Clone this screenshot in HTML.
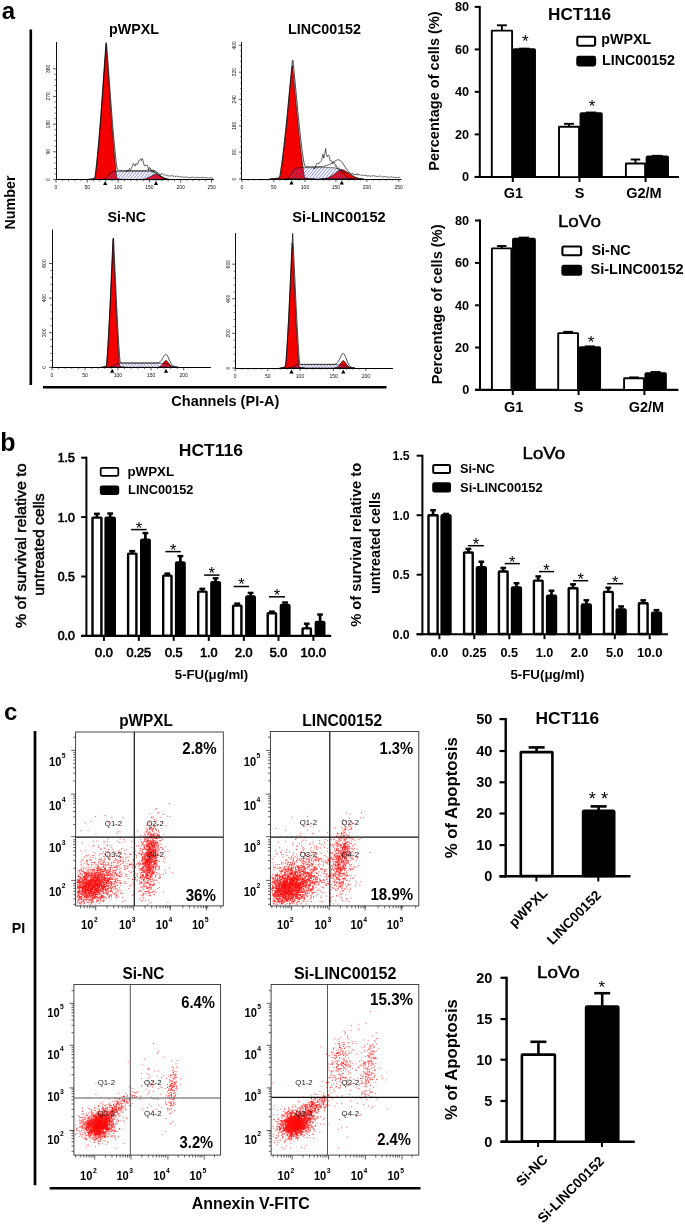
<!DOCTYPE html>
<html lang="en"><head><meta charset="utf-8"><title>Figure</title>
<style>html,body{margin:0;padding:0;background:#fff}svg{display:block}svg{font-family:"Liberation Sans",Arial,Helvetica,sans-serif;font-weight:bold;fill:#000}</style>
</head><body>
<svg width="685" height="1224" viewBox="0 0 685 1224">
<rect width="685" height="1224" fill="#fff"/>
<defs><pattern id="hatch" width="2.4" height="2.4" patternUnits="userSpaceOnUse" patternTransform="rotate(-50)"><line x1="0" y1="1.2" x2="2.4" y2="1.2" stroke="#5a5ae0" stroke-width="0.55"/></pattern><pattern id="hatch2" width="2.4" height="2.4" patternUnits="userSpaceOnUse" patternTransform="rotate(50)"><line x1="0" y1="1.2" x2="2.4" y2="1.2" stroke="#5a5ae0" stroke-width="0.55"/></pattern></defs>
<g id="panel-a">
<text x="1.7" y="18.5" font-size="24">a</text>
<line x1="30.8" y1="29.5" x2="30.8" y2="385" stroke="#000" stroke-width="2.6"/>
<line x1="43" y1="387.3" x2="386.5" y2="387.3" stroke="#000" stroke-width="2.4"/>
<text x="15.2" y="202.5" font-size="14.5" text-anchor="middle" transform="rotate(-90 15.2 202.5)" textLength="54" lengthAdjust="spacingAndGlyphs">Number</text>
<text x="134" y="33.6" font-size="14.4" text-anchor="middle" textLength="50" lengthAdjust="spacingAndGlyphs">pWPXL</text>
<text x="324.5" y="33.6" font-size="14.4" text-anchor="middle" textLength="73" lengthAdjust="spacingAndGlyphs">LINC00152</text>
<text x="126.8" y="221.9" font-size="14.4" text-anchor="middle" textLength="38.5" lengthAdjust="spacingAndGlyphs">Si-NC</text>
<text x="339" y="221.6" font-size="14.4" text-anchor="middle" textLength="93.3" lengthAdjust="spacingAndGlyphs">Si-LINC00152</text>
<text x="225.3" y="406" font-size="14.5" text-anchor="middle" textLength="108" lengthAdjust="spacingAndGlyphs">Channels (PI-A)</text>
<g>
<polygon points="85.5,179.6 85.5,179.5 86,179.5 86.5,179.5 87,179.5 87.5,179.5 88,179.4 88.5,179.4 89,179.4 89.5,179.3 90,179.3 90.5,179.2 91,179.1 91.5,179.1 92,179 92.5,178.9 93,178.7 93.5,178.6 94,178.5 94.5,178.3 95,178.1 95.5,175.4 96,171.2 96.5,166.6 97,161.6 97.5,156.4 98,150.9 98.5,145.2 99,139.3 99.5,133.2 100,126.8 100.5,120.2 101,113.4 101.5,106.4 102,99.3 102.5,92 103,84.7 103.5,77.3 104,70 104.5,62.8 105,55.8 105.5,49 106,42.5 106.5,49 107,55.8 107.5,62.8 108,70 108.5,77.3 109,84.7 109.5,92 110,99.3 110.5,106.4 111,113.4 111.5,120.2 112,126.8 112.5,133.2 113,139.3 113.5,145.2 114,150.9 114.5,156.4 115,161.6 115.5,166.6 116,171.2 116.5,175.4 117,178.1 117.5,178.3 118,178.5 118.5,178.6 119,178.7 119.5,178.9 120,179 120.5,179.1 121,179.1 121.5,179.2 122,179.3 122.5,179.3 123,179.4 123.5,179.4 124,179.4 124.5,179.5 125,179.5 125.5,179.5 126,179.5 126.5,179.5 126.5,179.6" fill="#f40000" stroke="#000" stroke-width="0.6"/>
<polygon points="140.5,179.6 140.5,179.5 141,179.5 141.5,179.5 142,179.5 142.5,179.4 143,179.4 143.5,179.3 144,179.2 144.5,179 145,178.9 145.5,178.8 146,178.6 146.5,178.4 147,178.2 147.5,178 148,177.8 148.5,177.5 149,177.3 149.5,177 150,176.8 150.5,176.5 151,176.2 151.5,175.9 152,175.7 152.5,175.4 153,175.2 153.5,174.9 154,174.7 154.5,174.6 155,174.4 155.5,174.3 156,174.2 156.5,174.3 157,174.4 157.5,174.6 158,174.7 158.5,174.9 159,175.2 159.5,175.4 160,175.7 160.5,175.9 161,176.2 161.5,176.5 162,176.8 162.5,177 163,177.3 163.5,177.5 164,177.8 164.5,178 165,178.2 165.5,178.4 166,178.6 166.5,178.8 167,178.9 167.5,179 168,179.2 168.5,179.3 169,179.4 169.5,179.4 170,179.5 170.5,179.5 171,179.5 171.5,179.5 171.5,179.6" fill="#f40000" stroke="#000" stroke-width="0.7"/>
<polygon points="102,179.6 102,179.5 102.5,179.4 103,179.3 103.5,179.3 104,179.1 104.5,179 105,178.8 105.5,178.5 106,178.2 106.5,177.8 107,177.3 107.5,176.7 108,176.1 108.5,175.5 109,174.8 109.5,174.2 110,173.6 110.5,173.1 111,172.7 111.5,172.4 112,172.1 112.5,171.9 113,171.8 113.5,171.6 114,171.6 114.5,171.5 115,171.4 115.5,171.4 116,171.4 116.5,171.4 117,171.3 117.5,171.3 118,171.3 118.5,171.3 119,171.3 119.5,171.3 120,171.3 120.5,171.3 121,171.3 121.5,171.3 122,171.3 122.5,171.3 123,171.3 123.5,171.3 124,171.3 124.5,171.3 125,171.3 125.5,171.3 126,171.3 126.5,171.3 127,171.3 127.5,171.3 128,171.3 128.5,171.3 129,171.3 129.5,171.3 130,171.3 130.5,171.3 131,171.3 131.5,171.3 132,171.3 132.5,171.3 133,171.3 133.5,171.3 134,171.3 134.5,171.3 135,171.3 135.5,171.3 136,171.3 136.5,171.3 137,171.3 137.5,171.3 138,171.3 138.5,171.3 139,171.3 139.5,171.3 140,171.3 140.5,171.3 141,171.3 141.5,171.3 142,171.3 142.5,171.3 143,171.3 143.5,171.3 144,171.3 144.5,171.3 145,171.3 145.5,171.3 146,171.3 146.5,171.3 147,171.4 147.5,171.4 148,171.4 148.5,171.4 149,171.4 149.5,171.5 150,171.5 150.5,171.5 151,171.6 151.5,171.6 152,171.7 152.5,171.8 153,171.9 153.5,172.1 154,172.2 154.5,172.4 155,172.6 155.5,172.9 156,173.1 156.5,173.5 157,173.8 157.5,174.2 158,174.6 158.5,175 159,175.5 159.5,175.9 160,176.3 160.5,176.7 161,177.1 161.5,177.4 162,177.8 162.5,178 163,178.3 163.5,178.5 164,178.7 164.5,178.8 165,179 165.5,179.1 166,179.2 166.5,179.3 167,179.3 167.5,179.4 168,179.4 168.5,179.4 169,179.5 169,179.6" fill="url(#hatch)" stroke="#000" stroke-width="0.6"/>
<polyline points="87,179.4 87.5,179.4 88,179.3 88.5,179.3 89,179.3 89.5,179.2 90,179.1 90.5,179.1 91,179 91.5,178.9 92,178.8 92.5,178.7 93,178.5 93.5,178.4 94,178.2 94.5,178.1 95,176.4 95.5,172.7 96,168.6 96.5,164.1 97,159.3 97.5,154.3 98,149.2 98.5,143.8 99,138.2 99.5,132.5 100,126.5 100.5,120.4 101,114 101.5,107.5 102,100.9 102.5,94.1 103,87.3 103.5,80.4 104,73.6 104.5,66.8 105,60.1 105.5,53.6 106,47.4 106.5,43.7 107,49.8 107.5,56.2 108,62.8 108.5,69.5 109,76.3 109.5,83.2 110,90 110.5,96.8 111,103.6 111.5,110.1 112,116.6 112.5,122.8 113,128.8 113.5,134.7 114,140.3 114.5,145.8 115,151 115.5,155.9 116,160.6 116.5,164.7 117,168.1 117.5,170.1 118,170.6 118.5,170.6 119,170.6 119.5,170.6 120,170.6 120.5,170.6 121,170.6 121.5,170.6 122,170.6 122.5,170.6 123,170.6 123.5,170.6 124,170.6 124.5,170.6 125,170.6 125.5,170.6 126,170.6 126.5,170.6 127,170.6 127.5,170.6 128,170.6 128.5,170.6 129,170.6 129.5,170.6 130,170.6 130.5,170.6 131,170.6 131.5,170.6 132,170.6 132.5,170.6 133,170.6 133.5,170.6 134,170.6 134.5,170.6 135,170.6 135.5,170.6 136,170.6 136.5,170.6 137,170.6 137.5,170.6 138,170.6 138.5,170.6 139,170.6 139.5,170.6 140,170.6 140.5,170.6 141,170.6 141.5,170.6 142,170.6 142.5,170.6 143,170.6 143.5,170.6 144,170.5 144.5,170.5 145,170.5 145.5,170.5 146,170.4 146.5,170.4 147,170.4 147.5,170.4 148,170.3 148.5,170.3 149,170.3 149.5,170.2 150,170.2 150.5,170.2 151,170.2 151.5,170.2 152,170.3 152.5,170.3 153,170.4 153.5,170.5 154,170.6 154.5,170.8 155,171 155.5,171.3 156,171.6 156.5,171.9 157,172.3 157.5,172.7 158,173.2 158.5,173.7 159,174.2 159.5,174.7 160,175.2 160.5,175.7 161,176.2 161.5,176.6 162,177 162.5,177.3 163,177.7 163.5,178 164,178.2 164.5,178.4 165,178.6 165.5,178.8 166,178.9 166.5,179 167,179.1 167.5,179.2 168,179.3 168.5,179.3 169,179.4 169.5,179.4" fill="none" stroke="#000" stroke-width="0.7"/>
<polyline points="126,172.3 126.9,170.4 127.8,170.5 128.7,170.7 129.6,168.4 130.5,169.8 131.4,168.7 132.3,166.1 133.2,163.4 134.1,164.2 135,166.2 135.9,163.5 136.8,164.4 137.7,164.4 138.6,161 139.5,159.9 140.4,159.2 141.3,160.7 142.2,158.4 143.1,160.8 144,165 144.9,166.2 145.8,164.7 146.7,165.4 147.6,165.5 148.5,170.2 149.4,167.5 150.3,168 151.2,171.2 152.1,170 153,172.3 153.9,170.2 154.8,173 155.7,173.5 156.6,172.2 157.5,172.9 158.4,173.7 159.3,174.1 160.2,174.5 161.1,174.7 162,173.3 162.9,174.5 163.8,175.2 164.7,174.3 165.6,175.2 166.5,175.7 167.4,175.1 168.3,176 169.2,176 170.1,176 171,176 171.9,175.5 172.8,175.8 173.7,176.7 174.6,175.7 175.5,176.8 176.4,175.9 177.3,176.5 178.2,176.2 179.1,177 180,176.8 180.9,176.9 181.8,176.8 182.7,177 183.6,177.1 184.5,177.5 185.4,176.8 186.3,177.2 187.2,177.1 188.1,177.7 189,177.6 189.9,177.6 190.8,177.6 191.7,177.2 192.6,177.1 193.5,177.3 194.4,178.1 195.3,177.5 196.2,177.2 197.1,177.8 198,177.5 198.9,177.4 199.8,177.9 200.7,177.4 201.6,177.5 202.5,177.4 203.4,177.8 204.3,177.4 205.2,177.7 206.1,177.7 207,178 207.9,177.9 208.8,178.1 209.7,177.6 210.6,178 211.5,177.9 212.4,177.9 213.3,178.1" fill="none" stroke="#000" stroke-width="0.6"/>
<line x1="56.5" y1="42" x2="56.5" y2="180" stroke="#111" stroke-width="1"/>
<line x1="56" y1="179.5" x2="214" y2="179.5" stroke="#000" stroke-width="1"/>
<line x1="56" y1="179.6" x2="56" y2="182.6" stroke="#111" stroke-width="0.7"/>
<text x="56" y="189.2" font-size="5" text-anchor="middle" font-weight="normal" fill="#111">0</text>
<line x1="87.3" y1="179.6" x2="87.3" y2="182.6" stroke="#111" stroke-width="0.7"/>
<text x="87.3" y="189.2" font-size="5" text-anchor="middle" font-weight="normal" fill="#111">50</text>
<line x1="118.2" y1="179.6" x2="118.2" y2="182.6" stroke="#111" stroke-width="0.7"/>
<text x="118.2" y="189.2" font-size="5" text-anchor="middle" font-weight="normal" fill="#111">100</text>
<line x1="149.4" y1="179.6" x2="149.4" y2="182.6" stroke="#111" stroke-width="0.7"/>
<text x="149.4" y="189.2" font-size="5" text-anchor="middle" font-weight="normal" fill="#111">150</text>
<line x1="180.7" y1="179.6" x2="180.7" y2="182.6" stroke="#111" stroke-width="0.7"/>
<text x="180.7" y="189.2" font-size="5" text-anchor="middle" font-weight="normal" fill="#111">200</text>
<line x1="211.6" y1="179.6" x2="211.6" y2="182.6" stroke="#111" stroke-width="0.7"/>
<text x="211.6" y="189.2" font-size="5" text-anchor="middle" font-weight="normal" fill="#111">250</text>
<line x1="62.3" y1="179.6" x2="62.3" y2="181.3" stroke="#222" stroke-width="0.6"/>
<line x1="68.5" y1="179.6" x2="68.5" y2="181.3" stroke="#222" stroke-width="0.6"/>
<line x1="74.8" y1="179.6" x2="74.8" y2="181.3" stroke="#222" stroke-width="0.6"/>
<line x1="81" y1="179.6" x2="81" y2="181.3" stroke="#222" stroke-width="0.6"/>
<line x1="93.5" y1="179.6" x2="93.5" y2="181.3" stroke="#222" stroke-width="0.6"/>
<line x1="99.7" y1="179.6" x2="99.7" y2="181.3" stroke="#222" stroke-width="0.6"/>
<line x1="105.8" y1="179.6" x2="105.8" y2="181.3" stroke="#222" stroke-width="0.6"/>
<line x1="112" y1="179.6" x2="112" y2="181.3" stroke="#222" stroke-width="0.6"/>
<line x1="124.4" y1="179.6" x2="124.4" y2="181.3" stroke="#222" stroke-width="0.6"/>
<line x1="130.7" y1="179.6" x2="130.7" y2="181.3" stroke="#222" stroke-width="0.6"/>
<line x1="136.9" y1="179.6" x2="136.9" y2="181.3" stroke="#222" stroke-width="0.6"/>
<line x1="143.2" y1="179.6" x2="143.2" y2="181.3" stroke="#222" stroke-width="0.6"/>
<line x1="155.7" y1="179.6" x2="155.7" y2="181.3" stroke="#222" stroke-width="0.6"/>
<line x1="161.9" y1="179.6" x2="161.9" y2="181.3" stroke="#222" stroke-width="0.6"/>
<line x1="168.2" y1="179.6" x2="168.2" y2="181.3" stroke="#222" stroke-width="0.6"/>
<line x1="174.4" y1="179.6" x2="174.4" y2="181.3" stroke="#222" stroke-width="0.6"/>
<line x1="186.9" y1="179.6" x2="186.9" y2="181.3" stroke="#222" stroke-width="0.6"/>
<line x1="193.1" y1="179.6" x2="193.1" y2="181.3" stroke="#222" stroke-width="0.6"/>
<line x1="199.2" y1="179.6" x2="199.2" y2="181.3" stroke="#222" stroke-width="0.6"/>
<line x1="205.4" y1="179.6" x2="205.4" y2="181.3" stroke="#222" stroke-width="0.6"/>
<line x1="53" y1="179.6" x2="56" y2="179.6" stroke="#111" stroke-width="0.7"/>
<text x="50.4" y="179.6" font-size="5" text-anchor="middle" transform="rotate(-90 50.4 179.6)" font-weight="normal" fill="#111">0</text>
<line x1="53" y1="151.8" x2="56" y2="151.8" stroke="#111" stroke-width="0.7"/>
<text x="50.4" y="151.8" font-size="5" text-anchor="middle" transform="rotate(-90 50.4 151.8)" font-weight="normal" fill="#111">90</text>
<line x1="53" y1="124.2" x2="56" y2="124.2" stroke="#111" stroke-width="0.7"/>
<text x="50.4" y="124.2" font-size="5" text-anchor="middle" transform="rotate(-90 50.4 124.2)" font-weight="normal" fill="#111">180</text>
<line x1="53" y1="96.4" x2="56" y2="96.4" stroke="#111" stroke-width="0.7"/>
<text x="50.4" y="96.4" font-size="5" text-anchor="middle" transform="rotate(-90 50.4 96.4)" font-weight="normal" fill="#111">270</text>
<line x1="53" y1="68.8" x2="56" y2="68.8" stroke="#111" stroke-width="0.7"/>
<text x="50.4" y="68.8" font-size="5" text-anchor="middle" transform="rotate(-90 50.4 68.8)" font-weight="normal" fill="#111">360</text>
<line x1="54.3" y1="174" x2="56" y2="174" stroke="#222" stroke-width="0.6"/>
<line x1="54.3" y1="168.5" x2="56" y2="168.5" stroke="#222" stroke-width="0.6"/>
<line x1="54.3" y1="162.9" x2="56" y2="162.9" stroke="#222" stroke-width="0.6"/>
<line x1="54.3" y1="157.4" x2="56" y2="157.4" stroke="#222" stroke-width="0.6"/>
<line x1="54.3" y1="146.3" x2="56" y2="146.3" stroke="#222" stroke-width="0.6"/>
<line x1="54.3" y1="140.8" x2="56" y2="140.8" stroke="#222" stroke-width="0.6"/>
<line x1="54.3" y1="135.2" x2="56" y2="135.2" stroke="#222" stroke-width="0.6"/>
<line x1="54.3" y1="129.7" x2="56" y2="129.7" stroke="#222" stroke-width="0.6"/>
<line x1="54.3" y1="118.6" x2="56" y2="118.6" stroke="#222" stroke-width="0.6"/>
<line x1="54.3" y1="113.1" x2="56" y2="113.1" stroke="#222" stroke-width="0.6"/>
<line x1="54.3" y1="107.5" x2="56" y2="107.5" stroke="#222" stroke-width="0.6"/>
<line x1="54.3" y1="102" x2="56" y2="102" stroke="#222" stroke-width="0.6"/>
<line x1="54.3" y1="90.9" x2="56" y2="90.9" stroke="#222" stroke-width="0.6"/>
<line x1="54.3" y1="85.4" x2="56" y2="85.4" stroke="#222" stroke-width="0.6"/>
<line x1="54.3" y1="79.8" x2="56" y2="79.8" stroke="#222" stroke-width="0.6"/>
<line x1="54.3" y1="74.3" x2="56" y2="74.3" stroke="#222" stroke-width="0.6"/>
<polygon points="105.2,181 103.1,185 107.3,185" fill="#000"/>
<polygon points="156,181 153.9,185 158.1,185" fill="#000"/>
</g>
<g>
<polygon points="269.4,179 269.4,178.9 269.9,178.9 270.4,178.9 270.9,178.9 271.4,178.9 271.9,178.9 272.4,178.8 272.9,178.8 273.4,178.8 273.9,178.7 274.4,178.7 274.9,178.6 275.4,178.6 275.9,178.5 276.4,178.5 276.9,178.4 277.4,178.3 277.9,178.2 278.4,178.1 278.9,178 279.4,177.9 279.9,177.7 280.4,175.2 280.9,172.1 281.4,168.8 281.9,165.2 282.4,161.4 282.9,157.5 283.4,153.4 283.9,149.2 284.4,144.8 284.9,140.3 285.4,135.6 285.9,130.8 286.4,125.9 286.9,120.8 287.4,115.6 287.9,110.3 288.4,105 288.9,99.6 289.4,94.2 289.9,88.8 290.4,83.5 290.9,78.3 291.4,73.2 291.9,68.3 292.4,65.4 292.9,70.3 293.4,75.2 293.9,80.4 294.4,85.6 294.9,91 295.4,96.4 295.9,101.8 296.4,107.1 296.9,112.5 297.4,117.7 297.9,122.8 298.4,127.9 298.9,132.7 299.4,137.5 299.9,142.1 300.4,146.6 300.9,150.9 301.4,155 301.9,159.1 302.4,162.9 302.9,166.6 303.4,170.1 303.9,173.4 304.4,176.3 304.9,177.8 305.4,177.9 305.9,178 306.4,178.1 306.9,178.2 307.4,178.3 307.9,178.4 308.4,178.5 308.9,178.6 309.4,178.6 309.9,178.7 310.4,178.7 310.9,178.8 311.4,178.8 311.9,178.8 312.4,178.8 312.9,178.9 313.4,178.9 313.9,178.9 314.4,178.9 314.9,178.9 315.4,178.9 315.4,179" fill="#f40000" stroke="#000" stroke-width="0.6"/>
<polygon points="320.4,179 320.4,178.9 320.9,178.9 321.4,178.9 321.9,178.9 322.4,178.9 322.9,178.8 323.4,178.8 323.9,178.7 324.4,178.7 324.9,178.6 325.4,178.5 325.9,178.3 326.4,178.2 326.9,178 327.4,177.9 327.9,177.7 328.4,177.5 328.9,177.2 329.4,177 329.9,176.7 330.4,176.5 330.9,176.2 331.4,175.9 331.9,175.5 332.4,175.2 332.9,174.9 333.4,174.5 333.9,174.1 334.4,173.8 334.9,173.4 335.4,173 335.9,172.7 336.4,172.3 336.9,171.9 337.4,171.6 337.9,171.3 338.4,171 338.9,170.7 339.4,170.4 339.9,170.2 340.4,170 340.9,169.8 341.4,169.7 341.9,169.6 342.4,169.7 342.9,169.9 343.4,170.1 343.9,170.3 344.4,170.5 344.9,170.8 345.4,171.1 345.9,171.4 346.4,171.7 346.9,172.1 347.4,172.4 347.9,172.8 348.4,173.2 348.9,173.6 349.4,173.9 349.9,174.3 350.4,174.7 350.9,175 351.4,175.3 351.9,175.7 352.4,176 352.9,176.3 353.4,176.6 353.9,176.8 354.4,177.1 354.9,177.3 355.4,177.5 355.9,177.7 356.4,177.9 356.9,178.1 357.4,178.3 357.9,178.4 358.4,178.5 358.9,178.6 359.4,178.7 359.9,178.8 360.4,178.8 360.9,178.8 361.4,178.9 361.9,178.9 362.4,178.9 362.9,178.9 363.4,178.9 363.4,179" fill="#f40000" stroke="#000" stroke-width="0.7"/>
<polygon points="284.4,179 284.4,178.9 284.9,178.8 285.4,178.8 285.9,178.7 286.4,178.5 286.9,178.4 287.4,178.2 287.9,177.9 288.4,177.6 288.9,177.1 289.4,176.6 289.9,175.9 290.4,175.2 290.9,174.4 291.4,173.5 291.9,172.6 292.4,171.7 292.9,171 293.4,170.3 293.9,169.7 294.4,169.2 294.9,168.8 295.4,168.5 295.9,168.3 296.4,168.1 296.9,168 297.4,167.9 297.9,167.8 298.4,167.8 298.9,167.7 299.4,167.7 299.9,167.7 300.4,167.6 300.9,167.6 301.4,167.6 301.9,167.6 302.4,167.6 302.9,167.6 303.4,167.6 303.9,167.6 304.4,167.6 304.9,167.6 305.4,167.6 305.9,167.6 306.4,167.6 306.9,167.6 307.4,167.6 307.9,167.6 308.4,167.6 308.9,167.6 309.4,167.6 309.9,167.6 310.4,167.6 310.9,167.6 311.4,167.6 311.9,167.6 312.4,167.6 312.9,167.6 313.4,167.6 313.9,167.6 314.4,167.6 314.9,167.6 315.4,167.6 315.9,167.6 316.4,167.6 316.9,167.6 317.4,167.6 317.9,167.6 318.4,167.6 318.9,167.6 319.4,167.6 319.9,167.6 320.4,167.6 320.9,167.6 321.4,167.6 321.9,167.6 322.4,167.6 322.9,167.6 323.4,167.6 323.9,167.6 324.4,167.6 324.9,167.6 325.4,167.6 325.9,167.6 326.4,167.6 326.9,167.6 327.4,167.6 327.9,167.6 328.4,167.6 328.9,167.6 329.4,167.6 329.9,167.6 330.4,167.7 330.9,167.7 331.4,167.7 331.9,167.7 332.4,167.7 332.9,167.8 333.4,167.8 333.9,167.9 334.4,167.9 334.9,168 335.4,168.1 335.9,168.2 336.4,168.3 336.9,168.4 337.4,168.6 337.9,168.8 338.4,169.1 338.9,169.3 339.4,169.7 339.9,170.1 340.4,170.5 340.9,171 341.4,171.5 341.9,172 342.4,172.6 342.9,173.2 343.4,173.8 343.9,174.4 344.4,174.9 344.9,175.4 345.4,175.9 345.9,176.4 346.4,176.8 346.9,177.1 347.4,177.4 347.9,177.7 348.4,177.9 348.9,178.1 349.4,178.3 349.9,178.4 350.4,178.5 350.9,178.6 351.4,178.7 351.9,178.7 352.4,178.8 352.9,178.8 353.4,178.9 353.9,178.9 353.9,179" fill="url(#hatch)" stroke="#000" stroke-width="0.6"/>
<polyline points="270.9,178.8 271.4,178.8 271.9,178.8 272.4,178.7 272.9,178.7 273.4,178.6 273.9,178.6 274.4,178.5 274.9,178.5 275.4,178.4 275.9,178.3 276.4,178.3 276.9,178.2 277.4,178.1 277.9,178 278.4,177.8 278.9,177.7 279.4,177.6 279.9,175.3 280.4,172.3 280.9,169.1 281.4,165.6 281.9,161.9 282.4,158.1 282.9,154.2 283.4,150.1 283.9,145.9 284.4,141.5 284.9,137 285.4,132.4 285.9,127.7 286.4,122.8 286.9,117.8 287.4,112.7 287.9,107.5 288.4,102.3 288.9,96.9 289.4,91.6 289.9,86.3 290.4,81 290.9,75.9 291.4,70.8 291.9,65.8 292.4,61 292.9,60.1 293.4,64.8 293.9,69.7 294.4,74.8 294.9,80 295.4,85.2 295.9,90.5 296.4,95.8 296.9,101.1 297.4,106.4 297.9,111.5 298.4,116.6 298.9,121.6 299.4,126.5 299.9,131.2 300.4,135.8 300.9,140.2 301.4,144.5 301.9,148.6 302.4,152.4 302.9,156.1 303.4,159.4 303.9,162.3 304.4,164.5 304.9,165.9 305.4,166.5 305.9,166.7 306.4,166.7 306.9,166.7 307.4,166.7 307.9,166.7 308.4,166.7 308.9,166.7 309.4,166.7 309.9,166.7 310.4,166.7 310.9,166.7 311.4,166.7 311.9,166.7 312.4,166.7 312.9,166.7 313.4,166.7 313.9,166.7 314.4,166.7 314.9,166.7 315.4,166.7 315.9,166.7 316.4,166.7 316.9,166.7 317.4,166.7 317.9,166.6 318.4,166.6 318.9,166.6 319.4,166.6 319.9,166.6 320.4,166.6 320.9,166.5 321.4,166.5 321.9,166.4 322.4,166.4 322.9,166.3 323.4,166.3 323.9,166.2 324.4,166.1 324.9,166 325.4,165.9 325.9,165.8 326.4,165.7 326.9,165.5 327.4,165.3 327.9,165.1 328.4,164.9 328.9,164.7 329.4,164.5 329.9,164.2 330.4,163.9 330.9,163.6 331.4,163.3 331.9,163 332.4,162.7 332.9,162.4 333.4,162 333.9,161.7 334.4,161.4 334.9,161 335.4,160.8 335.9,160.5 336.4,160.3 336.9,160.1 337.4,159.9 337.9,159.8 338.4,159.8 338.9,159.9 339.4,160 339.9,160.3 340.4,160.6 340.9,161 341.4,161.5 341.9,162.1 342.4,162.7 342.9,163.4 343.4,164.2 343.9,165 344.4,165.8 344.9,166.6 345.4,167.4 345.9,168.1 346.4,168.9 346.9,169.6 347.4,170.3 347.9,170.9 348.4,171.5 348.9,172.1 349.4,172.7 349.9,173.2 350.4,173.7 350.9,174.2 351.4,174.6 351.9,175 352.4,175.4 352.9,175.8 353.4,176.1 353.9,176.4 354.4,176.7 354.9,177 355.4,177.2 355.9,177.5 356.4,177.6 356.9,177.8 357.4,178 357.9,178.1 358.4,178.2 358.9,178.4 359.4,178.5 359.9,178.5 360.4,178.6 360.9,178.7 361.4,178.7 361.9,178.8 362.4,178.8 362.9,178.8" fill="none" stroke="#000" stroke-width="0.7"/>
<polyline points="313,169.2 313.9,167.7 314.8,168.8 315.7,166.4 316.6,163.6 317.5,163 318.4,164.1 319.3,162.6 320.2,162.3 321.1,161.3 322,158.7 322.9,154.2 323.8,158.2 324.7,154.2 325.6,148.5 326.5,155.1 327.4,156.8 328.3,154.9 329.2,156.3 330.1,160.7 331,160.9 331.9,161.1 332.8,163.7 333.7,162.4 334.6,162.6 335.5,166.4 336.4,165.7 337.3,168.9 338.2,168.4 339.1,167.6 340,170.4 340.9,169.9 341.8,171 342.7,170.7 343.6,172 344.5,172 345.4,173 346.3,172.3 347.2,173.3 348.1,173.4 349,172.7 349.9,172.9 350.8,173.7 351.7,174 352.6,173.1 353.5,174.9 354.4,173.9 355.3,175 356.2,175 357.1,173.6 358,175.1 358.9,174.9 359.8,174.5 360.7,175.4 361.6,175.1 362.5,175.2 363.4,175.2 364.3,175.4 365.2,175.5 366.1,175.5 367,175.7 367.9,176.2 368.8,175.6 369.7,176 370.6,176.3 371.5,175.8 372.4,176 373.3,175.6 374.2,176.1 375.1,176 376,176.1 376.9,176.6 377.8,176.3 378.7,176.7 379.6,176.1 380.5,176.1 381.4,176.4 382.3,177.1 383.2,177 384.1,176.4 385,176.7 385.9,177.1 386.8,176.9 387.7,177.2 388.6,176.9 389.5,177.5 390.4,177 391.3,176.8 392.2,177 393.1,177.4 394,177.4 394.9,177.2 395.8,177.5 396.7,177.4 397.6,177.5 398.5,177.5 399.4,177.2 400.3,177.2" fill="none" stroke="#000" stroke-width="0.6"/>
<line x1="241.5" y1="42" x2="241.5" y2="180" stroke="#111" stroke-width="1"/>
<line x1="241" y1="179.5" x2="401.4" y2="179.5" stroke="#000" stroke-width="1"/>
<line x1="241.9" y1="179" x2="241.9" y2="182" stroke="#111" stroke-width="0.7"/>
<text x="241.9" y="188.6" font-size="5" text-anchor="middle" font-weight="normal" fill="#111">0</text>
<line x1="273.8" y1="179" x2="273.8" y2="182" stroke="#111" stroke-width="0.7"/>
<text x="273.8" y="188.6" font-size="5" text-anchor="middle" font-weight="normal" fill="#111">50</text>
<line x1="305" y1="179" x2="305" y2="182" stroke="#111" stroke-width="0.7"/>
<text x="305" y="188.6" font-size="5" text-anchor="middle" font-weight="normal" fill="#111">100</text>
<line x1="335.9" y1="179" x2="335.9" y2="182" stroke="#111" stroke-width="0.7"/>
<text x="335.9" y="188.6" font-size="5" text-anchor="middle" font-weight="normal" fill="#111">150</text>
<line x1="366.8" y1="179" x2="366.8" y2="182" stroke="#111" stroke-width="0.7"/>
<text x="366.8" y="188.6" font-size="5" text-anchor="middle" font-weight="normal" fill="#111">200</text>
<line x1="398.7" y1="179" x2="398.7" y2="182" stroke="#111" stroke-width="0.7"/>
<text x="398.7" y="188.6" font-size="5" text-anchor="middle" font-weight="normal" fill="#111">250</text>
<line x1="248.3" y1="179" x2="248.3" y2="180.7" stroke="#222" stroke-width="0.6"/>
<line x1="254.7" y1="179" x2="254.7" y2="180.7" stroke="#222" stroke-width="0.6"/>
<line x1="261" y1="179" x2="261" y2="180.7" stroke="#222" stroke-width="0.6"/>
<line x1="267.4" y1="179" x2="267.4" y2="180.7" stroke="#222" stroke-width="0.6"/>
<line x1="280" y1="179" x2="280" y2="180.7" stroke="#222" stroke-width="0.6"/>
<line x1="286.3" y1="179" x2="286.3" y2="180.7" stroke="#222" stroke-width="0.6"/>
<line x1="292.5" y1="179" x2="292.5" y2="180.7" stroke="#222" stroke-width="0.6"/>
<line x1="298.8" y1="179" x2="298.8" y2="180.7" stroke="#222" stroke-width="0.6"/>
<line x1="311.2" y1="179" x2="311.2" y2="180.7" stroke="#222" stroke-width="0.6"/>
<line x1="317.4" y1="179" x2="317.4" y2="180.7" stroke="#222" stroke-width="0.6"/>
<line x1="323.5" y1="179" x2="323.5" y2="180.7" stroke="#222" stroke-width="0.6"/>
<line x1="329.7" y1="179" x2="329.7" y2="180.7" stroke="#222" stroke-width="0.6"/>
<line x1="342.1" y1="179" x2="342.1" y2="180.7" stroke="#222" stroke-width="0.6"/>
<line x1="348.3" y1="179" x2="348.3" y2="180.7" stroke="#222" stroke-width="0.6"/>
<line x1="354.4" y1="179" x2="354.4" y2="180.7" stroke="#222" stroke-width="0.6"/>
<line x1="360.6" y1="179" x2="360.6" y2="180.7" stroke="#222" stroke-width="0.6"/>
<line x1="373.2" y1="179" x2="373.2" y2="180.7" stroke="#222" stroke-width="0.6"/>
<line x1="379.6" y1="179" x2="379.6" y2="180.7" stroke="#222" stroke-width="0.6"/>
<line x1="385.9" y1="179" x2="385.9" y2="180.7" stroke="#222" stroke-width="0.6"/>
<line x1="392.3" y1="179" x2="392.3" y2="180.7" stroke="#222" stroke-width="0.6"/>
<line x1="238.9" y1="179" x2="241.9" y2="179" stroke="#111" stroke-width="0.7"/>
<text x="236.3" y="179" font-size="5" text-anchor="middle" transform="rotate(-90 236.3 179)" font-weight="normal" fill="#111">0</text>
<line x1="238.9" y1="152.1" x2="241.9" y2="152.1" stroke="#111" stroke-width="0.7"/>
<text x="236.3" y="152.1" font-size="5" text-anchor="middle" transform="rotate(-90 236.3 152.1)" font-weight="normal" fill="#111">80</text>
<line x1="238.9" y1="125.9" x2="241.9" y2="125.9" stroke="#111" stroke-width="0.7"/>
<text x="236.3" y="125.9" font-size="5" text-anchor="middle" transform="rotate(-90 236.3 125.9)" font-weight="normal" fill="#111">160</text>
<line x1="238.9" y1="99.4" x2="241.9" y2="99.4" stroke="#111" stroke-width="0.7"/>
<text x="236.3" y="99.4" font-size="5" text-anchor="middle" transform="rotate(-90 236.3 99.4)" font-weight="normal" fill="#111">240</text>
<line x1="238.9" y1="72.2" x2="241.9" y2="72.2" stroke="#111" stroke-width="0.7"/>
<text x="236.3" y="72.2" font-size="5" text-anchor="middle" transform="rotate(-90 236.3 72.2)" font-weight="normal" fill="#111">320</text>
<line x1="238.9" y1="45.3" x2="241.9" y2="45.3" stroke="#111" stroke-width="0.7"/>
<text x="236.3" y="45.3" font-size="5" text-anchor="middle" transform="rotate(-90 236.3 45.3)" font-weight="normal" fill="#111">400</text>
<line x1="240.2" y1="173.6" x2="241.9" y2="173.6" stroke="#222" stroke-width="0.6"/>
<line x1="240.2" y1="168.2" x2="241.9" y2="168.2" stroke="#222" stroke-width="0.6"/>
<line x1="240.2" y1="162.9" x2="241.9" y2="162.9" stroke="#222" stroke-width="0.6"/>
<line x1="240.2" y1="157.5" x2="241.9" y2="157.5" stroke="#222" stroke-width="0.6"/>
<line x1="240.2" y1="146.9" x2="241.9" y2="146.9" stroke="#222" stroke-width="0.6"/>
<line x1="240.2" y1="141.6" x2="241.9" y2="141.6" stroke="#222" stroke-width="0.6"/>
<line x1="240.2" y1="136.4" x2="241.9" y2="136.4" stroke="#222" stroke-width="0.6"/>
<line x1="240.2" y1="131.1" x2="241.9" y2="131.1" stroke="#222" stroke-width="0.6"/>
<line x1="240.2" y1="120.6" x2="241.9" y2="120.6" stroke="#222" stroke-width="0.6"/>
<line x1="240.2" y1="115.3" x2="241.9" y2="115.3" stroke="#222" stroke-width="0.6"/>
<line x1="240.2" y1="110" x2="241.9" y2="110" stroke="#222" stroke-width="0.6"/>
<line x1="240.2" y1="104.7" x2="241.9" y2="104.7" stroke="#222" stroke-width="0.6"/>
<line x1="240.2" y1="94" x2="241.9" y2="94" stroke="#222" stroke-width="0.6"/>
<line x1="240.2" y1="88.5" x2="241.9" y2="88.5" stroke="#222" stroke-width="0.6"/>
<line x1="240.2" y1="83.1" x2="241.9" y2="83.1" stroke="#222" stroke-width="0.6"/>
<line x1="240.2" y1="77.6" x2="241.9" y2="77.6" stroke="#222" stroke-width="0.6"/>
<line x1="240.2" y1="66.8" x2="241.9" y2="66.8" stroke="#222" stroke-width="0.6"/>
<line x1="240.2" y1="61.4" x2="241.9" y2="61.4" stroke="#222" stroke-width="0.6"/>
<line x1="240.2" y1="56.1" x2="241.9" y2="56.1" stroke="#222" stroke-width="0.6"/>
<line x1="240.2" y1="50.7" x2="241.9" y2="50.7" stroke="#222" stroke-width="0.6"/>
<polygon points="291.5,180.4 289.4,184.4 293.6,184.4" fill="#000"/>
<polygon points="341.8,180.4 339.7,184.4 343.9,184.4" fill="#000"/>
</g>
<g>
<polygon points="101,367.3 101,367.2 101.5,367.2 102,367.2 102.5,367.1 103,367.1 103.5,367 104,366.9 104.5,366.7 105,366.6 105.5,366.4 106,366.1 106.5,365.9 107,359.9 107.5,352.5 108,344.3 108.5,335.5 109,326.1 109.5,316.1 110,305.6 110.5,294.5 111,283.1 111.5,271.5 112,260.1 112.5,249 113,238.6 113.5,249 114,260.1 114.5,271.5 115,283.1 115.5,294.5 116,305.6 116.5,316.1 117,326.1 117.5,335.5 118,344.3 118.5,352.5 119,359.9 119.5,365.9 120,366.1 120.5,366.4 121,366.6 121.5,366.7 122,366.9 122.5,367 123,367.1 123.5,367.1 124,367.2 124.5,367.2 125,367.2 125,367.3" fill="#f40000" stroke="#000" stroke-width="0.6"/>
<polygon points="158,367.3 158,367.2 158.5,367.2 159,367.1 159.5,366.9 160,366.6 160.5,366.3 161,365.9 161.5,365.4 162,364.8 162.5,364.2 163,363.6 163.5,362.9 164,362.2 164.5,361.6 165,361.1 165.5,360.7 166,360.5 166.5,360.7 167,361.1 167.5,361.6 168,362.2 168.5,362.9 169,363.6 169.5,364.2 170,364.8 170.5,365.4 171,365.9 171.5,366.3 172,366.6 172.5,366.9 173,367.1 173.5,367.2 174,367.2 174,367.3" fill="#f40000" stroke="#000" stroke-width="0.7"/>
<polygon points="109,367.3 109,367.2 109.5,367.1 110,367.1 110.5,367 111,366.9 111.5,366.8 112,366.6 112.5,366.4 113,366.1 113.5,365.9 114,365.6 114.5,365.3 115,364.9 115.5,364.6 116,364.4 116.5,364.1 117,363.9 117.5,363.7 118,363.6 118.5,363.5 119,363.4 119.5,363.4 120,363.3 120.5,363.3 121,363.3 121.5,363.3 122,363.2 122.5,363.2 123,363.2 123.5,363.2 124,363.2 124.5,363.2 125,363.2 125.5,363.2 126,363.2 126.5,363.2 127,363.2 127.5,363.2 128,363.2 128.5,363.2 129,363.2 129.5,363.2 130,363.2 130.5,363.2 131,363.2 131.5,363.2 132,363.2 132.5,363.2 133,363.2 133.5,363.2 134,363.2 134.5,363.2 135,363.2 135.5,363.2 136,363.2 136.5,363.2 137,363.2 137.5,363.2 138,363.2 138.5,363.2 139,363.2 139.5,363.2 140,363.2 140.5,363.2 141,363.2 141.5,363.2 142,363.2 142.5,363.2 143,363.2 143.5,363.2 144,363.2 144.5,363.2 145,363.2 145.5,363.2 146,363.2 146.5,363.2 147,363.2 147.5,363.2 148,363.2 148.5,363.2 149,363.2 149.5,363.2 150,363.2 150.5,363.2 151,363.2 151.5,363.2 152,363.2 152.5,363.2 153,363.2 153.5,363.2 154,363.2 154.5,363.2 155,363.2 155.5,363.2 156,363.2 156.5,363.2 157,363.2 157.5,363.2 158,363.2 158.5,363.2 159,363.2 159.5,363.3 160,363.3 160.5,363.3 161,363.3 161.5,363.3 162,363.3 162.5,363.4 163,363.4 163.5,363.5 164,363.5 164.5,363.6 165,363.7 165.5,363.7 166,363.9 166.5,364 167,364.1 167.5,364.3 168,364.4 168.5,364.6 169,364.8 169.5,365 170,365.2 170.5,365.5 171,365.7 171.5,365.9 172,366.1 172.5,366.2 173,366.4 173.5,366.5 174,366.6 174.5,366.8 175,366.8 175.5,366.9 176,367 176.5,367 177,367.1 177.5,367.1 178,367.2 178,367.3" fill="url(#hatch2)" stroke="#000" stroke-width="0.6"/>
<polyline points="102,367.1 102.5,367 103,367 103.5,366.9 104,366.8 104.5,366.6 105,366.4 105.5,366.2 106,366 106.5,365.3 107,359.4 107.5,352.4 108,344.6 108.5,336.3 109,327.5 109.5,318.1 110,308.2 110.5,297.8 111,287.1 111.5,276.1 112,265.1 112.5,254.3 113,243.9 113.5,238 114,248 114.5,258.6 115,269.5 115.5,280.5 116,291.4 116.5,302 117,312.2 117.5,321.9 118,331 118.5,339.7 119,347.7 119.5,355.1 120,361.2 120.5,362.9 121,362.9 121.5,362.9 122,362.9 122.5,362.9 123,362.9 123.5,362.9 124,362.9 124.5,362.9 125,362.9 125.5,362.9 126,362.9 126.5,362.9 127,362.9 127.5,362.9 128,362.9 128.5,362.9 129,362.9 129.5,362.9 130,362.9 130.5,362.9 131,362.9 131.5,362.9 132,362.9 132.5,362.9 133,362.9 133.5,362.9 134,362.9 134.5,362.9 135,362.9 135.5,362.9 136,362.9 136.5,362.9 137,362.9 137.5,362.9 138,362.9 138.5,362.9 139,362.9 139.5,362.9 140,362.9 140.5,362.9 141,362.9 141.5,362.9 142,362.9 142.5,362.9 143,362.9 143.5,362.9 144,362.9 144.5,362.9 145,362.9 145.5,362.9 146,362.9 146.5,362.9 147,362.9 147.5,362.9 148,362.9 148.5,362.9 149,362.9 149.5,362.9 150,362.9 150.5,362.9 151,362.9 151.5,362.9 152,362.9 152.5,362.9 153,362.9 153.5,362.9 154,362.9 154.5,362.9 155,362.9 155.5,362.9 156,362.9 156.5,362.8 157,362.8 157.5,362.8 158,362.7 158.5,362.6 159,362.4 159.5,362.1 160,361.8 160.5,361.4 161,360.8 161.5,360.2 162,359.4 162.5,358.5 163,357.6 163.5,356.8 164,355.9 164.5,355.2 165,354.7 165.5,354.4 166,354.4 166.5,354.7 167,355.2 167.5,356 168,356.9 168.5,358 169,359.2 169.5,360.3 170,361.4 170.5,362.5 171,363.4 171.5,364.2 172,364.8 172.5,365.3 173,365.8 173.5,366.1 174,366.4 174.5,366.6 175,366.7 175.5,366.8 176,366.9 176.5,367 177,367.1 177.5,367.1 178,367.1" fill="none" stroke="#000" stroke-width="0.7"/>
<line x1="52.5" y1="229.6" x2="52.5" y2="368" stroke="#111" stroke-width="1"/>
<line x1="52" y1="367.5" x2="210.9" y2="367.5" stroke="#000" stroke-width="1"/>
<line x1="52" y1="367.3" x2="52" y2="370.3" stroke="#111" stroke-width="0.7"/>
<text x="52" y="376.9" font-size="5" text-anchor="middle" font-weight="normal" fill="#111">0</text>
<line x1="85" y1="367.3" x2="85" y2="370.3" stroke="#111" stroke-width="0.7"/>
<text x="85" y="376.9" font-size="5" text-anchor="middle" font-weight="normal" fill="#111">50</text>
<line x1="117.9" y1="367.3" x2="117.9" y2="370.3" stroke="#111" stroke-width="0.7"/>
<text x="117.9" y="376.9" font-size="5" text-anchor="middle" font-weight="normal" fill="#111">100</text>
<line x1="151.1" y1="367.3" x2="151.1" y2="370.3" stroke="#111" stroke-width="0.7"/>
<text x="151.1" y="376.9" font-size="5" text-anchor="middle" font-weight="normal" fill="#111">150</text>
<line x1="183.7" y1="367.3" x2="183.7" y2="370.3" stroke="#111" stroke-width="0.7"/>
<text x="183.7" y="376.9" font-size="5" text-anchor="middle" font-weight="normal" fill="#111">200</text>
<line x1="58.6" y1="367.3" x2="58.6" y2="369" stroke="#222" stroke-width="0.6"/>
<line x1="65.2" y1="367.3" x2="65.2" y2="369" stroke="#222" stroke-width="0.6"/>
<line x1="71.8" y1="367.3" x2="71.8" y2="369" stroke="#222" stroke-width="0.6"/>
<line x1="78.4" y1="367.3" x2="78.4" y2="369" stroke="#222" stroke-width="0.6"/>
<line x1="91.6" y1="367.3" x2="91.6" y2="369" stroke="#222" stroke-width="0.6"/>
<line x1="98.2" y1="367.3" x2="98.2" y2="369" stroke="#222" stroke-width="0.6"/>
<line x1="104.7" y1="367.3" x2="104.7" y2="369" stroke="#222" stroke-width="0.6"/>
<line x1="111.3" y1="367.3" x2="111.3" y2="369" stroke="#222" stroke-width="0.6"/>
<line x1="124.5" y1="367.3" x2="124.5" y2="369" stroke="#222" stroke-width="0.6"/>
<line x1="131.2" y1="367.3" x2="131.2" y2="369" stroke="#222" stroke-width="0.6"/>
<line x1="137.8" y1="367.3" x2="137.8" y2="369" stroke="#222" stroke-width="0.6"/>
<line x1="144.5" y1="367.3" x2="144.5" y2="369" stroke="#222" stroke-width="0.6"/>
<line x1="157.6" y1="367.3" x2="157.6" y2="369" stroke="#222" stroke-width="0.6"/>
<line x1="164.1" y1="367.3" x2="164.1" y2="369" stroke="#222" stroke-width="0.6"/>
<line x1="170.7" y1="367.3" x2="170.7" y2="369" stroke="#222" stroke-width="0.6"/>
<line x1="177.2" y1="367.3" x2="177.2" y2="369" stroke="#222" stroke-width="0.6"/>
<line x1="49" y1="367.3" x2="52" y2="367.3" stroke="#111" stroke-width="0.7"/>
<text x="46.4" y="367.3" font-size="5" text-anchor="middle" transform="rotate(-90 46.4 367.3)" font-weight="normal" fill="#111">0</text>
<line x1="49" y1="332.7" x2="52" y2="332.7" stroke="#111" stroke-width="0.7"/>
<text x="46.4" y="332.7" font-size="5" text-anchor="middle" transform="rotate(-90 46.4 332.7)" font-weight="normal" fill="#111">200</text>
<line x1="49" y1="298.1" x2="52" y2="298.1" stroke="#111" stroke-width="0.7"/>
<text x="46.4" y="298.1" font-size="5" text-anchor="middle" transform="rotate(-90 46.4 298.1)" font-weight="normal" fill="#111">400</text>
<line x1="49" y1="263.5" x2="52" y2="263.5" stroke="#111" stroke-width="0.7"/>
<text x="46.4" y="263.5" font-size="5" text-anchor="middle" transform="rotate(-90 46.4 263.5)" font-weight="normal" fill="#111">600</text>
<line x1="50.3" y1="360.4" x2="52" y2="360.4" stroke="#222" stroke-width="0.6"/>
<line x1="50.3" y1="353.5" x2="52" y2="353.5" stroke="#222" stroke-width="0.6"/>
<line x1="50.3" y1="346.5" x2="52" y2="346.5" stroke="#222" stroke-width="0.6"/>
<line x1="50.3" y1="339.6" x2="52" y2="339.6" stroke="#222" stroke-width="0.6"/>
<line x1="50.3" y1="325.8" x2="52" y2="325.8" stroke="#222" stroke-width="0.6"/>
<line x1="50.3" y1="318.9" x2="52" y2="318.9" stroke="#222" stroke-width="0.6"/>
<line x1="50.3" y1="311.9" x2="52" y2="311.9" stroke="#222" stroke-width="0.6"/>
<line x1="50.3" y1="305" x2="52" y2="305" stroke="#222" stroke-width="0.6"/>
<line x1="50.3" y1="291.2" x2="52" y2="291.2" stroke="#222" stroke-width="0.6"/>
<line x1="50.3" y1="284.3" x2="52" y2="284.3" stroke="#222" stroke-width="0.6"/>
<line x1="50.3" y1="277.3" x2="52" y2="277.3" stroke="#222" stroke-width="0.6"/>
<line x1="50.3" y1="270.4" x2="52" y2="270.4" stroke="#222" stroke-width="0.6"/>
<polygon points="112.2,368.7 110.1,372.7 114.3,372.7" fill="#000"/>
<polygon points="166,368.7 163.9,372.7 168.1,372.7" fill="#000"/>
</g>
<g>
<polygon points="279.7,368 279.7,367.9 280.2,367.9 280.7,367.9 281.2,367.9 281.7,367.8 282.2,367.7 282.7,367.6 283.2,367.5 283.7,367.4 284.2,367.2 284.7,367 285.2,366.8 285.7,365.7 286.2,359.6 286.7,352.4 287.2,344.5 287.7,336 288.2,326.9 288.7,317.4 289.2,307.3 289.7,296.7 290.2,285.7 290.7,274.7 291.2,263.7 291.7,253 292.2,242.9 292.7,248.9 293.2,259.4 293.7,270.2 294.2,281.3 294.7,292.3 295.2,303.1 295.7,313.4 296.2,323.2 296.7,332.4 297.2,341.1 297.7,349.3 298.2,356.8 298.7,363.5 299.2,366.7 299.7,366.9 300.2,367.2 300.7,367.3 301.2,367.5 301.7,367.6 302.2,367.7 302.7,367.8 303.2,367.8 303.7,367.9 304.2,367.9 304.7,367.9 304.7,368" fill="#f40000" stroke="#000" stroke-width="0.6"/>
<polygon points="334.7,368 334.7,367.9 335.2,367.9 335.7,367.8 336.2,367.7 336.7,367.5 337.2,367.2 337.7,366.9 338.2,366.4 338.7,365.9 339.2,365.3 339.7,364.7 340.2,364 340.7,363.3 341.2,362.6 341.7,361.9 342.2,361.4 342.7,360.9 343.2,360.6 343.7,360.8 344.2,361.2 344.7,361.7 345.2,362.3 345.7,363 346.2,363.7 346.7,364.4 347.2,365.1 347.7,365.7 348.2,366.2 348.7,366.7 349.2,367.1 349.7,367.4 350.2,367.7 350.7,367.8 351.2,367.9 351.7,367.9 351.7,368" fill="#f40000" stroke="#000" stroke-width="0.7"/>
<polygon points="288.7,368 288.7,367.8 289.2,367.8 289.7,367.7 290.2,367.6 290.7,367.5 291.2,367.3 291.7,367.2 292.2,367 292.7,366.7 293.2,366.5 293.7,366.2 294.2,365.9 294.7,365.7 295.2,365.5 295.7,365.3 296.2,365.1 296.7,365 297.2,364.9 297.7,364.8 298.2,364.8 298.7,364.7 299.2,364.7 299.7,364.7 300.2,364.7 300.7,364.6 301.2,364.6 301.7,364.6 302.2,364.6 302.7,364.6 303.2,364.6 303.7,364.6 304.2,364.6 304.7,364.6 305.2,364.6 305.7,364.6 306.2,364.6 306.7,364.6 307.2,364.6 307.7,364.6 308.2,364.6 308.7,364.6 309.2,364.6 309.7,364.6 310.2,364.6 310.7,364.6 311.2,364.6 311.7,364.6 312.2,364.6 312.7,364.6 313.2,364.6 313.7,364.6 314.2,364.6 314.7,364.6 315.2,364.6 315.7,364.6 316.2,364.6 316.7,364.6 317.2,364.6 317.7,364.6 318.2,364.6 318.7,364.6 319.2,364.6 319.7,364.6 320.2,364.6 320.7,364.6 321.2,364.6 321.7,364.6 322.2,364.6 322.7,364.6 323.2,364.6 323.7,364.6 324.2,364.6 324.7,364.6 325.2,364.6 325.7,364.6 326.2,364.6 326.7,364.6 327.2,364.6 327.7,364.6 328.2,364.6 328.7,364.6 329.2,364.6 329.7,364.6 330.2,364.6 330.7,364.6 331.2,364.6 331.7,364.6 332.2,364.6 332.7,364.6 333.2,364.6 333.7,364.6 334.2,364.6 334.7,364.6 335.2,364.6 335.7,364.6 336.2,364.6 336.7,364.6 337.2,364.7 337.7,364.7 338.2,364.7 338.7,364.7 339.2,364.7 339.7,364.8 340.2,364.8 340.7,364.8 341.2,364.9 341.7,364.9 342.2,365 342.7,365.1 343.2,365.2 343.7,365.3 344.2,365.4 344.7,365.5 345.2,365.7 345.7,365.9 346.2,366 346.7,366.2 347.2,366.4 347.7,366.5 348.2,366.7 348.7,366.9 349.2,367 349.7,367.2 350.2,367.3 350.7,367.4 351.2,367.5 351.7,367.6 352.2,367.7 352.7,367.7 353.2,367.8 353.7,367.8 354.2,367.8 354.7,367.9 354.7,368" fill="url(#hatch2)" stroke="#000" stroke-width="0.6"/>
<polyline points="280.7,367.8 281.2,367.8 281.7,367.7 282.2,367.6 282.7,367.5 283.2,367.4 283.7,367.2 284.2,367.1 284.7,366.8 285.2,366.6 285.7,364.8 286.2,358.6 286.7,351.5 287.2,343.7 287.7,335.3 288.2,326.5 288.7,317.1 289.2,307.3 289.7,297 290.2,286.3 290.7,275.4 291.2,264.4 291.7,253.6 292.2,243.2 292.7,233.4 293.2,243.2 293.7,253.6 294.2,264.4 294.7,275.4 295.2,286.3 295.7,297 296.2,307.3 296.7,317.1 297.2,326.5 297.7,335.3 298.2,343.6 298.7,351.4 299.2,358.5 299.7,363.7 300.2,364.3 300.7,364.3 301.2,364.3 301.7,364.3 302.2,364.3 302.7,364.3 303.2,364.3 303.7,364.3 304.2,364.3 304.7,364.3 305.2,364.3 305.7,364.3 306.2,364.3 306.7,364.3 307.2,364.3 307.7,364.3 308.2,364.3 308.7,364.3 309.2,364.3 309.7,364.3 310.2,364.3 310.7,364.3 311.2,364.3 311.7,364.3 312.2,364.3 312.7,364.3 313.2,364.3 313.7,364.3 314.2,364.3 314.7,364.3 315.2,364.3 315.7,364.3 316.2,364.3 316.7,364.3 317.2,364.3 317.7,364.3 318.2,364.3 318.7,364.3 319.2,364.3 319.7,364.3 320.2,364.3 320.7,364.3 321.2,364.3 321.7,364.3 322.2,364.3 322.7,364.3 323.2,364.3 323.7,364.3 324.2,364.3 324.7,364.3 325.2,364.3 325.7,364.3 326.2,364.3 326.7,364.3 327.2,364.3 327.7,364.3 328.2,364.3 328.7,364.3 329.2,364.3 329.7,364.3 330.2,364.3 330.7,364.3 331.2,364.3 331.7,364.3 332.2,364.3 332.7,364.3 333.2,364.3 333.7,364.3 334.2,364.2 334.7,364.1 335.2,364 335.7,363.9 336.2,363.6 336.7,363.3 337.2,362.9 337.7,362.3 338.2,361.7 338.7,360.8 339.2,359.9 339.7,358.8 340.2,357.7 340.7,356.7 341.2,355.6 341.7,354.7 342.2,354 342.7,353.6 343.2,353.5 343.7,353.7 344.2,354.2 344.7,355 345.2,356.1 345.7,357.3 346.2,358.6 346.7,360 347.2,361.2 347.7,362.5 348.2,363.5 348.7,364.5 349.2,365.2 349.7,365.9 350.2,366.4 350.7,366.8 351.2,367.1 351.7,367.3 352.2,367.5 352.7,367.6 353.2,367.7 353.7,367.8 354.2,367.8 354.7,367.8" fill="none" stroke="#000" stroke-width="0.7"/>
<line x1="235.5" y1="233" x2="235.5" y2="369" stroke="#111" stroke-width="1"/>
<line x1="235" y1="368.5" x2="393" y2="368.5" stroke="#000" stroke-width="1"/>
<line x1="235.2" y1="368" x2="235.2" y2="371" stroke="#111" stroke-width="0.7"/>
<text x="235.2" y="377.6" font-size="5" text-anchor="middle" font-weight="normal" fill="#111">0</text>
<line x1="267.8" y1="368" x2="267.8" y2="371" stroke="#111" stroke-width="0.7"/>
<text x="267.8" y="377.6" font-size="5" text-anchor="middle" font-weight="normal" fill="#111">50</text>
<line x1="300" y1="368" x2="300" y2="371" stroke="#111" stroke-width="0.7"/>
<text x="300" y="377.6" font-size="5" text-anchor="middle" font-weight="normal" fill="#111">100</text>
<line x1="333.6" y1="368" x2="333.6" y2="371" stroke="#111" stroke-width="0.7"/>
<text x="333.6" y="377.6" font-size="5" text-anchor="middle" font-weight="normal" fill="#111">150</text>
<line x1="365.8" y1="368" x2="365.8" y2="371" stroke="#111" stroke-width="0.7"/>
<text x="365.8" y="377.6" font-size="5" text-anchor="middle" font-weight="normal" fill="#111">200</text>
<line x1="241.7" y1="368" x2="241.7" y2="369.7" stroke="#222" stroke-width="0.6"/>
<line x1="248.2" y1="368" x2="248.2" y2="369.7" stroke="#222" stroke-width="0.6"/>
<line x1="254.8" y1="368" x2="254.8" y2="369.7" stroke="#222" stroke-width="0.6"/>
<line x1="261.3" y1="368" x2="261.3" y2="369.7" stroke="#222" stroke-width="0.6"/>
<line x1="274.2" y1="368" x2="274.2" y2="369.7" stroke="#222" stroke-width="0.6"/>
<line x1="280.7" y1="368" x2="280.7" y2="369.7" stroke="#222" stroke-width="0.6"/>
<line x1="287.1" y1="368" x2="287.1" y2="369.7" stroke="#222" stroke-width="0.6"/>
<line x1="293.6" y1="368" x2="293.6" y2="369.7" stroke="#222" stroke-width="0.6"/>
<line x1="306.7" y1="368" x2="306.7" y2="369.7" stroke="#222" stroke-width="0.6"/>
<line x1="313.4" y1="368" x2="313.4" y2="369.7" stroke="#222" stroke-width="0.6"/>
<line x1="320.2" y1="368" x2="320.2" y2="369.7" stroke="#222" stroke-width="0.6"/>
<line x1="326.9" y1="368" x2="326.9" y2="369.7" stroke="#222" stroke-width="0.6"/>
<line x1="340" y1="368" x2="340" y2="369.7" stroke="#222" stroke-width="0.6"/>
<line x1="346.5" y1="368" x2="346.5" y2="369.7" stroke="#222" stroke-width="0.6"/>
<line x1="352.9" y1="368" x2="352.9" y2="369.7" stroke="#222" stroke-width="0.6"/>
<line x1="359.4" y1="368" x2="359.4" y2="369.7" stroke="#222" stroke-width="0.6"/>
<line x1="232.2" y1="368" x2="235.2" y2="368" stroke="#111" stroke-width="0.7"/>
<text x="229.6" y="368" font-size="5" text-anchor="middle" transform="rotate(-90 229.6 368)" font-weight="normal" fill="#111">0</text>
<line x1="232.2" y1="333.3" x2="235.2" y2="333.3" stroke="#111" stroke-width="0.7"/>
<text x="229.6" y="333.3" font-size="5" text-anchor="middle" transform="rotate(-90 229.6 333.3)" font-weight="normal" fill="#111">200</text>
<line x1="232.2" y1="298.8" x2="235.2" y2="298.8" stroke="#111" stroke-width="0.7"/>
<text x="229.6" y="298.8" font-size="5" text-anchor="middle" transform="rotate(-90 229.6 298.8)" font-weight="normal" fill="#111">400</text>
<line x1="232.2" y1="264.2" x2="235.2" y2="264.2" stroke="#111" stroke-width="0.7"/>
<text x="229.6" y="264.2" font-size="5" text-anchor="middle" transform="rotate(-90 229.6 264.2)" font-weight="normal" fill="#111">600</text>
<line x1="233.5" y1="361.1" x2="235.2" y2="361.1" stroke="#222" stroke-width="0.6"/>
<line x1="233.5" y1="354.1" x2="235.2" y2="354.1" stroke="#222" stroke-width="0.6"/>
<line x1="233.5" y1="347.2" x2="235.2" y2="347.2" stroke="#222" stroke-width="0.6"/>
<line x1="233.5" y1="340.2" x2="235.2" y2="340.2" stroke="#222" stroke-width="0.6"/>
<line x1="233.5" y1="326.4" x2="235.2" y2="326.4" stroke="#222" stroke-width="0.6"/>
<line x1="233.5" y1="319.5" x2="235.2" y2="319.5" stroke="#222" stroke-width="0.6"/>
<line x1="233.5" y1="312.6" x2="235.2" y2="312.6" stroke="#222" stroke-width="0.6"/>
<line x1="233.5" y1="305.7" x2="235.2" y2="305.7" stroke="#222" stroke-width="0.6"/>
<line x1="233.5" y1="291.9" x2="235.2" y2="291.9" stroke="#222" stroke-width="0.6"/>
<line x1="233.5" y1="285" x2="235.2" y2="285" stroke="#222" stroke-width="0.6"/>
<line x1="233.5" y1="278" x2="235.2" y2="278" stroke="#222" stroke-width="0.6"/>
<line x1="233.5" y1="271.1" x2="235.2" y2="271.1" stroke="#222" stroke-width="0.6"/>
<polygon points="291.5,369.4 289.4,373.4 293.6,373.4" fill="#000"/>
<polygon points="343.3,369.4 341.2,373.4 345.4,373.4" fill="#000"/>
</g>
<line x1="479.8" y1="5.9" x2="479.8" y2="178" stroke="#000" stroke-width="2"/>
<line x1="474.7" y1="177" x2="679" y2="177" stroke="#000" stroke-width="2.1"/>
<line x1="474.7" y1="6.9" x2="479.8" y2="6.9" stroke="#000" stroke-width="2"/>
<text x="469" y="11.2" font-size="12.7" text-anchor="end">80</text>
<line x1="474.7" y1="49.4" x2="479.8" y2="49.4" stroke="#000" stroke-width="2"/>
<text x="469" y="53.7" font-size="12.7" text-anchor="end">60</text>
<line x1="474.7" y1="91.8" x2="479.8" y2="91.8" stroke="#000" stroke-width="2"/>
<text x="469" y="96.1" font-size="12.7" text-anchor="end">40</text>
<line x1="474.7" y1="134.4" x2="479.8" y2="134.4" stroke="#000" stroke-width="2"/>
<text x="469" y="138.7" font-size="12.7" text-anchor="end">20</text>
<line x1="474.7" y1="176.9" x2="479.8" y2="176.9" stroke="#000" stroke-width="2"/>
<text x="469" y="181.2" font-size="12.7" text-anchor="end">0</text>
<line x1="501.9" y1="25.3" x2="501.9" y2="30.7" stroke="#000" stroke-width="1.9"/>
<line x1="496.9" y1="25.3" x2="506.9" y2="25.3" stroke="#000" stroke-width="1.9"/>
<rect x="491.8" y="30.6" width="20.3" height="146.4" fill="#fff" stroke="#000" stroke-width="1.9" rx="0.4"/>
<line x1="524.2" y1="48.6" x2="524.2" y2="49.3" stroke="#000" stroke-width="1.9"/>
<line x1="519" y1="48.6" x2="529.5" y2="48.6" stroke="#000" stroke-width="1.9"/>
<rect x="513.6" y="49.2" width="21.4" height="127.8" fill="#000" stroke="#000" stroke-width="1.9" rx="0.9"/>
<line x1="569" y1="123.8" x2="569" y2="126.8" stroke="#000" stroke-width="1.9"/>
<line x1="564" y1="123.8" x2="574" y2="123.8" stroke="#000" stroke-width="1.9"/>
<rect x="559" y="126.8" width="20.1" height="50.3" fill="#fff" stroke="#000" stroke-width="1.9" rx="0.4"/>
<line x1="591.1" y1="112.5" x2="591.1" y2="113.2" stroke="#000" stroke-width="1.9"/>
<line x1="585.9" y1="112.5" x2="596.3" y2="112.5" stroke="#000" stroke-width="1.9"/>
<rect x="580.5" y="113.2" width="21.3" height="63.9" fill="#000" stroke="#000" stroke-width="1.9" rx="0.9"/>
<line x1="635.5" y1="159.5" x2="635.5" y2="163.6" stroke="#000" stroke-width="1.9"/>
<line x1="630.7" y1="159.5" x2="640.2" y2="159.5" stroke="#000" stroke-width="1.9"/>
<rect x="625.9" y="163.5" width="19.2" height="13.5" fill="#fff" stroke="#000" stroke-width="1.9" rx="0.4"/>
<line x1="657.2" y1="155.8" x2="657.2" y2="156.5" stroke="#000" stroke-width="1.9"/>
<line x1="652" y1="155.8" x2="662.5" y2="155.8" stroke="#000" stroke-width="1.9"/>
<rect x="646.6" y="156.4" width="21.4" height="20.6" fill="#000" stroke="#000" stroke-width="1.9" rx="0.9"/>
<text x="525.4" y="47.3" font-size="17" text-anchor="middle" font-weight="normal">*</text>
<text x="592" y="112.3" font-size="17" text-anchor="middle" font-weight="normal">*</text>
<line x1="512.8" y1="177" x2="512.8" y2="182" stroke="#000" stroke-width="2"/>
<text x="513.3" y="198" font-size="14.5" text-anchor="middle">G1</text>
<line x1="579.5" y1="177" x2="579.5" y2="182" stroke="#000" stroke-width="2"/>
<text x="579.5" y="198" font-size="14.5" text-anchor="middle">S</text>
<line x1="645.6" y1="177" x2="645.6" y2="182" stroke="#000" stroke-width="2"/>
<text x="643.9" y="198" font-size="14.5" text-anchor="middle">G2/M</text>
<text x="579.5" y="19.9" font-size="17" text-anchor="middle" textLength="63" lengthAdjust="spacingAndGlyphs">HCT116</text>
<rect x="577.3" y="36.8" width="17.8" height="8.9" fill="#fff" stroke="#000" stroke-width="2.1" rx="1.4"/>
<rect x="577.3" y="56.8" width="17.8" height="8.7" fill="#000" stroke="#000" stroke-width="2.1" rx="1.4"/>
<text x="601.3" y="44.2" font-size="14.4" textLength="49.8" lengthAdjust="spacingAndGlyphs">pWPXL</text>
<text x="602" y="65.2" font-size="14.4" textLength="73" lengthAdjust="spacingAndGlyphs">LINC00152</text>
<text x="438.9" y="91" font-size="14.5" text-anchor="middle" transform="rotate(-90 438.9 91)" textLength="159.4" lengthAdjust="spacingAndGlyphs">Percentage of cells (%)</text>
<line x1="480" y1="219.5" x2="480" y2="391" stroke="#000" stroke-width="2"/>
<line x1="475" y1="389.9" x2="678.4" y2="389.9" stroke="#000" stroke-width="2.1"/>
<line x1="475" y1="220.5" x2="480" y2="220.5" stroke="#000" stroke-width="2"/>
<text x="469.2" y="224.8" font-size="12.7" text-anchor="end">80</text>
<line x1="475" y1="262.9" x2="480" y2="262.9" stroke="#000" stroke-width="2"/>
<text x="469.2" y="267.2" font-size="12.7" text-anchor="end">60</text>
<line x1="475" y1="305.3" x2="480" y2="305.3" stroke="#000" stroke-width="2"/>
<text x="469.2" y="309.6" font-size="12.7" text-anchor="end">40</text>
<line x1="475" y1="347.5" x2="480" y2="347.5" stroke="#000" stroke-width="2"/>
<text x="469.2" y="351.8" font-size="12.7" text-anchor="end">20</text>
<line x1="475" y1="389.9" x2="480" y2="389.9" stroke="#000" stroke-width="2"/>
<text x="469.2" y="394.2" font-size="12.7" text-anchor="end">0</text>
<line x1="501.7" y1="246" x2="501.7" y2="248.5" stroke="#000" stroke-width="1.9"/>
<line x1="496.9" y1="246" x2="506.5" y2="246" stroke="#000" stroke-width="1.9"/>
<rect x="491.9" y="248.4" width="19.5" height="141.6" fill="#fff" stroke="#000" stroke-width="1.9" rx="0.4"/>
<line x1="523.9" y1="237.6" x2="523.9" y2="238.8" stroke="#000" stroke-width="1.9"/>
<line x1="518.5" y1="237.6" x2="529.3" y2="237.6" stroke="#000" stroke-width="1.9"/>
<rect x="513" y="238.8" width="21.9" height="151.3" fill="#000" stroke="#000" stroke-width="1.9" rx="0.9"/>
<line x1="568.1" y1="331.8" x2="568.1" y2="333.1" stroke="#000" stroke-width="1.9"/>
<line x1="563.3" y1="331.8" x2="573" y2="331.8" stroke="#000" stroke-width="1.9"/>
<rect x="558.2" y="333.1" width="19.8" height="57" fill="#fff" stroke="#000" stroke-width="1.9" rx="0.4"/>
<line x1="589.8" y1="346.4" x2="589.8" y2="347.4" stroke="#000" stroke-width="1.9"/>
<line x1="584.8" y1="346.4" x2="594.8" y2="346.4" stroke="#000" stroke-width="1.9"/>
<rect x="579.6" y="347.3" width="20.5" height="42.7" fill="#000" stroke="#000" stroke-width="1.9" rx="0.9"/>
<line x1="634" y1="377.4" x2="634" y2="378.4" stroke="#000" stroke-width="1.9"/>
<line x1="629.1" y1="377.4" x2="638.8" y2="377.4" stroke="#000" stroke-width="1.9"/>
<rect x="624.1" y="378.3" width="19.8" height="11.7" fill="#fff" stroke="#000" stroke-width="1.9" rx="0.4"/>
<line x1="655.6" y1="372" x2="655.6" y2="373.3" stroke="#000" stroke-width="1.9"/>
<line x1="650.6" y1="372" x2="660.6" y2="372" stroke="#000" stroke-width="1.9"/>
<rect x="645.4" y="373.2" width="20.5" height="16.8" fill="#000" stroke="#000" stroke-width="1.9" rx="0.9"/>
<text x="591" y="347.8" font-size="17" text-anchor="middle" font-weight="normal">*</text>
<line x1="512.8" y1="390" x2="512.8" y2="395" stroke="#000" stroke-width="2"/>
<text x="513.6" y="411.8" font-size="14.5" text-anchor="middle">G1</text>
<line x1="578.6" y1="390" x2="578.6" y2="395" stroke="#000" stroke-width="2"/>
<text x="578.6" y="411.8" font-size="14.5" text-anchor="middle">S</text>
<line x1="644.4" y1="390" x2="644.4" y2="395" stroke="#000" stroke-width="2"/>
<text x="646.4" y="411.8" font-size="14.5" text-anchor="middle">G2/M</text>
<text x="579.4" y="227.4" font-size="16.2" text-anchor="middle" textLength="43" lengthAdjust="spacingAndGlyphs" font-weight="normal" stroke="#000" stroke-width="0.4">LoVo</text>
<rect x="562.4" y="246.5" width="18.7" height="8.8" fill="#fff" stroke="#000" stroke-width="2.1" rx="1.4"/>
<rect x="562.4" y="265.9" width="18.7" height="8.9" fill="#000" stroke="#000" stroke-width="2.1" rx="1.4"/>
<text x="591.4" y="254.9" font-size="14.4" textLength="39.4" lengthAdjust="spacingAndGlyphs">Si-NC</text>
<text x="590.4" y="274.3" font-size="14.4" textLength="93.3" lengthAdjust="spacingAndGlyphs">Si-LINC00152</text>
<text x="441.9" y="304.4" font-size="14.5" text-anchor="middle" transform="rotate(-90 441.9 304.4)" textLength="159.8" lengthAdjust="spacingAndGlyphs">Percentage of cells (%)</text>
</g>
<g id="panel-b">
<text x="0.2" y="451.4" font-size="25">b</text>
<line x1="86.4" y1="456.7" x2="86.4" y2="636.9" stroke="#000" stroke-width="2"/>
<line x1="81.2" y1="635.9" x2="331.2" y2="635.9" stroke="#000" stroke-width="2.1"/>
<line x1="81.2" y1="457.7" x2="86.4" y2="457.7" stroke="#000" stroke-width="2"/>
<text x="74.8" y="462.1" font-size="12.4" text-anchor="end" textLength="17.1" lengthAdjust="spacingAndGlyphs" font-weight="normal" stroke="#000" stroke-width="0.7">1.5</text>
<line x1="81.2" y1="517.1" x2="86.4" y2="517.1" stroke="#000" stroke-width="2"/>
<text x="74.8" y="521.5" font-size="12.4" text-anchor="end" textLength="17.1" lengthAdjust="spacingAndGlyphs" font-weight="normal" stroke="#000" stroke-width="0.7">1.0</text>
<line x1="81.2" y1="576.5" x2="86.4" y2="576.5" stroke="#000" stroke-width="2"/>
<text x="74.8" y="580.9" font-size="12.4" text-anchor="end" textLength="17.1" lengthAdjust="spacingAndGlyphs" font-weight="normal" stroke="#000" stroke-width="0.7">0.5</text>
<line x1="81.2" y1="635.9" x2="86.4" y2="635.9" stroke="#000" stroke-width="2"/>
<text x="74.8" y="640.3" font-size="12.4" text-anchor="end" textLength="17.1" lengthAdjust="spacingAndGlyphs" font-weight="normal" stroke="#000" stroke-width="0.7">0.0</text>
<line x1="103.9" y1="635.9" x2="103.9" y2="640.9" stroke="#000" stroke-width="2"/>
<text x="103.9" y="657" font-size="12.6" text-anchor="middle" textLength="17.6" lengthAdjust="spacingAndGlyphs" font-weight="normal" stroke="#000" stroke-width="0.7">0.0</text>
<line x1="138.8" y1="635.9" x2="138.8" y2="640.9" stroke="#000" stroke-width="2"/>
<text x="138.8" y="657" font-size="12.6" text-anchor="middle" textLength="24.6" lengthAdjust="spacingAndGlyphs" font-weight="normal" stroke="#000" stroke-width="0.7">0.25</text>
<line x1="173.7" y1="635.9" x2="173.7" y2="640.9" stroke="#000" stroke-width="2"/>
<text x="173.7" y="657" font-size="12.6" text-anchor="middle" textLength="17.6" lengthAdjust="spacingAndGlyphs" font-weight="normal" stroke="#000" stroke-width="0.7">0.5</text>
<line x1="208.8" y1="635.9" x2="208.8" y2="640.9" stroke="#000" stroke-width="2"/>
<text x="208.8" y="657" font-size="12.6" text-anchor="middle" textLength="17.6" lengthAdjust="spacingAndGlyphs" font-weight="normal" stroke="#000" stroke-width="0.7">1.0</text>
<line x1="243.8" y1="635.9" x2="243.8" y2="640.9" stroke="#000" stroke-width="2"/>
<text x="243.8" y="657" font-size="12.6" text-anchor="middle" textLength="17.6" lengthAdjust="spacingAndGlyphs" font-weight="normal" stroke="#000" stroke-width="0.7">2.0</text>
<line x1="278.5" y1="635.9" x2="278.5" y2="640.9" stroke="#000" stroke-width="2"/>
<text x="278.5" y="657" font-size="12.6" text-anchor="middle" textLength="17.6" lengthAdjust="spacingAndGlyphs" font-weight="normal" stroke="#000" stroke-width="0.7">5.0</text>
<line x1="313.4" y1="635.9" x2="313.4" y2="640.9" stroke="#000" stroke-width="2"/>
<text x="313.4" y="657" font-size="12.6" text-anchor="middle" textLength="25.6" lengthAdjust="spacingAndGlyphs" font-weight="normal" stroke="#000" stroke-width="0.7">10.0</text>
<line x1="96.9" y1="513.8" x2="96.9" y2="517.4" stroke="#000" stroke-width="2.7"/>
<line x1="94" y1="513.8" x2="99.8" y2="513.8" stroke="#000" stroke-width="2.4"/>
<rect x="92.5" y="517.6" width="8.9" height="118.1" fill="#fff" stroke="#000" stroke-width="2.4" rx="0.4"/>
<line x1="110.2" y1="513.5" x2="110.2" y2="517.4" stroke="#000" stroke-width="2.7"/>
<line x1="107.3" y1="513.5" x2="113.1" y2="513.5" stroke="#000" stroke-width="2.4"/>
<rect x="105.6" y="517.6" width="9.2" height="118.1" fill="#000" stroke="#000" stroke-width="2.4" rx="0.9"/>
<line x1="132.2" y1="551.1" x2="132.2" y2="553.4" stroke="#000" stroke-width="2.7"/>
<line x1="129.3" y1="551.1" x2="135.2" y2="551.1" stroke="#000" stroke-width="2.4"/>
<rect x="128.1" y="553.6" width="8.3" height="82.1" fill="#fff" stroke="#000" stroke-width="2.4" rx="0.4"/>
<line x1="145.4" y1="533.1" x2="145.4" y2="539.4" stroke="#000" stroke-width="2.7"/>
<line x1="142.5" y1="533.1" x2="148.3" y2="533.1" stroke="#000" stroke-width="2.4"/>
<rect x="141.2" y="539.6" width="8.5" height="96.1" fill="#000" stroke="#000" stroke-width="2.4" rx="0.9"/>
<line x1="167.3" y1="573.6" x2="167.3" y2="575.4" stroke="#000" stroke-width="2.7"/>
<line x1="164.4" y1="573.6" x2="170.2" y2="573.6" stroke="#000" stroke-width="2.4"/>
<rect x="163.2" y="575.6" width="8.3" height="60.1" fill="#fff" stroke="#000" stroke-width="2.4" rx="0.4"/>
<line x1="180.4" y1="556.1" x2="180.4" y2="562.2" stroke="#000" stroke-width="2.7"/>
<line x1="177.5" y1="556.1" x2="183.3" y2="556.1" stroke="#000" stroke-width="2.4"/>
<rect x="176.1" y="562.4" width="8.5" height="73.3" fill="#000" stroke="#000" stroke-width="2.4" rx="0.9"/>
<line x1="202.3" y1="588.8" x2="202.3" y2="591.4" stroke="#000" stroke-width="2.7"/>
<line x1="199.4" y1="588.8" x2="205.2" y2="588.8" stroke="#000" stroke-width="2.4"/>
<rect x="198.2" y="591.6" width="8.3" height="44.1" fill="#fff" stroke="#000" stroke-width="2.4" rx="0.4"/>
<line x1="215.6" y1="578.3" x2="215.6" y2="581.9" stroke="#000" stroke-width="2.7"/>
<line x1="212.7" y1="578.3" x2="218.5" y2="578.3" stroke="#000" stroke-width="2.4"/>
<rect x="211.4" y="582.1" width="8.5" height="53.6" fill="#000" stroke="#000" stroke-width="2.4" rx="0.9"/>
<line x1="237.2" y1="603.6" x2="237.2" y2="605.4" stroke="#000" stroke-width="2.7"/>
<line x1="234.3" y1="603.6" x2="240.2" y2="603.6" stroke="#000" stroke-width="2.4"/>
<rect x="233.1" y="605.6" width="8.3" height="30.1" fill="#fff" stroke="#000" stroke-width="2.4" rx="0.4"/>
<line x1="250.6" y1="592.9" x2="250.6" y2="596.3" stroke="#000" stroke-width="2.7"/>
<line x1="247.7" y1="592.9" x2="253.5" y2="592.9" stroke="#000" stroke-width="2.4"/>
<rect x="246.3" y="596.5" width="8.5" height="39.2" fill="#000" stroke="#000" stroke-width="2.4" rx="0.9"/>
<line x1="271.9" y1="611.6" x2="271.9" y2="613" stroke="#000" stroke-width="2.7"/>
<line x1="269" y1="611.6" x2="274.8" y2="611.6" stroke="#000" stroke-width="2.4"/>
<rect x="267.7" y="613.2" width="8.3" height="22.5" fill="#fff" stroke="#000" stroke-width="2.4" rx="0.4"/>
<line x1="285.1" y1="602.5" x2="285.1" y2="604.7" stroke="#000" stroke-width="2.7"/>
<line x1="282.2" y1="602.5" x2="288" y2="602.5" stroke="#000" stroke-width="2.4"/>
<rect x="280.9" y="604.9" width="8.5" height="30.8" fill="#000" stroke="#000" stroke-width="2.4" rx="0.9"/>
<line x1="306.8" y1="623.7" x2="306.8" y2="628.2" stroke="#000" stroke-width="2.7"/>
<line x1="303.9" y1="623.7" x2="309.6" y2="623.7" stroke="#000" stroke-width="2.4"/>
<rect x="302.6" y="628.4" width="8.3" height="7.3" fill="#fff" stroke="#000" stroke-width="2.4" rx="0.4"/>
<line x1="320.1" y1="614.5" x2="320.1" y2="621.7" stroke="#000" stroke-width="2.7"/>
<line x1="317.2" y1="614.5" x2="322.9" y2="614.5" stroke="#000" stroke-width="2.4"/>
<rect x="315.8" y="621.9" width="8.5" height="13.8" fill="#000" stroke="#000" stroke-width="2.4" rx="0.9"/>
<line x1="131.2" y1="529.6" x2="146.6" y2="529.6" stroke="#000" stroke-width="1.5"/>
<text x="138.9" y="533.5" font-size="16.5" text-anchor="middle" font-weight="normal">*</text>
<line x1="165.4" y1="551.6" x2="180.8" y2="551.6" stroke="#000" stroke-width="1.5"/>
<text x="173.1" y="555.5" font-size="16.5" text-anchor="middle" font-weight="normal">*</text>
<line x1="204.1" y1="575.1" x2="219.5" y2="575.1" stroke="#000" stroke-width="1.5"/>
<text x="211.8" y="579" font-size="16.5" text-anchor="middle" font-weight="normal">*</text>
<line x1="233.7" y1="586.5" x2="249.1" y2="586.5" stroke="#000" stroke-width="1.5"/>
<text x="241.4" y="590.4" font-size="16.5" text-anchor="middle" font-weight="normal">*</text>
<line x1="269" y1="596.8" x2="285" y2="596.8" stroke="#000" stroke-width="1.5"/>
<text x="277" y="600.7" font-size="16.5" text-anchor="middle" font-weight="normal">*</text>
<text x="210.9" y="456.2" font-size="16.8" text-anchor="middle" textLength="64.2" lengthAdjust="spacingAndGlyphs">HCT116</text>
<rect x="100.7" y="467.8" width="17.6" height="8" fill="#fff" stroke="#000" stroke-width="1.8" rx="1.2"/>
<rect x="100.7" y="486.3" width="17.6" height="7.7" fill="#000" stroke="#000" stroke-width="1.8" rx="1.2"/>
<text x="127.4" y="476" font-size="12.8" textLength="46.7" lengthAdjust="spacingAndGlyphs">pWPXL</text>
<text x="128.1" y="494.2" font-size="12.8" textLength="65.4" lengthAdjust="spacingAndGlyphs">LINC00152</text>
<text x="26.3" y="545.7" font-size="15" text-anchor="middle" transform="rotate(-90 26.3 545.7)" textLength="164.8" lengthAdjust="spacingAndGlyphs" font-weight="normal" stroke="#000" stroke-width="0.5">% of survival relative to</text>
<text x="44" y="544.6" font-size="15" text-anchor="middle" transform="rotate(-90 44 544.6)" textLength="102.2" lengthAdjust="spacingAndGlyphs" font-weight="normal" stroke="#000" stroke-width="0.5">untreated cells</text>
<text x="211.5" y="678.5" font-size="13.3" text-anchor="middle" textLength="73.4" lengthAdjust="spacingAndGlyphs">5-FU(μg/ml)</text>
<line x1="422.4" y1="454.7" x2="422.4" y2="635.2" stroke="#000" stroke-width="2"/>
<line x1="416.6" y1="634.2" x2="667.9" y2="634.2" stroke="#000" stroke-width="2.1"/>
<line x1="416.6" y1="455.7" x2="422.4" y2="455.7" stroke="#000" stroke-width="2"/>
<text x="409.7" y="460.1" font-size="12.5" text-anchor="end" textLength="17.1" lengthAdjust="spacingAndGlyphs">1.5</text>
<line x1="416.6" y1="515.2" x2="422.4" y2="515.2" stroke="#000" stroke-width="2"/>
<text x="409.7" y="519.6" font-size="12.5" text-anchor="end" textLength="17.1" lengthAdjust="spacingAndGlyphs">1.0</text>
<line x1="416.6" y1="574.7" x2="422.4" y2="574.7" stroke="#000" stroke-width="2"/>
<text x="409.7" y="579.1" font-size="12.5" text-anchor="end" textLength="17.1" lengthAdjust="spacingAndGlyphs">0.5</text>
<line x1="416.6" y1="634.2" x2="422.4" y2="634.2" stroke="#000" stroke-width="2"/>
<text x="409.7" y="638.6" font-size="12.5" text-anchor="end" textLength="17.1" lengthAdjust="spacingAndGlyphs">0.0</text>
<line x1="439.4" y1="634.2" x2="439.4" y2="639.2" stroke="#000" stroke-width="2"/>
<text x="439.4" y="656.7" font-size="12.6" text-anchor="middle" textLength="17.6" lengthAdjust="spacingAndGlyphs">0.0</text>
<line x1="474.3" y1="634.2" x2="474.3" y2="639.2" stroke="#000" stroke-width="2"/>
<text x="474.3" y="656.7" font-size="12.6" text-anchor="middle" textLength="24.6" lengthAdjust="spacingAndGlyphs">0.25</text>
<line x1="509.3" y1="634.2" x2="509.3" y2="639.2" stroke="#000" stroke-width="2"/>
<text x="509.3" y="656.7" font-size="12.6" text-anchor="middle" textLength="17.6" lengthAdjust="spacingAndGlyphs">0.5</text>
<line x1="544.5" y1="634.2" x2="544.5" y2="639.2" stroke="#000" stroke-width="2"/>
<text x="544.5" y="656.7" font-size="12.6" text-anchor="middle" textLength="17.6" lengthAdjust="spacingAndGlyphs">1.0</text>
<line x1="579.5" y1="634.2" x2="579.5" y2="639.2" stroke="#000" stroke-width="2"/>
<text x="579.5" y="656.7" font-size="12.6" text-anchor="middle" textLength="17.6" lengthAdjust="spacingAndGlyphs">2.0</text>
<line x1="614.8" y1="634.2" x2="614.8" y2="639.2" stroke="#000" stroke-width="2"/>
<text x="614.8" y="656.7" font-size="12.6" text-anchor="middle" textLength="17.6" lengthAdjust="spacingAndGlyphs">5.0</text>
<line x1="649.7" y1="634.2" x2="649.7" y2="639.2" stroke="#000" stroke-width="2"/>
<text x="649.7" y="656.7" font-size="12.6" text-anchor="middle" textLength="25.6" lengthAdjust="spacingAndGlyphs">10.0</text>
<line x1="433.1" y1="510.2" x2="433.1" y2="515.1" stroke="#000" stroke-width="2.7"/>
<line x1="430.2" y1="510.2" x2="435.9" y2="510.2" stroke="#000" stroke-width="2.4"/>
<rect x="428.5" y="515.3" width="9.1" height="118.7" fill="#fff" stroke="#000" stroke-width="2.4" rx="0.4"/>
<line x1="446" y1="513.9" x2="446" y2="515.1" stroke="#000" stroke-width="2.7"/>
<line x1="443.1" y1="513.9" x2="448.9" y2="513.9" stroke="#000" stroke-width="2.4"/>
<rect x="441.6" y="515.3" width="8.9" height="118.7" fill="#000" stroke="#000" stroke-width="2.4" rx="0.9"/>
<line x1="468.4" y1="548.9" x2="468.4" y2="552.3" stroke="#000" stroke-width="2.7"/>
<line x1="465.5" y1="548.9" x2="471.3" y2="548.9" stroke="#000" stroke-width="2.4"/>
<rect x="464.1" y="552.5" width="8.6" height="81.5" fill="#fff" stroke="#000" stroke-width="2.4" rx="0.4"/>
<line x1="481.4" y1="561.7" x2="481.4" y2="567.1" stroke="#000" stroke-width="2.7"/>
<line x1="478.5" y1="561.7" x2="484.2" y2="561.7" stroke="#000" stroke-width="2.4"/>
<rect x="476.9" y="567.3" width="8.9" height="66.7" fill="#000" stroke="#000" stroke-width="2.4" rx="0.9"/>
<line x1="503.2" y1="567.9" x2="503.2" y2="571.3" stroke="#000" stroke-width="2.7"/>
<line x1="500.4" y1="567.9" x2="506.1" y2="567.9" stroke="#000" stroke-width="2.4"/>
<rect x="498.9" y="571.5" width="8.7" height="62.5" fill="#fff" stroke="#000" stroke-width="2.4" rx="0.4"/>
<line x1="516.5" y1="583.2" x2="516.5" y2="587.2" stroke="#000" stroke-width="2.7"/>
<line x1="513.6" y1="583.2" x2="519.4" y2="583.2" stroke="#000" stroke-width="2.4"/>
<rect x="512" y="587.4" width="8.9" height="46.6" fill="#000" stroke="#000" stroke-width="2.4" rx="0.9"/>
<line x1="538.2" y1="576.4" x2="538.2" y2="580.4" stroke="#000" stroke-width="2.7"/>
<line x1="535.4" y1="576.4" x2="541.1" y2="576.4" stroke="#000" stroke-width="2.4"/>
<rect x="533.9" y="580.6" width="8.7" height="53.4" fill="#fff" stroke="#000" stroke-width="2.4" rx="0.4"/>
<line x1="551.5" y1="590.7" x2="551.5" y2="595.5" stroke="#000" stroke-width="2.7"/>
<line x1="548.6" y1="590.7" x2="554.4" y2="590.7" stroke="#000" stroke-width="2.4"/>
<rect x="547.1" y="595.7" width="8.9" height="38.3" fill="#000" stroke="#000" stroke-width="2.4" rx="0.9"/>
<line x1="573" y1="584.3" x2="573" y2="588" stroke="#000" stroke-width="2.7"/>
<line x1="570.1" y1="584.3" x2="575.9" y2="584.3" stroke="#000" stroke-width="2.4"/>
<rect x="568.7" y="588.2" width="8.7" height="45.8" fill="#fff" stroke="#000" stroke-width="2.4" rx="0.4"/>
<line x1="586.4" y1="600.3" x2="586.4" y2="604.3" stroke="#000" stroke-width="2.7"/>
<line x1="583.5" y1="600.3" x2="589.2" y2="600.3" stroke="#000" stroke-width="2.4"/>
<rect x="581.9" y="604.5" width="8.9" height="29.5" fill="#000" stroke="#000" stroke-width="2.4" rx="0.9"/>
<line x1="608.3" y1="587.7" x2="608.3" y2="591.7" stroke="#000" stroke-width="2.7"/>
<line x1="605.4" y1="587.7" x2="611.2" y2="587.7" stroke="#000" stroke-width="2.4"/>
<rect x="604" y="591.9" width="8.7" height="42.1" fill="#fff" stroke="#000" stroke-width="2.4" rx="0.4"/>
<line x1="621.1" y1="606.4" x2="621.1" y2="609.2" stroke="#000" stroke-width="2.7"/>
<line x1="618.2" y1="606.4" x2="624" y2="606.4" stroke="#000" stroke-width="2.4"/>
<rect x="616.7" y="609.4" width="8.9" height="24.6" fill="#000" stroke="#000" stroke-width="2.4" rx="0.9"/>
<line x1="643.2" y1="600.3" x2="643.2" y2="603.1" stroke="#000" stroke-width="2.7"/>
<line x1="640.4" y1="600.3" x2="646.1" y2="600.3" stroke="#000" stroke-width="2.4"/>
<rect x="638.9" y="603.3" width="8.7" height="30.7" fill="#fff" stroke="#000" stroke-width="2.4" rx="0.4"/>
<line x1="656.5" y1="610.1" x2="656.5" y2="612.6" stroke="#000" stroke-width="2.7"/>
<line x1="653.6" y1="610.1" x2="659.4" y2="610.1" stroke="#000" stroke-width="2.4"/>
<rect x="652.1" y="612.8" width="8.9" height="21.2" fill="#000" stroke="#000" stroke-width="2.4" rx="0.9"/>
<line x1="467.9" y1="545.7" x2="483.8" y2="545.7" stroke="#000" stroke-width="1.5"/>
<text x="475.9" y="549.6" font-size="16.5" text-anchor="middle" font-weight="normal">*</text>
<line x1="504.7" y1="563.6" x2="519.9" y2="563.6" stroke="#000" stroke-width="1.5"/>
<text x="512.3" y="567.5" font-size="16.5" text-anchor="middle" font-weight="normal">*</text>
<line x1="538.9" y1="571.6" x2="554" y2="571.6" stroke="#000" stroke-width="1.5"/>
<text x="546.5" y="575.5" font-size="16.5" text-anchor="middle" font-weight="normal">*</text>
<line x1="573" y1="580.7" x2="588.2" y2="580.7" stroke="#000" stroke-width="1.5"/>
<text x="580.6" y="584.6" font-size="16.5" text-anchor="middle" font-weight="normal">*</text>
<line x1="607.2" y1="583.7" x2="623.1" y2="583.7" stroke="#000" stroke-width="1.5"/>
<text x="615.2" y="587.6" font-size="16.5" text-anchor="middle" font-weight="normal">*</text>
<text x="543.8" y="459.4" font-size="16.5" text-anchor="middle" textLength="42.6" lengthAdjust="spacingAndGlyphs" font-weight="normal" stroke="#000" stroke-width="0.5">LoVo</text>
<rect x="433.2" y="465" width="16.8" height="8" fill="#fff" stroke="#000" stroke-width="2" rx="1.2"/>
<rect x="433.2" y="483.3" width="16.8" height="8.2" fill="#000" stroke="#000" stroke-width="2" rx="1.2"/>
<text x="460" y="472.8" font-size="12.8" textLength="34.8" lengthAdjust="spacingAndGlyphs">Si-NC</text>
<text x="460" y="491.5" font-size="12.8" textLength="82.7" lengthAdjust="spacingAndGlyphs">Si-LINC00152</text>
<text x="361.2" y="544.8" font-size="14.6" text-anchor="middle" transform="rotate(-90 361.2 544.8)" textLength="164" lengthAdjust="spacingAndGlyphs">% of survival relative to</text>
<text x="379.6" y="543" font-size="14.5" text-anchor="middle" transform="rotate(-90 379.6 543)" textLength="102.2" lengthAdjust="spacingAndGlyphs">untreated cells</text>
<text x="547.4" y="678.6" font-size="13.3" text-anchor="middle" textLength="74" lengthAdjust="spacingAndGlyphs">5-FU(μg/ml)</text>
</g>
<g id="panel-c">
<text x="4" y="719.5" font-size="24">c</text>
<line x1="35" y1="731" x2="35" y2="1185.3" stroke="#000" stroke-width="2.7"/>
<line x1="49.7" y1="1188.3" x2="420.5" y2="1188.3" stroke="#000" stroke-width="2.6"/>
<text x="11.8" y="933.4" font-size="14.5" textLength="13.4" lengthAdjust="spacingAndGlyphs">PI</text>
<text x="250.7" y="1208.8" font-size="15.8" text-anchor="middle" textLength="118" lengthAdjust="spacingAndGlyphs">Annexin V-FITC</text>
<text x="146" y="725.8" font-size="16.6" text-anchor="middle" textLength="53.7" lengthAdjust="spacingAndGlyphs">pWPXL</text>
<g>
<rect x="75.6" y="732" width="147.7" height="173.9" fill="#fff"/>
<path d="M111 890.3h.9M83.9 886.4h.9M84.8 886.4h.9M84.1 903.4h.9M98.6 879h.9M108.4 878h.9M79.7 878.9h.9M94 884.2h.9M91.1 895.7h.9M105.9 880.2h.9M88.1 888.9h.9M87.1 888.1h.9M101.9 879.7h.9M79.8 891.2h.9M84.5 872.6h.9M80.8 886.3h.9M87.3 873.5h.9M97.7 886.4h.9M80.3 892.8h.9M101.1 876.9h.9M102.3 889.2h.9M97.2 887.6h.9M101.1 885.5h.9M83 886.2h.9M90.8 890.3h.9M83.7 897.2h.9M86.7 882.7h.9M94.7 878.9h.9M86.5 897.3h.9M81.5 871.3h.9M77.7 870.2h.9M78 876.4h.9M84.4 890.1h.9M91.2 887.6h.9M80.5 893.8h.9M93.6 886.2h.9M111.9 891.8h.9M102.4 895.2h.9M91.7 895.4h.9M79 881.3h.9M84 891.6h.9M106.7 874.6h.9M90.4 882.8h.9M82 881.4h.9M93 885.9h.9M114.2 883.2h.9M92.4 886.7h.9M94.7 875.9h.9M90.6 874.6h.9M85.5 882.3h.9M77.2 884.8h.9M89.2 893.3h.9M88.1 884.9h.9M96.7 883.2h.9M99.4 882.5h.9M103.3 891.2h.9M97.8 897.2h.9M101.2 886.5h.9M82.5 887.3h.9M107.4 892.2h.9M97.4 887.9h.9M86.9 884.5h.9M98.5 892h.9M90.7 888.2h.9M99.5 872.4h.9M108.4 885.8h.9M114.6 881.2h.9M86 889.2h.9M94.3 890.8h.9M101.6 887.9h.9M91.1 875.7h.9M89.3 892.3h.9M96.1 872.7h.9M93.6 886.3h.9M99.5 885.4h.9M90.8 893.8h.9M83.2 869.7h.9M93.3 886.9h.9M100 899.5h.9M91.6 881.4h.9M91.5 883.8h.9M86.2 895.6h.9M93.2 879.8h.9M95 894.3h.9M104.1 886.5h.9M99.9 871.2h.9M93.2 886.6h.9M83.7 877.4h.9M86.5 895.5h.9M91.5 873.1h.9M87.6 873.3h.9M84.8 879.6h.9M89.6 880.6h.9M87.6 898h.9M98.3 884h.9M87 890.1h.9M106.3 890h.9M93.6 880.2h.9M95.9 880.4h.9M77.6 884.2h.9M94.6 891.5h.9M102.5 895.6h.9M81.6 891.6h.9M86.8 883h.9M90.1 882.7h.9M96 890.6h.9M97.4 876h.9M81.4 887.6h.9M92 877h.9M84.7 868.5h.9M103.2 884.2h.9M94.5 882.8h.9M90.2 885h.9M80.4 881.5h.9M102.2 875.5h.9M109.1 872.2h.9M108.7 896.9h.9M107.7 880h.9M91.4 875.6h.9M81.4 899.7h.9M97.7 876.4h.9M90.4 891.1h.9M83.7 885.4h.9M78.3 891.3h.9M97.6 878.5h.9M83.1 884.4h.9M97.3 887.4h.9M79 890.2h.9M98.4 880.9h.9M89.9 881.4h.9M90.4 891.3h.9M92.4 894.5h.9M97.9 876.8h.9M96.2 875.8h.9M100.8 897.8h.9M89.1 875.9h.9M93.5 891.3h.9M98.5 887.5h.9M90.9 877.8h.9M99.9 889.6h.9M85.2 879.7h.9M98.6 873.1h.9M115.8 885h.9M94.6 881.8h.9M92.5 894.6h.9M87.7 881.2h.9M91.2 891.3h.9M94.4 896.5h.9M79.1 889.7h.9M83 880.2h.9M79.8 887.4h.9M96.5 894.6h.9M89.6 892.8h.9M95.3 882.1h.9M85.1 874.7h.9M103 888.3h.9M97 897.4h.9M117.7 890.8h.9M83.8 887.3h.9M98.6 877.8h.9M116.1 873.8h.9M84.6 875.6h.9M96.4 901.6h.9M88.6 887.1h.9M110.5 899h.9M87.8 886.9h.9M94.4 872.6h.9M92 900.9h.9M93.3 882.3h.9M100.1 896.5h.9M107.9 892.5h.9M85.1 872.4h.9M84.5 888.6h.9M94.4 876.8h.9M94.8 889.5h.9M98.1 898.5h.9M89 883.1h.9M106.6 893.2h.9M92.7 878.6h.9M116 895.5h.9M100.7 876.8h.9M96.8 881h.9M94.1 874.5h.9M99 896.1h.9M97 876.1h.9M103.3 887.3h.9M83.8 878.7h.9M99.9 884.5h.9M85.1 888.3h.9M110.6 877.1h.9M78.2 894.5h.9M77.3 903h.9M82.2 891h.9M116.1 894.2h.9M88.6 890.8h.9M80.6 902.1h.9M102.2 881.4h.9M79.6 872.4h.9M77.1 887.7h.9M97.3 874.8h.9M97.4 884.1h.9M85.3 884.5h.9M106.2 883.2h.9M88.3 873.5h.9M108 881.4h.9M95.2 881.5h.9M108.8 885.7h.9M88.2 874.1h.9M77.3 887.6h.9M120.5 890h.9M82.6 879.9h.9M90.6 892.4h.9M86.8 898.4h.9M88.8 887.1h.9M95.8 892.7h.9M95.5 893.2h.9M101.6 895.5h.9M108.9 877.8h.9M89.5 886.1h.9M80 896.4h.9M76.9 885.2h.9M84.1 889.1h.9M94.2 867.1h.9M86.6 890.6h.9M91.7 899.7h.9M90.1 883.9h.9M80.9 886.2h.9M96.3 878.9h.9M97.8 885.4h.9M88.9 895.7h.9M115.1 896.2h.9M79.3 896.8h.9M85.2 880.8h.9M85.3 877.1h.9M112 882.2h.9M93.4 880.9h.9M77.6 882.5h.9M110.6 873.8h.9M100 893.3h.9M95.4 884.9h.9M81.4 878.6h.9M94.1 892.4h.9M98.6 881.7h.9M88.5 892.1h.9M90.5 880.1h.9M105.8 889.3h.9M90.7 875.4h.9M91.7 879.2h.9M90.7 875.7h.9M82.4 886h.9M98 878.3h.9M106.3 878.7h.9M98.9 884h.9M101.5 887.4h.9M82.2 890.5h.9M82.5 891.2h.9M79.6 902.8h.9M103.3 880.4h.9M85 877h.9M107.8 888.5h.9M87.1 902.3h.9M86.9 889.3h.9M93.9 892.2h.9M99.1 878.7h.9M92.1 887.6h.9M94.7 890.3h.9M92.1 889.1h.9M91.6 882h.9M83.1 901.9h.9M92.2 887.5h.9M91.2 893.8h.9M91.3 889.6h.9M98.2 891.1h.9M86 895.5h.9M89.6 885.2h.9M89.8 893.5h.9M100.4 900.5h.9M103.8 898.1h.9M82.8 895.2h.9M101 896.5h.9M109.6 870.1h.9M79 902h.9M82.5 889.9h.9M77.6 876.7h.9M88.5 888.6h.9M110.2 887.9h.9M89.5 881.5h.9M88.2 902.7h.9M100.6 894h.9M81.8 879.4h.9M105.1 889.9h.9M94.5 886.3h.9M104.3 877.8h.9M83.3 886.5h.9M121.7 873h.9M96.8 875h.9M96.8 881.1h.9M92.1 891.6h.9M86.7 899.1h.9M85.3 899.9h.9M88.2 882.9h.9M82.4 888.4h.9M92 879.4h.9M84.7 896.7h.9M93.7 872.6h.9M97.8 873.5h.9M82.1 884.4h.9M104.1 884.2h.9M87.8 885h.9M103.2 882.8h.9M95.7 885.3h.9M103.3 884.3h.9M78.2 882.5h.9M89.1 884.4h.9M107.5 885.7h.9M85.2 890.6h.9M86.4 886.9h.9M105 884.1h.9M86.9 889.6h.9M95.6 889.2h.9M90.7 889.6h.9M94.5 897h.9M90.4 890.7h.9M91.2 893.3h.9M96.6 887.3h.9M102.6 886.2h.9M100.1 881.7h.9M87.5 882.6h.9M97.4 877.4h.9M83.5 888.4h.9M84 884h.9M97.4 900.5h.9M92.7 898.5h.9M85.7 886.1h.9M85.6 893.8h.9M87.8 896.6h.9M100.4 882.1h.9M96.8 891.9h.9M88.3 886.6h.9M94.4 871.2h.9M94.1 877.9h.9M96.1 881.4h.9M94.3 885.2h.9M89.4 880.8h.9M86.7 889.9h.9M98.9 880.3h.9M83.1 876.8h.9M109.4 877.8h.9M95.6 880.5h.9M109.8 868.2h.9M86.1 899.3h.9M97.7 881.7h.9M101.7 889h.9M91.2 885.8h.9M76.7 897.2h.9M82.9 877.5h.9M95.1 877h.9M90.3 891h.9M93.2 897.5h.9M89.2 887.3h.9M81.7 891.2h.9M83.5 882.4h.9M107.9 875.4h.9M85.7 887h.9M97.7 890h.9M99.8 885.3h.9M99.1 878.8h.9M93.3 894.7h.9M113.8 881.4h.9M79.5 897.6h.9M87.7 873.7h.9M93.9 882.3h.9M102.8 879.1h.9M85.2 883.7h.9M92.9 889.3h.9M79.7 881.4h.9M93.5 878.1h.9M99.6 873.8h.9M90.7 895.6h.9M111.3 875.8h.9M109.2 879.8h.9M89.6 884.3h.9M83.8 891.9h.9M104.9 889.4h.9M93.7 883.8h.9M87.2 883.1h.9M111.3 891.6h.9M89.4 895h.9M83.1 888.8h.9M114 884.1h.9M90.2 882.1h.9M90.7 902.8h.9M93.3 881.1h.9M90.3 883.7h.9M85.7 885.3h.9M107.6 894.5h.9M103 883.8h.9M102.3 891.4h.9M89.7 886.1h.9M100.2 873.9h.9M92.3 892.2h.9M94.4 880.4h.9M98.8 873.6h.9M98.5 880.8h.9M111.2 884.9h.9M99.8 897.6h.9M107.3 888.5h.9M88.2 889.8h.9M93.7 881.2h.9M83.1 892.4h.9M103.2 888.3h.9M91.4 901.4h.9M106 880.6h.9M88.4 897.4h.9M101.7 879.5h.9M96.9 880.6h.9M84.4 892h.9M99.9 874.8h.9M78.5 880.3h.9M84.6 896.2h.9M94 870h.9M84.7 889.4h.9M84 886.2h.9M86.5 885h.9M77.4 880.4h.9M97.2 868.4h.9M95.8 879.7h.9M87.6 878.4h.9M88.9 883.8h.9M95.9 885.6h.9M107.7 875.2h.9M97.6 875.9h.9M86.4 890.3h.9M97.4 878.4h.9M87.5 880.1h.9M88.2 885h.9M111.2 882.2h.9M91.5 903h.9M89.7 899.6h.9M95.9 885.4h.9M85 892.8h.9M96.1 883.8h.9M85.7 897.5h.9M101.9 895.9h.9M105.3 878.6h.9M95.1 878.1h.9M101.1 874.8h.9M108.6 879.9h.9M99 874h.9M79.9 885.1h.9M88.9 883.8h.9M99.8 891.1h.9M85.6 884.5h.9M92.5 874.9h.9M82.8 890.7h.9M97.8 888.7h.9M80.9 894.9h.9M94 896.5h.9M92.2 888h.9M81.6 886h.9M86.5 883.1h.9M83.6 872.9h.9M94.4 890.2h.9M84.3 885.9h.9M92.3 887.3h.9M85.9 892.1h.9M95 879h.9M111.1 888h.9M93.3 886.6h.9M96.2 896.6h.9M79.2 891.7h.9M99 886.4h.9M82.4 887.1h.9M86 899.8h.9M92 869.6h.9M91.7 882.1h.9M101.9 880.6h.9M102.5 870.7h.9M83.5 882.7h.9M87.3 870.6h.9M109.9 881.9h.9M97.9 873.2h.9M99.3 886.7h.9M104.1 880.2h.9M82.7 882.6h.9M94.1 873.3h.9M104.2 876.8h.9M108.7 883.2h.9M82.3 888.3h.9M89.9 892.1h.9M93.2 879.6h.9M91.7 898.9h.9M86.3 886.1h.9M96.2 878.1h.9M90.3 897h.9M94.6 884.6h.9M85.4 884.5h.9M85.5 895.5h.9M103.8 889.7h.9M88.1 887.5h.9M106.7 890.9h.9M100.5 869h.9M79.5 892.1h.9M88.9 886.2h.9M99.5 876.8h.9M88.4 883.7h.9M101.2 881.3h.9M92.1 897.8h.9M106.6 882.3h.9M81.9 889.4h.9M96.5 890.2h.9M96.2 872.1h.9M91.2 892.1h.9M107.6 888.3h.9M98.8 891.1h.9M129.6 864.2h.9M95.5 877.3h.9M92.7 887.9h.9M77.6 895.1h.9M94.8 895.3h.9M89.7 898.9h.9M99.8 890.5h.9M95 885.5h.9M111 882.1h.9M91.9 884.3h.9M98.8 892.3h.9M96.3 889.5h.9M89.9 888.5h.9M86.2 878.2h.9M104.9 890.2h.9M95.6 873h.9M87.3 897.4h.9M81.6 897.3h.9M86.6 875.4h.9M103 882.2h.9M87.8 877.7h.9M108.9 879.5h.9M84.2 893.1h.9M92.2 885h.9M85.4 890.4h.9M88.4 889.4h.9M96.3 884.6h.9M106.5 873.2h.9M90.6 883.9h.9M106.8 883.5h.9M97.6 883.1h.9M106.2 898.2h.9M86.7 889.9h.9M105 880.3h.9M80.9 893.6h.9M93.6 876.9h.9M82 892.7h.9M89.3 899.8h.9M86.3 890.4h.9M96.5 890.8h.9M86.4 874.7h.9M80.7 902.8h.9M104 874h.9M93.8 883h.9M102.4 885.8h.9M98.7 882.2h.9M85.9 894.5h.9M82.7 893.7h.9M104 882.9h.9M83.4 900.6h.9M94.9 869.3h.9M85.4 891.2h.9M94.4 883h.9M101.3 876.7h.9M89.3 882.6h.9M101.6 887.6h.9M90.9 879.5h.9M99 882.6h.9M90.6 888.8h.9M96.1 875.7h.9M77.8 899.6h.9M97 879.2h.9M92.7 893.2h.9M87.9 885.1h.9M90.4 890.9h.9M95.8 883.5h.9M89.9 904.3h.9M95.6 882.5h.9M83.3 895.3h.9M88.1 892.2h.9M98.8 875.4h.9M97.2 867.4h.9M80.9 894.4h.9M101.7 889.7h.9M78.9 886.2h.9M97.2 879.5h.9M81.3 896.4h.9M87.9 895h.9M89.9 888.9h.9M104.1 876h.9M97.6 874.7h.9M102.9 866.9h.9M103.5 882h.9M92.5 901.2h.9M89.3 890.8h.9M102 882.3h.9M87.9 875.5h.9M87.8 882.3h.9M77 891.1h.9M89.4 885.3h.9M85.9 886.9h.9M82.4 894.8h.9M98 883.3h.9M85.6 886.8h.9M90.5 896.6h.9M103.4 876.6h.9M79.4 888h.9M91.3 876.2h.9M94.4 893.8h.9M96.9 890h.9M101.7 888.8h.9M84 897.1h.9M95.8 889.9h.9M96.1 890.8h.9M91.7 889.4h.9M90.3 879h.9M97.1 888.7h.9M97.4 891.9h.9M78.5 883.5h.9M79 892.2h.9M119.7 885.7h.9M110.2 877.3h.9M95.9 885.4h.9M101.3 895.7h.9M96.7 877.4h.9M92.2 885.3h.9M79.6 884.3h.9M88.3 884.6h.9M86.4 889.8h.9M95.8 896.6h.9M86.5 882.3h.9M88 881.9h.9M99.6 876.8h.9M101.3 874.5h.9M84.2 882h.9M82.5 888.4h.9M103.9 882.6h.9M93.1 895.1h.9M104.3 875.7h.9M84.2 882.6h.9M89.5 881h.9M77.3 892.5h.9M104.3 880.9h.9M89 893.3h.9M86.9 895h.9M90.1 884.7h.9M90.7 881.7h.9M94.4 886.8h.9M104.8 875.8h.9M92.5 901.7h.9M99.8 884.8h.9M96.1 891.1h.9M86 878.1h.9M102.5 888.2h.9M86.9 891.9h.9M89.4 881h.9M92.4 880.7h.9M92.7 887.8h.9M93.4 893h.9M86 875.9h.9M103.1 886.3h.9M99.1 877h.9M97.4 880.2h.9M125.4 874.1h.9M81.6 878.8h.9M97.3 890.4h.9M85.3 893.5h.9M91.8 886.4h.9M101.3 882.2h.9M77.5 900.4h.9M85.2 890.4h.9M87.7 881.4h.9M82.9 887.4h.9M95.7 882h.9M91.2 886.9h.9M95.6 889.4h.9M84.6 892.8h.9M110.1 890.6h.9M91 886.5h.9M106.8 888.9h.9M90.4 900.2h.9M94.3 875.7h.9M85.5 893.9h.9M78.6 882.1h.9M80.1 878.1h.9M94.2 898h.9M91.3 895.3h.9M108.3 885h.9M77.9 887h.9M83.1 900.9h.9M105.6 871h.9M97.5 884.9h.9M99.2 894h.9M89.9 874.8h.9M87.4 888.6h.9M91.6 888.8h.9M99.1 885.3h.9M99 877h.9M91.9 885.9h.9M98.2 872h.9M90.4 890h.9M84.1 895.8h.9M79.5 884.5h.9M92 870.4h.9M97.6 882.8h.9M79.2 889.7h.9M90.3 897h.9M96.6 885.8h.9M108.6 897.2h.9M80 881.5h.9M94.1 894.4h.9M84.6 887.9h.9M98.9 880.1h.9M95.1 886.1h.9M91.8 873.9h.9M89.5 880.3h.9M105.2 891h.9M78.5 891.9h.9M104.1 887.3h.9M86 896.2h.9M102.7 896.8h.9M86.1 883h.9M97.9 878.7h.9M97 877.3h.9M87.3 880.5h.9M90 886.7h.9M88.3 886.5h.9M84.4 893.2h.9M107.6 871.7h.9M91.7 881.1h.9M108.1 883.8h.9M86.7 893.4h.9M91 881.8h.9M84.5 886.6h.9M111.3 863.8h.9M94.6 888.9h.9M105.8 891.2h.9M84.2 873.4h.9M84 876.4h.9M92.9 893.4h.9M97.4 893.4h.9M96.9 874.5h.9M87.4 879.9h.9M85.4 893.5h.9M79.3 888.4h.9M89 883h.9M100.7 895.9h.9M96.5 887.1h.9M86.6 873.6h.9M85.3 890.3h.9M89.3 876h.9M98.7 889.8h.9M92.9 893.6h.9M93.2 889.2h.9M91.6 893.6h.9M105.1 897.4h.9M88.1 893.2h.9M92.1 883.2h.9M92.6 877.4h.9M99.1 885.6h.9M104.3 874h.9M94.7 873.9h.9M96.2 881.2h.9M94.3 875.2h.9M116.2 882.3h.9M81.2 885.9h.9M79.6 887.8h.9M88.7 887h.9M97.2 869.1h.9M96.9 886h.9M86 888.1h.9M90.5 886.3h.9M102.6 885.4h.9M93 868.8h.9M120.8 891.9h.9M100.8 880.9h.9M91.4 875.1h.9M97.7 885.2h.9M84.4 878.6h.9M80.9 890.3h.9M94.1 889.8h.9M93.1 875.4h.9M78.4 897.3h.9M85.8 889.2h.9M87.9 890.2h.9M94.7 888.5h.9M89.5 891h.9M98.3 893h.9M94 892.3h.9M103.2 886.4h.9M109 882.9h.9M104.5 877.7h.9M88.2 876h.9M97.7 884h.9M95.2 877.9h.9M85.9 897.1h.9M92.6 885.7h.9M99.2 884.2h.9M96 891h.9M101 879.9h.9M91.4 884.3h.9M94.5 894.5h.9M79.8 879.2h.9M85.2 881.6h.9M85.9 887.1h.9M110.7 886.3h.9M94.1 887.5h.9M77.9 881.6h.9M93 878.6h.9M92.9 899.2h.9M94.6 880.5h.9M84 899.3h.9M95.1 881.5h.9M77 896.7h.9M85.7 886.1h.9M95.8 893.9h.9M101.5 897h.9M98.8 884h.9M91.3 888.7h.9M81.9 888.1h.9M113.2 886.3h.9M88.1 899.3h.9M112 887h.9M83.8 880.3h.9M104.9 887.9h.9M100.9 878.7h.9M84.1 902.5h.9M95.8 888.7h.9M101.4 891.5h.9M98.3 884h.9M88.8 886.9h.9M95.2 888.5h.9M86.8 887.6h.9M82.4 901.7h.9M98.6 875h.9M86.7 893.3h.9M104.1 877.6h.9M99.3 890.6h.9M77.5 876.7h.9M92.3 896.2h.9M87.3 885.3h.9M79 880.7h.9M97.9 889.9h.9M85.5 886.8h.9M108.7 882.9h.9M102.9 892.3h.9M79.3 881.7h.9M89.1 881.3h.9M88.8 887.8h.9M99.1 878.3h.9M99.1 877.6h.9M102.5 888.9h.9M88.5 895.1h.9M105.4 892.8h.9M88.1 885.1h.9M94.8 864.9h.9M111.2 884.1h.9M94.2 891.4h.9M87.9 888.2h.9M98.3 886.3h.9M104.6 884.8h.9M78.1 887h.9M89.2 887.7h.9M94.8 890h.9M91.4 872.4h.9M102.6 889.9h.9M80.2 887.1h.9M88.3 893.4h.9M99.9 878.1h.9M91.1 873h.9M98.4 893.4h.9M106.6 894.4h.9M87.8 872.9h.9M93.5 875.5h.9M87.9 888.2h.9M79.2 896.3h.9M89.9 880.6h.9M87.7 883.5h.9M84.6 890.2h.9M89.3 869.9h.9M80.9 887.2h.9M96.8 900.5h.9M92.2 890.8h.9M79.9 882.2h.9M111 896.3h.9M97.3 894.5h.9M85 883.3h.9M94.3 882.5h.9M86.2 879.8h.9M97.1 884.7h.9M78.5 882.6h.9M90.8 879.7h.9M91.2 889h.9M87.8 883.1h.9M88.2 885.8h.9M98.1 901.1h.9M101.6 886h.9M88.2 896.8h.9M87.8 891h.9M94.1 890.3h.9M86.6 877.3h.9M93.8 881.3h.9M97.9 882.2h.9M103.5 878.9h.9M89.3 885.4h.9M89.8 885.1h.9M96.3 890.2h.9M88.5 885.4h.9M91.9 894.8h.9M94.9 880.5h.9M84.7 878.7h.9M81.3 887.6h.9M84.7 898h.9M94.4 875.4h.9M99.3 892h.9M106.6 880.7h.9M95.9 878.4h.9M77.5 895.2h.9M98.4 869.1h.9M106.3 877.9h.9M87.5 884.2h.9M96.5 883.4h.9M76.6 895.8h.9M79 891.3h.9M84.4 879h.9M85.7 888.7h.9M90 891.6h.9M85 885.7h.9M99 886.8h.9M106.2 882.4h.9M90.6 883.9h.9M112.1 879.2h.9M83.9 887.3h.9M80.9 874.2h.9M91.6 874.5h.9M88.3 890.8h.9M98.5 867.6h.9M87 896.9h.9M101.6 871.9h.9M93.1 886.1h.9M118.9 881.1h.9M84.7 883.5h.9M91.6 895.5h.9M89.3 876.2h.9M97.6 885.5h.9M95.7 883.8h.9M94.5 893.3h.9M100.4 894.6h.9M105.6 889.7h.9M107.9 881.8h.9M82 890.6h.9M83.3 899.5h.9M92 899.3h.9M82.1 880.2h.9M100.2 884.5h.9M110 886.8h.9M92 879.6h.9M105.4 872.3h.9M95.3 885.1h.9M93.3 886.7h.9M90.1 889.8h.9M95.8 894.6h.9M83.3 871.8h.9M89.8 887.7h.9M83.6 887.3h.9M93.7 885.7h.9M91.5 887.6h.9M77.9 898.8h.9M89.8 891.3h.9M81.9 889.1h.9M96.3 885.6h.9M107 880.3h.9M118.9 887.9h.9M102.9 867.5h.9M78.6 879.5h.9M107 893.9h.9M104 886.8h.9M102.7 891.8h.9M92.9 870h.9M96 896.2h.9M91.3 877.2h.9M89.3 879.3h.9M110.5 888.3h.9M84.1 879.6h.9M90.1 891h.9M94.4 896.7h.9M92.4 880.9h.9M107.1 886.6h.9M95.4 892.1h.9M97.7 887h.9M89.4 874.5h.9M92.8 898.6h.9M88.7 892.1h.9M86.5 869.4h.9M90.5 879.6h.9M100.6 875h.9M92.8 879.8h.9M90.2 888.8h.9M110.1 874.6h.9M80.5 899.6h.9M79.5 899h.9M94.9 885.8h.9M86.3 879.7h.9M88.7 890.5h.9M86.3 897.2h.9M101.8 879.3h.9M84.7 889.2h.9M99.7 875.8h.9M94.7 881.6h.9M91.5 895.5h.9M94.9 897.8h.9M94.7 882.6h.9M92.7 880h.9M83.5 876.9h.9M110.7 883h.9M84.9 892.2h.9M104.4 886.9h.9M100.7 887.5h.9M94.3 886.7h.9M91.3 896.2h.9M90.6 889.6h.9M91.6 897.7h.9M97.9 892.7h.9M90.4 889.5h.9M90.3 890.8h.9M115.1 881.2h.9M95.9 900h.9M95.8 890.8h.9M83.8 879.9h.9M91 880.3h.9M95.1 892.8h.9M87.8 886h.9M97.2 875h.9M82.5 893.1h.9M90.8 890.5h.9M96 883.9h.9M90.2 893.6h.9M78 889.9h.9M101.2 897.9h.9M78.2 882h.9M88.4 894.5h.9M84.6 896.4h.9M92.8 895.9h.9M86.2 887.1h.9M85.1 885.2h.9M102.2 896.6h.9M110.7 884.4h.9M85.9 883.5h.9M98.4 890.7h.9M91 899h.9M93.6 890.9h.9M101.1 877.5h.9M93.8 893.3h.9M78.9 878.3h.9M85.2 894.5h.9M86.8 895.6h.9M90.3 885h.9M100.6 885.6h.9M77.1 892.2h.9M78.9 886.2h.9M79.3 883.5h.9M103.4 877.6h.9M94.1 897.4h.9M107.7 870.4h.9M80.3 904.2h.9M104 880.4h.9M81.9 883.4h.9M85.5 884h.9M78.2 882.4h.9M79 896.8h.9M92.9 884.7h.9M85.4 878h.9M89.6 882.5h.9M95.1 875.3h.9M95.1 895.4h.9M90 871.9h.9M94.2 877.9h.9M88.8 880.3h.9M95.9 888.7h.9M81.3 891.6h.9M82.6 888.1h.9M110.5 878.8h.9M91.8 889.4h.9M81.7 883.2h.9M106.6 885.3h.9M86.3 877.6h.9M85.5 892.6h.9M101.8 891.9h.9M76.8 881.5h.9M84.3 885.1h.9M95.8 878.5h.9M95.1 892.6h.9M86.8 876.7h.9M90.8 893.5h.9M104.1 885.9h.9M115.6 883h.9M83.7 883.5h.9M98.1 888h.9M115.2 892.4h.9M100.7 877.9h.9M84.4 890.6h.9M85.9 886.1h.9M82.2 880.7h.9M79.5 883.7h.9M85.7 892.4h.9M93.6 885.3h.9M79.2 871h.9M101.4 887.3h.9M91.6 883.8h.9M89 894.4h.9M98.8 878.9h.9M99.7 901.9h.9M91.6 878.8h.9M103.7 888.4h.9M94.5 876.9h.9M90.3 888.3h.9M98.1 875.1h.9M97.1 894.4h.9M121.5 876.4h.9M106 893.4h.9M102.8 881.9h.9M100.7 870.5h.9M89.9 880.2h.9M103.8 879.2h.9M94.4 896.3h.9M84.8 887.6h.9M97.3 887h.9M77.6 900.7h.9M90.5 877.7h.9M82.6 886.7h.9M100.1 888.8h.9M84 891.6h.9M110.4 879.5h.9M96.8 876.9h.9M78 891.6h.9M111.1 885.6h.9M87 882.1h.9M83.6 889.5h.9M98 888h.9M108.1 885.6h.9M82.5 881.1h.9M79.3 886h.9M78.3 888.1h.9M104.7 875.4h.9M105.7 872.2h.9M83.7 876.5h.9M96.1 883.2h.9M92.9 892.5h.9M91.8 891.1h.9M102.7 888h.9M97.7 891.5h.9M92.5 879.3h.9M86.4 882.6h.9M99 882h.9M86 881.1h.9M92.1 888.1h.9M91.8 881h.9M81 898.5h.9M85.8 881.3h.9M89 891.6h.9M95.9 898.1h.9M77.3 886.6h.9M106.2 875.5h.9M100.6 875h.9M100.9 885.3h.9M111.3 883.9h.9M93.7 879.8h.9M88.9 883.2h.9M96.6 886.6h.9M76.9 882.3h.9M104.3 900.3h.9M90.8 884.7h.9M77.8 891.5h.9M96.4 879.8h.9M100.9 881.3h.9M95.9 877.8h.9M94.5 898.2h.9M78 876.2h.9M91.7 884.8h.9M97 889.8h.9M83.5 876.3h.9M98.4 887.7h.9M97.3 894.8h.9M95.2 887.5h.9M102.2 882.6h.9M108.4 878.6h.9M88.1 892h.9M98.4 886.7h.9M85.3 885.7h.9M79.5 885.6h.9M101.1 874.1h.9M78.1 896h.9M97.1 879.8h.9M80.4 898.4h.9M106.2 881.3h.9M96.4 884.7h.9M85.8 879.5h.9M90.2 878.9h.9M98.4 888.4h.9M99.5 883h.9M99.8 884.1h.9M98.2 889.3h.9M87.2 891.8h.9M97.1 881.7h.9M101.2 886.7h.9M102.2 871.5h.9M82.8 882.1h.9M94.3 890h.9M98.6 879.5h.9M94.1 884.8h.9M81.9 873.7h.9M95.2 888.6h.9M94.5 894.9h.9M98.6 874.5h.9M83.6 886.2h.9M93.7 882.8h.9M88.3 867.8h.9M97.8 880.5h.9M88.9 882.7h.9M89.1 876.1h.9M88.2 880.5h.9M91.9 888.1h.9M91.9 888.9h.9M88.3 889.9h.9M119.2 872.8h.9M80.3 883.5h.9M79.1 891.5h.9M81.8 886.4h.9M86 896.3h.9M93.8 894.8h.9M104.9 878.3h.9M104.9 869.1h.9M93.9 887h.9M96.9 891.1h.9M78.9 895.9h.9M83.3 880.7h.9M81.4 897.9h.9M98.7 895h.9M85.3 891.4h.9M100.5 888.2h.9M94.8 881.2h.9M86.5 881.2h.9M94.8 895.2h.9M101.2 885.1h.9M86.9 887.1h.9M100.4 882.9h.9M92.5 891.9h.9M93.3 884h.9M98.2 880.2h.9M104.2 879.8h.9M96.1 883.6h.9M90.5 882.8h.9M98.7 884.7h.9M107.1 877.7h.9M100.5 883.5h.9M89.1 900.6h.9M94 877.6h.9M91.5 892.3h.9M94.2 885.5h.9M86.5 901.3h.9M99.4 897.9h.9M83.4 884.3h.9M84.2 888.8h.9M80.7 880.7h.9M111.7 879.5h.9M84.4 887h.9M91.8 877.5h.9M109 887.7h.9M86.3 891.9h.9M119.1 876.5h.9M77.8 885.1h.9M104.4 881.1h.9M99.2 885.8h.9M98.6 886.8h.9M87.4 883.7h.9M92.5 884.4h.9M105 886h.9M86.3 882.8h.9M92.3 881.7h.9M100.9 883.9h.9M93 889.7h.9M85.6 884.9h.9M108 887.2h.9M94.4 884.8h.9M88.1 882.1h.9M83.1 889.8h.9M77.1 879.5h.9M96.1 870.4h.9M101.7 885.7h.9M82.7 882.9h.9M103.4 890.3h.9M117.1 880.6h.9M111.5 873.1h.9M100.8 883.2h.9M102 871.6h.9M82.8 880.2h.9M98.7 882.7h.9M79.4 894.9h.9M85 888.2h.9M94.2 884.8h.9M112.2 874.5h.9M99 884.5h.9M95.7 891.2h.9M91.8 895h.9M78 893.4h.9M97.6 885.3h.9M88.2 890.2h.9M94.7 889.4h.9M80.6 886.1h.9M91.4 883.5h.9M94.8 880.3h.9M109.2 895.4h.9M102.4 889h.9M111.5 874.4h.9M94.5 885.7h.9M97 887h.9M96.2 884.1h.9M79.6 882.6h.9M116.9 889.5h.9M98.6 874.7h.9M90.5 893.5h.9M81.7 890h.9M95.2 878.7h.9M99.6 882.4h.9M88.2 872.8h.9M93.6 887.8h.9M90.7 892.3h.9M89.7 882.7h.9M105.7 884.1h.9M99.9 863.9h.9M89.4 876.5h.9M80.5 897.2h.9M77.5 892.4h.9M97 884.2h.9M81.8 888h.9M99.6 889.9h.9M102 874.7h.9M114.5 886.2h.9M88.5 892.8h.9M108.5 888.9h.9M82.6 897.8h.9M98.7 891.9h.9M97 888.1h.9M107.4 890h.9M100 880.1h.9M90 886.3h.9M110.1 890.9h.9M102.9 898.6h.9M105.1 868.9h.9M84.8 895.9h.9M91.2 876.5h.9M87 889.5h.9M98.1 879.6h.9M89.2 888.7h.9M87.7 885.2h.9M78 893.8h.9M95.7 890.1h.9M101.9 880.2h.9M103.1 887.8h.9M114.7 888.1h.9M89.4 888.3h.9M90 888.7h.9M99 869.7h.9M91.3 880.3h.9M82.9 884.2h.9M88.5 886.1h.9M107.6 870.1h.9M100.6 890.2h.9M97.4 870.5h.9M114.7 872.6h.9M115 853.3h.9M106.5 875.7h.9M97.9 897.5h.9M109.8 875.3h.9M87.6 894.8h.9M106.4 889.5h.9M128.5 866h.9M127.6 878.3h.9M90.8 879.3h.9M114.8 873.4h.9M83.3 867h.9M83 876.6h.9M108.8 880.2h.9M97.1 865.4h.9M114.7 872.7h.9M103.4 856.6h.9M90 877.4h.9M108.6 865.1h.9M136.8 879.8h.9M133.1 852.9h.9M109.6 871.2h.9M106.1 885.6h.9M100.3 868.7h.9M100.4 882.6h.9M86.5 882.4h.9M119.9 857.1h.9M106.5 865.2h.9M103 885.3h.9M119.8 861h.9M115 879.8h.9M114.3 860.5h.9M89.6 881.5h.9M102.3 877.3h.9M88 873.6h.9M85.7 888.2h.9M122.5 862.4h.9M91.5 864.6h.9M97.8 883.1h.9M88 871.1h.9M96 894.5h.9M105.4 888.6h.9M94.6 888.3h.9M152.9 853.2h.9M100.4 880.9h.9M85.4 875.2h.9M89.9 895.3h.9M79.1 870.6h.9M104.2 893.3h.9M112.5 870.4h.9M114.4 862.5h.9M103.7 862h.9M92.3 888.1h.9M132.1 867.8h.9M131 872.1h.9M126.9 863.8h.9M86.2 877h.9M108.2 875h.9M103.6 861.2h.9M106.3 872.6h.9M102.9 866.1h.9M112.4 887.4h.9M94 886.1h.9M115.9 865.3h.9M118.3 862.8h.9M112.9 884.4h.9M95 872.2h.9M103.3 874.4h.9M121.1 874.6h.9M91.2 872.4h.9M114.9 886h.9M85.5 887.5h.9M110.9 891.7h.9M134.9 866.3h.9M100.1 879.8h.9M109.8 856.9h.9M86.5 867.1h.9M92.6 877.5h.9M85.9 880.2h.9M103.6 886.8h.9M80.6 882.9h.9M117.3 866.1h.9M104.7 865.9h.9M102.7 869.5h.9M110.8 894.6h.9M120.8 857.5h.9M109.8 859.1h.9M88.7 896.1h.9M105.1 851.7h.9M80.7 903.5h.9M103 864.9h.9M80.7 874.5h.9M99.6 861.7h.9M108.3 879.1h.9M100.2 869.1h.9M84.9 886.6h.9M97.6 878.9h.9M106.8 845.1h.9M93.4 879.6h.9M106.5 879.2h.9M119.4 852.9h.9M123.6 850.3h.9M123.3 865.6h.9M106.7 893.4h.9M105.4 892.4h.9M101.9 897.5h.9M84.1 874.4h.9M96.8 885.8h.9M110.2 881.3h.9M91.7 880.4h.9M107.9 851.4h.9M117.7 876.2h.9M111.3 847.1h.9M81.4 878.4h.9M85.8 885.2h.9M85.1 889h.9M119.2 875.8h.9M101 864.6h.9M96.5 889.4h.9M91.2 887.2h.9M88.7 874.9h.9M98.9 862.1h.9M97 883.4h.9M136 855.7h.9M105 887.2h.9M93.8 893.4h.9M91.1 890.2h.9M94.8 883.9h.9M125.7 869.1h.9M110.5 883.4h.9M117.3 860.7h.9M91.4 888.8h.9M99.5 881.2h.9M94.9 883.6h.9M108.5 872h.9M104.6 848.1h.9M78.7 881.3h.9M80.2 896.9h.9M107.4 875.2h.9M133.4 865.1h.9M104.5 879.7h.9M133.3 875.1h.9M99.7 869.6h.9M119.7 877.1h.9M105.9 883.5h.9M98.2 847.5h.9M87.9 901.1h.9M94.7 888h.9M120.3 861.1h.9M113.2 872h.9M114.2 867.5h.9M120.7 874.3h.9M82.7 860.8h.9M103.7 878.4h.9M92.3 894.7h.9M105.8 884h.9M100.7 879.9h.9M86.7 874.3h.9M96.6 880h.9M82.1 871.5h.9M109.4 874.7h.9M85.1 882.4h.9M105.4 881.1h.9M108.3 890.6h.9M87.4 893.8h.9M86.3 873.9h.9M97.9 866.8h.9M116.6 859.3h.9M81.9 875.5h.9M90 869.6h.9M103.1 900.3h.9M91.7 874.3h.9M110.2 873.5h.9M122 897.4h.9M80.5 865.1h.9M108.1 878.6h.9M102 901h.9M103.8 877.6h.9M110.6 866h.9M91.5 897h.9M115.8 897.7h.9M119.3 883.1h.9M97.1 882.1h.9M96.7 886.9h.9M109.7 867.6h.9M125.3 859.4h.9M96.7 886.8h.9M101.2 887.7h.9M103.9 868.4h.9M116.1 875.2h.9M110.1 854.2h.9M83.5 889.3h.9M116.3 879.8h.9M114.4 874.2h.9M90.8 902.3h.9M91.3 875.3h.9M89.8 857.2h.9M105.5 881.4h.9M102.7 870.9h.9M106.7 870.2h.9M94.8 878.8h.9M102.9 882h.9M109.3 871.6h.9M77.3 880.2h.9M119 872.1h.9M122.2 859.9h.9M92.4 890h.9M87.1 884.6h.9M83.1 886.4h.9M91.1 886.8h.9M102.4 853.7h.9M136 875.2h.9M79.5 877.5h.9M116.8 868.2h.9M107.9 863.7h.9M82.5 892.3h.9M107 876h.9M80.5 890.5h.9M83.4 894.7h.9M111.3 879.4h.9M132.3 884.2h.9M104.3 875.3h.9M108.4 891.8h.9M108.9 869.5h.9M128.3 871.2h.9M94 883.7h.9M83.7 894.5h.9M128.9 864.5h.9M129.5 885.2h.9M115 881h.9M107.3 882.7h.9M99.3 887.2h.9M78.9 903.5h.9M81 869.4h.9M101 890.8h.9M123.2 861.4h.9M116.6 875.3h.9M96.7 868.9h.9M104.7 858.8h.9M132.6 864.3h.9M90 884h.9M96.7 872.2h.9M85.5 884.4h.9M122.5 863.5h.9M131.6 862.2h.9M108.5 896.1h.9M98.8 885.2h.9M111.2 888.6h.9M99.2 870.4h.9M143.2 876.9h.9M79.5 886.9h.9M84.5 885.6h.9M91.8 862.7h.9M98 878.6h.9M103.1 893.5h.9M94 885.9h.9M98 870.4h.9M79.6 870.4h.9M91.6 885.5h.9M83.6 863.3h.9M119.2 867h.9M79.9 893.4h.9M87.5 884.7h.9M96.9 875.9h.9M86.9 860.7h.9M116.7 869.3h.9M96.7 892h.9M101.8 873.8h.9M95.6 874.6h.9M84.2 889.9h.9M95 888.5h.9M100.6 888.1h.9M79.2 876.7h.9M139.4 853.3h.9M102.3 880.2h.9M119.7 880.6h.9M132.2 879.6h.9M128.7 856.9h.9M92.1 897.4h.9M87.5 880.8h.9M86.3 872.2h.9M76.7 901.6h.9M116.1 870h.9M125.7 883.3h.9M93.1 902.5h.9M102.5 860.3h.9M109.5 867.5h.9M107.9 872.7h.9M135.3 851.2h.9M140 877.4h.9M85.7 876.8h.9M90.2 885.3h.9M104.5 867.4h.9M93.3 871.1h.9M101.5 867.1h.9M89.2 881.1h.9M84.1 879h.9M103.3 885.7h.9M88 869.9h.9M120.1 893.5h.9M114.8 886.7h.9M110.9 866.9h.9M92.2 855.3h.9M118.9 842.6h.9M130.4 854.3h.9M85.2 875.7h.9M118.4 890.3h.9M111.6 884h.9M115.1 881.7h.9M85.1 876h.9M83.3 895.7h.9M94.3 880.2h.9M127.4 866.2h.9M95.7 885.3h.9M122.2 901.8h.9M80.6 869.2h.9M81.1 884.4h.9M86.7 886.4h.9M122.3 893.6h.9M100.4 884.4h.9M90.3 867h.9M109.8 894.7h.9M100.6 849.3h.9M89 894.8h.9M92.6 869.9h.9M101.6 873.9h.9M115.3 870.9h.9M88.1 873.7h.9M90.6 903h.9M105.9 882.9h.9M122.7 857.4h.9M92.8 880.7h.9M86.4 874.2h.9M80.5 888.6h.9M80.6 882.5h.9M115.9 891.7h.9M97.1 888.5h.9M83.9 881.7h.9M82.2 894.3h.9M100.5 875.8h.9M83.2 885h.9M78.4 888.1h.9M93.5 897.7h.9M90 899.8h.9M82.8 900.1h.9M117.5 883h.9M101.3 891.9h.9M103.1 897h.9M103.6 861.7h.9M106.4 873.2h.9M129.8 872.3h.9M119.4 869.5h.9M95.6 892.6h.9M99.4 880.7h.9M85.9 893.9h.9M76.7 882.2h.9M121.1 849h.9M130.1 864.9h.9M96.5 864.7h.9M110 869.4h.9M96.7 868.7h.9M125.3 868.6h.9M123.1 861.6h.9M124.5 866.1h.9M133 859.9h.9M81.3 901.6h.9M87.1 889.7h.9M103.3 893.2h.9M113.3 876.4h.9M93.3 878h.9M115.1 888h.9M112.1 876h.9M108.3 874h.9M99 903.6h.9M80.3 861.6h.9M84.4 877.3h.9M144.5 867.2h.9M98 870.1h.9M94.4 887.7h.9M94.5 881h.9M105.8 883.5h.9M84.1 877.5h.9M97.7 878.8h.9M86.9 877.6h.9M105 863.2h.9M85.5 872.4h.9M101.5 886.1h.9M86.3 855.9h.9M128 860.6h.9M123.9 853.4h.9M77.8 891.7h.9M81.8 882.3h.9M92.3 886.4h.9M86.4 862h.9M86.8 890.1h.9M100.6 872.6h.9M87.6 883.5h.9M94.1 876.9h.9M117.9 896.9h.9M79.1 886h.9M104.1 868.3h.9M119.8 883.4h.9M101.8 878.8h.9M104.1 884.3h.9M91.3 865.1h.9M86.7 871.9h.9M88.3 888h.9M78.1 880.3h.9M96.4 886h.9M114.3 893.6h.9M85.6 896.3h.9M86.9 864.4h.9M83.2 872h.9M85.7 860.1h.9M95 873.6h.9M119.6 858.2h.9M94.2 884h.9M99 881.7h.9M94.2 886.4h.9M88.1 875.5h.9M97.3 892.1h.9M139.6 870.4h.9M97.4 872.4h.9M107.1 881h.9M105.5 886.8h.9M84.8 891.2h.9M96.5 876.9h.9M82 894.7h.9M106.2 875h.9M92.1 882.5h.9M110.1 871.2h.9M100.7 886h.9M112 872.6h.9M103.7 871.4h.9M102.9 851.8h.9M91.3 883.7h.9M109.8 891h.9M109 896.6h.9M100.8 884.3h.9M78.7 892.4h.9M118.1 875h.9M103.8 857.2h.9M86.3 873.4h.9M110.2 881.8h.9M115.5 867.2h.9M107.9 874.4h.9M97.6 892.1h.9M90.6 869.7h.9M81.6 887h.9M78.1 874.7h.9M96 881h.9M91.3 895.9h.9M102 887.2h.9M116 878.6h.9M105.8 886.5h.9M105.2 878.6h.9M95.3 889h.9M84.1 891.5h.9M137.2 863.3h.9M113.8 883.2h.9M81.1 899.4h.9M87.7 876.9h.9M84.4 872.3h.9M97.5 876.5h.9M110.8 895.6h.9M113.7 879.5h.9M88.2 855h.9M85.1 893.5h.9M107.8 862.5h.9M83.9 886.3h.9M99.1 859.5h.9M117.1 841.2h.9M107 895h.9M114.7 889.7h.9M106.4 882.1h.9M117.2 894.8h.9M84.7 850.7h.9M77.6 886.5h.9M96.7 871.2h.9M90.6 873.5h.9M93.8 862.7h.9M111.5 889.5h.9M107.1 880.2h.9M101.2 883.6h.9M101.9 869.6h.9M120.3 882.7h.9M83.4 893.2h.9M86.5 874.5h.9M117.6 862.1h.9M88.2 864.4h.9M114.9 859.2h.9M93.5 884.8h.9M120.3 876.4h.9M84.1 883.5h.9M93.1 893.2h.9M108.7 872.7h.9M95.8 888.5h.9M90.9 892.1h.9M77.4 888.2h.9M116.1 897.3h.9M101.9 879.4h.9M120.4 871.7h.9M88.3 864.8h.9M97.1 891.4h.9M125.6 861.8h.9M92 876.3h.9M94.8 883.4h.9M89.7 881h.9M124.6 841.6h.9M123.4 839.5h.9M112.2 867.9h.9M94.7 882.7h.9M88.1 889.8h.9M102.9 873h.9M93.6 870.4h.9M112.7 861.3h.9M88.3 883.3h.9M101 858.5h.9M93.4 876.7h.9M86.9 860.6h.9M79.7 881.4h.9M90.2 893.9h.9M94.4 874.5h.9M102.7 875.9h.9M92.5 882.4h.9M80.1 877.1h.9M112.9 865.8h.9M95 875.2h.9M108.1 881.4h.9M99.8 868.3h.9M83.6 889.7h.9M89 890.6h.9M108.3 864.9h.9M131.1 864.3h.9M107.9 881.1h.9M87.9 889.9h.9M119.6 872.3h.9M78.1 876.2h.9M128.2 888.7h.9M85 872.5h.9M120 860.3h.9M98.6 867.3h.9M93.3 862.3h.9M101.9 877h.9M94.1 874.2h.9M95.4 903.8h.9M116 874.9h.9M82.3 877.4h.9M79.2 897.4h.9M98.4 887h.9M124.4 900.4h.9M108.1 880.6h.9M95.7 879.4h.9M84.5 883.3h.9M109.8 875.9h.9M90.3 860.2h.9M100.6 869.6h.9M86.8 863.5h.9M103.2 878.6h.9M93 841.4h.9M102.6 874.8h.9M104.2 854.3h.9M101.3 883.1h.9M81.4 891.2h.9M99.9 864h.9M76.7 888.6h.9M115.4 874.1h.9M103.6 878.8h.9M105 879.5h.9M118.2 852.9h.9M80.3 887.5h.9M126.9 866.9h.9M98.4 877.5h.9M114.9 867.7h.9M106.6 886.5h.9M114.4 894.7h.9M134.9 879.5h.9M97 870.6h.9M91.4 873.7h.9M103.3 883.9h.9M117.3 873.2h.9M103 901.5h.9M83.7 892h.9M89.3 872.5h.9M100.1 859.8h.9M97.7 881.2h.9M112.3 893.1h.9M80.3 877.1h.9M120.5 868.2h.9M104.5 877.6h.9M100.8 869.7h.9M102.5 889.5h.9M113.4 886.7h.9M95.8 880.1h.9M85.9 861.6h.9M108.4 867.8h.9M91.5 880.8h.9M96.4 880.3h.9M93.5 882.1h.9M80.7 886.2h.9M89.1 892.2h.9M126.8 857.2h.9M118.9 876.1h.9M105.2 882h.9M106.9 886.5h.9M116.1 866.5h.9M77.8 893.6h.9M103.9 896.4h.9M91 900.9h.9M79.1 899h.9M97.8 899.7h.9M106.2 870.8h.9M117.8 880.8h.9M93 873.5h.9M99.8 871.9h.9M109.7 878.7h.9M103.8 864.9h.9M103.5 878.6h.9M113 888.9h.9M101.1 861h.9M85 879.5h.9M104.8 869.1h.9M106 872h.9M116.9 878.5h.9M87.7 896.3h.9M100.4 871.3h.9M98.7 892.3h.9M115.8 888.4h.9M113.7 893.6h.9M95.9 867.2h.9M102.9 871.7h.9M103.5 885h.9M86.3 895.4h.9M104.1 870.5h.9M89.7 892.2h.9M124 867.1h.9M101 886.5h.9M91 862.5h.9M133.4 860.5h.9M105.1 869h.9M102 877.5h.9M143.9 847.1h.9M115.2 877.9h.9M113.3 878h.9M107.5 883.2h.9M97.8 864h.9M114 866.9h.9M113.3 869.8h.9M88.3 880.3h.9M117.5 862.2h.9M115.5 854.1h.9M117.8 865.7h.9M132.1 895.2h.9M103.6 843h.9M100.6 898.8h.9M133.1 859.3h.9M127.3 868.5h.9M81.7 859.4h.9M105.4 854.6h.9M136 857.3h.9M128.9 853.9h.9M119.5 831.8h.9M102.6 864.3h.9M130 854.5h.9M134.5 843h.9M153.4 863.1h.9M126.3 876.4h.9M109.4 845.7h.9M114.6 853.1h.9M100 853.8h.9M106.7 864.6h.9M111.4 878.3h.9M97.2 872.8h.9M103.9 859.4h.9M98.8 855.1h.9M123.2 883h.9M110.1 883.8h.9M115.8 867h.9M107.4 839.2h.9M116.6 875.6h.9M154.8 846.6h.9M119.7 839h.9M80.5 896.5h.9M81.9 880.2h.9M116.7 833.5h.9M126.2 849.7h.9M98 861.9h.9M106.6 851.8h.9M107.7 872.4h.9M107.6 880.1h.9M118.8 850.4h.9M96.4 901.9h.9M91.8 871.7h.9M129.8 885.9h.9M92.8 875.1h.9M111.7 878.4h.9M120.4 882.8h.9M126.2 874.5h.9M100.2 848.9h.9M144 847.2h.9M157.4 845.2h.9M78.3 887.2h.9M95.5 834.1h.9M96.9 868.3h.9M102.4 862.6h.9M82.2 843.1h.9M116.6 863.3h.9M107 841.8h.9M158.6 834.5h.9M131.4 841.4h.9M84.9 873.6h.9M104.1 869.8h.9M122.5 817.7h.9M107.9 822.9h.9M114.3 872.9h.9M104.9 870h.9M135.3 854.3h.9M119.7 857.6h.9M120.5 864.1h.9M93.4 845.3h.9M79.9 873.5h.9M105.3 869.6h.9M124 869.5h.9M141.5 861h.9M94.8 862.4h.9M118.6 860.8h.9M121.4 843.1h.9M104.9 864.5h.9M119.6 860.8h.9M141 842h.9M98.1 866.9h.9M124.7 876h.9M111.9 849.2h.9M133 894.5h.9M111 862.8h.9M130.4 864.2h.9M108.8 878.8h.9M108 849.7h.9M112.1 856.4h.9M107.2 873.6h.9M100 872.5h.9M94.9 816.5h.9M84.5 900.2h.9M130.7 847.3h.9M95.3 854.1h.9M102.4 873.6h.9M93.6 852.6h.9M78.8 880.3h.9M106.6 845.3h.9M108.8 859.3h.9M125.3 854.4h.9M113.9 876.1h.9M114 870.7h.9M143.2 842.8h.9M87.6 830.4h.9M103.9 848.2h.9M96 873.1h.9M101.9 876.7h.9M98.2 845.7h.9M98.6 859.5h.9M124.6 881.5h.9M135.4 873.3h.9M119.7 864.3h.9M134.3 815.8h.9M118.9 853.1h.9M90.6 859.7h.9M101.9 864.1h.9M117.5 831.4h.9M149 867.4h.9M139.9 877.6h.9M116.7 853.8h.9M136 846.2h.9M112.8 851.8h.9M114.6 858.5h.9M129.2 864.1h.9M117 885.4h.9M97.3 865.7h.9M77.5 872.1h.9M96.6 890.5h.9M103.6 841.3h.9M107.3 879.2h.9M148.2 864.5h.9M91.1 878.9h.9M81.6 881.7h.9M94.7 876.4h.9M94.9 897.2h.9M93.9 863h.9M113.4 871h.9M92.6 846.4h.9M97.3 869.4h.9M109.2 859.9h.9M93.3 855.5h.9M117.7 851.5h.9M117.5 892.2h.9M103.2 871.6h.9M115.8 860.2h.9M80.6 850.9h.9M92.5 857.6h.9M85.7 874.7h.9M98.7 868.4h.9M99.9 890.3h.9M102.9 863.2h.9M81.9 867.9h.9M81 870.4h.9M139.4 851.2h.9M150.9 844.2h.9M138.3 852.9h.9M111.7 871.4h.9M121.6 848.5h.9M96.3 841.1h.9M100 875h.9M124.9 883.1h.9M116.1 856.5h.9M141.3 861.1h.9M144 834.7h.9M113 862.8h.9M89.4 859.7h.9M107.2 855.5h.9M95.1 858.3h.9M80.9 864.1h.9M125.5 857.8h.9M148 870.6h.9M154.4 850h.9M153.9 821.1h.9M144.8 860.3h.9M150 844.7h.9M142.2 874.7h.9M153.1 859.9h.9M152.2 868.8h.9M144.2 854.2h.9M147.5 830.5h.9M157.9 831.3h.9M148.7 848h.9M147.3 873.8h.9M139.1 864.8h.9M156.2 845.3h.9M160.9 828.8h.9M149.1 868.1h.9M144.3 863.3h.9M157.9 845.7h.9M148.4 867.5h.9M144.1 886.8h.9M160.2 840.4h.9M144.3 864.8h.9M151.8 859.1h.9M143.3 863.5h.9M157.1 825.2h.9M143.7 880.9h.9M147.2 834.9h.9M156.4 867.1h.9M149.8 856.4h.9M145.4 856.3h.9M139.1 883.9h.9M149.6 832h.9M154.2 857h.9M150 849.1h.9M147.4 837.2h.9M157.7 844.2h.9M147.2 840.7h.9M149.7 851.8h.9M154.1 836.2h.9M149.6 850.9h.9M153.2 834.7h.9M141.5 844h.9M135.9 864.3h.9M150.4 861.2h.9M145.8 846.4h.9M152.9 855.8h.9M147.5 840.8h.9M141 868.7h.9M148.4 858.6h.9M147.7 855.5h.9M146.6 875.3h.9M155.3 860.1h.9M145.7 859.2h.9M146.9 865.5h.9M155.7 842.2h.9M145.6 870.2h.9M142.4 875.7h.9M151.2 849.4h.9M151.9 855.7h.9M140 850.1h.9M146.5 855.2h.9M150.4 866.7h.9M152.3 850.3h.9M153.8 836.4h.9M148.9 855.2h.9M146 841.4h.9M146.7 869.5h.9M156.6 854.9h.9M155 842.4h.9M139.8 863.7h.9M149 829.2h.9M147.2 840.6h.9M154.3 848h.9M153.8 846.5h.9M155.2 868.2h.9M155.7 849.3h.9M144.8 853.8h.9M148.7 863.1h.9M146.2 861.7h.9M146.6 828h.9M152.5 855.6h.9M150.9 873.8h.9M145.8 870.8h.9M156.3 853.4h.9M153.9 863.4h.9M145.5 876.5h.9M148.7 849.9h.9M153.6 856.1h.9M156.9 834.9h.9M146 864.1h.9M146.2 876.9h.9M153.1 857h.9M159.9 836.9h.9M152.8 850.1h.9M159.1 835.8h.9M150.8 863.5h.9M145.4 861.6h.9M154.7 851.4h.9M155.6 880.1h.9M144.2 865.2h.9M157.2 834.9h.9M148.6 828.2h.9M145 865.5h.9M150.5 867.4h.9M158.1 838h.9M152.1 845.4h.9M151.5 826.2h.9M150 885.6h.9M155 837.1h.9M151 856.3h.9M144.5 845h.9M150.2 854h.9M145.4 860.4h.9M146.3 831.2h.9M154.7 809.4h.9M156.2 865.8h.9M155.7 836.4h.9M150.5 849.7h.9M148.2 866.6h.9M155.9 808.5h.9M149.7 866h.9M148.3 855.9h.9M141.9 877.2h.9M146.9 855.4h.9M152.3 854.6h.9M150.6 862.1h.9M141.2 882.5h.9M147.5 865.9h.9M151.1 862.2h.9M145.5 860h.9M159.1 836.8h.9M147.9 840.3h.9M145.1 876h.9M156 860.1h.9M150.5 836.4h.9M143.5 853.8h.9M147.6 844.7h.9M147 852.1h.9M150.9 873.3h.9M152.1 845.5h.9M149.7 850h.9M149 857h.9M150.3 854.8h.9M156.9 842.9h.9M147.4 858.7h.9M145.3 862.2h.9M148.8 852.1h.9M142.4 894.5h.9M153.8 834.4h.9M148.8 849.3h.9M148.9 850.4h.9M141.9 888.1h.9M147.9 844.7h.9M148 851.7h.9M146.8 882.8h.9M153.2 848.4h.9M150.7 854.6h.9M148 822.4h.9M150.4 884.1h.9M162.7 848.1h.9M148.4 854.4h.9M144 862.9h.9M152.8 838.7h.9M153.7 861h.9M145.8 867.3h.9M156.1 830.2h.9M147.5 870.4h.9M154.7 858.1h.9M153.9 840.6h.9M150.3 861.3h.9M142.6 857.3h.9M149.1 846.6h.9M149.6 865.6h.9M160.2 847.6h.9M151.5 866.5h.9M149.6 870h.9M143.5 864h.9M148.9 853.8h.9M140.9 855.4h.9M144 848.3h.9M144.5 859.4h.9M146.5 851.6h.9M147.7 853.5h.9M144.5 857.3h.9M149.5 858.1h.9M142.6 867.7h.9M153.8 845.5h.9M151.5 816.4h.9M147.9 861.1h.9M149.5 846.7h.9M147 846.3h.9M151.9 854.2h.9M146.7 851.4h.9M148.8 871.4h.9M146.4 860h.9M150.3 849.9h.9M148.3 846.4h.9M157.7 846.2h.9M152.5 861.4h.9M166.6 816.2h.9M141.9 868.4h.9M157.2 854h.9M152.4 847h.9M149.6 874h.9M148.8 860.8h.9M148 868.7h.9M149.3 847.9h.9M150.6 876.1h.9M149.7 853.4h.9M152.9 855.7h.9M149 868.9h.9M157.8 854.1h.9M154.3 832.2h.9M153.8 861.7h.9M149.4 846.5h.9M146.6 855.8h.9M145.8 891.4h.9M151.1 840.9h.9M149 855.6h.9M150.6 838.7h.9M149.3 843.8h.9M161.9 822.3h.9M143.7 872.5h.9M149.3 864.7h.9M138.8 868.4h.9M147.5 895.2h.9M151.7 855.7h.9M156.3 837.7h.9M147.6 849.3h.9M142.2 860.3h.9M147.6 859.2h.9M157.7 869.6h.9M151.6 836.7h.9M148.7 872.3h.9M146.3 870.1h.9M154 850h.9M145.8 852.1h.9M150.7 850.4h.9M146.8 882.8h.9M155.4 851.9h.9M156.1 860.4h.9M142.7 836.4h.9M146.3 870.9h.9M142 863.2h.9M146.4 855.8h.9M152.5 854.6h.9M155.7 846.1h.9M155.4 851.1h.9M142 852.5h.9M142.6 863.9h.9M140.3 882.1h.9M146.2 855.5h.9M151.2 842.7h.9M153.1 844.4h.9M147.7 866.7h.9M144.8 877h.9M150.8 884.2h.9M141.4 883.6h.9M148.9 851.6h.9M144 858.9h.9M148 849.8h.9M152.5 852.8h.9M142.2 852.1h.9M145.9 861.3h.9M145.4 866.4h.9M148.7 848.3h.9M148.9 859.6h.9M147.7 854h.9M148.4 843.5h.9M151.8 836h.9M148.9 854.4h.9M142.2 859.4h.9M140 869.1h.9M144.9 871.2h.9M151 866.3h.9M146.1 873.5h.9M145.6 860.8h.9M155.9 838.3h.9M138.6 853.7h.9M152.1 859.6h.9M152 858h.9M151.2 874.3h.9M150.1 848.7h.9M147.9 860.3h.9M142.4 886.6h.9M154.6 860.5h.9M145.9 853.6h.9M148.3 878.3h.9M153.2 851.9h.9M153.4 835h.9M144.4 864.6h.9M158.5 866.5h.9M151.8 846.1h.9M149.2 853.4h.9M147.7 851.8h.9M147.5 845.6h.9M154 851.8h.9M155.7 858.1h.9M158.6 832.6h.9M147.9 862.1h.9M142.3 856.7h.9M143.2 883.7h.9M152.9 846.7h.9M150.5 853h.9M148.9 848.6h.9M147.4 837h.9M149.8 840.7h.9M152.6 861.7h.9M145.4 857.2h.9M145.7 869.2h.9M153.1 850.2h.9M147.5 838.3h.9M141.4 860.7h.9M151.4 858.3h.9M153.6 847.8h.9M149.3 863.3h.9M144.4 848.1h.9M151.8 835.2h.9M154.6 867.1h.9M145.9 838h.9M149.5 863.9h.9M148.4 846.3h.9M148.7 867.9h.9M142.3 870.1h.9M144.7 839.2h.9M151.7 856.3h.9M149.3 860.9h.9M145.4 891.9h.9M145.5 839.2h.9M146.7 888.4h.9M152.9 870h.9M148.8 844.6h.9M147.7 878.4h.9M150.2 835.2h.9M150.7 874.2h.9M149.3 832.2h.9M148.3 860.6h.9M150.7 873.2h.9M153.6 840.3h.9M145.7 854.3h.9M153.2 828h.9M158.7 861.5h.9M148.7 858.5h.9M158.5 860.3h.9M150.5 836.5h.9M146.3 860.2h.9M147.2 882.1h.9M152.8 868h.9M143.8 868.5h.9M146.6 867.8h.9M155.4 868.9h.9M148.5 855.1h.9M152.2 872.7h.9M160.3 841h.9M141.3 853.9h.9M151.3 845.4h.9M141.3 842.3h.9M143.2 845.5h.9M147.3 864.1h.9M153.1 867.7h.9M143.5 879.8h.9M155.2 860.2h.9M148.4 861.4h.9M151.5 850.3h.9M148.8 860.2h.9M150.7 881.5h.9M148.9 857.5h.9M154.6 857.6h.9M149.6 828.7h.9M146.7 849.7h.9M152.4 829.6h.9M143.7 862.2h.9M147.8 833.4h.9M148.6 879.7h.9M150.9 852h.9M148.4 832.4h.9M156.3 843.1h.9M150.1 833.9h.9M149.4 864.1h.9M144 858.9h.9M147 858.8h.9M154.7 850.9h.9M152.4 872.9h.9M144.2 861h.9M149.4 841h.9M148.8 846.7h.9M143.8 878h.9M156.1 833.4h.9M149.3 845.8h.9M152.7 872.7h.9M145.2 836.5h.9M151.1 858.9h.9M154.4 850.2h.9M150.5 823.9h.9M149.8 844.1h.9M145.5 849.3h.9M145.5 860.3h.9M146.5 846.6h.9M154.8 850.4h.9M147.9 841h.9M155.2 866.9h.9M152.9 867h.9M146.8 856.1h.9M147.2 866.3h.9M141.5 872.5h.9M143 849.4h.9M151.1 868.6h.9M152 851.9h.9M149.2 865.1h.9M153.3 871.4h.9M149.1 860.1h.9M148.8 856.4h.9M151.3 843.6h.9M158 831h.9M141.1 876h.9M147.7 862.6h.9M158.6 850.2h.9M148.4 867.7h.9M149.2 841.7h.9M158 849h.9M147.7 869.3h.9M159.6 817.4h.9M147.2 861.2h.9M152.2 860h.9M144.7 877.1h.9M150.9 861.3h.9M155.9 838.5h.9M141.6 875.4h.9M145.4 864.8h.9M148.7 875.5h.9M147.7 888.1h.9M149.9 841.6h.9M151.8 865.7h.9M157.2 851.7h.9M148.9 848.4h.9M144.9 860.7h.9M149.2 870h.9M151.7 837.7h.9M148 872.7h.9M152.7 866.6h.9M151.2 834.5h.9M153.3 856.8h.9M156.1 838.1h.9M148.8 842.9h.9M144.6 840.9h.9M142.3 854.5h.9M154.5 862.3h.9M163.3 852h.9M149.2 872.1h.9M153.3 844.9h.9M151.4 866.1h.9M146.8 867.4h.9M146 883.4h.9M147.5 849.8h.9M148.1 882.1h.9M149.7 877.7h.9M153.5 847.8h.9M145 854.1h.9M153.9 864.6h.9M152.1 856.7h.9M148.2 865.1h.9M149.1 862.4h.9M146.1 844.3h.9M146.5 874.5h.9M148.9 858.7h.9M155 854.4h.9M149.8 854.9h.9M146.8 870.9h.9M148.3 865.6h.9M146.8 876h.9M145.5 865.8h.9M149.4 869.6h.9M145.6 860.7h.9M149.9 841.6h.9M142.5 858.1h.9M152.1 846.1h.9M148.1 867.9h.9M142.5 875h.9M147.9 853.8h.9M153.7 860.6h.9M149.4 848.4h.9M145.3 835h.9M155.6 861.8h.9M156.7 844h.9M154.2 819.2h.9M147.2 857.1h.9M146 852.4h.9M145.1 883.2h.9M150 849.2h.9M141.6 867.4h.9M149.4 860.1h.9M152.3 841.7h.9M151.7 866.9h.9M149.7 854.6h.9M142.3 844h.9M147.1 861h.9M142.6 862.5h.9M148.8 862.8h.9M143.4 886.5h.9M149.8 868.2h.9M152.7 853.2h.9M152.7 836.2h.9M143.9 848.2h.9M151.3 871.6h.9M140.6 872.7h.9M144 885.3h.9M138.7 889.4h.9M147.5 864.9h.9M154.2 866.1h.9M153.2 852.2h.9M149.9 863.1h.9M146.7 866h.9M152.7 847.3h.9M145.5 831.5h.9M143 863.2h.9M148.2 887.6h.9M148 853.2h.9M152.6 871.9h.9M142.6 864.3h.9M152.1 879h.9M152.9 840.5h.9M156.7 825.4h.9M148.1 875.4h.9M158.5 882.8h.9M147.8 834.6h.9M147.4 847.3h.9M147.4 849.2h.9M158.6 842.8h.9M156.5 820.5h.9M151.4 843.1h.9M144.6 839.5h.9M152.4 861.9h.9M148.8 889.3h.9M153.2 884.8h.9M148.5 854.3h.9M146.9 850.3h.9M149.4 859.8h.9M148.1 857.2h.9M145.4 849.4h.9M153.9 858.3h.9M153.9 884h.9M154.4 844.2h.9M149.5 848.1h.9M145.3 863.4h.9M150.3 859.7h.9M145.7 849h.9M153.6 846.2h.9M148.3 856.7h.9M147.4 849.6h.9M154.8 828.5h.9M145.6 882.1h.9M149.1 846.7h.9M150.3 870.4h.9M148.1 847.1h.9M148.5 833.3h.9M139.3 877.8h.9M162.3 849.5h.9M143.9 862.6h.9M149.3 870h.9M153 867h.9M140.5 864.3h.9M150 837.5h.9M149.8 888.2h.9M147.1 864h.9M155.3 849.2h.9M149.2 853.3h.9M150.5 857.5h.9M158.4 835.7h.9M145.1 849.3h.9M141.6 857h.9M153.9 855.3h.9M156 872.4h.9M149.6 848.8h.9M151.8 843.8h.9M145.6 865.9h.9M154.1 846.7h.9M150.4 869.4h.9M149.8 871.3h.9M144.8 852.8h.9M148.7 847.4h.9M149.9 860.6h.9M155.3 856.3h.9M147.4 842.3h.9M141.5 854.4h.9M152.7 854.2h.9M152.9 852.6h.9M147.9 858.7h.9M140 890.7h.9M140.3 835.5h.9M150.2 848.9h.9M151.7 849.5h.9M143.6 876.7h.9M147.9 860.3h.9M143.4 863.9h.9M145.1 874.3h.9M151.8 829.3h.9M140.5 891.4h.9M145.1 872.6h.9M149.7 828.4h.9M148.7 887.9h.9M151 859.5h.9M146.4 847h.9M142.5 864.3h.9M149.9 879.1h.9M150.3 871.8h.9M147.1 861.4h.9M144.7 853.9h.9M140.6 874.7h.9M149.4 835.8h.9M149.3 853.7h.9M146.7 862h.9M152.5 853.4h.9M148.8 845.1h.9M149.6 843.8h.9M160.4 844.2h.9M148 849.4h.9M151 853.7h.9M145.1 862.3h.9M155.9 840.9h.9M151 817.5h.9M149.8 853.6h.9M147.4 872h.9M154.9 858.4h.9M146.3 845.4h.9M149.7 848.8h.9M145.4 841.9h.9M152.5 873.5h.9M151.2 876.7h.9M151.2 866.7h.9M140.2 887.2h.9M156.6 842.9h.9M149 870.3h.9M155.6 860.3h.9M151.9 844.8h.9M152 870.9h.9M146.7 867.9h.9M153 841.8h.9M147.3 865.9h.9M149.1 836.9h.9M151.7 861.6h.9M153.1 855h.9M135.2 867.4h.9M140.3 848.7h.9M156 863.9h.9M158.7 836h.9M150.8 852.2h.9M152 837.9h.9M155.4 851.5h.9M149.2 855.3h.9M155.4 863.4h.9M154.7 849.7h.9M149.8 876.8h.9M147.9 851.1h.9M154.8 841.6h.9M141.3 879.3h.9M150.9 867h.9M149.1 856.9h.9M144.4 856h.9M143.1 866.1h.9M147.8 871.8h.9M146 869.3h.9M157.5 813.8h.9M149.2 865.9h.9M146.3 849.7h.9M145.6 878.4h.9M153.9 844.4h.9M150.3 857.1h.9M149.2 855.5h.9M151.7 871h.9M155.7 847.4h.9M152.4 859.9h.9M147.7 833.9h.9M147.9 859.2h.9M148.7 873.2h.9M146.3 825.4h.9M152.5 848.6h.9M146.4 868.4h.9M156.2 857h.9M148.1 883.7h.9M152.1 840.9h.9M153.2 842.1h.9M146.8 855.6h.9M152.6 856.8h.9M153.2 885.5h.9M155.1 876h.9M149.1 862.5h.9M150.6 834.2h.9M154.7 861.3h.9M148.7 861.2h.9M150 855.5h.9M151.6 818h.9M153.1 867.2h.9M136.7 880.9h.9M139.8 863.3h.9M147.8 848.3h.9M147.2 867.8h.9M149.4 828.2h.9M144.5 866.4h.9M152.8 845.2h.9M156.7 855.7h.9M137.9 891.4h.9M150.2 868.7h.9M150.7 857.8h.9M154.3 862.3h.9M147.6 839.5h.9M143.3 867.2h.9M145.9 860.3h.9M143.9 870.3h.9M150.2 841.8h.9M154.8 838.4h.9M150.2 835.7h.9M147.9 853.2h.9M155.5 849h.9M140.2 883h.9M147.2 863.2h.9M142.5 853.2h.9M147.8 861.6h.9M148.5 846.7h.9M151.6 833.8h.9M149.6 854.5h.9M142.8 859.2h.9M145.6 873.4h.9M150.5 828h.9M145.7 858.7h.9M150.6 855.1h.9M143.9 858.4h.9M149.6 839h.9M145.3 863.4h.9M146.9 875.3h.9M159 849.2h.9M150 842.7h.9M152.3 850.1h.9M151.1 844.8h.9M142.1 870.7h.9M143.6 865.3h.9M152.2 864.4h.9M146 873.7h.9M146.3 854.4h.9M149.1 863.4h.9M147.1 841.7h.9M152.3 845.5h.9M147.1 862.5h.9M152 839.9h.9M143.5 847.3h.9M149.4 862.2h.9M153.3 873.5h.9M157.3 834.9h.9M148.7 863.9h.9M144 878.9h.9M146.3 867.2h.9M146.8 843.2h.9M150.4 854.6h.9M144.1 857.2h.9M146.2 843.3h.9M146.1 875.3h.9M154.1 838.6h.9M151.5 861.4h.9M151.1 843h.9M149.2 872.9h.9M155.4 843h.9M145.4 865.8h.9M147.7 856.5h.9M142.5 876.5h.9M149.1 844.2h.9M150.4 881.9h.9M142.4 867.5h.9M156.9 864.4h.9M147.1 830h.9M154.6 827.7h.9M155.7 845h.9M155.1 854.2h.9M150 851.6h.9M156.9 855.1h.9M153.1 829h.9M156.8 848.6h.9M152.2 855.6h.9M153.8 847.2h.9M148.1 859h.9M150.3 861.9h.9M152.6 855h.9M147.1 872.6h.9M139.7 873.1h.9M145.8 873.8h.9M152.1 831.4h.9M145.4 864.5h.9M158.9 867.6h.9M147.5 859.9h.9M139.3 880.4h.9M151.3 845h.9M143.1 866.8h.9M146.3 877.3h.9M150.7 858.4h.9M142.3 856.5h.9M146.3 829.4h.9M151.9 847.7h.9M153.9 861.2h.9M148.1 861.1h.9M147.3 840.4h.9M153.2 842h.9M146.1 852.9h.9M145 865.6h.9M154.3 870.9h.9M149.4 856.4h.9M147 878.1h.9M151.9 851.7h.9M151.4 852.4h.9M146 862.1h.9M153.4 846.6h.9M146.9 855.6h.9M155.9 829.6h.9M144.3 857.3h.9M148.3 872.6h.9M148.1 844.9h.9M155.3 864.9h.9M139.4 870.1h.9M148.3 854.5h.9M147.9 864.4h.9M156.8 836.6h.9M152.7 849.2h.9M147.9 882.8h.9M142.4 842.8h.9M153.7 857h.9M157.1 835.3h.9M152.6 868.9h.9M151.9 855.6h.9M146.1 859.4h.9M145.5 869.1h.9M143.3 871.6h.9M150.7 853.1h.9M154.4 852.5h.9M149.2 865.9h.9M150 847.6h.9M151.1 864.3h.9M151.3 902.4h.9M145.8 864.9h.9M149.6 862.4h.9M149.8 854.3h.9M141.1 846.1h.9M153.7 872.1h.9M155.6 851.2h.9M150.8 860.1h.9M147.1 880.2h.9M151.6 851.2h.9M149.4 857.8h.9M151.7 837.3h.9M143.4 869.1h.9M148.5 871.2h.9M147.7 855.1h.9M150.3 853.2h.9M155.5 854.8h.9M143.1 879.4h.9M146.7 872.3h.9M142.3 858.8h.9M149.3 869.6h.9M153.5 833.5h.9M142.4 895.2h.9M143 880h.9M149.6 895.8h.9M147 875.1h.9M140.8 876.5h.9M149.8 857.5h.9M151.2 837.5h.9M151.9 855.3h.9M151.9 837.5h.9M151.5 851.1h.9M145.6 863.7h.9M151.2 862.4h.9M155.9 835.8h.9M161.3 839h.9M143.6 841.2h.9M147 855.8h.9M149.7 858.5h.9M148.2 838.1h.9M151.5 851.7h.9M147.3 870.5h.9M145.5 845.5h.9M148.5 864h.9M143.6 841.7h.9M146.6 871h.9M147.6 842.4h.9M151.3 859.8h.9M143.6 849.3h.9M156.6 860.5h.9M151.9 850.4h.9M145.8 876h.9M153.3 845.1h.9M152.5 879h.9M154 825.7h.9M150.7 848h.9M150.8 844.4h.9M149.5 847.6h.9M145.5 856.2h.9M148.3 853.8h.9M147.5 874.3h.9M150.2 851.3h.9M150 851.9h.9M145.9 855.8h.9M147.9 840.5h.9M150 870.9h.9M154.9 890.1h.9M150.1 869.5h.9M144.5 832.9h.9M152 885.1h.9M151.4 846.2h.9M154 894.8h.9M137.1 876.4h.9M152.8 856.9h.9M132.5 866.2h.9M149.5 855.3h.9M152.5 880.8h.9M143.6 872.1h.9M158.8 838.2h.9M155 876.3h.9M155 863.3h.9M143.4 871.8h.9M150.4 875.3h.9M149.8 884.3h.9M157.3 825.6h.9M153.4 872.8h.9M146.5 846.1h.9M142 900.2h.9M164.7 870.6h.9M151.9 884.7h.9M154.3 873.9h.9M150.4 836.3h.9M135.2 877.4h.9M154.4 884.2h.9M141.4 869.5h.9M152.9 851.7h.9M146.3 887h.9M158 847.2h.9M149.1 869.8h.9M164.5 851.6h.9M161.8 849.3h.9M150.6 843.9h.9M151.4 864.4h.9M160.9 837.3h.9M153.9 863.7h.9M152.4 874.6h.9M158.7 868.4h.9M150.6 842.4h.9M152.8 817.3h.9M147.3 876.8h.9M146.6 872.1h.9M148.9 836.3h.9M147.4 860.3h.9M147.6 880.3h.9M140.6 864.6h.9M143.7 882.1h.9M144.9 891.6h.9M146.4 845.4h.9M163 874.1h.9M152.4 839.7h.9M138.2 863.7h.9M151.3 878.1h.9M149.4 886.2h.9M148.8 860.8h.9M143.3 879.7h.9M153.7 853.5h.9M154.3 856.5h.9M143.9 845.8h.9M146.3 859.3h.9M151.2 852.9h.9M153.3 856.7h.9M147.1 857h.9M140.5 854.5h.9M152.2 870.2h.9M148.5 849.7h.9M154.8 859.3h.9M146.9 887.8h.9M141.5 872.5h.9M150.4 879.7h.9M159.1 887.6h.9M140.3 882.4h.9M151.6 845.8h.9M154.7 843.4h.9M153 850h.9M152.8 866.7h.9M152.5 856.6h.9M142.8 863.1h.9M152.6 891.5h.9M152.5 842.8h.9M152.2 872.1h.9M162.9 861.2h.9M145.8 841.1h.9M139.7 878.4h.9M150.2 867.3h.9M150.9 836.7h.9M145.2 871.3h.9M134.1 879.1h.9M147.5 869.1h.9M157.2 841.7h.9M146.1 888.1h.9M145.9 862.6h.9M154.1 864.4h.9M153 862.8h.9M160.3 874.9h.9M145.4 894h.9M147.3 858.4h.9M144.4 891.4h.9M141.3 860.3h.9M144.5 836.4h.9M151.3 887.1h.9M140.5 839.9h.9M142.9 872.3h.9M153.2 880.3h.9M146.9 861.3h.9M141.3 901.4h.9M147.4 891.6h.9M146.3 885.9h.9M158.6 873.6h.9M144.6 862h.9M141.5 869.2h.9M143.6 870.6h.9M138.3 845.8h.9M157 874.1h.9M146.4 874.1h.9M152.8 885.3h.9M139.9 876.9h.9M150.5 852.4h.9M146.9 836.5h.9M137.2 873.6h.9M148.7 878.6h.9M156.1 862.2h.9M147.2 863.8h.9M143.2 895.8h.9M149.4 880.1h.9M137.9 866.2h.9M149 886.2h.9M154.2 857.5h.9M144.4 862.3h.9M149.4 842.2h.9M142.6 858.8h.9M158.2 836.1h.9M153.9 868.2h.9M142.8 875.6h.9M153.9 843.3h.9M148.9 820.6h.9M150.5 860.3h.9M156.3 880.8h.9M153 866h.9M152.6 842.9h.9M159 878.2h.9M141.7 849h.9M156.7 847.3h.9M150.9 869.8h.9M145.6 875.4h.9M151.6 840.4h.9M149.1 868.3h.9M143.7 870h.9M147.8 843.2h.9M144.2 883.9h.9M154.4 850.7h.9M149.3 846.1h.9M163.1 892h.9M138.5 862.3h.9M141.8 897.5h.9M153 846.2h.9M144.4 877.9h.9M146.6 873.8h.9M150.8 829.6h.9M143.5 857.4h.9M164.3 857h.9M141.5 850.8h.9M152.8 858.9h.9M158.7 855h.9M149.3 873.3h.9M155.4 867h.9M143 874.9h.9M165.3 846.7h.9M155.5 842.4h.9M157.4 865.9h.9M152.7 861.9h.9M151.2 866.5h.9M157.1 850.9h.9M146.4 862.4h.9M141.2 887h.9M152.8 834.2h.9M155.3 869.8h.9M151.7 846.6h.9M146.8 862.2h.9M161.4 847.7h.9M148.6 859.9h.9M143.7 893.8h.9M158.1 812.5h.9M152.7 828.5h.9M145.1 863h.9M153.2 842.6h.9M147.3 876h.9M160 852.9h.9M140.5 895.8h.9M156.7 839.2h.9M151.1 888h.9M147.9 893.2h.9M145.6 881.8h.9M154.8 854.8h.9M164.4 862.8h.9M142.2 844.3h.9M152.7 891.1h.9M149.4 884.2h.9M155.4 865.2h.9M140.5 883.9h.9M148 864.3h.9M133.9 865.7h.9M155.6 859.9h.9M143.2 889.6h.9M148 891.6h.9M142.9 881h.9M145.2 860.1h.9M146.6 878.5h.9M150.2 876.3h.9M149.8 864.7h.9M155.2 829.9h.9M154.6 844.8h.9M155.7 857.9h.9M150.1 877.1h.9M143.9 871.7h.9M138.7 862.8h.9M154.6 862.1h.9M150.1 887.2h.9M149.5 843.3h.9M149.2 895.3h.9M144.1 855.8h.9M168.9 867.9h.9M167.6 851.3h.9M146.5 870.1h.9M152.2 830.7h.9M152.8 865h.9M151 846.1h.9M153.1 825.3h.9M153.6 872.8h.9M149.5 903.1h.9M159.7 877.8h.9M153.5 844.2h.9M150.1 895.4h.9M146 867.6h.9M149.2 866h.9M143.5 898.8h.9M154.3 892.1h.9M167.4 902.2h.9M145.5 886.5h.9M141.2 881.6h.9M149.5 877.7h.9M142.1 857.9h.9M141 868.7h.9M148.8 865.2h.9M152.8 882.3h.9M149.2 855.3h.9M157.8 878h.9M150.4 863h.9M148.6 850.4h.9M151.3 875.7h.9M138.7 841.9h.9M152.3 857.1h.9M159.1 840.5h.9M154.8 863h.9M146.5 861.9h.9M140.4 854.1h.9M153 867.5h.9M157.4 857.6h.9M145.8 845.1h.9M153.2 835.6h.9M147.8 861.7h.9M155.7 843.9h.9M157.7 852h.9M138.6 845.2h.9M139.4 899.2h.9M150.7 834.3h.9M153.6 863.5h.9M146.3 832.2h.9M145.1 900.8h.9M146.2 838.7h.9M153.7 864.1h.9M149.4 814.1h.9M142.3 875.3h.9M152.1 892.1h.9M155.3 849.5h.9M142.9 893.4h.9M140.1 868.8h.9M143.6 866.4h.9M149.6 892.3h.9M141.8 859.1h.9M155.4 875.1h.9M148.7 884.5h.9M159 875.7h.9M152 872.8h.9M163.1 814.5h.9M152.2 867.1h.9M148.5 879h.9M148.1 900.2h.9M162.3 856.9h.9M153.1 855.5h.9M150.7 872.4h.9M143.7 872.6h.9M149.5 829.8h.9M142.8 861.2h.9M163.3 834.8h.9M146.8 878.1h.9M142.5 850h.9M146.4 859.6h.9M157.2 853.4h.9M147 844.3h.9M148.1 868.8h.9M154.1 843h.9M150.4 869.2h.9M152.4 874h.9M133.6 891.6h.9M146.6 891.7h.9M143.7 855.5h.9M161.4 854.7h.9M168.8 803.5h.9M142.4 869.2h.9M139.4 890.8h.9M139.5 848.1h.9M135 877.5h.9M156.8 862.5h.9M146.5 888h.9M158.8 866.2h.9M150.9 889.3h.9M152.7 842.3h.9M144.5 840.8h.9M131.8 879.1h.9M142.2 878h.9M144.5 856.9h.9M149.5 893.1h.9M147.9 877.8h.9M159.7 877.3h.9M141.5 878.6h.9M152.8 854.3h.9M151.5 842.4h.9M146.4 863.5h.9M156.5 836h.9M150.2 892.6h.9M154.2 826.4h.9M140.4 875h.9M142.4 866.6h.9M149.8 847.2h.9M156.1 854.9h.9M147.6 870.3h.9M143 885h.9M157.3 888.6h.9M153.9 880.1h.9M145.8 862.4h.9M149 893.2h.9M153.3 894.4h.9M150.4 874.9h.9M154.7 877.3h.9M138.7 864.9h.9M147.1 904.4h.9M142.3 871h.9M149.9 855h.9M148 890.3h.9M145.8 860.5h.9M146.2 878.8h.9M141.2 870.2h.9M144.9 862.9h.9M162.6 839.2h.9M151 844.3h.9M146.6 863.7h.9M153.8 834.8h.9M171.8 872.7h.9M125.4 865.7h.9M99.7 898.6h.9M96.6 897.7h.9M167.7 837.4h.9M144.1 838.9h.9M145.8 874.2h.9M134.3 840.4h.9M137.3 830.8h.9M80.6 830.5h.9M111.3 817.5h.9M83.9 857h.9M108.3 859h.9M146.3 853.1h.9M83.2 904h.9M165 872.9h.9M111.1 865.6h.9M84.9 822.8h.9M85.9 855.7h.9M90.6 821.3h.9M145.8 858.8h.9M169.4 816.4h.9M151.3 827.7h.9M114.8 870.7h.9M152 875.9h.9M158.8 869.3h.9M82.1 837.6h.9M106.7 821h.9M149.5 876h.9M101.8 884.2h.9M166.1 825.7h.9M100 881.6h.9M153.9 884.6h.9M115.5 824.9h.9M163.9 858.8h.9M104.5 815.5h.9M133.1 871.3h.9M77.5 892.3h.9M155.7 892.4h.9M79.3 899.4h.9" stroke="#ff0a0a" stroke-width="0.9" fill="none" stroke-opacity="0.85"/>
<line x1="134.3" y1="732" x2="134.3" y2="905.9" stroke="#111" stroke-width="1.2"/>
<line x1="75.6" y1="837.1" x2="223.3" y2="837.1" stroke="#111" stroke-width="1.2"/>
<rect x="75.6" y="732" width="147.7" height="173.9" fill="none" stroke="#333" stroke-width="0.9"/>
<path d="M71.1 750.4H75.6M71.1 794.1H75.6M71.1 836.7H75.6M71.1 880.4H75.6M73.2 737.2H75.6M73.2 780.9H75.6M73.2 773.2H75.6M73.2 767.8H75.6M73.2 763.6H75.6M73.2 760.1H75.6M73.2 757.2H75.6M73.2 754.6H75.6M73.2 752.4H75.6M73.2 824.6H75.6M73.2 816.9H75.6M73.2 811.5H75.6M73.2 807.3H75.6M73.2 803.8H75.6M73.2 800.9H75.6M73.2 798.3H75.6M73.2 796.1H75.6M73.2 868.3H75.6M73.2 860.6H75.6M73.2 855.2H75.6M73.2 851H75.6M73.2 847.5H75.6M73.2 844.6H75.6M73.2 842H75.6M73.2 839.8H75.6M73.2 904.3H75.6M73.2 898.9H75.6M73.2 894.7H75.6M73.2 891.2H75.6M73.2 888.3H75.6M73.2 885.7H75.6M73.2 883.5H75.6M95.7 905.9V910.4M133.6 905.9V910.4M170.3 905.9V910.4M206.5 905.9V910.4M80.6 905.9V908.3M84.3 905.9V908.3M87.3 905.9V908.3M89.8 905.9V908.3M92 905.9V908.3M94 905.9V908.3M107.1 905.9V908.3M113.8 905.9V908.3M118.5 905.9V908.3M122.2 905.9V908.3M125.2 905.9V908.3M127.7 905.9V908.3M129.9 905.9V908.3M131.9 905.9V908.3M145 905.9V908.3M151.7 905.9V908.3M156.4 905.9V908.3M160.1 905.9V908.3M163.1 905.9V908.3M165.6 905.9V908.3M167.8 905.9V908.3M169.8 905.9V908.3M182.9 905.9V908.3M189.6 905.9V908.3M194.3 905.9V908.3M198 905.9V908.3M201 905.9V908.3M203.5 905.9V908.3M205.7 905.9V908.3M207.7 905.9V908.3M220.8 905.9V908.3" stroke="#222" stroke-width="0.7" fill="none"/>
<text x="49" y="765.8" font-size="12.6" textLength="12.4" lengthAdjust="spacingAndGlyphs">10</text>
<text x="61.8" y="758.4" font-size="6.8">5</text>
<text x="49" y="809.5" font-size="12.6" textLength="12.4" lengthAdjust="spacingAndGlyphs">10</text>
<text x="61.8" y="802.1" font-size="6.8">4</text>
<text x="49" y="852.1" font-size="12.6" textLength="12.4" lengthAdjust="spacingAndGlyphs">10</text>
<text x="61.8" y="844.7" font-size="6.8">3</text>
<text x="49" y="895.8" font-size="12.6" textLength="12.4" lengthAdjust="spacingAndGlyphs">10</text>
<text x="61.8" y="888.4" font-size="6.8">2</text>
<text x="81.1" y="928.9" font-size="12.6" textLength="12.4" lengthAdjust="spacingAndGlyphs">10</text>
<text x="93.9" y="921.5" font-size="6.8">2</text>
<text x="119" y="928.9" font-size="12.6" textLength="12.4" lengthAdjust="spacingAndGlyphs">10</text>
<text x="131.8" y="921.5" font-size="6.8">3</text>
<text x="155.7" y="928.9" font-size="12.6" textLength="12.4" lengthAdjust="spacingAndGlyphs">10</text>
<text x="168.5" y="921.5" font-size="6.8">4</text>
<text x="191.9" y="928.9" font-size="12.6" textLength="12.4" lengthAdjust="spacingAndGlyphs">10</text>
<text x="204.7" y="921.5" font-size="6.8">5</text>
<text x="216.6" y="754.2" font-size="17" text-anchor="end" textLength="34.3" lengthAdjust="spacingAndGlyphs">2.8%</text>
<text x="215.9" y="901.3" font-size="17" text-anchor="end" textLength="30.2" lengthAdjust="spacingAndGlyphs">36%</text>
<text x="113.5" y="825.6" font-size="6.3" text-anchor="middle" textLength="17.4" lengthAdjust="spacingAndGlyphs" font-weight="normal" fill="#222">Q1-2</text>
<text x="155.1" y="825.6" font-size="6.3" text-anchor="middle" textLength="17.4" lengthAdjust="spacingAndGlyphs" font-weight="normal" fill="#222">Q2-2</text>
<text x="113.5" y="857.2" font-size="6.3" text-anchor="middle" textLength="17.4" lengthAdjust="spacingAndGlyphs" font-weight="normal" fill="#222">Q3-2</text>
<text x="155.1" y="857.2" font-size="6.3" text-anchor="middle" textLength="17.4" lengthAdjust="spacingAndGlyphs" font-weight="normal" fill="#222">Q4-2</text>
</g>
<text x="342.2" y="725.8" font-size="16.6" text-anchor="middle" textLength="79.9" lengthAdjust="spacingAndGlyphs">LINC00152</text>
<g>
<rect x="270.4" y="731.5" width="148.4" height="174.4" fill="#fff"/>
<path d="M290.3 903.2h.9M288.7 889h.9M310.9 888.7h.9M281.7 896.5h.9M288.9 872.9h.9M277.9 894.4h.9M278.4 891.1h.9M293.2 881.2h.9M315 878.8h.9M287.7 883.9h.9M277.6 895.4h.9M292.9 881h.9M277.9 880.7h.9M286.4 882.7h.9M299.3 876.4h.9M282.1 894.6h.9M289.6 889h.9M277.8 888.7h.9M288.4 891.2h.9M289.8 882.2h.9M278 892.6h.9M284.4 887.6h.9M287.8 892.2h.9M279.2 884.7h.9M275.5 892.7h.9M273.3 894.7h.9M283.8 880.8h.9M286.2 889.7h.9M313.3 876.8h.9M286.7 879.4h.9M288.3 875.6h.9M298.7 869.6h.9M295.2 887.1h.9M278 888.2h.9M285.8 880.8h.9M295.7 887.1h.9M288.4 895.8h.9M303.6 898h.9M305.9 874.8h.9M309.8 891.4h.9M282.9 884.2h.9M297.1 888.1h.9M292 893.4h.9M275.1 881.3h.9M290.4 888.5h.9M300.3 883.8h.9M282.9 885.4h.9M290.6 893.9h.9M293.2 884.6h.9M303.3 882.4h.9M279 884.3h.9M297.8 892.7h.9M295.4 896h.9M278.9 877.6h.9M281.5 875.1h.9M288.3 887.7h.9M296.2 894.6h.9M288.7 885.9h.9M279.3 886.3h.9M299.4 895.8h.9M294.7 879.1h.9M281.6 890.7h.9M297.9 883.2h.9M292 892.8h.9M280.6 901.6h.9M303.5 873.9h.9M287.7 887.7h.9M297.1 885.7h.9M286.7 888.4h.9M284.7 880.7h.9M301.8 892.5h.9M299.6 875.1h.9M282 884.2h.9M305.1 883.9h.9M302.8 883h.9M281.8 885.5h.9M290 879.9h.9M293.7 887.4h.9M294.2 883.1h.9M287.9 879.5h.9M305.9 884.4h.9M272.9 903.1h.9M301.6 885.6h.9M295.9 892.3h.9M287.4 890.8h.9M306.9 893.6h.9M300.7 879.9h.9M296.8 894.2h.9M277.8 896.2h.9M292.1 882.2h.9M283.5 884.6h.9M316.4 873.3h.9M302.8 864.8h.9M291.4 880.4h.9M279.5 888h.9M277.6 879.6h.9M282.6 883.3h.9M279.7 883.6h.9M274.1 881.2h.9M282.1 889.9h.9M286.7 890.9h.9M284.5 893h.9M285 899.7h.9M278.3 891.3h.9M315.4 872.1h.9M272.9 895.2h.9M281.9 902.1h.9M298.9 897.5h.9M283.6 885.5h.9M295 888.9h.9M297.3 883h.9M304.7 886h.9M289.3 866.6h.9M276.7 889.8h.9M295.1 868.9h.9M289 891.3h.9M280.5 883.7h.9M281.6 902.6h.9M298.1 890.9h.9M291.1 898.1h.9M302.9 889h.9M299.5 886.6h.9M289.6 874.6h.9M286.5 878.6h.9M275.1 898.6h.9M292.1 902.3h.9M272.8 897.1h.9M324.7 871.5h.9M301.6 887.7h.9M312 886.8h.9M284.8 891.2h.9M302.3 897.3h.9M300.2 892.6h.9M296.9 888.1h.9M287.9 885.5h.9M294.7 882.8h.9M290.7 879.3h.9M302.1 884.5h.9M280.3 876.6h.9M309.9 883.5h.9M278.8 878.3h.9M277.4 898.9h.9M294.5 872.8h.9M279.6 880.8h.9M272.7 888.3h.9M290.9 888.5h.9M296.4 882.3h.9M288.3 879.2h.9M293.7 883.9h.9M335.8 871.9h.9M292 870.5h.9M309.8 889.6h.9M284.2 866.5h.9M297.9 885.1h.9M284.2 888.1h.9M277.8 888.7h.9M292.1 883.3h.9M284.1 886.2h.9M284.9 896.3h.9M302.2 883.7h.9M305.6 885.9h.9M291.6 884.8h.9M288.2 899.6h.9M294.1 884.3h.9M300 888.2h.9M295.4 883.7h.9M272.6 894h.9M288.2 896.2h.9M295.7 892.4h.9M296 885.4h.9M300 884.3h.9M296.2 881.8h.9M278.7 898.3h.9M282.4 894.1h.9M278.4 900.3h.9M309.5 880.8h.9M291 887.2h.9M297.9 891.6h.9M299.9 882.1h.9M287.9 895.1h.9M279.8 901.2h.9M289.1 900.9h.9M288 890.2h.9M306.5 882.9h.9M301.6 890.6h.9M277.7 894.6h.9M298.3 889.2h.9M297.7 885.9h.9M277.4 893.3h.9M285.7 883.9h.9M294.7 891.2h.9M286.6 892h.9M273.7 893.5h.9M282.4 893.9h.9M296.8 898.4h.9M283.2 891.4h.9M290.6 882.7h.9M300.8 898.2h.9M278.6 889.4h.9M290.8 901.2h.9M314.7 882.4h.9M286.4 878.7h.9M279.6 891.9h.9M289.4 887.2h.9M274.1 893.9h.9M301.1 881.7h.9M295.7 892.1h.9M302.6 886.5h.9M303.9 894.7h.9M293.1 885.8h.9M300 884h.9M293.9 893.3h.9M282.1 892.1h.9M277.1 891.4h.9M285.8 894h.9M306.1 872.5h.9M290.5 893.7h.9M277.9 901.9h.9M287 885.9h.9M287.4 893.3h.9M288.7 892h.9M293 880.8h.9M285.6 898.7h.9M292.8 885.4h.9M294.9 886h.9M283.8 886.2h.9M290 898.5h.9M298.8 894.2h.9M289.4 887.2h.9M295.2 897.2h.9M292.3 893.8h.9M293.5 887.1h.9M290.8 896h.9M291.1 882.8h.9M308.8 876.2h.9M289.6 886.8h.9M298.6 889.9h.9M284.2 902.3h.9M274.2 879.9h.9M283.8 890.5h.9M275.8 888.5h.9M290.8 892.3h.9M274.8 883.7h.9M293 902.2h.9M271.8 891.8h.9M277.9 883h.9M279.2 897.5h.9M287.3 903.6h.9M286.7 900.8h.9M281.8 882.2h.9M297 875.1h.9M299.3 870.7h.9M298.7 888.3h.9M280.5 879.5h.9M311.5 894.4h.9M275 901.8h.9M290.6 883.7h.9M288.6 887.2h.9M287.8 889.4h.9M285.1 878.3h.9M277 895.2h.9M301.5 879.6h.9M300.2 882.9h.9M277.5 883.4h.9M312.3 883.3h.9M281.7 903.3h.9M284.1 893.9h.9M290.8 883.3h.9M278.7 900h.9M286.4 896.6h.9M288 890.9h.9M281.8 883.5h.9M292.4 869.9h.9M301.5 898.6h.9M278.6 897h.9M280.4 888.9h.9M288.8 882.2h.9M280.8 871.5h.9M283.8 899.6h.9M293.4 885.4h.9M299 886.2h.9M281.8 890.3h.9M297.4 883.7h.9M272.9 899.8h.9M292.4 880.9h.9M281.6 896h.9M281.8 901.2h.9M287.4 892.2h.9M283.2 895h.9M289.8 880.1h.9M285.8 891.9h.9M324.1 873.6h.9M289.6 886.2h.9M290.4 873.5h.9M290 874h.9M306.3 885.9h.9M290.7 887.5h.9M279.3 885.5h.9M305.4 883.3h.9M298.5 887.2h.9M286.3 888.8h.9M299.4 878.5h.9M282.5 884.3h.9M301.2 892.2h.9M289.4 883.2h.9M289.8 872.4h.9M294.5 901h.9M282.4 885.4h.9M292.2 893.2h.9M296.8 887h.9M292.5 883.6h.9M312.3 892.7h.9M290.6 879.1h.9M296.9 887.1h.9M313.5 881h.9M284.9 876.9h.9M292.2 879.3h.9M285.1 897h.9M296.1 902.7h.9M309.2 884.9h.9M284.8 869.4h.9M308.5 889h.9M272 881.2h.9M292.3 886.2h.9M274.6 896h.9M317.8 873.8h.9M301.8 879.9h.9M282.4 878.1h.9M283.6 892.9h.9M297 893.7h.9M290.6 893.4h.9M293.8 871.4h.9M309.6 890.9h.9M290.9 898.8h.9M273.4 887.6h.9M293 880.3h.9M291.6 898.8h.9M302.1 883.7h.9M284 881.3h.9M299.7 887.5h.9M290 880.2h.9M283.5 881.2h.9M277.1 874.6h.9M298 887.2h.9M314 869.6h.9M295 876.7h.9M285.9 885h.9M299.3 890.2h.9M289.9 886.6h.9M277.9 900.8h.9M292 885.5h.9M309.6 888.7h.9M291 901.8h.9M276.6 893.4h.9M294.1 885.1h.9M303.6 866.8h.9M297.5 879.4h.9M305.7 895.6h.9M316.6 882h.9M301.4 868.1h.9M293.5 877h.9M284.6 884.3h.9M290.6 887.6h.9M288.1 889h.9M298.1 883.5h.9M280.6 895.1h.9M305.9 880.3h.9M288.6 882.8h.9M285.3 891.5h.9M289.2 864.5h.9M279.3 890.8h.9M283.8 895.7h.9M299.9 888.2h.9M287.8 899.7h.9M308.4 889.6h.9M284.8 891.7h.9M295.2 886.5h.9M283 895.4h.9M300 878.5h.9M284.7 885.9h.9M295.3 886.9h.9M280 882.3h.9M277.7 894.6h.9M287.3 890.9h.9M305.7 893.1h.9M273.7 883.8h.9M289.5 898.3h.9M295.6 879.7h.9M278.4 895.3h.9M280.6 885.2h.9M295.2 896.5h.9M281 879.7h.9M290.4 882.6h.9M299.3 876.1h.9M293.1 896.7h.9M288.5 888.9h.9M291.5 871h.9M293.6 900.3h.9M273.5 881.4h.9M278.5 894.3h.9M279.6 899.8h.9M308 874.3h.9M286 882.7h.9M290.9 875.2h.9M291.4 872.3h.9M299.2 892.4h.9M286.8 899.7h.9M284.7 884.6h.9M272.5 882.7h.9M287.6 894.9h.9M298.5 899.3h.9M311.8 871.8h.9M281 884.6h.9M291.6 898.7h.9M289.2 877.4h.9M293 891.5h.9M285.4 884.6h.9M279.5 898.6h.9M276.8 888.7h.9M281.7 877.1h.9M276.8 894.8h.9M276.7 879.9h.9M276.7 897.2h.9M307.5 896.4h.9M305.2 868.4h.9M277.2 878.7h.9M272.5 885.9h.9M292.5 872.8h.9M296.9 875.5h.9M293.8 889h.9M287.7 889.5h.9M284 883.9h.9M291 888.1h.9M299 887.9h.9M294.4 893.9h.9M286 883.3h.9M293 876.7h.9M273.5 882.3h.9M307.1 883.1h.9M275.6 896.5h.9M298.4 898.4h.9M277.9 886.5h.9M279.7 879.2h.9M299.1 875.8h.9M271.5 884.1h.9M278.9 892.1h.9M305.9 891.3h.9M293.9 890.2h.9M296.1 883.9h.9M286.1 882.1h.9M291.7 887.2h.9M296.5 890.3h.9M303.3 874.6h.9M292.5 888.5h.9M301 881.1h.9M289.1 885.5h.9M276.1 891.6h.9M287.8 890.4h.9M276.1 888.1h.9M314.8 884.3h.9M286.7 893h.9M291 883.6h.9M282.7 898.3h.9M308.5 893.8h.9M289.8 885.8h.9M283.3 890h.9M274.9 888.5h.9M279.8 889.6h.9M285.8 899.7h.9M290.1 884.6h.9M278 889.1h.9M276.2 885.7h.9M300.1 890.7h.9M306.9 872.3h.9M282.2 891.2h.9M309.1 879.7h.9M294.3 883.3h.9M283.9 893.8h.9M280.9 872.1h.9M273.8 882.9h.9M282.4 890.8h.9M284.4 887h.9M286.3 892.1h.9M297 893.9h.9M314.3 876.2h.9M282.9 893.1h.9M288 890.2h.9M303.4 879.3h.9M277.2 900.8h.9M279 887.6h.9M290.8 891.5h.9M300.7 887.5h.9M288.1 876.8h.9M303.6 865.8h.9M290.5 896.8h.9M293.8 894.7h.9M290.5 887.8h.9M282.2 896.9h.9M279 875.3h.9M298.9 859h.9M277.7 880.8h.9M274.6 896.7h.9M295.6 894.6h.9M296.5 892.2h.9M289.9 877.9h.9M281 894.8h.9M287.2 900.6h.9M277.1 878.9h.9M303 871.7h.9M294 887.5h.9M280.4 904.1h.9M277.7 899.4h.9M284.7 880.5h.9M287 883.9h.9M279.4 889.1h.9M287.2 875.3h.9M293.5 903.9h.9M299.2 879.1h.9M291.8 881.4h.9M282.3 875.7h.9M291.1 888.7h.9M279.1 891.7h.9M302.7 892.7h.9M296 892.4h.9M284 889.1h.9M292.2 891.7h.9M313.9 870.5h.9M282.8 887.3h.9M297.1 891h.9M291.1 881.9h.9M281.8 895.4h.9M285.5 880.1h.9M288.2 895.6h.9M294 891.9h.9M289.9 882.5h.9M293.3 875h.9M298.6 886.6h.9M284.7 890.3h.9M278.8 880.6h.9M285.9 898.3h.9M277.2 886.9h.9M300 894.9h.9M289 890.3h.9M289.1 894.4h.9M272.6 895.5h.9M283.8 879.3h.9M291.6 874.1h.9M300.7 896.7h.9M289.5 891.3h.9M281.8 903.7h.9M292.2 895.4h.9M279.9 867.4h.9M293.1 876.3h.9M296.9 883.1h.9M286.3 889.7h.9M289.1 889.2h.9M294.4 879.7h.9M293.7 885.1h.9M283.8 881.4h.9M278.5 884.2h.9M296.3 879.7h.9M293.5 893.8h.9M297.6 879.2h.9M285.8 891h.9M286.9 881h.9M297.6 883.9h.9M297.9 887.6h.9M288.3 874.9h.9M295.5 870.4h.9M299.8 873h.9M306.9 887.3h.9M272.7 900.1h.9M286.4 896.5h.9M290.3 900.5h.9M283.7 886.8h.9M302.9 880.8h.9M278.8 894.7h.9M293.7 895.5h.9M285.3 894.6h.9M284.2 884.9h.9M273.6 880.9h.9M303.2 898.2h.9M315.6 877.6h.9M278.2 889.7h.9M280 893.3h.9M315.6 896h.9M293.7 881.9h.9M284.1 886.4h.9M272.6 888.9h.9M295.8 881.6h.9M284.9 872.5h.9M310.2 889.8h.9M279.5 892.4h.9M284.2 882.4h.9M289.3 897.7h.9M285.4 886.4h.9M305.4 893.6h.9M297.6 882.6h.9M281.8 890.8h.9M289 890.7h.9M288.4 893.4h.9M296.7 879.1h.9M285.1 884.5h.9M277.4 895h.9M279 875.8h.9M279.2 867.3h.9M298.8 883h.9M303.5 882.9h.9M306.9 890.2h.9M292.6 885.4h.9M287 898.9h.9M299.9 895.4h.9M287.3 889.8h.9M280.1 886.6h.9M289.1 879.7h.9M292.8 884.7h.9M293.9 873.4h.9M279.8 894.1h.9M273.3 902h.9M292.5 881.2h.9M281.5 899.9h.9M297.1 876.9h.9M277.1 893.9h.9M283.3 892.5h.9M310.4 876.1h.9M286.9 897.1h.9M291.8 897h.9M287.2 900h.9M283.9 884.1h.9M298.4 885.1h.9M284.8 876h.9M291 893.3h.9M301.9 882.4h.9M276.9 901.2h.9M297 873h.9M310.7 890.2h.9M273.8 895.4h.9M287.4 877h.9M277.2 900h.9M280.4 894.3h.9M295.4 887.5h.9M291.9 872.7h.9M284.1 888.3h.9M282.5 899.6h.9M284.9 892.2h.9M280.4 890.5h.9M279.6 886h.9M284.4 885.2h.9M282.1 876.5h.9M313.4 879.1h.9M295.2 882.5h.9M285.9 885.8h.9M287 881.9h.9M289.5 880.1h.9M277.4 883.2h.9M277.5 884.3h.9M283.3 882.5h.9M290.7 889h.9M283.2 896.7h.9M279.7 895.1h.9M284.8 887.1h.9M287.1 882.9h.9M295.2 885.8h.9M284.5 885.7h.9M292.7 884.2h.9M280.8 899.7h.9M297.4 883.6h.9M290.9 894.6h.9M271.9 890.4h.9M284.9 887h.9M289.9 887.7h.9M278.2 895.8h.9M293 876.3h.9M281.9 882.5h.9M299.7 899.2h.9M278.7 895h.9M290.4 882.6h.9M291.4 872.6h.9M282 885.8h.9M290 896.5h.9M286.8 900.6h.9M288.6 877.9h.9M289.2 888.1h.9M296.3 890.4h.9M290.4 893.6h.9M275.4 895.6h.9M274.4 894.6h.9M285.2 893.3h.9M292 881.8h.9M314.6 879.4h.9M300.7 889.2h.9M281 888.6h.9M297.6 892.7h.9M287.3 884.2h.9M273.9 890.4h.9M299.3 885.4h.9M290.2 890.9h.9M285.8 893.5h.9M298.9 882.3h.9M296.9 904.2h.9M292.3 903.3h.9M280 896.6h.9M286.6 893.9h.9M304.6 887h.9M298.3 893.9h.9M312.2 881.3h.9M304.5 891.8h.9M286.7 873h.9M296.5 878.8h.9M288.5 882.4h.9M280.9 888.1h.9M290.6 882.1h.9M275.6 885.9h.9M279.7 882.8h.9M276.9 898h.9M304.5 873.4h.9M276.1 898.2h.9M274.7 886.8h.9M279.5 893.3h.9M295.1 873.3h.9M295.4 869.5h.9M284.1 893.7h.9M294.9 884.7h.9M290.9 892.6h.9M319.1 878.7h.9M300.3 885.7h.9M287.1 885.1h.9M276.5 899.3h.9M284.5 886.9h.9M276.3 898.7h.9M299.7 894.4h.9M295.8 886.2h.9M290.6 885.8h.9M301.6 886.9h.9M298.6 868.5h.9M276.6 892.2h.9M296.1 892.9h.9M291.6 880.6h.9M303.6 889.2h.9M313.6 884.4h.9M294.7 890.5h.9M279.3 877.4h.9M296.6 897.4h.9M280.2 893.2h.9M271.6 888.9h.9M283.4 881.5h.9M291.2 873.2h.9M284.5 887.1h.9M281.1 901.2h.9M286.4 878.1h.9M274.8 892.7h.9M274.8 901h.9M308.3 888.3h.9M292.7 889.1h.9M308.3 872.9h.9M302.3 887.3h.9M288.9 893.1h.9M321.6 882.1h.9M284.4 884h.9M280.5 882.1h.9M290.2 878.3h.9M296 898.2h.9M285.5 893.6h.9M294.6 873.7h.9M292.8 876.2h.9M298.9 884h.9M289.2 876.7h.9M280.6 890.1h.9M282.1 893.2h.9M296.3 886.9h.9M282.1 900.3h.9M313.2 892.2h.9M289.7 888.5h.9M281.1 893.6h.9M305.6 894.8h.9M290.1 891h.9M302.9 884h.9M294.2 893.5h.9M309 880.8h.9M284.6 889.3h.9M296.3 886.9h.9M312.1 886.4h.9M282 878h.9M299.5 891.5h.9M290.6 878.3h.9M287.8 896.6h.9M291.7 882h.9M293.1 897h.9M276.4 893.6h.9M297.9 887.7h.9M279.3 881h.9M278.5 892.4h.9M285.2 886.5h.9M308.5 885.5h.9M308.7 874.3h.9M306 884.9h.9M277.6 892.8h.9M296.4 894.4h.9M285.9 885.8h.9M293.3 893.7h.9M272.9 885.2h.9M283.6 902h.9M275.8 890h.9M294.9 878.6h.9M298.3 877.5h.9M279.7 887.1h.9M297.4 889.8h.9M296.8 886.7h.9M284 898.7h.9M291.2 892.6h.9M296.2 880.2h.9M277 891h.9M306.4 890.3h.9M292 900.9h.9M293.6 896.7h.9M289.6 896.6h.9M286.1 871.5h.9M293.1 897.5h.9M284.3 889.6h.9M283.6 882.5h.9M293.4 885.5h.9M289.9 894.3h.9M282.5 889.1h.9M287.1 881.3h.9M296.6 882.7h.9M292.3 894.3h.9M282.9 897.9h.9M290.9 867.7h.9M288.1 894.8h.9M295.6 885.5h.9M291.1 897.1h.9M271.6 876.9h.9M274.6 893.2h.9M277.3 888.3h.9M285.6 887.2h.9M291.8 883.1h.9M297.7 875h.9M288.2 893.3h.9M290.1 883.9h.9M289.7 887.9h.9M295.9 882.8h.9M284.8 898.4h.9M283.1 882.3h.9M291.5 885.6h.9M281.9 878.6h.9M296.3 890h.9M292 880.1h.9M283.6 883.8h.9M276.4 888.2h.9M284.3 898.9h.9M299.6 879.5h.9M275.2 892.4h.9M291.7 892.3h.9M282.7 903.3h.9M306.5 859.2h.9M285 897.8h.9M299.4 892.6h.9M282 900.9h.9M325.9 876.8h.9M271.7 888.5h.9M294.4 889.6h.9M276 895.9h.9M298.8 885.9h.9M274.6 892.6h.9M283.2 888.1h.9M285.7 892.3h.9M292 894.7h.9M312 888.3h.9M299.3 895.1h.9M288.6 886h.9M284.9 896.7h.9M285.5 886.3h.9M297.6 895.9h.9M287.7 886.1h.9M294.1 900.7h.9M276.8 883.6h.9M286.2 893.5h.9M295.6 888.5h.9M277.3 888.9h.9M281.5 886.6h.9M288 883.6h.9M296.9 896.1h.9M292 883.3h.9M283.6 881.7h.9M300.4 891.2h.9M298.7 880.1h.9M309.8 899.4h.9M300.6 904h.9M300.3 888.5h.9M285.1 888h.9M281.3 903.7h.9M285.5 885.4h.9M290.6 898.9h.9M302.5 889h.9M298.5 885.9h.9M281.6 886.9h.9M285.9 893.8h.9M288.7 888.8h.9M291 890.7h.9M304.3 880.9h.9M289.1 903.1h.9M298.1 871h.9M283.6 896.3h.9M307.7 881.4h.9M288.6 876.1h.9M291.9 892h.9M295.4 885.6h.9M277.5 869h.9M295 900.3h.9M290 884.5h.9M289.5 883.4h.9M290.8 882.1h.9M277.1 879h.9M289.9 880.1h.9M283.9 898.1h.9M292.7 879.8h.9M287.2 889.5h.9M284.9 872.2h.9M292.7 888.7h.9M279.4 888.9h.9M282.9 890.7h.9M286.5 887.2h.9M292.8 884h.9M297.8 880.8h.9M292 897h.9M285.3 900.3h.9M290.4 884.7h.9M289.9 891.3h.9M294.4 878.5h.9M299 875.7h.9M308.4 875.1h.9M274.4 904.2h.9M274.4 869.8h.9M285 881.9h.9M298.5 887h.9M297.6 888.2h.9M289.2 887.3h.9M293.9 877.1h.9M283.9 893.2h.9M287.5 896h.9M295.5 894.5h.9M278.3 895.9h.9M304.7 877.9h.9M281.6 895.2h.9M279.8 901.1h.9M292.2 886.4h.9M279.6 880.1h.9M291.3 898.5h.9M302.8 882h.9M314.9 857.4h.9M292.1 890.5h.9M283.5 868.5h.9M301.4 897h.9M278.6 892h.9M294.7 891.3h.9M302.2 871.7h.9M295.4 888.5h.9M279.9 891h.9M284 893.5h.9M280.8 882.8h.9M277.2 878.8h.9M310.3 895.6h.9M274.1 900.4h.9M290.7 886.7h.9M291.7 877.3h.9M281.2 887.1h.9M291.7 889h.9M289.9 871h.9M290.5 870.1h.9M288.1 875.7h.9M291.4 878.1h.9M275.8 904.2h.9M297.4 883.9h.9M289.2 884.8h.9M282.7 898.6h.9M286.3 894h.9M286.6 891.6h.9M283.4 892h.9M287.9 890.7h.9M278.1 875.5h.9M277 904.2h.9M314.7 883.3h.9M296.6 894.5h.9M316.5 885.4h.9M286.9 891.8h.9M308.8 885.7h.9M284.9 883.2h.9M310.3 890.4h.9M302.6 892h.9M297.8 886h.9M285.6 886.1h.9M292.2 889.3h.9M297.2 867.6h.9M274.8 893.3h.9M276.9 888.2h.9M295.7 885.3h.9M295.4 878.2h.9M282 878.4h.9M303 886.6h.9M275 878.5h.9M283.1 892.7h.9M289.5 885.7h.9M292.6 884.6h.9M288.2 890.3h.9M276.2 890.8h.9M300.6 897.5h.9M307.6 879.8h.9M288.5 886.2h.9M276.4 892.4h.9M287.5 885h.9M272.8 878.7h.9M285 874h.9M313.1 896.6h.9M295.9 888.3h.9M279.8 888.8h.9M304.2 898.6h.9M306.9 892.8h.9M291.7 885.3h.9M276.6 891.5h.9M289.4 898.7h.9M275.4 884.3h.9M304.2 863.7h.9M297 889.5h.9M278.5 894.3h.9M281.4 890.8h.9M288.7 883h.9M285.3 896.8h.9M286.9 876.7h.9M290.3 880.1h.9M273.5 896h.9M293.3 879.9h.9M306.9 879.4h.9M287.6 875.8h.9M292.8 878.5h.9M285.6 895.9h.9M281.4 886.2h.9M296.6 896.4h.9M283.5 901.8h.9M294.8 877.1h.9M282.7 893.2h.9M291.8 888.2h.9M290.8 889.1h.9M295.4 890.7h.9M291.8 877.2h.9M300.1 897.8h.9M284.7 887.2h.9M294.9 877.7h.9M281.8 882.7h.9M297.9 897.9h.9M292.3 893.4h.9M281.7 897h.9M303.9 880.9h.9M288.8 878.4h.9M280.5 890.7h.9M279.9 889.2h.9M310.3 898h.9M278.9 884.6h.9M307.4 901h.9M285.1 886.1h.9M280.6 879.4h.9M279 897h.9M292.5 888.1h.9M303.7 891.3h.9M299 888.2h.9M289 873.3h.9M276.5 891.1h.9M291.4 891.2h.9M275 890.9h.9M284.7 904.3h.9M298.4 899.3h.9M275 888.7h.9M293.7 885.5h.9M283 884.8h.9M308.2 890.3h.9M290.8 898h.9M287.5 871.7h.9M295.6 875h.9M297.8 892.4h.9M290.2 873.9h.9M299.5 887.3h.9M283.4 887.7h.9M283.9 898.8h.9M284.1 886.5h.9M279.6 898.4h.9M289.3 896.2h.9M280.1 891.9h.9M280 876.1h.9M290.1 869.1h.9M288.3 890.6h.9M288 893h.9M276.7 876h.9M298.4 870.2h.9M291.6 885.8h.9M286.5 901.7h.9M293.6 879.5h.9M298.5 901.6h.9M277.5 875.6h.9M284.5 881.8h.9M289.8 892.1h.9M287.2 876.6h.9M283.8 878.7h.9M282.6 874.8h.9M281.7 889.9h.9M285.5 893.5h.9M286.2 899.6h.9M289.3 876.3h.9M286.2 887.7h.9M278.1 883.1h.9M301.7 896.9h.9M311.4 869.5h.9M289.5 895.6h.9M302.9 884.2h.9M275.3 875h.9M292 890.3h.9M301.1 890h.9M295.8 871.7h.9M314.2 883.2h.9M281.9 887.2h.9M292.6 894.4h.9M305.5 885.7h.9M300 874.9h.9M280.5 894.3h.9M288.5 887.2h.9M300.7 884.9h.9M299.4 875.5h.9M282.4 901.1h.9M293 886.6h.9M295.2 872.1h.9M309.1 881.3h.9M276.4 891.9h.9M281.7 878.1h.9M274.4 897h.9M284.4 891.2h.9M298 892.3h.9M297.5 889.8h.9M298.4 897.2h.9M271.4 889.5h.9M315.4 892.3h.9M294.9 894.4h.9M286.4 894.8h.9M288.7 879.9h.9M282.8 891.2h.9M285.4 875.1h.9M279.3 888.6h.9M281.9 891.9h.9M273.9 900.2h.9M314 892.5h.9M289.8 868.6h.9M289.1 869.7h.9M296.4 878.9h.9M286.2 885.4h.9M272.5 882.8h.9M294.5 885.3h.9M296.4 884.2h.9M297.5 891.3h.9M282.8 885.6h.9M272.8 896.1h.9M292.5 883.8h.9M293.3 899.4h.9M289.1 895h.9M280.9 873.5h.9M279.9 884h.9M290.6 894.7h.9M282.9 887h.9M291.3 883.7h.9M285 888h.9M296.8 897.1h.9M274.8 891.5h.9M291.8 880.8h.9M313.8 882.6h.9M286.2 884.5h.9M296.1 885.3h.9M301 889h.9M295.4 891.8h.9M293.1 890.1h.9M272.3 874.5h.9M305.8 880.2h.9M297 899.9h.9M290.2 884.4h.9M309.9 877.6h.9M272.5 901.2h.9M300.1 881.8h.9M301.5 896.7h.9M275.3 875.7h.9M294.3 887.3h.9M283 895.2h.9M280 890.1h.9M298.2 890.6h.9M284.5 883.3h.9M291.7 888.2h.9M286 885.9h.9M289.3 884.5h.9M296.7 896.3h.9M315.2 881.5h.9M295.1 889.6h.9M284 897.4h.9M299 899.2h.9M290.2 882.9h.9M329.4 881.1h.9M297.3 886.1h.9M294.1 891.6h.9M311 892.2h.9M277.5 892.1h.9M277.8 899.1h.9M290.9 881.7h.9M303.1 894.8h.9M298 895.1h.9M294.2 880.9h.9M286.1 882.7h.9M300.6 884.3h.9M288.8 883.6h.9M279.8 882.2h.9M302.6 875.2h.9M280.2 893.6h.9M280.4 880.3h.9M283.3 879.1h.9M292.4 897.6h.9M283.9 885.3h.9M293.5 887h.9M284.1 887h.9M279.7 892.7h.9M303.3 878.9h.9M292 899.7h.9M292.5 863.6h.9M294.6 895.5h.9M291.5 879.3h.9M308 885.1h.9M307 895.2h.9M290.9 890.4h.9M298.9 884.4h.9M283 887.7h.9M286.6 882.3h.9M284.2 881.7h.9M275.8 890.7h.9M284.2 879h.9M306.6 874h.9M300.1 875.4h.9M301.2 873.9h.9M284.1 883.5h.9M286.4 887.4h.9M281.4 883.9h.9M287.5 891.7h.9M275.6 879.8h.9M298 882.5h.9M296.1 876.4h.9M290.6 878.6h.9M279.9 893.7h.9M281.3 888.2h.9M302.4 878.4h.9M293.3 887.9h.9M302.7 888.9h.9M287.6 897.9h.9M296.2 875.6h.9M286.6 892h.9M279.8 881.5h.9M281.2 862.3h.9M274.8 877.4h.9M275.5 891.5h.9M306.5 887.1h.9M298.2 888h.9M286 895.1h.9M290.8 892.6h.9M293.6 864.8h.9M281.2 885.4h.9M313.4 875.9h.9M276.3 902.8h.9M287.7 898.6h.9M290.3 881.3h.9M276.5 898.5h.9M296.4 885.9h.9M292.6 900.9h.9M284.1 881.8h.9M302.6 900.3h.9M301.4 896.6h.9M307.2 888.7h.9M278.9 887.4h.9M291.3 873.4h.9M301.1 892.6h.9M285.8 896.7h.9M272.8 888.1h.9M293.8 898.6h.9M301.4 882.7h.9M278.5 902.5h.9M310.1 875.1h.9M288.6 883.7h.9M296.4 896.6h.9M313.2 862.9h.9M297.4 880.3h.9M285.7 889.9h.9M289 904.4h.9M284.6 897.1h.9M298.3 898h.9M285.6 879.8h.9M281.1 890.8h.9M294.5 874.6h.9M284.9 896.7h.9M271.6 882h.9M285.7 882.7h.9M291.5 884.9h.9M313.3 888.1h.9M288.6 899.6h.9M294.5 886h.9M304.6 893.9h.9M292.2 878.4h.9M288.9 880.1h.9M275 890.9h.9M281.8 884.5h.9M310.7 873.8h.9M289.2 884.2h.9M291.5 895.8h.9M272.7 886.8h.9M291.5 887.3h.9M309.3 883.8h.9M286.4 900.8h.9M281.7 900h.9M290.2 893.8h.9M285.3 895.6h.9M281.2 891.1h.9M311.6 876.2h.9M296 882.3h.9M283.8 879.9h.9M299.2 885.6h.9M284.1 887.6h.9M298 886.3h.9M291.1 879.2h.9M277.1 864.6h.9M289.5 874.3h.9M287.8 889h.9M277.8 884.2h.9M291.7 884.4h.9M290 878.6h.9M299.8 895.2h.9M281.7 888.4h.9M285.8 891.2h.9M282.3 885.9h.9M294.1 899h.9M298.9 872.3h.9M309.6 885.6h.9M298.4 877h.9M294.1 885.4h.9M278.5 885.6h.9M289.8 876h.9M276.4 888.8h.9M306.6 896.5h.9M276.5 881.7h.9M291 889.8h.9M283.7 891h.9M295.8 897.6h.9M282.7 884.9h.9M276.1 886.3h.9M300.5 886.9h.9M277.1 896.2h.9M295.3 883.2h.9M281.3 877.2h.9M294.2 888.5h.9M290.7 894.9h.9M286 885.5h.9M276.1 898.9h.9M315.7 872.7h.9M300.1 885h.9M296.8 879.3h.9M277.9 886.2h.9M281.5 895.7h.9M287.1 881.5h.9M294.3 884.7h.9M285.8 881.2h.9M294.5 880.2h.9M298.8 880.3h.9M273.9 882h.9M280.8 891.2h.9M277 891.6h.9M294 878.4h.9M290.7 898.4h.9M281.6 887.7h.9M273.7 894.7h.9M289.5 882.2h.9M289.6 893.5h.9M284.7 878.6h.9M282 886.4h.9M274.5 901.6h.9M303.1 886.3h.9M293.5 901.6h.9M289.5 885.3h.9M279.7 892.4h.9M302.2 881.9h.9M277.9 890.9h.9M281.8 889.1h.9M275.2 886.5h.9M279 901.6h.9M294.5 881.4h.9M277.7 896.5h.9M282.8 882.4h.9M283.7 888.2h.9M288 888.3h.9M280.8 890.2h.9M287 880.2h.9M277.5 892.6h.9M295.8 886h.9M293.7 877.5h.9M293.8 891.4h.9M290 894.8h.9M300.2 882.9h.9M278.5 898.8h.9M293.5 890.3h.9M290.7 870.3h.9M272.4 894.2h.9M277.9 885.7h.9M301 890.7h.9M287.6 894.8h.9M292 871.7h.9M292.3 893.8h.9M271.8 893.1h.9M290.6 891.7h.9M296.3 896h.9M286.1 900.9h.9M301.4 888.8h.9M288.8 892.1h.9M285.2 892h.9M272.5 877.8h.9M276.2 898.2h.9M287.3 892.3h.9M279.1 885.6h.9M284.8 885.9h.9M286.3 891.7h.9M283.1 891.4h.9M295 897.9h.9M302.2 895.8h.9M292 890.3h.9M273.2 903.8h.9M310.6 875.1h.9M298.4 886.6h.9M290.1 881.2h.9M301.5 891.5h.9M302.3 879.1h.9M283.6 887.3h.9M310.4 880.8h.9M285.1 900.8h.9M285 889.9h.9M305.3 901.4h.9M276.3 880.6h.9M282.2 881.5h.9M295.7 881.2h.9M282.9 897.4h.9M294.8 878.3h.9M278.2 896.5h.9M296.1 877.6h.9M287.3 863.9h.9M283 891.5h.9M283.1 885.2h.9M285.6 888h.9M284.7 891.7h.9M283.2 893.9h.9M301.2 877.5h.9M290.3 880.5h.9M291.1 881.4h.9M289 890.8h.9M299 880.4h.9M287.7 883.4h.9M275.9 875.9h.9M281.8 876.6h.9M299.4 889.7h.9M284.3 884.5h.9M282.4 897.6h.9M284.2 874.8h.9M280.7 871.3h.9M293.1 885.4h.9M314.5 881.9h.9M310.9 896.2h.9M291.5 884.1h.9M292.5 889.3h.9M272.3 895h.9M281.3 903.4h.9M300.1 882.2h.9M281.4 895.8h.9M288 867.9h.9M289.5 885.1h.9M302.1 892h.9M287.7 892.2h.9M287.7 891.3h.9M305.2 881h.9M301.2 896.5h.9M291.9 885.2h.9M291.2 893.9h.9M292.7 880.8h.9M291.3 897.6h.9M297 889.1h.9M286.9 887h.9M273.6 903.3h.9M282.3 893.5h.9M312.7 883h.9M304.2 881.9h.9M282.2 885h.9M280.6 893.4h.9M288.1 901.1h.9M283.6 882.9h.9M300.8 879.2h.9M284.6 895.5h.9M281.4 886.4h.9M275 892.7h.9M308.3 887.6h.9M285 883.9h.9M286.3 879.7h.9M287.2 885.9h.9M289.1 881.5h.9M290.8 878.1h.9M284.8 891.1h.9M292.4 885.7h.9M287.1 894.4h.9M287.5 888.3h.9M298.4 886h.9M287.8 897.6h.9M290.9 877.7h.9M293.5 896h.9M285.7 880.8h.9M283.3 890.4h.9M292.3 895.5h.9M299.3 876.3h.9M292.7 885.2h.9M301.1 879.7h.9M291.4 892.8h.9M302.3 883.1h.9M279.6 868.4h.9M301.9 884.4h.9M299.7 889.6h.9M296.4 879.6h.9M295.7 889.7h.9M300.2 888.5h.9M281.4 862.3h.9M291.5 871.1h.9M294.9 874.6h.9M291.3 883.4h.9M295.9 884h.9M274 896.9h.9M291.6 890.6h.9M292.2 873.9h.9M291.3 873.7h.9M278.7 890.7h.9M282.8 891.8h.9M284.1 875.6h.9M289.3 880.5h.9M302.7 870.5h.9M304.8 886.9h.9M280.9 891.5h.9M296.9 887h.9M285.8 893h.9M302.4 894.7h.9M277.1 881.2h.9M297.9 869.7h.9M283.1 891.1h.9M284.8 889.2h.9M277.6 889.6h.9M291.3 869.2h.9M286.7 881h.9M296.5 892.2h.9M293.5 876.1h.9M284 901.4h.9M307.7 881.1h.9M303.8 898.5h.9M290.4 884.3h.9M290.9 892.3h.9M284.8 886h.9M277.2 877.1h.9M301 887.7h.9M290.2 884.8h.9M286.2 882.2h.9M283.9 892.9h.9M295.8 898.1h.9M311 877.1h.9M294.8 887.3h.9M298.7 901.3h.9M295.8 884.9h.9M296.5 884.3h.9M306.3 868.2h.9M284.3 889.1h.9M295.5 895.8h.9M284.8 896h.9M275.8 896.4h.9M279.2 888.8h.9M303.4 877.3h.9M305.3 881.3h.9M281.3 894.4h.9M299.5 887.5h.9M290.4 895.9h.9M295.6 876.1h.9M276.2 885.1h.9M294 889.7h.9M288.9 883.3h.9M281.6 896.8h.9M281.9 888.3h.9M281.5 885.5h.9M292.3 894.6h.9M304.1 872.3h.9M310.7 889.2h.9M300.4 865.6h.9M296 885.4h.9M302.8 889.6h.9M277.7 890.9h.9M294.6 898.1h.9M302.3 884.2h.9M292.2 883.7h.9M280.7 888h.9M297.7 892.2h.9M295.3 894.8h.9M286.8 876.7h.9M282.3 887.8h.9M291.9 873.7h.9M287.2 887.6h.9M279.9 889.2h.9M292.5 894.9h.9M297.8 889.6h.9M299.5 870.6h.9M298.9 875.3h.9M298.4 876.7h.9M290.9 874.1h.9M291.8 879h.9M304.7 880.9h.9M310.3 884.7h.9M294 878.1h.9M290.1 892.1h.9M289.7 903.7h.9M288 877.4h.9M291.3 879.6h.9M278.6 882.9h.9M309.6 880.9h.9M311.4 890.6h.9M296.4 876.6h.9M312.2 881.4h.9M300 883.6h.9M285 887h.9M296.5 875.5h.9M313 879.5h.9M285.9 885.1h.9M273.4 887.8h.9M297.3 875.4h.9M277.9 890.4h.9M295.3 888.9h.9M283.8 885.8h.9M306.3 881.7h.9M276.6 882.2h.9M309.6 870.3h.9M312.6 868.9h.9M309.5 879.1h.9M336.8 855.2h.9M272.8 890.5h.9M275.8 882.7h.9M303.5 885.2h.9M275.4 894.7h.9M303.1 886.1h.9M307.8 867.5h.9M281.6 870.3h.9M283 888.9h.9M300 872.4h.9M298.8 891.8h.9M287.5 888h.9M320.8 858.5h.9M288.5 899h.9M293.8 878.9h.9M275.5 876.9h.9M286.2 899.1h.9M308.2 859.9h.9M283.7 880.7h.9M305.7 876.5h.9M277.4 894.2h.9M277.5 887.3h.9M303.4 891h.9M290.2 871h.9M302.9 870.5h.9M300.5 874.7h.9M301 868.9h.9M297.8 867.7h.9M295.6 875.6h.9M293 883.3h.9M300.6 876.2h.9M305 877.8h.9M298.7 890.3h.9M297.4 877.1h.9M284.2 873h.9M303.4 892.2h.9M289.1 890h.9M296.6 872.7h.9M313.6 854h.9M286.1 889.7h.9M314.7 869.1h.9M278.2 886.5h.9M316.6 869.5h.9M304.6 854h.9M303.4 869.2h.9M281 902.3h.9M277.3 882h.9M294.2 884h.9M304.9 862h.9M304.3 871.6h.9M316.7 877.3h.9M310.4 862.7h.9M294.3 875.9h.9M292.5 882.3h.9M278.8 877.7h.9M290 898.8h.9M300.9 845.7h.9M297 876.7h.9M309.1 893.1h.9M279 890.2h.9M310.2 871.9h.9M299.1 883.7h.9M290.2 882.1h.9M289.3 882.6h.9M284.2 883.2h.9M277.2 873.1h.9M277.4 874.7h.9M290.8 874.7h.9M291.8 880.7h.9M298.4 872.1h.9M306 862.6h.9M288.6 894.2h.9M288.6 885.7h.9M299 873.2h.9M318.1 861h.9M311.6 890.1h.9M321.3 872.1h.9M279.5 895.1h.9M321.6 882.3h.9M307 880.9h.9M324.8 869.4h.9M291 879.1h.9M297.4 890.7h.9M306.3 884.7h.9M287.6 873.4h.9M288.3 885.7h.9M304.9 873.1h.9M321.1 896h.9M307.7 885h.9M273.2 888.2h.9M307.1 879.5h.9M308.4 885.1h.9M287.3 885.5h.9M291.4 879.1h.9M282.7 897.7h.9M310.6 864.9h.9M305 872h.9M284.2 883h.9M296.5 884.5h.9M286.1 881.9h.9M316.2 846.2h.9M304.1 879.2h.9M308.7 861.6h.9M319.7 901.6h.9M274.3 884.1h.9M316.6 868h.9M295 866.9h.9M303.2 850.7h.9M314.6 867.1h.9M285.4 873.4h.9M318.2 884.5h.9M314.4 860.1h.9M309 860.2h.9M315.9 882.6h.9M280.4 894.1h.9M300.7 882.9h.9M312.9 889.9h.9M284.3 869.9h.9M303.5 884.9h.9M300.4 867.5h.9M274.8 883.1h.9M300.9 886.8h.9M282.3 888.6h.9M293.8 890.8h.9M289.6 892.6h.9M292.9 901.5h.9M317.8 857.9h.9M294.9 893.1h.9M295.5 886.9h.9M291.7 879.4h.9M289.4 885.3h.9M295.5 880.7h.9M292.1 882.8h.9M296.1 885.4h.9M276.9 888.7h.9M293.5 886.1h.9M323.9 882.5h.9M280.6 877.9h.9M330.9 868.9h.9M310.8 863.6h.9M278 895h.9M315.6 853h.9M298.7 894.5h.9M289.6 903.7h.9M299.6 871.2h.9M299.9 869.3h.9M284.7 890.9h.9M317 894.6h.9M287.8 890.3h.9M310.2 878.1h.9M312.1 864.7h.9M304.7 872.8h.9M292.7 871.1h.9M283.9 881.8h.9M285.7 859.9h.9M281.8 897.3h.9M322.7 859.4h.9M310.7 878.1h.9M313.8 860.4h.9M281.4 885.3h.9M296.7 871.5h.9M276.8 880.8h.9M294.4 890.5h.9M291.9 878.7h.9M283.2 889.7h.9M318.5 884.8h.9M305.3 878.2h.9M296.8 881.5h.9M310.5 874.8h.9M312.3 893.2h.9M277.5 868.5h.9M310 882.2h.9M304.9 855.6h.9M319.9 881.1h.9M311 897.5h.9M311 870h.9M285.4 882.7h.9M313.1 870.3h.9M280.1 877.4h.9M301.2 871.5h.9M287.2 888.4h.9M284.3 867.3h.9M342.2 856.5h.9M292.3 865.9h.9M298.9 889.7h.9M297.8 885.4h.9M317.1 879.8h.9M287.1 887.4h.9M302.5 879.4h.9M321 844.8h.9M279.5 898.2h.9M295 878h.9M316.2 876.7h.9M311.9 866.1h.9M279.3 874.8h.9M300.6 869.2h.9M278.9 886.1h.9M287.7 884.6h.9M276.4 886.5h.9M289 870.7h.9M295.6 874.7h.9M300.9 873.4h.9M279.3 903h.9M321.8 869.4h.9M315.8 868.6h.9M306.9 876.7h.9M287.7 862.3h.9M290.5 869.4h.9M284.2 880.4h.9M310.1 857.3h.9M306.6 872.9h.9M285.8 883.1h.9M307.4 879h.9M276.1 887.9h.9M297.9 891h.9M297.9 888.3h.9M283.5 878.1h.9M299.9 860.7h.9M297.6 867.5h.9M287.7 869.7h.9M309.5 872.8h.9M346 842.5h.9M327.4 859.7h.9M287.7 897.1h.9M297.5 894.8h.9M295.8 849.2h.9M301.5 862.4h.9M284.2 877.9h.9M326 885.2h.9M287.2 877.7h.9M284.6 895.1h.9M297.8 879.7h.9M287.4 866.6h.9M303.9 876.3h.9M308.5 879.5h.9M296 893.6h.9M283.5 887.1h.9M317.5 866.1h.9M295.2 839.5h.9M278.9 887.5h.9M308 885.6h.9M302.6 901h.9M309.9 882.5h.9M283.5 895.3h.9M323.7 880.4h.9M291.3 879.1h.9M276.6 881.6h.9M273.7 856.8h.9M308.5 860.2h.9M293.4 890.7h.9M320.8 860.2h.9M292.9 867.6h.9M287.4 881.2h.9M273.4 879.5h.9M289 885.1h.9M284.9 878.4h.9M275.6 896.1h.9M309.3 883.6h.9M318.9 866.6h.9M309 865.1h.9M295.1 896.2h.9M274.9 891.7h.9M285.5 891.9h.9M324.8 884.7h.9M287.6 885.4h.9M303.9 897.2h.9M276.2 874.2h.9M303 856.8h.9M295.7 892.4h.9M303.2 864h.9M312.5 885.8h.9M313.8 867.8h.9M332.7 869.3h.9M286.7 900.7h.9M309.1 886.3h.9M310.6 875.5h.9M303.7 880.3h.9M278.9 881.5h.9M298.8 874.7h.9M321.5 868.3h.9M305.6 885.2h.9M315.3 866.9h.9M300.7 903.1h.9M282.5 869.8h.9M300 877.9h.9M275.4 901.2h.9M308.9 865.8h.9M286.2 870h.9M312.4 864.7h.9M309.3 868.6h.9M315.9 857.7h.9M305.9 883.2h.9M305.1 875.1h.9M274.3 887h.9M287.3 893.5h.9M307.4 872.1h.9M335.6 859.2h.9M304.8 868.8h.9M313.2 887.9h.9M297.5 867h.9M311.7 852.5h.9M272 887.5h.9M294.8 873h.9M288.9 888.3h.9M297.5 888.6h.9M285 889.7h.9M293.5 884.6h.9M296.1 879.5h.9M286.5 885.5h.9M293.8 890.7h.9M304.3 868.7h.9M289.1 886h.9M312.3 864.2h.9M286.3 860.1h.9M310.8 872.1h.9M303.5 879.2h.9M305.6 858.4h.9M296.1 880.9h.9M279.3 888.6h.9M291.3 867.5h.9M297.6 866.1h.9M289.8 879.9h.9M297.3 889.7h.9M302.5 866.3h.9M314.1 867.4h.9M297.1 893.9h.9M272.7 877.7h.9M331.9 876.9h.9M299.9 852.2h.9M295.6 881.2h.9M287.5 870.8h.9M308.6 864.3h.9M304.5 853.1h.9M306 879.6h.9M293.5 875.6h.9M282.3 893.8h.9M315.9 860.7h.9M318 859.2h.9M311.4 852h.9M306.5 864.5h.9M285.2 884.5h.9M274.6 893.6h.9M302.4 879.1h.9M286.7 871.3h.9M294 885.6h.9M306.1 888.1h.9M297.1 872.6h.9M287.8 881.1h.9M311.9 892.7h.9M280.7 890.8h.9M313 877.3h.9M286.4 894.8h.9M326.2 857h.9M319.6 852.2h.9M291.6 884.5h.9M323.2 879.8h.9M312.2 858.1h.9M282.7 891.7h.9M297.2 880.1h.9M304.1 899.5h.9M288.2 894.7h.9M311.5 864.1h.9M288 886.6h.9M285.8 889.1h.9M289.5 885.4h.9M305 854h.9M294.9 871.6h.9M277.5 876.5h.9M315.3 859.5h.9M318.6 882.7h.9M300.4 865.9h.9M308.3 862.6h.9M314.4 869.6h.9M340.8 882.3h.9M290.4 874.2h.9M297.2 898.1h.9M283.8 892.9h.9M292.7 877.1h.9M281.3 870.4h.9M281.2 900.1h.9M274.2 893.1h.9M323.1 862.7h.9M307.6 877.2h.9M303.5 867.9h.9M303.9 874h.9M303.9 880.7h.9M289.8 891.1h.9M330.8 869.5h.9M275.4 864.7h.9M297.1 881.7h.9M285.6 868.2h.9M308.3 886.6h.9M288 868.6h.9M323.2 865.2h.9M283.5 878.7h.9M273.3 867.4h.9M324.8 876.9h.9M274.5 890.6h.9M306.4 879.6h.9M275.7 895h.9M295.3 879.4h.9M298 884.3h.9M302 883.8h.9M305.8 875.5h.9M316.4 881.9h.9M294 864.1h.9M310.1 883.1h.9M301 870.4h.9M305.5 890.4h.9M285.3 888h.9M277.9 900.8h.9M284.2 874.7h.9M278.2 901.1h.9M326.9 851.2h.9M299 888.2h.9M296.6 891.9h.9M299.9 872.2h.9M280.3 898.8h.9M286.3 879.4h.9M289.1 890.8h.9M355.8 860.5h.9M286.2 875h.9M326.6 863.1h.9M334.1 854.9h.9M312.8 873h.9M296 894.6h.9M279.1 880.8h.9M289 891.8h.9M304.4 885.8h.9M284.8 889h.9M297.5 873.2h.9M286 887.9h.9M284 878.5h.9M282.5 881.8h.9M298.3 878.6h.9M292.8 877.2h.9M317.2 881.5h.9M310 889.9h.9M282.6 870h.9M286.7 880.4h.9M324.8 863.2h.9M312.3 889.3h.9M279.3 876h.9M313.5 866.6h.9M293.3 891.6h.9M303.3 871.5h.9M280.5 884.3h.9M312.3 882.5h.9M274.6 884h.9M316.4 879.5h.9M294.3 873.9h.9M299.8 885.7h.9M338 868.8h.9M319.6 879.8h.9M302.8 874h.9M301.5 877.2h.9M283.2 886.4h.9M308.4 880.6h.9M306.9 873.8h.9M336.6 866h.9M290.9 895h.9M294.5 893.8h.9M302.5 881.3h.9M301.9 878.8h.9M300.1 895.5h.9M279.7 889h.9M290.9 887.7h.9M303.1 863.7h.9M297.7 884.1h.9M283.7 894.9h.9M315.6 860.9h.9M294.2 891.6h.9M274.4 867.6h.9M317.9 847.9h.9M301.6 874.2h.9M288.9 889.7h.9M303.7 897.1h.9M284.5 870h.9M298.8 895.1h.9M283.6 897.8h.9M295.7 904.1h.9M294.9 856.9h.9M281.7 871.5h.9M281.2 870.7h.9M303.5 886.5h.9M317.9 875.5h.9M310.6 876.3h.9M273.3 898.6h.9M287.3 886h.9M288.4 871.2h.9M275.4 883.4h.9M312.9 897.2h.9M274.2 901.4h.9M293.8 884h.9M315.7 880.7h.9M304.5 886.6h.9M292.6 875.3h.9M303.3 883.2h.9M299.3 867.4h.9M311.1 860h.9M288.3 897.7h.9M274.7 881.1h.9M290.7 883h.9M309.5 876.8h.9M299.2 888.1h.9M289.8 877.9h.9M292.4 877.2h.9M305.1 881.2h.9M275.8 884.4h.9M307.6 872.5h.9M280.4 879.2h.9M318.9 863.7h.9M302.3 881h.9M289.4 898.4h.9M272 886.5h.9M303.7 895.7h.9M296.1 879.1h.9M302.5 875h.9M301.9 886.9h.9M318.5 871.7h.9M298.4 865.8h.9M279.6 883.7h.9M279.3 886.6h.9M297.9 876.7h.9M284.1 895.5h.9M304.2 877.1h.9M301 859.7h.9M287.8 877.9h.9M286.3 882.2h.9M320.8 864.3h.9M292.6 875h.9M317.8 883.1h.9M295.5 878.2h.9M286.2 898.2h.9M302.8 892.2h.9M306.3 876h.9M297.3 876.6h.9M296.4 878.8h.9M300.3 875.6h.9M330.6 862h.9M283.7 883.4h.9M291 896.7h.9M281.9 884.1h.9M286.8 878.5h.9M283.8 900.9h.9M295 867.7h.9M282.3 875.9h.9M285.1 889.7h.9M283.1 882.7h.9M308.3 875.9h.9M291.8 898.7h.9M304 889.9h.9M276.2 885.5h.9M295.1 873h.9M294.6 885.1h.9M321 882.9h.9M318.2 861h.9M279 883.5h.9M297.7 866.7h.9M292.4 879.9h.9M320.1 869.3h.9M294.1 863.8h.9M296.6 877.2h.9M284.7 881.6h.9M285.2 891h.9M283.2 883.9h.9M297.1 884.2h.9M283.8 881.2h.9M304.2 869.3h.9M295.3 874h.9M329.3 847.1h.9M305.5 871.8h.9M271.7 878.3h.9M311.7 883.7h.9M302.2 894.7h.9M294 863h.9M280.9 887.5h.9M273.6 867.8h.9M287.2 879.3h.9M324.2 855.6h.9M314.4 867.8h.9M301.7 885.6h.9M307.9 866.6h.9M274.7 883.7h.9M302.8 861.2h.9M301.2 867.7h.9M291.3 893.7h.9M333.8 873.7h.9M285.8 893.2h.9M320.5 875.6h.9M305 892.7h.9M285.4 884.1h.9M276.7 887.4h.9M274.8 880h.9M290.8 864.6h.9M318.3 859.6h.9M304.1 883h.9M301.1 852.6h.9M302.7 879.3h.9M301.9 881.6h.9M288.6 887.1h.9M291.8 872.5h.9M314.5 870.1h.9M283.5 875.4h.9M321.6 880.5h.9M279.4 901.7h.9M302.6 884.2h.9M301.8 886.5h.9M326.5 873.7h.9M328.5 875.6h.9M308.1 878.1h.9M290.9 868.3h.9M307.8 874.1h.9M314.4 883.1h.9M295.7 884.3h.9M311.2 860.7h.9M294 882.5h.9M290.1 887.9h.9M296.1 861.2h.9M305.3 876.6h.9M308.6 875.1h.9M307.3 866h.9M309.8 878.1h.9M295.7 887.3h.9M327.1 861.2h.9M291 881.2h.9M285.8 866.2h.9M329.6 870.8h.9M284.3 879.1h.9M298.9 888h.9M306 885.1h.9M287.3 878.1h.9M293.3 895.3h.9M280.6 886.2h.9M303.5 867.6h.9M311.2 872.5h.9M275 876.4h.9M295.5 867.6h.9M285.2 886.3h.9M307.1 864.5h.9M311.1 882.2h.9M326.8 848.4h.9M293 881.7h.9M301.1 883.6h.9M302 896.1h.9M305.2 890.7h.9M303.7 877.7h.9M317.3 878h.9M321.9 869.6h.9M295.2 872.6h.9M309.8 870h.9M298.1 899h.9M319.9 891h.9M295 883.4h.9M291.4 882.5h.9M275.1 887.9h.9M282.9 880.8h.9M292.2 884.7h.9M307.3 891.9h.9M305.5 864.4h.9M274.7 894.8h.9M307.6 891.1h.9M303.5 858.1h.9M286.8 875.6h.9M295.2 869.5h.9M290 899.7h.9M301 894.4h.9M307.4 867h.9M293.5 867.9h.9M291.1 879h.9M275.2 897.8h.9M312.5 871.3h.9M280.5 893h.9M285.6 894.7h.9M297.4 878.4h.9M281.5 887.2h.9M274.8 878.7h.9M320 880.3h.9M286.4 874.4h.9M277.5 889.7h.9M329 863.5h.9M275.3 892.5h.9M285.4 860.7h.9M293.3 878.7h.9M290.3 874.7h.9M309.4 884.6h.9M321.6 887h.9M301.8 869.4h.9M288.2 883.7h.9M297.7 879.7h.9M286 883.1h.9M277.8 890.1h.9M287.3 893.9h.9M272.4 888.3h.9M281.4 893.3h.9M315.2 878.3h.9M299.5 898.4h.9M288.3 876.9h.9M281.8 901.4h.9M304.8 882.6h.9M279.1 883.5h.9M280 882.2h.9M308.3 878.7h.9M296.2 889.1h.9M330.7 857.1h.9M305.1 873.4h.9M306.2 903.9h.9M289.6 874h.9M296.2 865.4h.9M311 901.6h.9M316.2 857.5h.9M285.8 884.2h.9M340.5 873.7h.9M309.2 879.7h.9M274.8 894.6h.9M303.6 892.6h.9M309.6 864.4h.9M277.1 885.2h.9M303.8 885.1h.9M340.6 854.1h.9M287.9 862.2h.9M296.4 886.3h.9M292.1 881.9h.9M294.2 894.7h.9M289.1 884.5h.9M287.4 868.8h.9M310.4 880.7h.9M290.3 882.9h.9M292.5 881.4h.9M297 880.3h.9M286.1 898.8h.9M275.8 892.2h.9M290.8 890.2h.9M307.4 873.4h.9M306.6 880.3h.9M307.4 856.6h.9M320.1 868.8h.9M298.4 884h.9M297.7 866.6h.9M328.1 858.9h.9M303 872.7h.9M301.5 851.8h.9M296.7 891.7h.9M303.4 884.2h.9M308.5 877.9h.9M276.6 875.8h.9M285 893h.9M323.5 881.8h.9M279 890.1h.9M304.2 881.1h.9M297.5 878.7h.9M284.8 885.4h.9M308.6 861.3h.9M323.8 843.9h.9M290 890.2h.9M344.9 868.7h.9M309.9 875.4h.9M279.5 886.8h.9M304.9 892.6h.9M305.1 887.7h.9M287 871.8h.9M280.8 880.6h.9M293.4 889.3h.9M295.7 871.7h.9M303.4 901.6h.9M281.8 894.5h.9M306.8 882.5h.9M303.8 861.6h.9M276.4 875.1h.9M335.9 857.4h.9M288.9 864.4h.9M325.3 860.4h.9M312.3 888.1h.9M315.6 887.4h.9M304.9 870.4h.9M308.2 873.6h.9M299.3 860.3h.9M293.1 860h.9M291.2 873.1h.9M290.3 889.8h.9M275.5 874.5h.9M279.1 882.9h.9M311.2 858.9h.9M286.3 880.9h.9M288.5 897.8h.9M291.1 883.1h.9M316.2 873.2h.9M306 882.6h.9M275.2 881.7h.9M272 878.9h.9M311.8 876.8h.9M299.6 889.1h.9M302.4 874.9h.9M287.6 884h.9M283.7 872h.9M280.5 895h.9M311.4 875.6h.9M315.8 849.5h.9M306.5 875.9h.9M281.5 885.8h.9M279.1 879h.9M311 878.6h.9M323.9 870.7h.9M293.2 887.5h.9M289.5 872.2h.9M315.5 864.5h.9M302.6 878.7h.9M292.3 880.9h.9M291.4 868.2h.9M303.3 861.4h.9M301.7 881.4h.9M289.9 885.9h.9M296.1 887.1h.9M299.8 875.7h.9M294.9 879.1h.9M282.2 897.7h.9M289.7 879h.9M312.4 881h.9M310.3 874.9h.9M298.9 868.7h.9M302.2 860.3h.9M294.7 884.8h.9M319.4 858.6h.9M288.3 865.9h.9M305.2 881.4h.9M308.6 880.4h.9M289.4 887.2h.9M303.7 866.6h.9M301.1 871h.9M296 895.2h.9M284.6 889h.9M315.8 868.9h.9M312.5 886.3h.9M309 876.7h.9M289.7 892.7h.9M311.7 843.9h.9M304.6 861.9h.9M289.7 858.7h.9M318.1 864.6h.9M311.7 875.2h.9M306.4 860.2h.9M300.8 880.5h.9M302.7 880.3h.9M283.3 877.2h.9M308.3 873.4h.9M292.7 860.5h.9M295.7 886.6h.9M275.6 894.3h.9M278.4 895.7h.9M276.1 889h.9M295.4 872h.9M288.3 870h.9M279.9 896.7h.9M283.1 893.9h.9M293.3 874.1h.9M283.1 885.2h.9M308 878.6h.9M312.5 882.7h.9M285.9 877.4h.9M304.4 885.8h.9M299.6 876.2h.9M273.8 875.8h.9M311.7 863.9h.9M285.1 870.4h.9M307.8 858.3h.9M286.8 869.2h.9M326.3 875.2h.9M314.2 875.3h.9M307.1 863.9h.9M321.8 861.5h.9M316.2 849.1h.9M298.2 879.5h.9M305.1 878.2h.9M284.8 863.6h.9M327.8 861h.9M296.8 866.6h.9M303.6 881.6h.9M291.5 864.2h.9M287.2 892.6h.9M286.4 888.4h.9M302 871.5h.9M282.7 863.9h.9M330.1 874.1h.9M324.5 893h.9M283.5 891.1h.9M301.3 878.2h.9M296 870h.9M292.8 882.2h.9M297.2 902h.9M297.6 874.2h.9M302.4 871.1h.9M285.1 895.2h.9M312.6 861.2h.9M288.5 877.1h.9M290.4 894.6h.9M279.8 871.7h.9M312.2 876h.9M311 882.3h.9M303.4 888.8h.9M307.3 869.3h.9M316.1 857.6h.9M295.5 884.4h.9M327.1 878h.9M297.1 872.2h.9M319.1 881.9h.9M280 873.2h.9M303.7 867.6h.9M295.1 882.1h.9M277.1 881.4h.9M309.6 873.8h.9M296.8 856.1h.9M273.3 865.2h.9M313.3 852.7h.9M313.7 876.2h.9M319.4 890.8h.9M316.4 890.6h.9M292.1 877.1h.9M287.5 862.5h.9M282 879.8h.9M328.7 864.3h.9M290.3 862.5h.9M291.6 868.1h.9M315.7 858.9h.9M292.3 855.3h.9M324.5 842.1h.9M335.3 827.8h.9M306.4 825.1h.9M278.2 842.2h.9M301.5 866.1h.9M297.7 867.4h.9M276.1 853h.9M303.3 866.7h.9M302.5 891.9h.9M276.7 854.5h.9M276.8 879.9h.9M292.1 863h.9M291.3 859.2h.9M283.8 888.5h.9M298.6 870.6h.9M302.3 866.4h.9M314.2 869.3h.9M291.5 862.5h.9M308.3 876.7h.9M310 885.9h.9M302.4 840.2h.9M301.7 848h.9M324.2 871.7h.9M318.7 830.9h.9M284.2 873.1h.9M324.7 861.6h.9M337.1 837.5h.9M275.2 850.7h.9M346.6 875.3h.9M284.9 869.5h.9M331.4 844.9h.9M319.2 859.4h.9M279.8 892.6h.9M283.7 877.1h.9M313.8 876.3h.9M311.1 866.2h.9M294.2 880.2h.9M326.2 879.4h.9M286 849.9h.9M321.2 853.5h.9M293.2 866.2h.9M293.4 861.2h.9M272.5 862.7h.9M314.2 884.8h.9M280.1 884.2h.9M288.5 867h.9M284.1 874.5h.9M310.9 878.3h.9M275.5 828.5h.9M281.2 864h.9M295 872.3h.9M281.4 868h.9M295.7 838.3h.9M300.4 852.9h.9M295.7 877.9h.9M297.3 846.4h.9M290.9 868h.9M297.3 860.1h.9M316.6 869h.9M313.3 854.9h.9M304.6 882h.9M284.1 872.1h.9M313.1 833.7h.9M287.6 867.7h.9M290.9 865.5h.9M301.9 863.4h.9M292.5 868.9h.9M323.2 865.2h.9M301.8 861.8h.9M344.9 828.6h.9M312.9 868.9h.9M301.1 865.4h.9M316.8 859.7h.9M299.4 837.6h.9M303.9 837.9h.9M310.5 826.2h.9M279.1 864.6h.9M299 867.4h.9M290 863.8h.9M293 853.5h.9M302.7 876h.9M320.1 848h.9M284.3 868.5h.9M300.3 835.7h.9M319.2 840.6h.9M327.5 883.4h.9M272.1 859h.9M286.3 869.9h.9M322.8 845.9h.9M287.9 869.6h.9M299.4 886.7h.9M305.1 868h.9M304.8 881.2h.9M292.6 843.5h.9M302.1 885.2h.9M296.3 846h.9M322 837.4h.9M308.9 866.2h.9M303.2 859.8h.9M313.2 850.9h.9M310.4 849.2h.9M311.4 869h.9M283 883.1h.9M302.7 858.6h.9M286.9 864.6h.9M313.6 859.1h.9M292.6 864.7h.9M340.5 862.3h.9M281.6 875.8h.9M271.9 885.8h.9M323.9 847.4h.9M285.8 891.2h.9M292.4 861.9h.9M306.6 873.5h.9M279.9 852h.9M309.2 859.5h.9M312.4 887.2h.9M293.7 880.7h.9M305.3 840.4h.9M307.3 830h.9M316.7 854h.9M284.5 892.2h.9M336.3 862.4h.9M283 867.3h.9M287.8 873.4h.9M289 851.9h.9M322.2 901.8h.9M296.6 858h.9M295.7 854h.9M294.3 874.2h.9M282.6 876.5h.9M310.9 847.4h.9M300 858.6h.9M282.4 856.9h.9M286.4 855.4h.9M273 878.1h.9M340.6 844.4h.9M314.1 848h.9M313.6 868.6h.9M329.9 853.8h.9M304 869.8h.9M290.9 836.7h.9M320.1 858.8h.9M301.4 842h.9M279.2 870.8h.9M327.3 863.9h.9M314.3 846.1h.9M288.3 857.5h.9M284.6 893.7h.9M323.4 873.4h.9M281.6 871.5h.9M275.3 885.7h.9M315.5 879.4h.9M358 865.6h.9M285.4 862.8h.9M335.6 870.9h.9M332.7 862.4h.9M316.1 847h.9M303.4 872.6h.9M326.1 869.9h.9M286.9 836.9h.9M350.3 855.6h.9M301.9 867.1h.9M298.9 843.5h.9M285.2 869.4h.9M337.1 855.5h.9M306.1 882.8h.9M307.2 816.3h.9M327 832.4h.9M324.8 839.5h.9M283 890.1h.9M314.1 876.5h.9M310.8 873.4h.9M293.3 886.1h.9M303.4 868.6h.9M306.2 855.6h.9M311.5 854.2h.9M337.6 849.2h.9M357.3 857.8h.9M299.6 877.9h.9M302.6 849.6h.9M303.7 848.8h.9M291 865.2h.9M281 854.3h.9M297.1 859.1h.9M296.2 860.8h.9M293.5 857.3h.9M302.9 847.2h.9M292.7 896.9h.9M327.2 840.4h.9M282.8 854.5h.9M332.2 860.1h.9M296.1 849.7h.9M326.1 862.5h.9M309.5 844.2h.9M321.8 892.5h.9M316.3 877.6h.9M291.1 857.8h.9M279.7 836.1h.9M288.8 888.1h.9M293.7 874.9h.9M296.7 835.7h.9M308.7 857.2h.9M299.8 833.4h.9M297.6 901.8h.9M293.6 878.7h.9M293.7 881.1h.9M294.5 872.6h.9M305.1 854.4h.9M285.5 852.4h.9M312.3 870.1h.9M290.9 869.3h.9M297.9 868.6h.9M292.5 845.1h.9M311.5 872.8h.9M293.1 858.5h.9M291.2 856.7h.9M310.2 851.2h.9M338.3 853.9h.9M275.5 867.2h.9M288.8 885h.9M291.9 872.7h.9M308.9 843.9h.9M280.7 852.6h.9M299.1 884.5h.9M312.7 841.8h.9M289.8 865.1h.9M319.2 843.3h.9M285.2 841.3h.9M329.1 860.8h.9M283.8 885.5h.9M338 864.1h.9M333.1 864.6h.9M335.3 862.1h.9M337.3 868.3h.9M342 875.2h.9M337.8 887.9h.9M345.6 856h.9M339.9 867.9h.9M339.5 874h.9M342 848.7h.9M338 860.3h.9M350.9 858.4h.9M351.5 854.2h.9M332.9 888.6h.9M338.2 863.8h.9M349.7 838h.9M349.2 851.6h.9M346.6 846h.9M336.9 864.7h.9M333.8 856.6h.9M337.9 861h.9M347.4 836.1h.9M337.3 874.3h.9M343.8 846.9h.9M334.8 876.4h.9M344.2 843.8h.9M340 869.5h.9M334.3 868.7h.9M347.4 850.7h.9M344.6 844h.9M342.3 855.9h.9M332.9 847.3h.9M343.2 862.4h.9M348.7 875.6h.9M340 847.9h.9M343.2 819.4h.9M338.4 860.2h.9M334.6 851.1h.9M344.9 837.1h.9M346.7 828.2h.9M346 855.9h.9M347.6 854.7h.9M346.7 848.5h.9M348.3 837.4h.9M335.3 841.1h.9M336.6 871h.9M344.1 858.4h.9M337.7 866h.9M341.9 866.1h.9M344.3 835.2h.9M336.9 843.5h.9M351.7 848.7h.9M342.4 851.2h.9M341.8 849.8h.9M335.7 856.8h.9M350.7 843.1h.9M342 852.9h.9M353.4 850.1h.9M343.1 844.5h.9M344.6 874.8h.9M344.3 832.9h.9M347.2 849h.9M343.8 840.8h.9M337.5 858.4h.9M347.2 847.9h.9M335.3 865.9h.9M348.3 847.2h.9M344.4 829.7h.9M344.7 852.4h.9M335.6 856.1h.9M336.6 879.2h.9M343.7 853h.9M344.3 858.9h.9M349.5 814h.9M334.9 865.3h.9M340.5 845.6h.9M344.1 854.3h.9M338.6 882.4h.9M342.5 853.1h.9M350 829.4h.9M346.1 860.4h.9M333.1 863.3h.9M343.1 866.4h.9M342.6 857h.9M350.5 843.6h.9M339.1 841.2h.9M345.2 851.3h.9M343.1 837.4h.9M342.9 851.4h.9M335.8 868.6h.9M333.7 855.5h.9M339.3 874h.9M346.3 863.7h.9M337.4 878.1h.9M345.3 858.3h.9M343.3 867.8h.9M340.8 837h.9M344.1 839.2h.9M346.6 855.3h.9M350.4 848.1h.9M342.3 869.1h.9M347.4 857.5h.9M339.6 851.8h.9M341.9 847.7h.9M342.1 856h.9M338.4 843.7h.9M338.1 845.9h.9M342.3 852.4h.9M339.4 864.9h.9M342.2 881.6h.9M338.3 864h.9M342.1 857.3h.9M343.8 868.1h.9M342 848.2h.9M338.4 857h.9M347.3 847.2h.9M343.3 847.3h.9M339 861.6h.9M344.3 830.8h.9M342.5 869.1h.9M340.1 852.1h.9M337.9 857.2h.9M343.1 835.6h.9M338.7 853.1h.9M335.1 861.4h.9M349.1 854.7h.9M340.8 856h.9M335.7 853.4h.9M334.3 857.5h.9M330.5 898.2h.9M337.6 866.9h.9M332.5 865.7h.9M346.1 860.3h.9M335.5 872.1h.9M342.4 861.4h.9M346 868.2h.9M330.6 872.4h.9M348.7 852.3h.9M348.8 832.7h.9M340.7 859.7h.9M339.1 859.4h.9M342.9 864.7h.9M336.3 870.8h.9M350.1 870h.9M343.7 835.5h.9M345 844.7h.9M341.6 886.9h.9M338.2 883.3h.9M340.2 850.5h.9M343.4 853.2h.9M340.7 855.2h.9M343.6 846.5h.9M343.4 844.9h.9M334.3 885.6h.9M340.6 853.5h.9M335.4 863.8h.9M331.1 870.8h.9M332.8 876.9h.9M334.5 888.1h.9M348.6 848.7h.9M333.7 839.1h.9M340.5 876.4h.9M354.9 844.3h.9M348.2 829.9h.9M349.1 842.6h.9M346.2 846.6h.9M344.9 864.9h.9M340.6 840.9h.9M346.1 859h.9M344.9 847.3h.9M345.1 842.8h.9M341.4 862.6h.9M340.9 845.5h.9M342.5 863.1h.9M349.2 859.1h.9M338.7 862.3h.9M328.2 876.6h.9M336.3 850.2h.9M336.5 878.2h.9M338.1 868h.9M342.1 848.6h.9M335.7 869.3h.9M335.1 856.7h.9M343.9 862.7h.9M347.3 837.6h.9M344.5 853.1h.9M346 846.4h.9M338.4 878.1h.9M338.4 852.7h.9M341.9 828.8h.9M341.2 854.9h.9M350.3 861h.9M339.5 869.9h.9M334.9 864.1h.9M354.1 840h.9M360.5 838.3h.9M330.8 884.6h.9M342.4 856.1h.9M334.9 873h.9M339.1 875.5h.9M346.2 851.8h.9M333.6 861.3h.9M346 813h.9M342.7 857.2h.9M349.1 864.6h.9M341.6 890.9h.9M336 850h.9M336.2 859.3h.9M338 865.6h.9M343.2 833.2h.9M336.6 840.6h.9M332.2 869h.9M336.6 849.1h.9M344.9 861.6h.9M340.2 866.8h.9M352.9 859.4h.9M337.8 858h.9M349.3 854.2h.9M346.8 855.8h.9M339.5 845h.9M338.8 864.7h.9M338.2 850.4h.9M348.3 870.2h.9M336 862.4h.9M336.8 865.2h.9M339.3 867.9h.9M344.9 854.4h.9M340.5 869.9h.9M340.3 887h.9M344.1 847.2h.9M339 873.5h.9M345.3 865.6h.9M343.2 851.5h.9M349 868.6h.9M332.7 877.1h.9M342 858h.9M338.7 838.3h.9M345 846.4h.9M340.7 869.4h.9M351.9 845.3h.9M342.1 873.8h.9M333.9 849.8h.9M342.7 830.7h.9M350.5 853h.9M337.5 844.9h.9M331.9 844.9h.9M343.5 853.8h.9M345 841h.9M336 848.8h.9M342.2 869.6h.9M340.6 855.4h.9M339.4 870.8h.9M343.8 864h.9M343.6 850h.9M334.3 871.8h.9M334.7 854.2h.9M333.5 869.9h.9M343.8 873.9h.9M338.1 865.3h.9M341.5 834.3h.9M340.1 866.1h.9M336.1 850.4h.9M344.7 850.8h.9M350.7 828.4h.9M342.8 865.4h.9M336.1 844.9h.9M353.2 852.8h.9M343.7 860h.9M341.9 890.8h.9M344 854.2h.9M343.5 847.4h.9M343.2 847h.9M345.2 821.4h.9M345.3 828.7h.9M348.7 848.2h.9M345.5 874.1h.9M343.6 868.6h.9M352.5 846.6h.9M345.6 857.4h.9M347.7 852.5h.9M344.9 842.9h.9M346.8 874.7h.9M347.4 855.3h.9M338.7 866.2h.9M344.1 844.6h.9M351.9 823.8h.9M335.9 883.2h.9M336.1 849.7h.9M336.9 865.7h.9M344.5 858h.9M339.3 856.5h.9M343.9 848.4h.9M337.6 862.9h.9M337.3 862.9h.9M341 833.6h.9M335.1 873.5h.9M333 875.4h.9M349.5 837.6h.9M349.5 824.9h.9M341.4 873.5h.9M342.2 853.5h.9M348.6 850.3h.9M337.7 867.1h.9M342.3 849.3h.9M348.3 855.2h.9M344.7 864.2h.9M327.8 860.4h.9M345.1 843.6h.9M344 852.9h.9M343 861.6h.9M353.9 866.6h.9M344.3 845.6h.9M339.1 864.7h.9M348.5 821.9h.9M339.8 847.9h.9M339.7 863.4h.9M340.7 860h.9M341.7 836.2h.9M341 852.2h.9M343.7 849.6h.9M345.1 829.8h.9M332.5 881.9h.9M340.1 864.3h.9M336.3 871.7h.9M338.5 858.2h.9M346.1 852.1h.9M353.6 844.9h.9M337.8 844.4h.9M352.2 858.2h.9M343.8 846.6h.9M347 841.5h.9M335.8 878.2h.9M345.3 846.9h.9M348.1 856.2h.9M335 884.4h.9M344.9 868.5h.9M340.9 832.8h.9M345.6 849.1h.9M342.5 881.7h.9M346.3 848h.9M339.1 863.9h.9M346 862.6h.9M338.2 859h.9M328.9 864.8h.9M341.9 820.6h.9M356.5 849.1h.9M342.7 854h.9M342.6 860.8h.9M350.8 828.2h.9M336.7 833.1h.9M342.3 878.2h.9M335.8 865.9h.9M346.2 860.5h.9M337.3 847.9h.9M336.6 852.7h.9M348.5 835.2h.9M337.6 884.7h.9M343.6 855.8h.9M344.1 866.8h.9M337.3 842.1h.9M341.5 833.9h.9M347.9 852.8h.9M339.7 882.8h.9M360 817.8h.9M338.3 833.5h.9M344.6 829.1h.9M341.8 855.2h.9M342.8 867.7h.9M342 858.3h.9M345.6 858.3h.9M337 856.8h.9M341.6 824.2h.9M331.4 858.3h.9M343.7 860.1h.9M349.3 846.3h.9M345.3 849.2h.9M344.5 852.1h.9M335 875.6h.9M339.8 857.5h.9M334.2 864.3h.9M336 896h.9M345.8 849.1h.9M347 844.8h.9M345 884.2h.9M332.2 859.2h.9M351.7 849.2h.9M347.1 850.9h.9M347.2 880.3h.9M347 862.9h.9M333.7 844.5h.9M339 856.5h.9M334.4 867h.9M343.3 854.1h.9M341.9 863.9h.9M347.7 835.9h.9M345.6 839.5h.9M337.5 850.9h.9M345.4 843.5h.9M340.3 869.8h.9M333.3 874.8h.9M338.8 856.9h.9M336.1 870.2h.9M337.4 869.8h.9M342.5 884.3h.9M341.6 861.7h.9M331.9 853.7h.9M345.5 866.2h.9M343.2 845.4h.9M339.8 879.3h.9M348.1 860.9h.9M338 870.9h.9M343.4 837.4h.9M340.7 853h.9M339.8 892h.9M342.1 838h.9M347.5 851.6h.9M334.4 879.7h.9M350.7 857.6h.9M334.9 865.5h.9M337.4 867.8h.9M345.6 851.6h.9M348.5 863.3h.9M340 859.5h.9M344.4 863.9h.9M347 852.3h.9M344.4 857.8h.9M349 817.9h.9M337.8 872.2h.9M343.6 850h.9M340.7 845h.9M338.4 869h.9M342.8 853h.9M343.7 855.1h.9M343.8 853.4h.9M336.3 874h.9M340.5 882.5h.9M335.3 859.5h.9M336.2 835.9h.9M340.8 870.7h.9M348.1 862.2h.9M343.2 882.5h.9M341.8 847.2h.9M334.8 846.1h.9M348.3 884h.9M346.8 860.3h.9M339.4 856.4h.9M358.4 839.3h.9M343.6 839.5h.9M341.9 867.3h.9M343.4 847h.9M340.3 872.3h.9M346.6 849.8h.9M340.3 835.7h.9M344.4 849.4h.9M341.7 854.4h.9M336.4 877h.9M340.5 851.7h.9M351.2 864.5h.9M337.9 859.4h.9M343.5 879.9h.9M336.1 868.2h.9M338.6 840.9h.9M347.6 849.1h.9M347.1 854.4h.9M348.6 844.3h.9M338.2 864.5h.9M336.4 842.9h.9M339.7 884.9h.9M331.9 875h.9M343.1 856.2h.9M343.6 850.8h.9M330.1 858.3h.9M336.2 853.7h.9M345.6 846h.9M338.9 873.4h.9M344.2 853.6h.9M345.1 844h.9M338.8 872.8h.9M344.2 854.6h.9M345.7 854.2h.9M340.8 859.2h.9M343.4 847.6h.9M339.8 856.8h.9M350.3 837.6h.9M344.1 843.7h.9M338 861.1h.9M340.7 838.9h.9M347.7 844.9h.9M341.6 870.6h.9M339.8 846h.9M334.8 865.9h.9M345.6 847.5h.9M343 867.7h.9M338.5 862h.9M343.9 845.4h.9M344.5 832.4h.9M343.2 867.4h.9M339.3 856.8h.9M347.5 854.4h.9M341.4 855.3h.9M340.2 883.1h.9M341.3 846.3h.9M342.2 856.7h.9M344 848.3h.9M344.5 843.7h.9M341.2 876.1h.9M340.6 869h.9M336.6 856.4h.9M343.1 866.1h.9M343.3 873.8h.9M332.1 867.3h.9M341.6 847.1h.9M351.8 851.5h.9M338.7 873h.9M340.1 871.5h.9M348.7 846.2h.9M344.1 839.7h.9M350 826.2h.9M347.1 885.8h.9M339.6 837h.9M330.1 852.2h.9M351.7 859.3h.9M344.8 847.8h.9M338.9 857h.9M350.2 866.3h.9M338.5 868.4h.9M330 844.6h.9M347.5 889.3h.9M342.9 848h.9M340.1 886.9h.9M336.6 858.4h.9M352.7 867.9h.9M355.7 867.4h.9M332.3 896.3h.9M335.2 868.9h.9M345.3 865.1h.9M348.5 901.4h.9M337.1 860.5h.9M335.3 865.2h.9M338.5 875.4h.9M338.5 894.7h.9M336.3 895.5h.9M352.5 856.9h.9M346.6 863.2h.9M339.1 839.1h.9M350 889.7h.9M337.9 879.6h.9M338 849.2h.9M343 883.2h.9M337.4 904.1h.9M337.6 874.6h.9M340.8 897.6h.9M344.3 864.9h.9M323.2 887.9h.9M348.6 846.3h.9M341.5 893.8h.9M340.9 833.4h.9M336.6 876.8h.9M336.7 868.7h.9M341.3 850.5h.9M337.1 833.3h.9M345.5 894.7h.9M342.2 878.8h.9M344.1 878.5h.9M342.8 879.1h.9M349.3 851.6h.9M336.9 861.8h.9M340.8 882.1h.9M328.5 876.1h.9M345.5 847.4h.9M334 874.9h.9M332.7 858.2h.9M352.4 878.7h.9M342.2 900.4h.9M340.9 861.7h.9M340.9 868.2h.9M334.5 861.7h.9M338.5 869.4h.9M325.5 885.1h.9M349.8 869.1h.9M333.1 870.4h.9M344.6 860.8h.9M340.4 840.2h.9M349.8 878.4h.9M333.3 859.4h.9M354.5 875.8h.9M329.5 901.4h.9M331 839.7h.9M333.2 839.7h.9M342.5 842.9h.9M340.6 883.8h.9M338.8 867.4h.9M336.9 860.8h.9M343.5 873.2h.9M339 855.9h.9M350.1 869.1h.9M333.7 827.9h.9M360.4 881.8h.9M338.1 855.9h.9M343.6 872.9h.9M340.1 871.8h.9M343 847.1h.9M341.4 898.3h.9M337.8 851.6h.9M334.5 843.5h.9M346.1 838h.9M348.4 842h.9M356.2 883.3h.9M346.9 861.5h.9M329.6 868h.9M327.5 883.4h.9M335.4 875.1h.9M328.4 861.7h.9M333 873.9h.9M349.2 838.1h.9M342.8 878.4h.9M350.6 875.5h.9M343.2 855.3h.9M337.7 868.3h.9M357.1 858h.9M341.5 888.3h.9M340.9 868.2h.9M346.2 834.5h.9M343.6 875.6h.9M344.5 869.2h.9M343.2 890.8h.9M335.8 853.5h.9M337 843.9h.9M329.4 876.8h.9M337.7 874.8h.9M349.1 851.9h.9M338 877.8h.9M361 812.6h.9M334.6 868.1h.9M338.9 858.3h.9M341.3 888.5h.9M335.8 836.7h.9M334.4 848.3h.9M343.6 837.8h.9M334.1 882.3h.9M346.6 875.4h.9M340.9 894.6h.9M343.7 888.2h.9M346.4 871.1h.9M326.5 883.8h.9M328.5 859.5h.9M346.2 886.9h.9M342.7 860.5h.9M338.4 839.3h.9M334 882.1h.9M351.5 822.4h.9M342 848.9h.9M340.9 885.3h.9M353.2 869.1h.9M340.7 886.3h.9M339.5 886.9h.9M333.9 855.1h.9M338.7 879.4h.9M342.2 885.8h.9M337.3 864.1h.9M324.5 870.2h.9M340.6 885.1h.9M346.5 841.9h.9M351.1 868.8h.9M335.5 890h.9M330 877.4h.9M340.2 858.6h.9M346.3 843.2h.9M344.2 889.2h.9M341.9 855h.9M340.8 862h.9M349.9 888.1h.9M347.4 851.6h.9M330.3 874.9h.9M336 842.5h.9M342.8 824.1h.9M330 893.2h.9M339.2 885.9h.9M336.4 859.1h.9M338.6 872.2h.9M347.4 854.4h.9M341.6 861.5h.9M334.1 855h.9M341.7 854.8h.9M342.4 843.4h.9M340.5 857.4h.9M337.7 856.8h.9M340.4 838.4h.9M343.7 856.1h.9M325.7 896.2h.9M336.7 855.6h.9M342.5 832h.9M330.6 889.9h.9M341.4 826.9h.9M353 877.9h.9M338 858.1h.9M336.7 867.7h.9M332.3 852.8h.9M335.5 890.5h.9M346.6 876.2h.9M342 859.9h.9M338.1 889.2h.9M337.9 835.9h.9M337.8 886.3h.9M350.7 841h.9M335.3 890h.9M346 898.6h.9M336.6 845.7h.9M331.8 873.7h.9M327.4 881.6h.9M330.4 859.6h.9M332.6 846.1h.9M340.5 860.6h.9M331.5 878.3h.9M340.1 868.2h.9M341.7 869.1h.9M339.2 850.4h.9M336.6 858.2h.9M345.9 876.3h.9M355 885.9h.9M331.4 875h.9M343.1 866h.9M339.1 881.3h.9M330.4 875.7h.9M355.1 881.2h.9M339.7 894.1h.9M345.6 854.9h.9M345.8 880.5h.9M347.2 899.8h.9M319.9 897.7h.9M335.3 900.2h.9M340.1 844.3h.9M339.4 876.6h.9M335.9 877.5h.9M343.8 877.4h.9M338.9 879.1h.9M343.2 873.5h.9M339.5 854.3h.9M333.6 881.4h.9M326 879.8h.9M331.7 887.2h.9M331.4 857.9h.9M328 884h.9M344.9 879.4h.9M346.3 872.6h.9M338.4 869.1h.9M329.2 886.5h.9M344.5 870h.9M335.1 851.3h.9M336.7 888.6h.9M344 870.8h.9M336.6 846.6h.9M345.2 878.5h.9M328.8 900.4h.9M345.5 888.9h.9M356 857.7h.9M349.7 885h.9M325.8 874.6h.9M349.1 891.6h.9M352 869.2h.9M339.2 883.4h.9M352.1 838.8h.9M345.4 900.8h.9M354.9 853h.9M339.8 859.6h.9M353.8 848.6h.9M337.4 862.7h.9M341.9 866.2h.9M342.8 873.6h.9M333.1 904h.9M344.2 837.6h.9M342.5 890.4h.9M344.9 851.1h.9M339.6 875.7h.9M332.1 887.9h.9M336.2 862.1h.9M349.7 865h.9M336.5 861.2h.9M336 882.2h.9M340.2 873.3h.9M333.2 875.2h.9M345.7 838.4h.9M334.5 880.4h.9M333.6 859.2h.9M336 886.3h.9M342.2 883.5h.9M339.3 880.5h.9M344.2 868.5h.9M340.2 867.6h.9M348 860.8h.9M343.7 840.4h.9M329.6 853h.9M350.3 898h.9M344.6 862.8h.9M347.7 850.2h.9M336.2 882.2h.9M344.5 847.8h.9M334.8 876.1h.9M337.1 881.5h.9M334.3 884.8h.9M348.6 856h.9M348.1 884.4h.9M332.2 852.9h.9M346.1 858.8h.9M336.8 879.5h.9M336.8 871.7h.9M338.3 871.8h.9M344.7 857h.9M342.5 862h.9M338.7 896.7h.9M306.3 855.2h.9M331.4 865.6h.9M320.3 880.7h.9M330.7 901.1h.9M281.5 850.3h.9M316 856.2h.9M313.3 870.8h.9M322.6 887h.9M332.9 878.5h.9M317.7 889.2h.9M349 881h.9M287.8 883.1h.9M279.3 847.8h.9M359.4 885.3h.9M351.5 839.2h.9M363.2 817.8h.9M330.9 866h.9M308.9 865.6h.9M341.5 882.4h.9M340.7 870.4h.9M337.4 870h.9M285.4 897.8h.9M369.5 852.5h.9M300.3 883.1h.9M311.8 833.6h.9M315.7 877.7h.9M295.5 862.3h.9M315.1 867.4h.9M329.9 897.3h.9M291.5 817.3h.9M285.3 830.3h.9M348.3 826.1h.9M344.7 827.8h.9M288.1 897.6h.9M343.1 881.3h.9M351.4 827.6h.9M272.3 882.3h.9M323.4 879.4h.9M295.7 896.8h.9" stroke="#ff0a0a" stroke-width="0.9" fill="none" stroke-opacity="0.85"/>
<line x1="329.8" y1="731.5" x2="329.8" y2="905.9" stroke="#111" stroke-width="1.2"/>
<line x1="270.4" y1="837.1" x2="418.8" y2="837.1" stroke="#111" stroke-width="1.2"/>
<rect x="270.4" y="731.5" width="148.4" height="174.4" fill="none" stroke="#333" stroke-width="0.9"/>
<path d="M265.9 750.4H270.4M265.9 794.1H270.4M265.9 836.7H270.4M265.9 880.4H270.4M268 737.2H270.4M268 780.9H270.4M268 773.2H270.4M268 767.8H270.4M268 763.6H270.4M268 760.1H270.4M268 757.2H270.4M268 754.6H270.4M268 752.4H270.4M268 824.6H270.4M268 816.9H270.4M268 811.5H270.4M268 807.3H270.4M268 803.8H270.4M268 800.9H270.4M268 798.3H270.4M268 796.1H270.4M268 868.3H270.4M268 860.6H270.4M268 855.2H270.4M268 851H270.4M268 847.5H270.4M268 844.6H270.4M268 842H270.4M268 839.8H270.4M268 904.3H270.4M268 898.9H270.4M268 894.7H270.4M268 891.2H270.4M268 888.3H270.4M268 885.7H270.4M268 883.5H270.4M291.6 905.9V910.4M329.2 905.9V910.4M365.1 905.9V910.4M401.4 905.9V910.4M271.9 905.9V908.3M276.6 905.9V908.3M280.3 905.9V908.3M283.3 905.9V908.3M285.8 905.9V908.3M288 905.9V908.3M289.9 905.9V908.3M302.9 905.9V908.3M309.5 905.9V908.3M314.2 905.9V908.3M317.9 905.9V908.3M320.9 905.9V908.3M323.4 905.9V908.3M325.6 905.9V908.3M327.5 905.9V908.3M340.5 905.9V908.3M347.1 905.9V908.3M351.8 905.9V908.3M355.5 905.9V908.3M358.5 905.9V908.3M361 905.9V908.3M363.2 905.9V908.3M365.1 905.9V908.3M378.1 905.9V908.3M384.7 905.9V908.3M389.4 905.9V908.3M393.1 905.9V908.3M396.1 905.9V908.3M398.6 905.9V908.3M400.8 905.9V908.3M402.7 905.9V908.3M415.7 905.9V908.3" stroke="#222" stroke-width="0.7" fill="none"/>
<text x="243.8" y="765.8" font-size="12.6" textLength="12.4" lengthAdjust="spacingAndGlyphs">10</text>
<text x="256.6" y="758.4" font-size="6.8">5</text>
<text x="243.8" y="809.5" font-size="12.6" textLength="12.4" lengthAdjust="spacingAndGlyphs">10</text>
<text x="256.6" y="802.1" font-size="6.8">4</text>
<text x="243.8" y="852.1" font-size="12.6" textLength="12.4" lengthAdjust="spacingAndGlyphs">10</text>
<text x="256.6" y="844.7" font-size="6.8">3</text>
<text x="243.8" y="895.8" font-size="12.6" textLength="12.4" lengthAdjust="spacingAndGlyphs">10</text>
<text x="256.6" y="888.4" font-size="6.8">2</text>
<text x="277" y="928.9" font-size="12.6" textLength="12.4" lengthAdjust="spacingAndGlyphs">10</text>
<text x="289.8" y="921.5" font-size="6.8">2</text>
<text x="314.6" y="928.9" font-size="12.6" textLength="12.4" lengthAdjust="spacingAndGlyphs">10</text>
<text x="327.4" y="921.5" font-size="6.8">3</text>
<text x="350.5" y="928.9" font-size="12.6" textLength="12.4" lengthAdjust="spacingAndGlyphs">10</text>
<text x="363.3" y="921.5" font-size="6.8">4</text>
<text x="386.8" y="928.9" font-size="12.6" textLength="12.4" lengthAdjust="spacingAndGlyphs">10</text>
<text x="399.6" y="921.5" font-size="6.8">5</text>
<text x="413.1" y="754.2" font-size="17" text-anchor="end" textLength="33.6" lengthAdjust="spacingAndGlyphs">1.3%</text>
<text x="413.1" y="900.3" font-size="17" text-anchor="end" textLength="42.6" lengthAdjust="spacingAndGlyphs">18.9%</text>
<text x="308.4" y="825.3" font-size="6.3" text-anchor="middle" textLength="17.4" lengthAdjust="spacingAndGlyphs" font-weight="normal" fill="#222">Q1-2</text>
<text x="350.3" y="825.3" font-size="6.3" text-anchor="middle" textLength="17.4" lengthAdjust="spacingAndGlyphs" font-weight="normal" fill="#222">Q2-2</text>
<text x="308.4" y="857.2" font-size="6.3" text-anchor="middle" textLength="17.4" lengthAdjust="spacingAndGlyphs" font-weight="normal" fill="#222">Q3-2</text>
<text x="350.3" y="857.2" font-size="6.3" text-anchor="middle" textLength="17.4" lengthAdjust="spacingAndGlyphs" font-weight="normal" fill="#222">Q4-2</text>
</g>
<text x="143.5" y="979.2" font-size="16.4" text-anchor="middle" textLength="41.9" lengthAdjust="spacingAndGlyphs">Si-NC</text>
<g>
<rect x="73.9" y="984.5" width="146.7" height="170.6" fill="#fff"/>
<path d="M109.3 1120.1h.9M101.9 1126h.9M99.5 1126.3h.9M83.9 1124.4h.9M98.2 1129.5h.9M92.8 1119.2h.9M103.1 1137h.9M92.7 1123.4h.9M98 1125.3h.9M98.6 1133.7h.9M89.8 1128.3h.9M100.8 1116.5h.9M100.4 1115.7h.9M109.6 1122h.9M99.7 1127.5h.9M97.9 1130.9h.9M95.7 1128.5h.9M87.7 1127.5h.9M105.6 1125.1h.9M95 1136h.9M89.2 1124.9h.9M105.6 1144.3h.9M106.6 1119.1h.9M102.8 1131.2h.9M96.6 1138.1h.9M96.2 1132.2h.9M103 1125.3h.9M99.1 1129.7h.9M96.8 1134.5h.9M90.7 1112.8h.9M104.1 1125.7h.9M109.6 1117.8h.9M89.1 1125.6h.9M94.8 1127.9h.9M93.9 1128.7h.9M84.7 1135h.9M91.3 1125.2h.9M94.7 1134.2h.9M100.3 1111.6h.9M95.3 1120.9h.9M85.5 1123.9h.9M102.6 1124.1h.9M95 1123.9h.9M88.8 1133.1h.9M92.8 1123.1h.9M97.7 1133.6h.9M94.7 1131.6h.9M97.3 1122.6h.9M80.4 1123.2h.9M93.8 1120h.9M100.9 1114.5h.9M106.5 1129.2h.9M106.9 1126h.9M102.2 1115.6h.9M111.9 1130.6h.9M90.7 1127h.9M98.2 1111.4h.9M89.4 1136.2h.9M97.7 1133.7h.9M86.5 1130.8h.9M102.6 1117.7h.9M109.4 1127.7h.9M95.9 1123.3h.9M109.2 1120.1h.9M95.3 1129.6h.9M100 1126.4h.9M98.2 1122.5h.9M89.3 1123.1h.9M102.8 1127.9h.9M105 1108.5h.9M92.8 1129.9h.9M104.5 1124.1h.9M98.6 1128.4h.9M108.3 1118.4h.9M101.8 1125h.9M104.4 1127.4h.9M99.8 1118.2h.9M100 1124.9h.9M90.6 1131.3h.9M103.9 1114.9h.9M87.6 1124.4h.9M103.5 1132.7h.9M104.6 1128.8h.9M91.4 1123.9h.9M100.9 1128.6h.9M106.5 1124h.9M101.5 1132.5h.9M95.5 1133.7h.9M91.6 1126.6h.9M97.9 1134h.9M99 1135.1h.9M90.9 1124.9h.9M97.7 1118h.9M95.4 1128.3h.9M96.1 1122.4h.9M102.5 1123.3h.9M90.3 1121.8h.9M98.3 1130.1h.9M113 1122h.9M104.8 1125.1h.9M87.7 1123.5h.9M93.8 1117h.9M98.8 1117.2h.9M107.1 1124.3h.9M95 1115.7h.9M96.6 1130.2h.9M98 1136.4h.9M100.8 1120.3h.9M99.8 1123.5h.9M97.5 1131.8h.9M99.3 1130.5h.9M94.3 1123.4h.9M102.4 1122.4h.9M94.3 1127.9h.9M100.7 1122.6h.9M104.9 1125.8h.9M102.1 1125.6h.9M96.3 1134.4h.9M102.6 1112.8h.9M96.9 1133.3h.9M102.9 1128.3h.9M93.4 1126.8h.9M88.6 1132.5h.9M102 1129.7h.9M100.8 1126.1h.9M97.3 1124.3h.9M100.7 1126h.9M92.7 1123.7h.9M90.7 1120.8h.9M95.2 1121.4h.9M108.3 1116h.9M103.8 1124h.9M97 1130.9h.9M102.4 1125h.9M98.8 1134.1h.9M95.3 1126.2h.9M102.1 1119.6h.9M93.4 1123.2h.9M85.9 1125.6h.9M92 1126.4h.9M102.1 1132.1h.9M95.6 1117.5h.9M107.3 1124.6h.9M93.9 1127.4h.9M104.8 1127.6h.9M99.9 1121.8h.9M99.2 1129.6h.9M102.3 1120.5h.9M102.9 1127.3h.9M88.4 1118h.9M106.2 1124.9h.9M92.6 1132.8h.9M95 1117.2h.9M100.4 1129.8h.9M98.3 1118.5h.9M96.3 1132.6h.9M98.2 1125.6h.9M99.2 1129.4h.9M105.5 1124.6h.9M90.7 1121.8h.9M102.5 1133.2h.9M99.7 1132.5h.9M88 1124.2h.9M116.3 1120.8h.9M99.1 1128.2h.9M87.7 1126.5h.9M104.7 1116.3h.9M94.9 1135.2h.9M99.8 1122.6h.9M105.9 1127.8h.9M99 1137.2h.9M97 1129.4h.9M93.1 1122.7h.9M100 1131.1h.9M85.2 1123.4h.9M88.7 1124.6h.9M104.5 1141h.9M103 1118.7h.9M103.2 1125.7h.9M106.6 1115.4h.9M102.5 1123.1h.9M95.8 1128.2h.9M91.5 1112.6h.9M84.4 1128.2h.9M94.1 1131.8h.9M94.2 1133h.9M100.9 1126.6h.9M100.2 1119h.9M96 1129.3h.9M93.7 1124.9h.9M87.1 1126.2h.9M97.7 1126h.9M105.4 1136.5h.9M99.1 1119.8h.9M96.1 1133.2h.9M111.3 1121.2h.9M102.3 1114.7h.9M95.7 1121.3h.9M94.8 1126.3h.9M95.4 1124.2h.9M100 1126.5h.9M96 1120.7h.9M99 1119.1h.9M105.6 1128.5h.9M106.8 1121.5h.9M103.5 1118h.9M97.8 1125.9h.9M105.2 1133.8h.9M94.7 1123.8h.9M91.3 1119.7h.9M112.4 1124.9h.9M100.3 1136.9h.9M113.7 1126.3h.9M93.2 1119.9h.9M95.1 1114.4h.9M108.1 1128.8h.9M98.1 1124.6h.9M102 1127h.9M96.5 1125.3h.9M99.5 1135.4h.9M97.6 1126.4h.9M93.6 1125.8h.9M108.8 1121.5h.9M94.5 1119.9h.9M109.4 1121.4h.9M81.6 1132.7h.9M93.5 1114.7h.9M99.1 1118h.9M93.6 1119.9h.9M101.4 1114.3h.9M103.1 1125.4h.9M99.3 1131.9h.9M101.8 1125.8h.9M112.2 1109.8h.9M95.7 1115.6h.9M102 1128.5h.9M94.9 1125h.9M98.9 1124.4h.9M87.3 1122.4h.9M92.3 1115.6h.9M118.7 1129.5h.9M103.4 1119.1h.9M101.8 1122.5h.9M102.4 1116.3h.9M113.5 1127.6h.9M101.1 1121.7h.9M110.7 1118.5h.9M105 1122.4h.9M99.3 1124.7h.9M112.2 1127.5h.9M79.4 1122.7h.9M96.2 1130h.9M98.4 1121.3h.9M91.7 1125.7h.9M95.8 1122.5h.9M95.3 1129.2h.9M91.2 1120.5h.9M113.7 1114.6h.9M103.4 1126.2h.9M96.5 1122.4h.9M105.2 1118.9h.9M97.7 1127.7h.9M103.9 1123h.9M99.6 1122.4h.9M108.4 1120.7h.9M87.4 1124.7h.9M105 1127.3h.9M96.4 1119.2h.9M87.3 1120.3h.9M105.8 1124.2h.9M89.7 1120.9h.9M105.9 1115.6h.9M100.8 1122.5h.9M104.2 1126.7h.9M97.6 1122.4h.9M102.7 1120.2h.9M85.7 1128.2h.9M99.5 1126.7h.9M93.1 1124.2h.9M100.5 1125.4h.9M101.1 1132h.9M101.4 1122.1h.9M92.1 1125.5h.9M107.3 1115h.9M110.6 1114.5h.9M93.9 1119.3h.9M95.5 1119.4h.9M98.5 1121.2h.9M106.7 1123h.9M111 1122h.9M89.7 1126.2h.9M95.1 1128.3h.9M88.5 1121.4h.9M96.2 1138.6h.9M93.9 1142.2h.9M100.1 1123.3h.9M92.2 1130.8h.9M107.6 1121.1h.9M105.6 1126.3h.9M90.3 1124.7h.9M88.2 1120.2h.9M96.3 1130.8h.9M104.2 1115.4h.9M93.7 1129.2h.9M86.8 1124.6h.9M96 1121.2h.9M102.8 1128.9h.9M97.9 1135h.9M107.8 1119.5h.9M98.6 1122.1h.9M101.6 1125.2h.9M91.6 1124.6h.9M93.8 1116.3h.9M97.1 1125.3h.9M78.8 1120.1h.9M100.9 1126.3h.9M85.9 1127.5h.9M98.4 1126h.9M85.6 1121.7h.9M108.8 1115.3h.9M101.5 1126.9h.9M106.7 1129.4h.9M105.8 1126.5h.9M90.9 1130.7h.9M81.4 1125.9h.9M97.4 1128.8h.9M104 1123h.9M97.9 1123.1h.9M106 1129.3h.9M102.1 1118.3h.9M93.1 1138.1h.9M98.4 1120.8h.9M108.7 1115.9h.9M94.4 1126.1h.9M82.5 1124.1h.9M95.6 1123.2h.9M95.5 1126.7h.9M96.7 1115.1h.9M90.7 1123.3h.9M95.4 1117.6h.9M83.4 1129.1h.9M106.1 1128.2h.9M106.9 1118.2h.9M105.7 1120.2h.9M89.3 1130.4h.9M97.5 1118.4h.9M80.3 1134.6h.9M98.6 1121.5h.9M96.2 1121.8h.9M87.9 1119.1h.9M98.7 1120.7h.9M101.4 1129.8h.9M106.8 1128.3h.9M98.2 1123.1h.9M99.7 1124.6h.9M85.1 1128.4h.9M88.4 1122.7h.9M90.9 1117.2h.9M104 1132.7h.9M95.8 1120h.9M107.9 1121.7h.9M96.4 1135.3h.9M95.8 1123.7h.9M99.3 1123.4h.9M97.4 1127h.9M100.4 1121.8h.9M95.2 1127.9h.9M106.1 1119.3h.9M98.9 1131.7h.9M106.2 1124.3h.9M95.2 1119.2h.9M104.3 1114.1h.9M88.1 1125.9h.9M100 1120.5h.9M93.8 1122.6h.9M101.8 1129.2h.9M103.9 1118.1h.9M90.1 1126.1h.9M90.4 1129.7h.9M87.4 1118h.9M100.8 1126.6h.9M88 1133.6h.9M102.2 1132h.9M88 1123.9h.9M90.1 1126.2h.9M96.5 1127.4h.9M99.7 1122.2h.9M91 1119.7h.9M97.4 1131.3h.9M97.4 1123.9h.9M97.4 1127.8h.9M79.3 1127.5h.9M97.9 1131.4h.9M98 1123.3h.9M103.4 1118.5h.9M112.8 1123.4h.9M105 1129h.9M96.6 1120.3h.9M94.7 1133.1h.9M102.7 1133.2h.9M103.7 1124.4h.9M102.8 1114.5h.9M94.2 1130.7h.9M102.3 1130h.9M100.9 1117.8h.9M113.7 1128.4h.9M99.4 1123.6h.9M94.7 1126.3h.9M96.7 1132.9h.9M96.6 1127.4h.9M97.2 1133.5h.9M103.4 1122.9h.9M105.8 1124.2h.9M102.8 1123.4h.9M106.2 1123.1h.9M96.9 1129.6h.9M101.8 1126.7h.9M95.2 1124.9h.9M100.8 1130h.9M105.7 1121.4h.9M101 1131.5h.9M88.3 1133.8h.9M96.5 1125.6h.9M92.2 1123.7h.9M89.1 1129.9h.9M96.7 1134.6h.9M104.7 1123.5h.9M111 1125.4h.9M95.1 1126.3h.9M103.8 1120.9h.9M103.9 1118.4h.9M86.6 1118.8h.9M98.8 1127h.9M98.1 1125.6h.9M99.3 1124.6h.9M90.3 1133.9h.9M93.8 1121.3h.9M108.8 1130.9h.9M102.6 1114.3h.9M110.2 1121.3h.9M93.4 1120.2h.9M109.2 1118.6h.9M105.1 1129.3h.9M86.4 1121.6h.9M103.4 1124h.9M96.4 1126.9h.9M101.9 1124.7h.9M98.3 1126.9h.9M107.6 1125.9h.9M101 1127.1h.9M97.4 1128h.9M106.3 1127h.9M101.4 1127.9h.9M95.4 1125.8h.9M103.3 1115.4h.9M97.7 1130.5h.9M93.5 1125.4h.9M98.9 1135.2h.9M87.9 1126.6h.9M92 1120.7h.9M112.4 1125.7h.9M90.9 1124.1h.9M94.8 1117.6h.9M94.2 1134.4h.9M91.1 1119.6h.9M110.8 1127.6h.9M101.5 1117.8h.9M95.5 1129.1h.9M98.8 1126.4h.9M88.9 1118.4h.9M93.4 1127.4h.9M91.6 1125.7h.9M93 1128.5h.9M101.5 1127h.9M105.7 1131.5h.9M100.7 1122.6h.9M97 1125.2h.9M95 1140.1h.9M99.6 1129.1h.9M94.4 1131.8h.9M100.1 1114.9h.9M98.4 1116.5h.9M101.6 1120.3h.9M95.7 1125.3h.9M88.3 1132.9h.9M110.6 1136.4h.9M102.9 1115.3h.9M88.2 1127.4h.9M100.6 1128h.9M106.3 1123.2h.9M94.3 1134h.9M108.5 1118.7h.9M94 1121.7h.9M96.6 1138.9h.9M107.8 1123.5h.9M97.2 1118.3h.9M93.4 1125.3h.9M103.5 1122.4h.9M82.7 1123.2h.9M111.3 1123.9h.9M93.6 1128.3h.9M99.1 1122.5h.9M94.2 1123h.9M104.8 1132.3h.9M103.5 1122.2h.9M91.3 1123.6h.9M98.2 1112.5h.9M93.9 1120.6h.9M95.6 1130.6h.9M100.4 1133.3h.9M89.3 1122.1h.9M88.5 1117h.9M104.1 1122.5h.9M97.2 1125.3h.9M107.3 1126.2h.9M99.2 1120.2h.9M92.1 1128.6h.9M82.1 1121.1h.9M91 1120.8h.9M98.5 1121.5h.9M97.2 1122.8h.9M94.3 1130.2h.9M107.3 1128.4h.9M84.1 1122.9h.9M94.4 1137.2h.9M97.2 1120.9h.9M110.7 1116.6h.9M103.4 1129.6h.9M86.3 1115.8h.9M98.4 1116h.9M100.5 1118.9h.9M104.2 1122.8h.9M98.2 1131.8h.9M95.9 1133h.9M96.8 1120.1h.9M102.5 1127.7h.9M107.1 1118.4h.9M114.6 1126.7h.9M93 1125.8h.9M97.5 1132h.9M95.4 1120.1h.9M98.5 1129.8h.9M98 1116.8h.9M101.5 1124.3h.9M96 1116.2h.9M106.2 1120.6h.9M95.4 1121.6h.9M89.4 1123.2h.9M89.2 1130.9h.9M93.8 1132.1h.9M92.1 1128.8h.9M87.4 1132.2h.9M104 1127h.9M102.3 1130.9h.9M98.1 1131.6h.9M93.7 1129.8h.9M93.2 1139.9h.9M91.4 1125.3h.9M111.5 1124h.9M81.9 1125.8h.9M104.8 1136.9h.9M102.3 1121.8h.9M99.5 1125.6h.9M99.6 1133.1h.9M102.5 1122h.9M89.5 1124.1h.9M97.3 1114.2h.9M106.4 1119.7h.9M96.7 1138.6h.9M93.6 1128.4h.9M103.2 1133.6h.9M106.3 1126.5h.9M105.4 1119h.9M99.1 1116h.9M93.6 1126.1h.9M92.8 1131.5h.9M99.2 1123.3h.9M101.1 1124.9h.9M92.8 1131.2h.9M97.7 1123.1h.9M96.8 1116.8h.9M103.9 1120.4h.9M93.4 1130.8h.9M99.7 1119.3h.9M88.5 1123h.9M93.2 1121.2h.9M97.1 1124.1h.9M107.2 1120h.9M118.5 1115.2h.9M96.7 1117.8h.9M101.3 1123.7h.9M102.9 1118.9h.9M87.5 1124.1h.9M98.5 1113.4h.9M87.9 1122.9h.9M106.7 1117.2h.9M107.4 1121.5h.9M102.2 1125.6h.9M93.2 1127.4h.9M109 1121.3h.9M97.1 1118.5h.9M100.7 1128.7h.9M103.6 1127.4h.9M89.2 1133.3h.9M99.6 1121.2h.9M104.1 1121.7h.9M99.1 1121.6h.9M95.9 1117.9h.9M91.5 1126h.9M98.4 1115.3h.9M95.2 1115.4h.9M99.5 1127.8h.9M96 1129.4h.9M105.4 1126.8h.9M104.8 1119.2h.9M100.6 1124h.9M105 1125.1h.9M105.5 1119.3h.9M103.1 1110.1h.9M104.9 1135.8h.9M99.8 1132h.9M98.6 1132.6h.9M98.5 1125.5h.9M99.7 1119.4h.9M104.2 1122.8h.9M96.3 1127.8h.9M95.9 1117.7h.9M91 1125.6h.9M107.4 1124.4h.9M99.4 1134h.9M101.9 1127.2h.9M92.9 1125.2h.9M93.4 1119.6h.9M98.8 1137.5h.9M109.1 1121h.9M102.3 1128.1h.9M97.3 1125.9h.9M89.3 1121.2h.9M99.7 1138h.9M103.4 1127h.9M111.4 1126.7h.9M87.6 1125.4h.9M92.6 1127.8h.9M100.4 1132.7h.9M93.6 1125.3h.9M86.4 1126.4h.9M95.7 1119.5h.9M99.7 1116.2h.9M90.5 1134h.9M99.4 1124.4h.9M100 1113.3h.9M107.9 1130.2h.9M98.7 1133h.9M115.2 1124.5h.9M97.3 1114.3h.9M93.5 1128.1h.9M107.4 1129h.9M88.9 1123.2h.9M101.9 1118.6h.9M89.9 1127.7h.9M98.4 1112.7h.9M95.2 1128h.9M107.6 1127.1h.9M104.4 1126.5h.9M104.6 1131.6h.9M98.9 1125.6h.9M104.9 1122h.9M86.7 1129.5h.9M99.3 1120.5h.9M98.3 1118.6h.9M100 1119.9h.9M103.2 1122.5h.9M119.8 1111.9h.9M99.3 1125.5h.9M103.4 1123.4h.9M100.7 1128.1h.9M106.8 1118.1h.9M80.9 1120.6h.9M106.5 1115.5h.9M98.6 1137h.9M86.1 1135.6h.9M90.7 1126.3h.9M96.7 1124.7h.9M99.3 1124.3h.9M96.9 1123h.9M103.8 1123.9h.9M99.7 1128.9h.9M100.8 1131.7h.9M84.2 1129.6h.9M100.6 1122.4h.9M103.7 1120.7h.9M95.8 1126.6h.9M89.2 1136.1h.9M88.3 1125.3h.9M113.8 1131.7h.9M95.9 1129.9h.9M96.8 1132.8h.9M91.1 1123.1h.9M101.6 1121.4h.9M93.4 1124.3h.9M93.1 1128h.9M84.2 1119.3h.9M98.8 1128.1h.9M100.5 1113.9h.9M98.3 1127.7h.9M106.2 1128h.9M99.3 1124.6h.9M98.8 1124.1h.9M99 1124h.9M98 1124.2h.9M105.3 1123.8h.9M103.5 1128.6h.9M96.3 1130.4h.9M102.7 1132.7h.9M98.1 1126.2h.9M100.2 1121.5h.9M98.4 1122.7h.9M98 1118.1h.9M88.4 1127.9h.9M99.4 1121.5h.9M110.8 1130.9h.9M91.4 1132.2h.9M112.6 1130.2h.9M95.8 1115.1h.9M97.9 1127.8h.9M89.8 1136.1h.9M106 1124.2h.9M91.4 1126.2h.9M95.7 1128.1h.9M102.1 1124.7h.9M92.5 1129.4h.9M93.1 1129.9h.9M93.7 1133.9h.9M98.4 1127.2h.9M102.8 1125.5h.9M101.1 1124.7h.9M102.1 1126.9h.9M94.7 1123.2h.9M100.8 1128.4h.9M93.5 1126.2h.9M112.9 1124.4h.9M98.4 1122.3h.9M86.4 1131.2h.9M91.6 1128.1h.9M106.1 1116.2h.9M92.6 1135.1h.9M96.8 1129.1h.9M101.2 1124.9h.9M94.7 1135.3h.9M104.4 1121.2h.9M108.9 1121h.9M96.1 1133.9h.9M111.3 1135h.9M93.3 1128.9h.9M96.3 1137h.9M100.5 1126.1h.9M98.2 1121.2h.9M96.1 1130.2h.9M106.7 1129.8h.9M90 1131.2h.9M94.4 1130.8h.9M89.4 1123.6h.9M97.9 1112.3h.9M104.1 1124.8h.9M99.3 1116.6h.9M90.3 1129.1h.9M97.7 1122h.9M101.6 1125h.9M90.5 1134.5h.9M89.3 1119.3h.9M102 1122.8h.9M102.3 1122.6h.9M103 1131.4h.9M101.8 1124.1h.9M98.4 1120.2h.9M97.8 1121.9h.9M101.9 1134.7h.9M90.8 1123.3h.9M96.9 1126.2h.9M96.4 1127.8h.9M109.9 1112.8h.9M98 1120.4h.9M93.6 1115.3h.9M94.7 1121.3h.9M99.1 1128.9h.9M97.1 1127.1h.9M97.2 1114.1h.9M101.5 1132.6h.9M100.2 1116.2h.9M91.8 1122.5h.9M104.2 1132.4h.9M104.8 1125.1h.9M91 1128.2h.9M102.9 1132.4h.9M99.6 1124.2h.9M97.1 1128h.9M94 1123.8h.9M86.6 1130h.9M105.2 1121.6h.9M95.1 1133.5h.9M89.2 1125.7h.9M101.9 1122.4h.9M81.9 1119.6h.9M100.2 1113.9h.9M102.6 1127.5h.9M101.1 1121.6h.9M96.5 1124h.9M92.2 1131.8h.9M85.9 1129h.9M107.5 1121.5h.9M94.7 1125.2h.9M90.3 1116.5h.9M109.5 1123.8h.9M97.9 1134.5h.9M99.6 1131.8h.9M96.9 1126.2h.9M98 1126.9h.9M92.7 1130.1h.9M98.3 1134.4h.9M109 1127.5h.9M102.1 1121.2h.9M79.6 1133h.9M85.7 1129.7h.9M98.9 1121.2h.9M96 1122.3h.9M95.6 1125.5h.9M98.9 1109.9h.9M88 1132h.9M104.5 1119.2h.9M96.1 1118.5h.9M101.1 1122.4h.9M97.9 1120.4h.9M106.2 1128.5h.9M94 1120.1h.9M94.9 1126.8h.9M103.7 1124.4h.9M97.2 1120.2h.9M87.5 1122.3h.9M107.3 1122.9h.9M104.6 1119.4h.9M104.8 1116h.9M95.2 1117.4h.9M101.7 1127h.9M99.3 1133.5h.9M90.9 1125h.9M99.8 1127.4h.9M101.8 1129.9h.9M96.4 1131.9h.9M108 1116.8h.9M89.4 1132.3h.9M94.7 1130.8h.9M100 1139.6h.9M106.6 1122.4h.9M99.1 1131.1h.9M98.1 1130.1h.9M94.3 1130.9h.9M91.2 1122.4h.9M90.9 1130.4h.9M108 1129.8h.9M101.2 1121.7h.9M104.9 1123.6h.9M92.4 1123.3h.9M114.4 1119.4h.9M93.1 1129.9h.9M87.3 1134.7h.9M95.6 1124.2h.9M98.2 1122.8h.9M101.7 1120.4h.9M92.7 1129.6h.9M102.4 1124.5h.9M114 1131.6h.9M91.6 1124.7h.9M95.4 1130.9h.9M86.6 1127.6h.9M98.7 1122.4h.9M106.1 1128.2h.9M104 1125.2h.9M104.7 1125.6h.9M104 1114.7h.9M105.1 1137.8h.9M109 1132.9h.9M90.8 1124.6h.9M90.4 1121.1h.9M98.2 1121.1h.9M93.8 1128.9h.9M99.7 1119.1h.9M107.4 1122.8h.9M99.3 1121h.9M100.1 1141.1h.9M93.2 1126.4h.9M105.7 1119.2h.9M98 1137.5h.9M99.6 1126.7h.9M96.8 1126.2h.9M98.6 1125h.9M106.4 1125h.9M94 1124.8h.9M89.9 1130h.9M106 1118.5h.9M96.6 1118.1h.9M102.1 1121.7h.9M98.6 1126.2h.9M106.8 1131h.9M106.6 1122.8h.9M106 1119.7h.9M96.9 1126.8h.9M97.5 1129.3h.9M95.6 1113.2h.9M98.6 1122.7h.9M96.9 1113.1h.9M89.9 1118.8h.9M82.3 1128.4h.9M100.8 1123.4h.9M103.2 1123.3h.9M102.6 1124.1h.9M111.6 1127h.9M104.6 1125.1h.9M96.8 1128.4h.9M103.7 1121h.9M102.3 1135.2h.9M109.1 1128.2h.9M98.5 1121.9h.9M99.8 1121.3h.9M101.5 1128.6h.9M101 1130.2h.9M88.4 1128.2h.9M101.3 1130.8h.9M81.6 1126.1h.9M101.1 1123.2h.9M106.8 1127.6h.9M109.7 1116.7h.9M101 1125.1h.9M93.9 1127.5h.9M88 1128.8h.9M106.1 1110.7h.9M88.8 1128h.9M104.3 1123.8h.9M84.6 1133.1h.9M99.8 1129.4h.9M104.8 1128.1h.9M99.6 1122.8h.9M97.6 1124.6h.9M97.2 1136.2h.9M94.9 1132.5h.9M104.7 1122.8h.9M100.6 1123.3h.9M99.9 1131.3h.9M102.2 1130.2h.9M92.5 1127.8h.9M105.8 1124.9h.9M106.3 1122.2h.9M93.6 1127.7h.9M103.4 1134.5h.9M102 1116.3h.9M96.2 1131.2h.9M108.6 1114.6h.9M106.2 1117.8h.9M98.7 1130.6h.9M101.5 1116.3h.9M106.5 1116.2h.9M88.1 1123.5h.9M100.9 1120.9h.9M98.2 1127.5h.9M99.8 1132h.9M101.3 1120.3h.9M97.6 1131.5h.9M87 1123.6h.9M94.6 1140.2h.9M97.2 1123.3h.9M101.1 1121.3h.9M98.8 1126.8h.9M97.6 1126.3h.9M97.8 1124.6h.9M102.4 1113.3h.9M103.5 1128h.9M95.4 1131h.9M95.6 1124.2h.9M103 1116h.9M95.3 1128.2h.9M98.4 1131.9h.9M94.1 1116.7h.9M89.1 1122.7h.9M104 1123.1h.9M82.9 1127.5h.9M106.4 1119.3h.9M95.3 1125.9h.9M92.3 1132.7h.9M101.8 1128.3h.9M90 1135h.9M103.7 1128.2h.9M101.6 1119.9h.9M89.2 1115h.9M96.6 1127.9h.9M105.1 1124.7h.9M95.2 1129.3h.9M96.8 1121.8h.9M104.8 1133.7h.9M104 1112.4h.9M97 1130.7h.9M99.9 1128.2h.9M107.4 1126.5h.9M85.7 1139.5h.9M97.7 1128.4h.9M87.3 1132.4h.9M86.3 1129.1h.9M112.1 1123.4h.9M100.5 1126.6h.9M109.3 1124.9h.9M94.1 1120.3h.9M98.1 1116.1h.9M95.7 1126.8h.9M96.1 1129.4h.9M94.3 1117.9h.9M96.7 1119.8h.9M106.9 1119.1h.9M97.7 1127.3h.9M101.4 1125.7h.9M99 1130.9h.9M98.8 1124h.9M91.2 1131.1h.9M108 1128.5h.9M94.5 1125.4h.9M103.8 1136.4h.9M96.1 1124.1h.9M104.7 1123.1h.9M97.2 1114.5h.9M98.2 1124.9h.9M98.2 1122.2h.9M98.9 1121.2h.9M103.6 1124.6h.9M98.9 1118.4h.9M106.7 1122.7h.9M103.7 1110.8h.9M101 1121.1h.9M93.3 1135.8h.9M109.4 1120.9h.9M113 1122.1h.9M94 1121.9h.9M92.7 1120h.9M88.8 1138.1h.9M105.5 1128.1h.9M94.1 1132.5h.9M109.6 1120h.9M85.7 1138.2h.9M97.8 1123h.9M104.1 1126.8h.9M97.3 1129.7h.9M91.3 1123.2h.9M103.1 1131.6h.9M95.4 1127.5h.9M98.1 1130.3h.9M94.6 1118h.9M92.1 1121h.9M95.9 1123.9h.9M104.3 1125.6h.9M98.6 1132.2h.9M100.2 1126.7h.9M93.4 1126.9h.9M105.3 1125.6h.9M89.9 1127.9h.9M104.6 1123.4h.9M80.6 1136h.9M91.1 1124.6h.9M89.5 1131.9h.9M101.2 1115.2h.9M98.1 1120.5h.9M91.8 1132.4h.9M93.3 1123.8h.9M107.7 1123.9h.9M98.4 1126.6h.9M101.3 1122.8h.9M92.4 1137.2h.9M90.1 1132.1h.9M100.4 1120.8h.9M111.2 1116.2h.9M95.1 1127.5h.9M98.4 1116.3h.9M95 1133.8h.9M105.7 1121.4h.9M91.4 1118.2h.9M93.2 1121.7h.9M89.7 1137.8h.9M96.1 1127.7h.9M104.3 1135.6h.9M106.7 1121.5h.9M91.9 1131.1h.9M108.7 1132.2h.9M100.9 1136.9h.9M94.2 1121.6h.9M94.3 1132.5h.9M85.2 1125.1h.9M89.5 1126.6h.9M104 1112.1h.9M92 1131.7h.9M93 1121.6h.9M103 1118.4h.9M89.4 1141h.9M102.8 1128.5h.9M94.4 1126.1h.9M95 1116h.9M104 1124.5h.9M91.7 1114.5h.9M94.6 1121.5h.9M104 1126.6h.9M103.7 1127.6h.9M93.9 1128.2h.9M98.7 1130h.9M90.1 1130.2h.9M104.1 1117.9h.9M90.6 1129h.9M103.1 1133.5h.9M108.6 1120.2h.9M103.6 1124.6h.9M97.5 1129h.9M90.3 1120.6h.9M91.8 1122.1h.9M100 1115h.9M100.9 1126.2h.9M97.2 1123.6h.9M111.2 1111.7h.9M90 1121.5h.9M96.7 1130.4h.9M97.7 1130.5h.9M100.4 1126.8h.9M100 1124.6h.9M97.6 1128.6h.9M102.6 1123.3h.9M102.2 1125.5h.9M95.2 1124.2h.9M80.6 1127.3h.9M101.2 1119.3h.9M92.7 1129.3h.9M97.8 1135.6h.9M95.1 1121.5h.9M87.7 1123.4h.9M94.6 1131.2h.9M99.9 1128.8h.9M94 1122.8h.9M98.3 1121.5h.9M91 1124.8h.9M97 1127.6h.9M98.2 1143.6h.9M94.2 1122.5h.9M100.1 1126h.9M95 1123.6h.9M89.1 1130.2h.9M97.4 1127.9h.9M99.2 1126.3h.9M102.3 1117h.9M95.1 1120.5h.9M97.2 1131.1h.9M91 1129.9h.9M110.3 1120.4h.9M93.1 1130.8h.9M88.9 1124.7h.9M99.5 1131.6h.9M84.5 1126.3h.9M101.7 1116.7h.9M96.4 1119.7h.9M100.3 1123.1h.9M97.7 1141h.9M94.6 1126.8h.9M103.6 1124h.9M106.7 1130.1h.9M114.2 1115h.9M101.1 1114.8h.9M84.5 1127.3h.9M97.3 1122.8h.9M91.6 1117.8h.9M103.7 1120.4h.9M97.3 1125.6h.9M105.4 1133.6h.9M97.5 1129.7h.9M101.7 1123.7h.9M105.5 1118.1h.9M92.2 1122.9h.9M80.9 1121.7h.9M90.9 1127h.9M102 1109.1h.9M98.6 1123.4h.9M99.6 1133.8h.9M90.8 1125.6h.9M105.1 1123.8h.9M97.4 1119.6h.9M92.6 1115.7h.9M94.9 1127.6h.9M96.1 1123.9h.9M96.7 1128h.9M101.5 1123.7h.9M106.9 1124.1h.9M84.5 1128h.9M89.9 1131.6h.9M99.4 1130h.9M96.9 1121.9h.9M87.3 1127.6h.9M96.3 1131.8h.9M96.3 1128.4h.9M94.4 1125h.9M91.2 1118.5h.9M96.5 1123.7h.9M106.6 1129.7h.9M101.2 1120.5h.9M100.9 1122.2h.9M97.3 1119.6h.9M93 1126.4h.9M94.7 1126.2h.9M102.6 1124.3h.9M96.9 1121.3h.9M100 1117h.9M104.2 1134.4h.9M98.4 1125.4h.9M98.4 1119.3h.9M87.8 1128.4h.9M97.8 1127.6h.9M96.6 1131.9h.9M103.6 1123.9h.9M92.8 1125.2h.9M100.3 1126.7h.9M91.8 1119.2h.9M98.4 1118.9h.9M105 1129h.9M96.9 1126.5h.9M98.2 1124.3h.9M97.3 1121.3h.9M99.7 1116.9h.9M96.2 1127.1h.9M98 1125h.9M99 1134.7h.9M89.8 1123.5h.9M98.7 1124.5h.9M99.4 1122h.9M90.5 1122.9h.9M111.5 1129.4h.9M96.1 1133.9h.9M102.5 1123.5h.9M96.7 1117h.9M87.8 1131.4h.9M98.6 1127.5h.9M86.5 1126.5h.9M93.2 1117.3h.9M105.9 1131.9h.9M105.8 1112.8h.9M104.9 1128.1h.9M86.6 1126h.9M94.5 1124h.9M109.1 1125.6h.9M96 1118.7h.9M107.7 1118.2h.9M92.9 1126.7h.9M96.8 1132.4h.9M91.5 1133.8h.9M95.5 1126.7h.9M102.4 1115.2h.9M94.6 1133.6h.9M101.7 1120.5h.9M101 1125.1h.9M98.1 1113.5h.9M95.5 1124.9h.9M98.9 1127.5h.9M109.9 1117.1h.9M91.3 1131.6h.9M105.2 1129.3h.9M110.6 1128.5h.9M99.1 1120.9h.9M104.2 1112.6h.9M94.9 1124.3h.9M86.5 1120.3h.9M96 1128.5h.9M92 1114.9h.9M102.9 1128.9h.9M92.3 1127.7h.9M99.2 1114.5h.9M88.4 1130.9h.9M104.7 1125.1h.9M97.2 1128.5h.9M86.4 1130h.9M87.9 1133.1h.9M87.5 1132.7h.9M90.4 1126.1h.9M98.3 1125.1h.9M102.4 1114.6h.9M103.9 1126.5h.9M86.1 1122.3h.9M82.7 1130.6h.9M92.7 1119.9h.9M90.6 1133.7h.9M96.5 1126.3h.9M90.6 1121.7h.9M113.7 1118.8h.9M86 1128.8h.9M100.6 1127.3h.9M108.7 1119.7h.9M94.5 1125.8h.9M91.7 1125.9h.9M103.6 1111.8h.9M85.1 1133.3h.9M88.2 1133.5h.9M87.2 1123.6h.9M100.7 1126.2h.9M104.5 1128.4h.9M98.4 1129.8h.9M113.6 1125.1h.9M97.9 1130.1h.9M96.2 1123h.9M100.3 1136.8h.9M105 1121.9h.9M96 1122.2h.9M98.3 1133.6h.9M106.2 1116.9h.9M107.4 1125.8h.9M101.9 1118.5h.9M92.4 1134.8h.9M93.9 1134.9h.9M95 1123.8h.9M97.3 1129h.9M96.6 1130.2h.9M96.1 1125.6h.9M102.9 1126.1h.9M91.2 1127.8h.9M97.7 1121.5h.9M93 1121.6h.9M95.4 1128.3h.9M97.3 1129h.9M104.3 1127.5h.9M100.7 1127.1h.9M94.6 1131.2h.9M99.2 1122.8h.9M102.8 1133.8h.9M98.7 1120.3h.9M98.2 1130.2h.9M103.9 1121.9h.9M99.8 1123.1h.9M95.8 1139.1h.9M91.5 1132h.9M86.9 1124.1h.9M101.6 1126.4h.9M93 1125.5h.9M100.5 1136h.9M96 1121.9h.9M106.1 1122.5h.9M110.7 1116.8h.9M96.3 1123.1h.9M112.4 1123.5h.9M104.4 1129.7h.9M108.7 1128.4h.9M96.4 1125.9h.9M89.4 1126.4h.9M102.7 1127h.9M105.5 1120h.9M92.4 1138h.9M94.9 1119h.9M100.8 1127.3h.9M99.3 1117.9h.9M89.4 1123.9h.9M91.3 1119.3h.9M101.1 1116.5h.9M110.8 1122.9h.9M97.4 1121.7h.9M101.9 1117.3h.9M96.6 1118.9h.9M98.9 1119.6h.9M94.9 1124.3h.9M98.9 1130.3h.9M94.8 1127.1h.9M98.8 1124.8h.9M104.8 1121.5h.9M101.1 1128.3h.9M100.2 1118.8h.9M95 1128.7h.9M100.1 1117.7h.9M76.3 1129.1h.9M90.9 1132.5h.9M96.3 1126.5h.9M86.5 1129.5h.9M99.5 1118.8h.9M100.5 1126.9h.9M97.6 1138.7h.9M100.1 1127.8h.9M90.2 1132.5h.9M92.4 1127.5h.9M98.6 1132.3h.9M87.4 1128h.9M111.5 1136.9h.9M94.8 1128.5h.9M104.8 1122.8h.9M100.2 1131.9h.9M97.7 1119h.9M91.1 1124.7h.9M94.7 1122.7h.9M95.2 1125.6h.9M103.8 1133.4h.9M104.7 1116.8h.9M100.5 1139.3h.9M99.6 1130.7h.9M104.2 1132.2h.9M104.2 1124.1h.9M94.2 1118.3h.9M93.2 1120.7h.9M97.8 1133.7h.9M97.7 1123.9h.9M100.7 1126.6h.9M94.8 1129h.9M99.9 1133.8h.9M106.1 1129.8h.9M99 1127.3h.9M95.1 1127.8h.9M105.1 1128.5h.9M100.4 1118.3h.9M100.6 1120.4h.9M99.5 1117.2h.9M93.9 1122.2h.9M96.2 1117.5h.9M102.4 1129h.9M98.6 1124h.9M91.7 1139.6h.9M97.6 1124.1h.9M101.3 1126h.9M100.4 1121.8h.9M98.3 1130.2h.9M100 1128.5h.9M86.6 1129.2h.9M90 1131.6h.9M78.4 1130.4h.9M95.8 1123.6h.9M106.1 1115.9h.9M111.3 1124.9h.9M89.3 1124.2h.9M99.9 1118.3h.9M108.4 1126.6h.9M96.3 1125.8h.9M83.1 1124.3h.9M104.5 1115.8h.9M94.7 1123.4h.9M93.3 1120.9h.9M108.6 1119.9h.9M98.4 1117.9h.9M100.7 1116.8h.9M109.9 1124.4h.9M101.2 1133.9h.9M95.3 1134.5h.9M102.3 1120.9h.9M99.6 1127.8h.9M102.5 1122h.9M105 1132.9h.9M94.4 1128.8h.9M99.7 1127.5h.9M100.8 1135.5h.9M99.9 1132h.9M98.4 1116.6h.9M83 1114.4h.9M97.1 1124.9h.9M84.4 1125h.9M114.6 1111.4h.9M103.4 1131.5h.9M110.7 1125.6h.9M105.2 1126.7h.9M89.8 1120h.9M102.5 1120.2h.9M101.7 1116.8h.9M98.6 1120.4h.9M99.4 1121.5h.9M101.2 1116.7h.9M95.5 1134.5h.9M96.3 1118h.9M101.4 1134.1h.9M94.9 1129.3h.9M101.1 1120.8h.9M81.9 1137.3h.9M86.2 1127.5h.9M97 1121.4h.9M118.4 1121.1h.9M104.4 1117.6h.9M108.9 1106.7h.9M96.3 1112.7h.9M99 1134.9h.9M97 1119.8h.9M111.6 1110.1h.9M103.4 1111h.9M92.6 1124.6h.9M87.2 1122.7h.9M108.4 1124.2h.9M86.7 1124.2h.9M95.4 1124.7h.9M108.9 1122.9h.9M91.2 1129.3h.9M90.6 1123.1h.9M97.8 1114h.9M91.4 1113.5h.9M105.8 1104.7h.9M102.7 1127.1h.9M103.2 1115h.9M104.2 1115.7h.9M95.2 1126.4h.9M108.8 1119.9h.9M116 1122.2h.9M99.9 1126.2h.9M93.6 1123.5h.9M92.8 1115.6h.9M114.6 1117.7h.9M99.2 1121.6h.9M95.1 1124.6h.9M84.9 1123h.9M100.6 1124.5h.9M90.8 1135.2h.9M107.7 1116.4h.9M95.1 1131.2h.9M88.2 1129.5h.9M107.6 1115.1h.9M107.7 1129h.9M103.1 1118.2h.9M92.4 1129.4h.9M101 1108.3h.9M106.1 1126.8h.9M99.8 1119h.9M107.6 1117.1h.9M108.2 1114.4h.9M100.5 1125h.9M112 1110.3h.9M100.8 1112.6h.9M99.9 1124.1h.9M106.9 1121.2h.9M100.4 1118h.9M116.9 1119.1h.9M106.7 1128.6h.9M95.9 1118.5h.9M101.9 1125.8h.9M109.4 1121.5h.9M79.7 1120.6h.9M83.2 1121.3h.9M89 1109h.9M109.7 1129.7h.9M104.1 1116.4h.9M95.7 1121.9h.9M88 1135.5h.9M86.7 1145h.9M99.9 1127.2h.9M102.1 1136.4h.9M107.6 1130.4h.9M123.5 1143.6h.9M88.1 1121.5h.9M110.7 1112.9h.9M93 1120.2h.9M100.6 1128.5h.9M98.1 1116.6h.9M85.4 1138.6h.9M114.1 1097.6h.9M100.9 1131.6h.9M112.1 1120.7h.9M99.6 1137h.9M87.8 1136.2h.9M90.6 1129.8h.9M90.8 1131.6h.9M75.2 1134.9h.9M107 1120.2h.9M100.2 1139h.9M101.1 1123.1h.9M104.7 1105.7h.9M103.4 1141h.9M95.9 1116.4h.9M109.1 1118h.9M99.1 1114h.9M87.6 1097.7h.9M93.9 1133.5h.9M88.9 1124.6h.9M109.2 1124.4h.9M94.8 1119.9h.9M110.3 1122.4h.9M112.6 1130.1h.9M106 1125h.9M105.4 1118.3h.9M99.7 1118.1h.9M110.7 1116.5h.9M75 1124.9h.9M93.4 1127.4h.9M105.4 1125.6h.9M109.2 1103.8h.9M79.4 1123h.9M102.2 1138.3h.9M103.8 1120.4h.9M119 1128.5h.9M97.9 1129.2h.9M83.8 1138.6h.9M103.8 1122.2h.9M113.9 1130.4h.9M109.6 1129.7h.9M103.7 1120.1h.9M97.9 1106.4h.9M87.9 1117.9h.9M104.8 1118.9h.9M103.7 1111.4h.9M102.3 1126.7h.9M93.7 1130.1h.9M96.2 1129.2h.9M108.6 1123h.9M94.5 1127.4h.9M113.2 1118.6h.9M102.7 1122.9h.9M93.2 1116.5h.9M107.5 1117.9h.9M99.5 1122.6h.9M123.3 1117.5h.9M111.4 1112.2h.9M89.5 1120.3h.9M104.1 1137.6h.9M84.5 1138.6h.9M111.6 1126.1h.9M110.3 1131.6h.9M100.4 1119.6h.9M90.9 1137.6h.9M114.9 1115.9h.9M106.8 1108.3h.9M96.7 1126.8h.9M94.9 1127.6h.9M97.4 1129.2h.9M106 1116.7h.9M101.8 1119.1h.9M94.2 1115.6h.9M100.5 1129.8h.9M79 1116.3h.9M93.9 1126.1h.9M81.5 1128.5h.9M106.7 1114.2h.9M99.8 1124.8h.9M97.7 1120.3h.9M88.2 1112.9h.9M81.8 1113.8h.9M87.9 1121.7h.9M92.9 1123.3h.9M93.5 1122.7h.9M107.1 1118.3h.9M108.1 1119.4h.9M87.9 1125.3h.9M85.1 1117.8h.9M106.3 1114.4h.9M76 1130.2h.9M103.2 1136h.9M110.1 1125.5h.9M96.9 1116.3h.9M94.5 1124.4h.9M110.4 1128.2h.9M94.5 1127.6h.9M95.8 1134.7h.9M102.5 1123.5h.9M99.4 1125.6h.9M107.3 1124.4h.9M108 1112.7h.9M109.3 1110.9h.9M75.8 1133.6h.9M107 1128.8h.9M106 1122.3h.9M102.4 1109.9h.9M100.7 1132h.9M98.7 1128.2h.9M106.8 1127.6h.9M93.5 1129.4h.9M84.4 1132.4h.9M98.4 1105.6h.9M107.1 1121.3h.9M81.4 1117h.9M108.8 1115.8h.9M98.6 1140.3h.9M104 1122.5h.9M89.1 1132.4h.9M97.5 1119.4h.9M93.9 1129h.9M89.5 1116.9h.9M101.5 1119.6h.9M106.3 1121.6h.9M89.5 1126.5h.9M108.9 1107.2h.9M82 1111.3h.9M82.1 1127.3h.9M93.1 1118.9h.9M114.5 1108.8h.9M96.6 1128.9h.9M79.4 1117.8h.9M95.8 1131.9h.9M96.7 1111.5h.9M114.2 1137h.9M108.4 1129.2h.9M111.6 1121.5h.9M114.8 1106.2h.9M101.2 1123.3h.9M104.2 1121.6h.9M97.4 1118.4h.9M101 1116.9h.9M115.3 1123.6h.9M103.7 1121.7h.9M98.1 1141.3h.9M113 1126.2h.9M113.8 1114.3h.9M104.4 1125.9h.9M118.3 1113.7h.9M104.8 1108.7h.9M88.4 1134.5h.9M92.4 1119.7h.9M94.9 1138.7h.9M99.1 1132.8h.9M82.1 1111h.9M102 1122.7h.9M101.4 1112.3h.9M87.9 1145.1h.9M106.5 1118h.9M99.7 1125.8h.9M111.3 1121.9h.9M93.1 1117.8h.9M79.1 1136.3h.9M103.8 1132.6h.9M100.7 1116.8h.9M105.7 1124.9h.9M98.1 1121.8h.9M98.7 1144.2h.9M99 1141.8h.9M92 1127.4h.9M89.2 1127.2h.9M102.1 1126.4h.9M102.8 1120.3h.9M106.8 1117.8h.9M101 1117h.9M105.4 1135.6h.9M114.4 1135.3h.9M101.9 1126.8h.9M84 1117.3h.9M102.7 1108.5h.9M101.4 1126.8h.9M95.3 1116.7h.9M109 1112.4h.9M105.3 1120.7h.9M104.4 1116.2h.9M123.2 1120.7h.9M105.5 1107.3h.9M108.5 1118.9h.9M96.4 1114h.9M82 1134.8h.9M89 1124.5h.9M125.9 1117.9h.9M95.4 1118.7h.9M96.6 1127.1h.9M102.8 1116.1h.9M111.1 1117.8h.9M101.9 1118.3h.9M107.3 1123.5h.9M98.9 1113.4h.9M95.5 1123.4h.9M97.5 1130.9h.9M75.7 1130.1h.9M102.1 1128.4h.9M102.8 1129.4h.9M103.3 1123.2h.9M100.4 1103.6h.9M93.7 1142.3h.9M83.5 1121h.9M106 1119.5h.9M86.1 1135h.9M107.8 1133.8h.9M99.9 1123.8h.9M100.4 1114.7h.9M93.9 1132.6h.9M111.2 1131.8h.9M84.1 1123.3h.9M109 1123.7h.9M98.9 1123.6h.9M95.9 1127.2h.9M99.6 1121h.9M112.3 1119.5h.9M91.6 1133.6h.9M107 1141.7h.9M79.9 1117.6h.9M114.6 1130.3h.9M106.1 1120.9h.9M86.5 1121.7h.9M90.7 1115.1h.9M94.1 1139.6h.9M92.5 1112.2h.9M116 1131.5h.9M88.1 1117.3h.9M100.7 1126.8h.9M79.7 1126.3h.9M109.1 1105.2h.9M85.4 1126h.9M107.9 1136.9h.9M96.3 1127.2h.9M110 1120.3h.9M100.7 1132h.9M100 1134.6h.9M82.9 1124.9h.9M112.1 1120.8h.9M83.1 1134h.9M112 1113.1h.9M102.5 1102.1h.9M120.3 1120.9h.9M93.8 1134.4h.9M90.5 1124.3h.9M115.8 1148.3h.9M104.9 1109.3h.9M88.8 1127.6h.9M112.1 1119.1h.9M85.9 1124.4h.9M106.1 1119.6h.9M106.3 1133.9h.9M97.4 1115.1h.9M91 1109.7h.9M103.7 1115.4h.9M79.6 1126.1h.9M107.2 1114.2h.9M91.6 1121.3h.9M97.4 1123.9h.9M101.6 1143.6h.9M105.9 1119.8h.9M112 1135.9h.9M95.7 1124.3h.9M88.6 1124h.9M108.6 1099h.9M98.2 1125.4h.9M106.9 1123.4h.9M107.5 1142.9h.9M102.5 1104.6h.9M109.6 1110.3h.9M108.1 1114.2h.9M114.2 1112h.9M115.4 1112.7h.9M76.8 1127.8h.9M93.5 1125h.9M84.6 1121.8h.9M102 1111.6h.9M103.7 1122.3h.9M93.8 1136.9h.9M112.4 1108.7h.9M94.2 1108.3h.9M113.1 1109.6h.9M94.4 1125.4h.9M107.9 1117h.9M117 1123.7h.9M92.8 1116.5h.9M102.3 1118.2h.9M97.5 1117.5h.9M103.6 1136h.9M104.7 1122.5h.9M81.1 1130.3h.9M103.5 1112.4h.9M104.8 1127.7h.9M83.2 1119.2h.9M111.4 1126.3h.9M86.1 1140h.9M92.1 1132.6h.9M111.9 1117h.9M105.4 1119.6h.9M97.4 1131.5h.9M112.7 1113.1h.9M101.3 1130.9h.9M92.7 1113.1h.9M106 1131.4h.9M106.1 1117.9h.9M110.1 1128.1h.9M93 1130h.9M94.3 1120.9h.9M105.3 1118.3h.9M108.3 1111.8h.9M106.1 1126.6h.9M102.9 1107.6h.9M102.6 1107.6h.9M94.7 1134.3h.9M100 1126h.9M116.3 1104h.9M100.4 1127.8h.9M102.1 1109.1h.9M88.7 1129.7h.9M123.4 1096.4h.9M96.4 1131.3h.9M106.6 1118.2h.9M106.3 1121.2h.9M77.6 1115.8h.9M94.2 1115.2h.9M104.7 1105.5h.9M92.5 1122.2h.9M109.1 1116.8h.9M90.6 1111.6h.9M109.7 1111.7h.9M120.9 1108.7h.9M92 1130.4h.9M102.9 1119.1h.9M94.7 1127.1h.9M96.5 1135.8h.9M93.9 1110.4h.9M107 1129h.9M98.8 1109.9h.9M104 1119.4h.9M76.6 1128.4h.9M96.6 1126.5h.9M79.5 1131.8h.9M108 1129h.9M101.6 1106.5h.9M107 1127.7h.9M97.4 1128.5h.9M108.5 1128.6h.9M105.3 1113.9h.9M111 1129.2h.9M96.1 1127.1h.9M99.6 1129h.9M112.5 1116.3h.9M102.7 1126.9h.9M107.5 1131.2h.9M99.6 1120.4h.9M98.1 1105.9h.9M105.8 1120.3h.9M100.2 1128.9h.9M94.1 1119.3h.9M95.6 1120.8h.9M95.2 1110.6h.9M107.3 1122.3h.9M82.7 1122.3h.9M118 1120.3h.9M94.5 1135.4h.9M108.6 1135.1h.9M94.9 1136.9h.9M99.8 1133h.9M99.6 1123.4h.9M113 1133.5h.9M94.2 1107.2h.9M103 1109.7h.9M104.2 1136.4h.9M111.8 1108.8h.9M80.7 1123h.9M99.5 1116.3h.9M106.2 1126.5h.9M100.2 1132.3h.9M102.4 1127.4h.9M90.1 1123.6h.9M102.7 1118.8h.9M98.7 1128.9h.9M105.7 1116.4h.9M105.7 1124.5h.9M98.5 1111.2h.9M105.7 1129.9h.9M92.7 1128.1h.9M106.4 1118.4h.9M105.5 1114.3h.9M87.8 1108.4h.9M95.4 1137.4h.9M91.9 1122.1h.9M109.8 1116.7h.9M84.7 1130.8h.9M107.1 1127h.9M96.3 1123.2h.9M114.6 1131.6h.9M89.5 1135.1h.9M102.7 1117.2h.9M88.5 1124.2h.9M115.3 1137.5h.9M112.2 1107.3h.9M96.1 1120.3h.9M113.1 1104.6h.9M101.4 1123.4h.9M106.5 1117.9h.9M126.6 1119h.9M105.6 1110.3h.9M99.2 1109.8h.9M85.8 1147.1h.9M81.9 1107.9h.9M103.7 1120.3h.9M86 1113.9h.9M93.4 1131.5h.9M101.3 1114.1h.9M89.8 1134.7h.9M87.7 1125.3h.9M107.5 1120.5h.9M113.7 1103h.9M92.9 1126.1h.9M102 1123.4h.9M105.8 1120.8h.9M98.2 1133.2h.9M95.9 1133.4h.9M114.8 1139.4h.9M84.7 1119h.9M94.7 1129.5h.9M117.1 1112.3h.9M84.6 1136.7h.9M123.7 1122h.9M121.5 1129.2h.9M100.9 1136.7h.9M107 1109.8h.9M98.4 1115.2h.9M87.4 1120.4h.9M94.6 1125.1h.9M87.1 1115.6h.9M113.6 1112.6h.9M82.3 1117.5h.9M86.8 1127.2h.9M96 1124.3h.9M98.5 1134.4h.9M119.6 1110.5h.9M93.8 1123h.9M95.5 1130.8h.9M89.1 1120.9h.9M123.6 1096.4h.9M115.8 1110h.9M121.1 1107h.9M110.5 1107.5h.9M114.3 1106.8h.9M111.9 1111h.9M109.9 1113h.9M113.1 1104.6h.9M118.4 1098.6h.9M101.2 1116.5h.9M116 1109h.9M125.9 1103h.9M111.5 1109.2h.9M129.1 1105.5h.9M118.9 1099.5h.9M104.8 1114.2h.9M109.8 1112.5h.9M127.6 1099.2h.9M126 1101.1h.9M117.5 1102.9h.9M114.6 1104.9h.9M91.1 1119.9h.9M116.3 1110.7h.9M98.3 1118h.9M113.8 1109.4h.9M116.9 1111.4h.9M114.2 1109.3h.9M116.6 1100.6h.9M115.8 1106.8h.9M105.1 1117.3h.9M115.2 1116.1h.9M124.5 1102.7h.9M131.8 1091.8h.9M113.1 1125.1h.9M121.8 1107.9h.9M126.3 1101.5h.9M118 1101.9h.9M111.1 1105.5h.9M126.2 1099.2h.9M132.3 1095.9h.9M116.1 1105h.9M109.3 1115h.9M102.9 1117.1h.9M118.6 1098.1h.9M131.5 1103.4h.9M109.6 1104.2h.9M118.5 1110.6h.9M112.6 1107.8h.9M129.1 1087.1h.9M105.4 1111.5h.9M125.1 1105.9h.9M107 1107.6h.9M121 1101.1h.9M123.4 1108h.9M124.3 1096.1h.9M115.7 1110.7h.9M106.4 1108.1h.9M111 1111h.9M106.5 1113.6h.9M124.1 1100.9h.9M113.8 1105.7h.9M103.7 1122.9h.9M114.2 1101.1h.9M114.3 1114.7h.9M100.1 1119.5h.9M110.8 1107.6h.9M116 1109.8h.9M111.2 1114.3h.9M110.4 1111.9h.9M104 1115.1h.9M108.9 1122h.9M132.6 1095.4h.9M101.3 1114.4h.9M124.7 1109.5h.9M121.5 1107.2h.9M115.7 1108.2h.9M94.8 1119.3h.9M127.3 1103.4h.9M107.9 1111.9h.9M133.8 1092.3h.9M110.6 1110h.9M102.3 1112h.9M130.6 1106h.9M113 1111.8h.9M119.8 1109.2h.9M122.4 1099.9h.9M110.3 1118.6h.9M97.3 1108.7h.9M114.2 1106.6h.9M118.2 1093.2h.9M114.8 1109.8h.9M113.7 1112.6h.9M129 1099.8h.9M121.7 1096.7h.9M115.5 1107.8h.9M133.8 1092.7h.9M112.3 1111.8h.9M120.8 1109.3h.9M106.5 1112.2h.9M122.8 1106h.9M126.9 1102.4h.9M116.4 1111.3h.9M101.4 1115.5h.9M116.7 1103.8h.9M113.4 1107.7h.9M116.7 1102.1h.9M103.1 1114.2h.9M116.6 1103.3h.9M110 1113.9h.9M122 1100.3h.9M118 1109.3h.9M112.8 1107.9h.9M121 1112.1h.9M121.7 1103.4h.9M129.8 1096.7h.9M111.3 1105.7h.9M119.6 1108.9h.9M111.9 1116.3h.9M115.5 1106.9h.9M105.2 1119.6h.9M117.1 1114.8h.9M127.1 1095.3h.9M117.8 1110.1h.9M112.1 1109.9h.9M111.6 1110.8h.9M105.5 1111h.9M121.5 1103.1h.9M111.9 1110.9h.9M110.9 1115.3h.9M129.9 1094.5h.9M124.2 1099.7h.9M122.9 1112.2h.9M110.3 1113.1h.9M129 1100.5h.9M133.7 1095.7h.9M113.1 1104.9h.9M119.4 1105.5h.9M121 1104.7h.9M125.3 1093.4h.9M125.6 1109.6h.9M117.8 1104h.9M112.2 1107.8h.9M111.7 1112.3h.9M120.7 1107.3h.9M119.7 1108.5h.9M113.7 1110.2h.9M110.7 1118.9h.9M116 1110.6h.9M111.9 1111.4h.9M118.6 1108.6h.9M124.2 1099.8h.9M123 1101.4h.9M129.1 1099.7h.9M98.5 1118.7h.9M126.7 1096.3h.9M105.1 1116.8h.9M119.2 1104.8h.9M114.7 1108.2h.9M119.5 1101.9h.9M110.7 1119h.9M120.8 1103.2h.9M101.9 1122.5h.9M127.4 1101.5h.9M104.1 1112.7h.9M135.5 1093.2h.9M111.6 1113.1h.9M116.4 1112.4h.9M110 1105.3h.9M117.1 1101.3h.9M116 1112.3h.9M110.6 1107.5h.9M107.6 1109.6h.9M115.8 1110.9h.9M124.4 1100.3h.9M113.1 1115h.9M111.8 1101.6h.9M113.1 1114.2h.9M114.5 1112.9h.9M117.4 1104.7h.9M116.4 1104.7h.9M107.3 1119.2h.9M116.6 1102.2h.9M119.7 1115.4h.9M119.2 1109h.9M132.7 1088.8h.9M115.7 1107.9h.9M101.3 1120.6h.9M128.3 1102.7h.9M106 1113.2h.9M110.1 1114h.9M109.6 1112.1h.9M120 1103.2h.9M99.6 1118.6h.9M111.1 1114.5h.9M107.2 1114.6h.9M121.6 1105.6h.9M118 1108.4h.9M114.3 1109.6h.9M118.2 1114h.9M108.8 1118.3h.9M105.9 1118.7h.9M120.2 1100h.9M112.6 1116.2h.9M115.2 1109.7h.9M109.8 1113.6h.9M101.6 1115.7h.9M102.4 1117.1h.9M121.9 1110.8h.9M133.9 1097.3h.9M114.2 1109.5h.9M129 1098.9h.9M112.2 1108.9h.9M115.6 1111.3h.9M118.2 1104h.9M104.5 1114.1h.9M117.4 1113.2h.9M110.7 1111.6h.9M121.2 1108.3h.9M94.9 1120.8h.9M123.3 1100.7h.9M124.6 1104.1h.9M117.8 1107.3h.9M118.1 1107.1h.9M113.4 1110.3h.9M108.3 1105.1h.9M118.3 1108.4h.9M103.4 1118.2h.9M103.9 1109.9h.9M112.2 1114.3h.9M136.2 1096.6h.9M115.6 1116.7h.9M132.2 1095.3h.9M110.6 1115.6h.9M81.7 1126.7h.9M118.7 1116.7h.9M115.6 1108h.9M132.1 1097.1h.9M107.4 1114.3h.9M116.8 1103.2h.9M104.1 1110.3h.9M119.3 1107.6h.9M116.8 1100.9h.9M108.5 1117h.9M122 1100.3h.9M120.5 1106.7h.9M107.6 1114h.9M122.9 1100.2h.9M107.5 1111.7h.9M121.6 1106.3h.9M112.9 1114.2h.9M111.1 1117.5h.9M123 1096.3h.9M130.7 1094.9h.9M124 1101.5h.9M124.3 1107.8h.9M112.2 1110.4h.9M130.6 1088.3h.9M116 1105.9h.9M115 1098.6h.9M112.6 1116.2h.9M172.4 1085.4h.9M173.7 1090.5h.9M164.7 1088.4h.9M169.7 1103.2h.9M170.4 1075.1h.9M172.1 1086.1h.9M176.1 1077.4h.9M168.2 1096h.9M175.2 1095.5h.9M170.5 1099.1h.9M176.5 1066.9h.9M171.3 1083.4h.9M172.7 1085.9h.9M174.7 1095.8h.9M165.9 1078.5h.9M173.1 1099.3h.9M172.5 1099.3h.9M174.1 1092.8h.9M176.8 1060.5h.9M171.8 1075.3h.9M169.8 1103.3h.9M168.5 1089.2h.9M174.4 1076.7h.9M175.3 1074.1h.9M169.4 1086.6h.9M168.4 1093.6h.9M172.7 1069.3h.9M171.3 1088.2h.9M170.8 1101.5h.9M173.6 1104h.9M169.7 1085.5h.9M173 1074.5h.9M171.1 1095.4h.9M174.9 1076.2h.9M166.2 1104.6h.9M172.5 1097.3h.9M173.1 1067.8h.9M167.1 1087.5h.9M175.8 1085.3h.9M172.1 1066.9h.9M167.4 1108.9h.9M170.4 1088.9h.9M172.9 1087h.9M171 1096h.9M176 1088.2h.9M174.4 1082.5h.9M168.6 1096.2h.9M172.2 1083.6h.9M164.9 1102.9h.9M170.2 1077.2h.9M172.7 1081.4h.9M170.8 1109h.9M173.1 1091h.9M169.8 1084.8h.9M169.2 1109.5h.9M171.3 1090.1h.9M174.5 1074.6h.9M173.9 1083.5h.9M170.6 1094.5h.9M174.2 1096.6h.9M170.2 1075h.9M172.1 1090.5h.9M171.6 1081.7h.9M170.7 1089.7h.9M179.9 1084.9h.9M170.4 1095.7h.9M175.9 1086.2h.9M170.2 1102.2h.9M170.6 1084.3h.9M174.2 1099h.9M170.1 1075.5h.9M172.5 1072.4h.9M171.1 1094.5h.9M169.3 1079.5h.9M176.7 1086.9h.9M171.7 1080.8h.9M171.7 1105.8h.9M168.8 1093.4h.9M171.1 1096.9h.9M173 1078.3h.9M175.3 1088.3h.9M171.4 1083.6h.9M169.7 1089.5h.9M173.6 1097.9h.9M171.3 1089.9h.9M169.1 1081h.9M169.3 1113.8h.9M170.8 1103.8h.9M175.7 1080.9h.9M174.8 1082.1h.9M173.5 1095.8h.9M175.7 1090.4h.9M168.6 1095.5h.9M173.5 1089.2h.9M172.4 1078.8h.9M170.1 1085.7h.9M172.4 1086.7h.9M168 1090.5h.9M171.2 1087.4h.9M171.1 1060.8h.9M173.2 1084.1h.9M170.7 1108.9h.9M167.1 1084.7h.9M170.1 1113.2h.9M171 1088.5h.9M175.7 1075.1h.9M175.1 1084.9h.9M169 1098.3h.9M171 1092.7h.9M168.9 1101.9h.9M175.1 1094h.9M173.3 1102h.9M176.7 1088.1h.9M172.9 1074.1h.9M173 1103.4h.9M171 1103.9h.9M173.9 1092.9h.9M172.7 1072.6h.9M170.1 1090.4h.9M174.7 1104.1h.9M169.2 1086.8h.9M174.1 1086.2h.9M179.9 1079h.9M167.7 1102.2h.9M169.9 1105.2h.9M173.9 1084.7h.9M165.6 1104h.9M172.9 1093.7h.9M165.6 1118.6h.9M167 1091.9h.9M174.1 1071.6h.9M170.3 1080.5h.9M172.7 1105.6h.9M174.8 1083.3h.9M176.5 1067.9h.9M167.4 1110.1h.9M170.3 1084.5h.9M173.8 1077.5h.9M165.3 1101.3h.9M174.8 1075.4h.9M172.3 1104.9h.9M172.2 1121.8h.9M171.1 1094.6h.9M169.4 1086.5h.9M175.9 1082.5h.9M169.5 1082.4h.9M170 1123.6h.9M171.1 1094.3h.9M165.7 1094.9h.9M172 1087.4h.9M173.8 1079.2h.9M172.5 1099.7h.9M173.8 1086.7h.9M166.6 1096.2h.9M174 1082.2h.9M170.6 1085.9h.9M171 1085.3h.9M176.4 1071.8h.9M168.5 1088.7h.9M173.9 1102.3h.9M174.3 1078.1h.9M167.4 1086.9h.9M170.9 1081.1h.9M167.4 1108.5h.9M169.9 1092.4h.9M175.6 1063.9h.9M173.8 1098.1h.9M174.1 1110.6h.9M169.6 1105.8h.9M171.7 1112h.9M158.3 1088.4h.9M159.8 1094.4h.9M148.7 1104.2h.9M146.8 1094.2h.9M154.2 1071h.9M170 1105.9h.9M169.5 1098.7h.9M148.1 1069.8h.9M141.8 1064.3h.9M168.5 1076.1h.9M155.7 1109.5h.9M140.2 1096.2h.9M157.2 1053.2h.9M152 1084.4h.9M137.6 1091.6h.9M141 1078.4h.9M135.2 1095.9h.9M163.8 1057.2h.9M152 1087.1h.9M159.7 1086.6h.9M152.8 1091.7h.9M149.6 1076.8h.9M150.7 1097.2h.9M147.4 1068.7h.9M130.2 1091.3h.9M147.8 1078.3h.9M149 1091.1h.9M142.1 1109.2h.9M148.7 1074.7h.9M146.5 1074.1h.9M150.4 1084.9h.9M148.4 1068.3h.9M161.2 1077.6h.9M165.4 1098.9h.9M163.2 1075.7h.9M148.3 1093.1h.9M136.4 1092.4h.9M153.1 1043.3h.9M143.9 1059.1h.9M140.9 1086.4h.9M152.8 1099.1h.9M153.8 1084.6h.9M148.9 1083h.9M172.4 1070.8h.9M151.6 1085.8h.9M147 1081h.9M157.2 1099.4h.9M158.5 1105.1h.9M145.5 1089.3h.9M158.3 1051.2h.9M141.5 1085.4h.9M134.4 1097.4h.9M143.7 1082.1h.9M161.2 1107.6h.9M141 1073.6h.9M127.8 1062.1h.9M139.7 1099.2h.9M156.8 1076.3h.9M157.9 1070.9h.9M152.6 1081.4h.9M118.1 1136.4h.9M91 1110.8h.9M107 1126.1h.9M89.2 1120.4h.9M107.1 1136.3h.9M149.9 1084.8h.9M165.4 1131.4h.9M152 1110.9h.9M95.5 1083.2h.9M118.6 1103.1h.9M158.5 1080.2h.9M147.1 1107.5h.9M95 1146.7h.9M95.5 1094.5h.9M154.6 1098.6h.9M85.3 1115.2h.9M89.9 1131.3h.9M161.7 1134.7h.9M150.8 1105.9h.9M161.3 1087.4h.9" stroke="#ff0a0a" stroke-width="0.9" fill="none" stroke-opacity="0.85"/>
<line x1="130.3" y1="984.5" x2="130.3" y2="1155.1" stroke="#555" stroke-width="1"/>
<line x1="73.9" y1="1098" x2="220.6" y2="1098" stroke="#555" stroke-width="1"/>
<rect x="73.9" y="984.5" width="146.7" height="170.6" fill="none" stroke="#333" stroke-width="0.9"/>
<path d="M69.4 1003.3H73.9M69.4 1045.3H73.9M69.4 1087.9H73.9M69.4 1130.5H73.9M71.5 990.7H73.9M71.5 1032.7H73.9M71.5 1025.3H73.9M71.5 1020H73.9M71.5 1015.9H73.9M71.5 1012.6H73.9M71.5 1009.8H73.9M71.5 1007.4H73.9M71.5 1005.2H73.9M71.5 1074.7H73.9M71.5 1067.3H73.9M71.5 1062H73.9M71.5 1057.9H73.9M71.5 1054.6H73.9M71.5 1051.8H73.9M71.5 1049.4H73.9M71.5 1047.2H73.9M71.5 1116.7H73.9M71.5 1109.3H73.9M71.5 1104H73.9M71.5 1099.9H73.9M71.5 1096.6H73.9M71.5 1093.8H73.9M71.5 1091.4H73.9M71.5 1089.2H73.9M71.5 1151.3H73.9M71.5 1146H73.9M71.5 1141.9H73.9M71.5 1138.6H73.9M71.5 1135.8H73.9M71.5 1133.4H73.9M71.5 1131.2H73.9M94.7 1155.1V1159.6M131 1155.1V1159.6M167.9 1155.1V1159.6M204.2 1155.1V1159.6M75.7 1155.1V1157.5M80.3 1155.1V1157.5M83.8 1155.1V1157.5M86.6 1155.1V1157.5M89.1 1155.1V1157.5M91.2 1155.1V1157.5M93 1155.1V1157.5M105.6 1155.1V1157.5M112 1155.1V1157.5M116.6 1155.1V1157.5M120.1 1155.1V1157.5M122.9 1155.1V1157.5M125.4 1155.1V1157.5M127.5 1155.1V1157.5M129.3 1155.1V1157.5M141.9 1155.1V1157.5M148.3 1155.1V1157.5M152.9 1155.1V1157.5M156.4 1155.1V1157.5M159.2 1155.1V1157.5M161.7 1155.1V1157.5M163.8 1155.1V1157.5M165.6 1155.1V1157.5M178.2 1155.1V1157.5M184.6 1155.1V1157.5M189.2 1155.1V1157.5M192.7 1155.1V1157.5M195.5 1155.1V1157.5M198 1155.1V1157.5M200.1 1155.1V1157.5M201.9 1155.1V1157.5M214.5 1155.1V1157.5" stroke="#222" stroke-width="0.7" fill="none"/>
<text x="47.3" y="1016.6" font-size="12.6" textLength="12.4" lengthAdjust="spacingAndGlyphs">10</text>
<text x="60.1" y="1009.2" font-size="6.8">5</text>
<text x="47.3" y="1058.6" font-size="12.6" textLength="12.4" lengthAdjust="spacingAndGlyphs">10</text>
<text x="60.1" y="1051.2" font-size="6.8">4</text>
<text x="47.3" y="1101.2" font-size="12.6" textLength="12.4" lengthAdjust="spacingAndGlyphs">10</text>
<text x="60.1" y="1093.8" font-size="6.8">3</text>
<text x="47.3" y="1143.8" font-size="12.6" textLength="12.4" lengthAdjust="spacingAndGlyphs">10</text>
<text x="60.1" y="1136.4" font-size="6.8">2</text>
<text x="80.1" y="1179.9" font-size="12.6" textLength="12.4" lengthAdjust="spacingAndGlyphs">10</text>
<text x="92.9" y="1172.5" font-size="6.8">2</text>
<text x="116.4" y="1179.9" font-size="12.6" textLength="12.4" lengthAdjust="spacingAndGlyphs">10</text>
<text x="129.2" y="1172.5" font-size="6.8">3</text>
<text x="153.3" y="1179.9" font-size="12.6" textLength="12.4" lengthAdjust="spacingAndGlyphs">10</text>
<text x="166.1" y="1172.5" font-size="6.8">4</text>
<text x="189.6" y="1179.9" font-size="12.6" textLength="12.4" lengthAdjust="spacingAndGlyphs">10</text>
<text x="202.4" y="1172.5" font-size="6.8">5</text>
<text x="214.9" y="1008.4" font-size="17" text-anchor="end" textLength="33.6" lengthAdjust="spacingAndGlyphs">6.4%</text>
<text x="213.2" y="1148.1" font-size="17" text-anchor="end" textLength="33.6" lengthAdjust="spacingAndGlyphs">3.2%</text>
<text x="106.4" y="1084.9" font-size="6.3" text-anchor="middle" textLength="17.4" lengthAdjust="spacingAndGlyphs" font-weight="normal" fill="#222">Q1-2</text>
<text x="152.8" y="1084.9" font-size="6.3" text-anchor="middle" textLength="17.4" lengthAdjust="spacingAndGlyphs" font-weight="normal" fill="#222">Q2-2</text>
<text x="106.4" y="1116.1" font-size="6.3" text-anchor="middle" textLength="17.4" lengthAdjust="spacingAndGlyphs" font-weight="normal" fill="#222">Q3-2</text>
<text x="152.8" y="1116.1" font-size="6.3" text-anchor="middle" textLength="17.4" lengthAdjust="spacingAndGlyphs" font-weight="normal" fill="#222">Q4-2</text>
</g>
<text x="345.1" y="979.2" font-size="16.4" text-anchor="middle" textLength="102.4" lengthAdjust="spacingAndGlyphs">Si-LINC00152</text>
<g>
<rect x="271.1" y="984.5" width="147.7" height="170.6" fill="#fff"/>
<path d="M296.7 1127.5h.9M295.8 1117.9h.9M291.4 1133.9h.9M300.6 1124.9h.9M296.3 1134.7h.9M283.7 1127.6h.9M292.3 1130.1h.9M300.7 1126.7h.9M295.9 1121h.9M287 1127.2h.9M297.3 1119.1h.9M292.3 1120.4h.9M296 1119.7h.9M294.1 1117.2h.9M289.1 1131.8h.9M296.7 1122.5h.9M288.6 1121.4h.9M304.8 1119.5h.9M300.1 1123.4h.9M294.2 1122.2h.9M290.7 1132.3h.9M294.5 1122.6h.9M296 1124.3h.9M291.9 1138.8h.9M307.9 1114.5h.9M297.3 1123h.9M306.4 1120.3h.9M284.5 1121.1h.9M304.4 1116.9h.9M287.6 1132.2h.9M294.2 1134.2h.9M296.6 1118.9h.9M296.1 1126.3h.9M278.6 1129.8h.9M286.4 1125.2h.9M297.3 1115.4h.9M309.2 1119.7h.9M295.7 1110.7h.9M294.4 1128.1h.9M300.4 1122.8h.9M287.9 1129.1h.9M297.5 1121.4h.9M282.8 1121.6h.9M291 1116.2h.9M294.1 1125.1h.9M301.1 1124.2h.9M293.1 1125.8h.9M300.4 1115.8h.9M295.5 1129.1h.9M305.6 1133.3h.9M298.8 1119.6h.9M280.4 1124.8h.9M294 1122h.9M299.2 1133h.9M287.7 1122.4h.9M294.7 1121.1h.9M284.8 1127.7h.9M297.6 1120.9h.9M299.7 1126h.9M295.6 1120.9h.9M308 1110.5h.9M297.4 1123.9h.9M295.3 1124.1h.9M294.7 1136.5h.9M299.6 1129.5h.9M292.7 1136.3h.9M303.2 1120.7h.9M291.5 1128.3h.9M297 1126.3h.9M307.8 1118.3h.9M298.6 1112.6h.9M297.7 1126.4h.9M304.3 1121.2h.9M298.3 1132.8h.9M302.5 1127.4h.9M293.7 1121.7h.9M289.7 1128.9h.9M295 1117.4h.9M303.7 1127.5h.9M292.1 1124.4h.9M284.5 1120.9h.9M286.2 1114.9h.9M281.1 1135.5h.9M292.2 1129.2h.9M285.6 1122.8h.9M313.4 1129.8h.9M289.7 1123h.9M288.5 1137h.9M298.8 1118h.9M294.2 1126h.9M293.8 1121.2h.9M300.9 1134.3h.9M298.5 1128.6h.9M293 1126.8h.9M301.9 1123.3h.9M298.6 1123.5h.9M292 1126.8h.9M290.5 1117.9h.9M289.7 1129.4h.9M299.9 1130.4h.9M297.9 1118.5h.9M296 1115.7h.9M295.5 1115.3h.9M291.7 1119.7h.9M307.4 1124.4h.9M294.5 1127.1h.9M291.8 1117.3h.9M295.9 1132.5h.9M294.5 1122.2h.9M294.7 1128.2h.9M307.2 1116.3h.9M295.1 1117.6h.9M284.1 1130.1h.9M291 1123.6h.9M286.1 1129.8h.9M300.6 1121.8h.9M300.9 1114h.9M292.9 1127.9h.9M297.7 1120.1h.9M294.6 1127.4h.9M299.5 1127.5h.9M307.2 1121.4h.9M294.7 1130h.9M290.8 1136.7h.9M298.7 1120.5h.9M296.6 1119.4h.9M296.7 1116.9h.9M303.9 1126.3h.9M288.2 1121.8h.9M283.5 1133.5h.9M305 1128.3h.9M290.1 1121.1h.9M290.3 1135.3h.9M284.8 1122.7h.9M303.9 1124.5h.9M296 1123.8h.9M293.1 1115.6h.9M300.2 1121.4h.9M294 1134.1h.9M287 1126.7h.9M286.3 1120.6h.9M289.8 1132.4h.9M295.1 1130h.9M286.3 1121.3h.9M295.3 1124.7h.9M288.5 1119h.9M290.8 1117.1h.9M300.7 1125.8h.9M305.7 1123.7h.9M308.6 1127.4h.9M297.3 1127.7h.9M295.7 1122.6h.9M294.1 1131.4h.9M299.3 1116.7h.9M303.8 1117.4h.9M291.2 1126.7h.9M298.7 1119.6h.9M292.2 1124.4h.9M291.7 1120.5h.9M298.2 1128.4h.9M295.7 1133h.9M303.3 1127.3h.9M289.5 1138.4h.9M292.6 1131.4h.9M296 1128.9h.9M284.9 1120.8h.9M297.6 1124.1h.9M281.5 1121.5h.9M297.7 1129.7h.9M285.9 1129.8h.9M293.6 1124.2h.9M297.1 1120.7h.9M307.6 1114.2h.9M301.6 1120.5h.9M304.6 1117.8h.9M296.1 1125.8h.9M305.6 1111.3h.9M292.2 1122.8h.9M296.7 1132.6h.9M281.7 1118.1h.9M295.1 1121.3h.9M298.6 1114.6h.9M291.5 1128.1h.9M294.1 1129.1h.9M290.8 1123.7h.9M290.9 1121.6h.9M290.3 1124.7h.9M288.1 1133h.9M302 1116.1h.9M281.2 1128.8h.9M291.3 1132.5h.9M294.5 1117.8h.9M298.3 1114.5h.9M295.1 1128.5h.9M296 1131.7h.9M296.9 1127.9h.9M298.6 1136.9h.9M298.1 1116.4h.9M290.2 1122.7h.9M289.3 1129.3h.9M286.3 1114.1h.9M294.2 1121.5h.9M307.7 1130.9h.9M308.2 1125.8h.9M289.7 1120.2h.9M290.4 1139.8h.9M289.3 1136.2h.9M309.3 1119.2h.9M290.9 1122.8h.9M299.5 1126.6h.9M310.7 1125.8h.9M290.6 1127h.9M291.7 1120.9h.9M292.3 1128.9h.9M288.7 1129.8h.9M296.5 1114.3h.9M298.5 1114.1h.9M280.2 1124.9h.9M303 1125.1h.9M290.5 1119h.9M295.4 1122.5h.9M296.7 1125h.9M283.9 1123.1h.9M290.3 1120h.9M286.2 1122.8h.9M306.5 1116.9h.9M306.7 1112.6h.9M299.6 1133.1h.9M288.2 1130.3h.9M304.7 1125.9h.9M291.1 1119.5h.9M303.7 1113.7h.9M304.6 1111.9h.9M303.4 1114.1h.9M293.6 1128.6h.9M290.9 1133h.9M293 1131.7h.9M296.1 1128.8h.9M283.7 1116.2h.9M301.5 1118.3h.9M299.9 1124h.9M296.2 1127.9h.9M291.7 1124.4h.9M299.8 1123.9h.9M303.5 1119.4h.9M281.6 1129h.9M297.5 1126.2h.9M290.8 1120.9h.9M288.4 1123.3h.9M293.3 1126.8h.9M296.2 1125.1h.9M307.1 1118.8h.9M297.1 1128.2h.9M290.7 1122.8h.9M287.3 1129.2h.9M302.4 1127.5h.9M288.2 1122.9h.9M293.1 1122.6h.9M302.4 1128.5h.9M294.3 1122.4h.9M293.8 1128.8h.9M291.6 1120.4h.9M299 1118.1h.9M291.7 1118h.9M293.2 1116.6h.9M300.2 1128.7h.9M292.3 1124.7h.9M295.3 1119.8h.9M295.1 1129.7h.9M302.7 1121.8h.9M299.1 1124.9h.9M283.7 1130.1h.9M295.3 1128.8h.9M298.7 1113.7h.9M289.9 1117.4h.9M291 1123.4h.9M301.5 1121.7h.9M287.8 1127.6h.9M293.6 1120.6h.9M299.7 1124.8h.9M301 1123.1h.9M287.8 1126.9h.9M286.3 1127.3h.9M307.5 1126h.9M289.1 1125.2h.9M291.2 1118.1h.9M308 1111.2h.9M294.1 1130.6h.9M279.8 1129.6h.9M313.6 1117.1h.9M302.3 1123.1h.9M297.1 1123.1h.9M311.1 1112h.9M294 1123.9h.9M305.7 1123.1h.9M292.7 1119.6h.9M293 1125.2h.9M299 1122.6h.9M297.6 1115.3h.9M302.4 1118.8h.9M303.5 1122.6h.9M291.6 1126h.9M292.3 1120.3h.9M310.4 1124.8h.9M297.3 1119.3h.9M297.3 1128.1h.9M304.9 1122.9h.9M304 1120.2h.9M306.4 1127.3h.9M297 1138.4h.9M294.6 1130.3h.9M301 1124.7h.9M303.2 1122.1h.9M287.3 1128.5h.9M288.6 1118.7h.9M295.2 1129.2h.9M299.5 1117.2h.9M282.1 1115.5h.9M312.7 1116.6h.9M294.5 1122.2h.9M295.4 1115h.9M311.2 1121.6h.9M299.4 1123.5h.9M302.3 1127.5h.9M292.8 1123h.9M297.2 1121.3h.9M288.7 1129.1h.9M296.6 1129.3h.9M295.6 1125.2h.9M292.4 1135.9h.9M300.6 1119.5h.9M297.1 1121.5h.9M281.2 1126.7h.9M298.1 1117.8h.9M286 1121.1h.9M295.3 1115.2h.9M288.8 1124.9h.9M293.6 1127.7h.9M301.3 1131h.9M307.5 1118.3h.9M281.1 1120.5h.9M294.6 1129.5h.9M290.7 1121.2h.9M303.8 1124.8h.9M293.7 1126h.9M296.4 1120.4h.9M302.7 1118.4h.9M298.6 1119.2h.9M293.7 1128.8h.9M290.3 1121.9h.9M292.4 1123.6h.9M294.4 1120.7h.9M287.8 1123.7h.9M296.3 1128.2h.9M301.5 1128.6h.9M291 1124h.9M292.1 1126.6h.9M299 1128.3h.9M301.9 1125.8h.9M285 1125.9h.9M290.4 1131.5h.9M303.5 1120.9h.9M291.7 1118h.9M286.8 1125.7h.9M293.4 1119.1h.9M306.5 1122.3h.9M292.6 1130h.9M290.8 1132h.9M292.7 1123.9h.9M304 1116.8h.9M289.9 1124.9h.9M298.4 1122.9h.9M299.8 1117.8h.9M299.7 1124.2h.9M294.8 1130h.9M294.9 1113.5h.9M297.9 1128.1h.9M302.1 1126.2h.9M294.4 1116.8h.9M305.7 1145.3h.9M285.6 1133.9h.9M299.8 1124h.9M290.4 1116.9h.9M281.7 1131.6h.9M294.7 1124.7h.9M298 1126.1h.9M292.9 1122.2h.9M276.5 1126.5h.9M287.5 1120.9h.9M289.1 1128.4h.9M290.9 1121.4h.9M280.4 1132.6h.9M300.5 1131.7h.9M294.4 1114.3h.9M297.9 1121.1h.9M299.6 1135.4h.9M295.2 1126.9h.9M305.5 1130.1h.9M298.1 1123.7h.9M295.8 1133.5h.9M299.2 1128.7h.9M302 1127.9h.9M299.9 1114.9h.9M301.1 1129.8h.9M289.9 1127h.9M290.6 1123.5h.9M298.2 1127.8h.9M295.5 1120.5h.9M298.8 1115.4h.9M282.9 1130.5h.9M292.7 1131.8h.9M286.6 1126h.9M303.4 1124.3h.9M303.2 1129.1h.9M297 1123.1h.9M299.9 1121.3h.9M289.5 1122.4h.9M296.9 1119.8h.9M295 1123.5h.9M289.6 1111.3h.9M294.5 1125.5h.9M305.4 1130.6h.9M302 1121.6h.9M285.7 1128.8h.9M289.9 1122.4h.9M296.9 1127.3h.9M297.8 1120.9h.9M288.9 1138.6h.9M290 1129.5h.9M294.3 1128.2h.9M307.1 1120.9h.9M288.3 1124.9h.9M286.3 1112.5h.9M293.6 1122.1h.9M295.9 1128.2h.9M291.3 1114h.9M295.7 1126.6h.9M294.7 1127h.9M298.1 1126.4h.9M297.1 1124.4h.9M297.9 1124.4h.9M296.6 1121.2h.9M290.1 1133.7h.9M292.7 1116.8h.9M293.1 1118h.9M297.6 1116.9h.9M297.2 1117.5h.9M306.5 1123.1h.9M289 1125.3h.9M296 1128.9h.9M293.2 1117h.9M289.7 1123.8h.9M291.2 1121h.9M292.6 1125.6h.9M292.2 1126.7h.9M310.1 1118.5h.9M292.8 1121h.9M307.4 1126.2h.9M288.5 1125.1h.9M298.6 1127.4h.9M294.8 1134.7h.9M300.2 1129.9h.9M302.6 1112.6h.9M311.6 1127.2h.9M299.7 1120.8h.9M299.5 1126.3h.9M295.3 1124.8h.9M297.5 1123h.9M304 1120.5h.9M285.7 1131.7h.9M295 1129.4h.9M286.5 1122.3h.9M297.5 1112.6h.9M285.9 1125.5h.9M297.2 1114.8h.9M285.3 1122.8h.9M290.7 1133.2h.9M306 1122.6h.9M299.7 1117h.9M287.6 1123.5h.9M282.4 1126.4h.9M287.8 1124.5h.9M298.2 1121h.9M295 1124.6h.9M291 1131.6h.9M297.8 1121.2h.9M299.4 1110.6h.9M287.7 1127.5h.9M293.9 1123.3h.9M288.5 1123.8h.9M303.8 1124.8h.9M291.1 1113.9h.9M288 1120.2h.9M282.3 1124.8h.9M303 1129.8h.9M290.8 1120h.9M294.7 1121.4h.9M294.6 1126.6h.9M297.6 1123.2h.9M278.4 1118h.9M289.8 1126.8h.9M295.7 1120.2h.9M307.4 1120.3h.9M298.9 1127.4h.9M294.8 1125.1h.9M289 1122.2h.9M284.7 1113.5h.9M293.9 1125.7h.9M291 1129h.9M296.2 1124.9h.9M291 1115.6h.9M305.9 1114.2h.9M290.1 1115.4h.9M302.2 1121.1h.9M290.2 1121.2h.9M301.7 1122.5h.9M309.1 1113.4h.9M287.8 1118.4h.9M284.2 1120.4h.9M303.2 1123.7h.9M296.7 1126.7h.9M292.2 1122.3h.9M294.3 1115.1h.9M294.7 1118.4h.9M303.8 1122.1h.9M296.5 1120.1h.9M289.1 1120.9h.9M289.8 1131.5h.9M284.3 1130.1h.9M285.8 1122.4h.9M298.4 1112.5h.9M289.3 1135.9h.9M296.7 1126.6h.9M300.7 1115.5h.9M299.2 1123.1h.9M304.1 1117.7h.9M296.2 1114.1h.9M304.8 1118.7h.9M290.1 1123.2h.9M290 1127.2h.9M305.3 1113.2h.9M297.9 1124.4h.9M295.9 1124.4h.9M292.7 1128.7h.9M303.8 1115.9h.9M301.2 1129.1h.9M297.8 1121.6h.9M296 1137h.9M296.2 1125.3h.9M292.3 1125.6h.9M292.6 1120.6h.9M299.6 1128.5h.9M296.1 1135h.9M290.8 1129.4h.9M299.5 1120.5h.9M288.7 1127.7h.9M307.5 1127.4h.9M304 1117.6h.9M286.2 1128.7h.9M304.2 1116.6h.9M291.2 1129.8h.9M304.4 1122.1h.9M292.1 1127.8h.9M300.6 1123.1h.9M287.6 1125.9h.9M300 1124.2h.9M294.9 1122.5h.9M301.5 1111.3h.9M301.8 1126h.9M287 1122.2h.9M299.1 1127.6h.9M291.4 1127.9h.9M298 1127.3h.9M304.7 1118.8h.9M300.5 1109.2h.9M295.6 1122.6h.9M286.2 1118.9h.9M298.1 1129.3h.9M309.8 1120.5h.9M289.7 1114.9h.9M287 1131.5h.9M285.9 1127.8h.9M281.5 1115.2h.9M300.4 1117.2h.9M291.4 1122.1h.9M291 1128h.9M297.5 1123.5h.9M296.5 1110.9h.9M296.2 1129.1h.9M288.2 1122.9h.9M297.3 1125.4h.9M298.4 1117.5h.9M286 1132.8h.9M285.8 1128.1h.9M305.3 1112.5h.9M294.9 1116.7h.9M298.8 1126.2h.9M287.1 1130.8h.9M287.5 1124.6h.9M294.6 1127.7h.9M306.4 1127.4h.9M295.2 1123h.9M281.4 1122.3h.9M307.8 1125.6h.9M304 1116.6h.9M300.2 1120.5h.9M284.4 1120h.9M292 1128.8h.9M294 1126.6h.9M294.3 1120.5h.9M307.3 1120.3h.9M285.3 1126.3h.9M288.8 1123h.9M291 1115.9h.9M293.5 1130.7h.9M292 1126.5h.9M289.2 1137.2h.9M298 1130.2h.9M291.8 1123.2h.9M297.5 1126.9h.9M298.8 1117.2h.9M293.4 1125.7h.9M298 1133.1h.9M297.2 1124.8h.9M293 1128h.9M293.8 1118.8h.9M283 1128.3h.9M288.8 1125.9h.9M299.5 1125.6h.9M294.1 1119.4h.9M298.5 1118.3h.9M290.7 1137.9h.9M295.5 1134.6h.9M296.6 1129.5h.9M293.1 1122.3h.9M291.7 1121.4h.9M303.4 1118.8h.9M295.1 1132.6h.9M294.8 1129.6h.9M300 1126.8h.9M299.3 1125.9h.9M298.6 1130.1h.9M305.1 1118.3h.9M300 1126h.9M289.7 1117.4h.9M285.8 1121.3h.9M301.8 1118.6h.9M292.3 1129.3h.9M296.5 1121.3h.9M293.2 1129.7h.9M309.9 1121.3h.9M301.5 1126.4h.9M282.5 1127.6h.9M298.8 1128h.9M285.3 1127.3h.9M292.1 1128h.9M294.4 1109.9h.9M287.8 1131.2h.9M296.9 1123.3h.9M296 1128.2h.9M299.4 1121.6h.9M290.1 1130.8h.9M300.5 1126.3h.9M290.8 1122h.9M300.8 1120.1h.9M289.8 1113h.9M299.3 1123h.9M302.8 1119.2h.9M304.6 1127.1h.9M295.2 1126h.9M298.5 1120.6h.9M291.6 1117.8h.9M299.1 1126.6h.9M304.4 1117.8h.9M289.1 1126.8h.9M286.5 1126.7h.9M296.3 1119.9h.9M291.9 1128h.9M305.4 1126.7h.9M298.6 1118.4h.9M299 1123.1h.9M295.6 1126.7h.9M290.7 1123.8h.9M291.4 1132.3h.9M292.6 1129.2h.9M294.8 1125.2h.9M288.2 1126.6h.9M299.8 1118.2h.9M296.3 1117.3h.9M287.8 1131.8h.9M276.5 1131h.9M303.2 1124.2h.9M284 1122.1h.9M274.8 1130.6h.9M288.3 1138.6h.9M298.6 1129.4h.9M303.8 1121.1h.9M303.1 1126.8h.9M305.5 1122.8h.9M308.7 1124.2h.9M306 1117h.9M283.5 1116.4h.9M292.6 1122.9h.9M290.7 1126.2h.9M295 1123.7h.9M295.3 1131.3h.9M295 1120.2h.9M307.2 1120h.9M287.4 1120.5h.9M302 1127.3h.9M285.8 1121.4h.9M289.9 1135.5h.9M303.2 1125.1h.9M290.8 1117.9h.9M296.9 1127.6h.9M308.4 1129.1h.9M285.8 1127.5h.9M297.3 1128.3h.9M304.3 1119.9h.9M289.1 1129.4h.9M298.6 1128h.9M304.8 1130h.9M306.9 1134.6h.9M296.3 1116h.9M299.1 1117h.9M297.6 1122.1h.9M300.8 1123.8h.9M295.9 1120.1h.9M292.3 1134h.9M292.9 1118.2h.9M290.3 1116.3h.9M302.9 1122.3h.9M294 1113.8h.9M299.3 1125.1h.9M295.9 1123.4h.9M295.2 1113.8h.9M290 1123h.9M297.6 1125.4h.9M292.9 1131.7h.9M294.7 1129.8h.9M286.5 1125.2h.9M309.2 1117.4h.9M296.5 1117.4h.9M293.5 1137.3h.9M291.6 1123.4h.9M299.1 1127.5h.9M294.5 1131h.9M297.6 1117.5h.9M299.2 1126h.9M304.6 1125.7h.9M280 1140h.9M301.6 1126h.9M300.8 1133.1h.9M304.2 1127.3h.9M289.9 1123.1h.9M291.6 1129.5h.9M284.9 1122h.9M293.3 1112.9h.9M300.3 1133.2h.9M284.4 1130.5h.9M290.6 1124.6h.9M295.4 1125.8h.9M289.1 1132h.9M289.1 1118.1h.9M297 1130.5h.9M291.9 1127.5h.9M285.5 1131.5h.9M304.5 1125.6h.9M297.1 1125h.9M295.5 1119.8h.9M288.9 1121.3h.9M299.6 1131.4h.9M291.4 1128.3h.9M293.2 1122.7h.9M294.2 1120.6h.9M300.1 1125.6h.9M294.6 1133.6h.9M291.6 1130.3h.9M302.8 1120.3h.9M285.2 1126.9h.9M301.4 1135h.9M287.8 1110.9h.9M297.8 1119.1h.9M291.3 1124h.9M285.7 1122.1h.9M295.9 1124.5h.9M289.5 1135.5h.9M288.7 1128.9h.9M290.9 1116.3h.9M292.2 1116.7h.9M284.9 1127.7h.9M304.6 1124h.9M296.6 1128.8h.9M300.9 1116.4h.9M303.4 1124.1h.9M293.7 1121h.9M287.4 1115.2h.9M286.8 1130.9h.9M300.7 1120.1h.9M307.5 1125.4h.9M292.8 1117.2h.9M295.8 1125.3h.9M289.2 1127.4h.9M286.8 1124.1h.9M290.9 1117.6h.9M304 1123.4h.9M292.8 1124.5h.9M304 1129.2h.9M295.3 1118.4h.9M296.4 1129.4h.9M284.4 1115.9h.9M294.9 1130.5h.9M285.4 1124.2h.9M300.8 1122.6h.9M299.1 1124.8h.9M289.4 1128.9h.9M288.2 1121.3h.9M287.9 1131.3h.9M297.1 1126.4h.9M298.9 1122.6h.9M289.8 1128.2h.9M289.9 1120.7h.9M297.1 1122.5h.9M284.3 1129.1h.9M292.9 1115.9h.9M303.9 1117h.9M307.1 1122.8h.9M293.8 1124h.9M294.8 1124.5h.9M296.9 1115.6h.9M301.4 1126.5h.9M303 1116.5h.9M295.9 1121.7h.9M294.3 1116.8h.9M298.1 1124.9h.9M305.6 1118.1h.9M286.5 1121.2h.9M305.5 1124.4h.9M297 1123.4h.9M296.7 1121.8h.9M292.6 1131.6h.9M294.3 1121.8h.9M288 1122.7h.9M283.7 1141.9h.9M297.3 1123.7h.9M289.7 1133.7h.9M297.9 1128h.9M283.6 1120h.9M292.6 1123.7h.9M293.1 1125.4h.9M283.1 1126h.9M296.3 1125.2h.9M294.5 1131.6h.9M279 1128.2h.9M307.1 1118.3h.9M298.4 1121.9h.9M298 1123.1h.9M294.5 1121.1h.9M302.7 1125.1h.9M289.1 1118.2h.9M298.1 1117.3h.9M298.8 1115.1h.9M292.8 1126.4h.9M297.8 1127.8h.9M298.8 1128.3h.9M288.8 1134.1h.9M294.9 1116.5h.9M295 1123.9h.9M305.4 1124.6h.9M296.3 1122.8h.9M291.3 1129.5h.9M297.9 1127h.9M292 1125.1h.9M279 1128h.9M293 1122.3h.9M290.5 1134.9h.9M303.9 1121.2h.9M296.2 1120.6h.9M299.3 1118h.9M299.9 1128.1h.9M291.3 1118.9h.9M300.9 1124.7h.9M290.5 1139.5h.9M300.4 1122h.9M291.9 1119.2h.9M278.4 1121h.9M296.1 1128.8h.9M296.4 1116.6h.9M292.8 1126.9h.9M308.2 1129.1h.9M304.5 1122.6h.9M291 1125.1h.9M290 1125.7h.9M295.9 1129.2h.9M290.8 1122.5h.9M299.2 1120.6h.9M304.4 1125.6h.9M302.5 1128.6h.9M298.6 1119.8h.9M297.6 1130h.9M295.1 1126h.9M287.4 1118.8h.9M310.6 1118h.9M301.3 1121.7h.9M298.8 1121.7h.9M291.4 1126.8h.9M289.5 1137h.9M290.3 1126.1h.9M293.8 1128.2h.9M296.8 1133.4h.9M298.3 1120h.9M289 1117.1h.9M296.4 1116h.9M295 1115.3h.9M301.8 1126.8h.9M298.1 1132.2h.9M299.7 1120.8h.9M300.1 1132.1h.9M295.6 1121.6h.9M295.9 1128.4h.9M295.7 1127.2h.9M294.9 1119.7h.9M299.2 1121.3h.9M292.6 1130.3h.9M290.1 1118.2h.9M295.4 1123.6h.9M300.4 1116.6h.9M293.3 1119.8h.9M300.8 1125.2h.9M298.9 1116.5h.9M298.4 1130.4h.9M306 1121h.9M287.5 1123.6h.9M283.4 1121.4h.9M289.6 1131.1h.9M290.7 1128.2h.9M288.9 1120.3h.9M294.6 1127.5h.9M296.7 1121.3h.9M295.9 1133.5h.9M293 1128.6h.9M297 1118.3h.9M293.8 1124.2h.9M300 1130.9h.9M295.3 1131.6h.9M285.8 1125.8h.9M291.2 1116.8h.9M296.9 1130.1h.9M295.7 1119.2h.9M299.9 1134.6h.9M286.8 1120.4h.9M303.5 1117.6h.9M290.9 1136h.9M283.5 1131.1h.9M293.3 1131.6h.9M294.4 1132.1h.9M293.4 1112.8h.9M289.3 1122.1h.9M296.4 1127.7h.9M297.5 1126h.9M298 1119.5h.9M281.9 1123.9h.9M296.7 1124.3h.9M288.7 1131.8h.9M303.5 1124.3h.9M287.1 1120.8h.9M288.9 1123.4h.9M300.6 1128.2h.9M296.9 1129.3h.9M295.1 1126.7h.9M298.1 1119.8h.9M293.6 1130h.9M290.1 1124.7h.9M296.9 1111.9h.9M287.6 1118.1h.9M291.2 1113.6h.9M287.2 1128.7h.9M296.9 1129.3h.9M293.9 1127.9h.9M298.1 1125h.9M306.7 1112.5h.9M283.9 1133.3h.9M285.9 1121.7h.9M291.1 1121.9h.9M297.2 1127.1h.9M286.5 1131.1h.9M291.4 1117.8h.9M289.1 1126.1h.9M294.3 1122.1h.9M288 1125.7h.9M311 1112.1h.9M295 1121.1h.9M298.6 1120.5h.9M282.3 1136.8h.9M292.6 1133.4h.9M293.7 1124.7h.9M306.8 1121.3h.9M290.9 1130.1h.9M295.5 1119.4h.9M290.8 1131h.9M294.3 1125.5h.9M279.3 1123.2h.9M283 1131.3h.9M290.2 1127.4h.9M298.9 1119h.9M297.7 1116.3h.9M291.3 1120.1h.9M284.7 1124.3h.9M308.8 1135.5h.9M289.7 1119.5h.9M288.1 1125.4h.9M292.8 1126.6h.9M295.3 1129.9h.9M303.5 1114.1h.9M290.6 1115.7h.9M290.9 1124.9h.9M287.1 1115.6h.9M280.7 1120.6h.9M305.3 1125.9h.9M288.8 1127.9h.9M299.2 1131.8h.9M285.5 1121.1h.9M288.6 1124.5h.9M281.7 1133.2h.9M298.1 1130h.9M309.7 1118.9h.9M305.8 1117.5h.9M294.7 1117.2h.9M305.2 1122.6h.9M285.7 1118h.9M288.9 1131h.9M302.8 1121.9h.9M291.4 1128.3h.9M308.8 1118.2h.9M308.2 1129.4h.9M290.5 1134.4h.9M296.2 1133.4h.9M290.2 1120.4h.9M301.2 1124.9h.9M289.7 1119.8h.9M294.9 1125h.9M285.3 1129.5h.9M306.1 1121h.9M302.1 1124.9h.9M297 1127.8h.9M284.8 1130h.9M297.5 1127.4h.9M312.1 1110.6h.9M299 1126.4h.9M306.6 1128.5h.9M278.7 1126.4h.9M295 1129.8h.9M292 1122.3h.9M303.6 1124.7h.9M286.2 1122.6h.9M302.4 1126.3h.9M300.8 1118.6h.9M297.9 1129.3h.9M294.2 1126h.9M297.9 1123.4h.9M289.3 1130.1h.9M282.6 1125.7h.9M281.6 1125.4h.9M295.4 1123.3h.9M293.3 1126.5h.9M293.4 1124.1h.9M290.6 1125.4h.9M291.6 1119.8h.9M308.2 1122.1h.9M292.8 1126.1h.9M287.3 1124.6h.9M286.9 1129.2h.9M289.9 1131.1h.9M298.3 1123.2h.9M294.3 1128.1h.9M294.3 1131h.9M295 1129.5h.9M285 1129h.9M282.6 1114.7h.9M293 1128.5h.9M287.8 1117.6h.9M295.3 1122.4h.9M299.5 1120.6h.9M292.3 1131.6h.9M297.2 1125.4h.9M295.7 1121.2h.9M289.9 1125.4h.9M299.3 1126.1h.9M297.1 1114.1h.9M288.2 1139.1h.9M294.9 1118.8h.9M294.6 1118.3h.9M293.7 1117.9h.9M289.4 1140h.9M298.1 1115.8h.9M293.4 1125.1h.9M285.6 1119.6h.9M286.4 1134.3h.9M295.9 1120.9h.9M292.1 1122.9h.9M283.7 1125.1h.9M305.6 1121h.9M287.9 1131.8h.9M300.8 1127h.9M288.7 1128.8h.9M290.6 1119.8h.9M299 1123h.9M289.2 1117.8h.9M295.6 1117.7h.9M294.9 1124.9h.9M304.3 1119.6h.9M298.7 1120.7h.9M296 1118.8h.9M286.6 1119.3h.9M290.4 1121.9h.9M295.9 1123.3h.9M304.1 1115.2h.9M304.7 1119.7h.9M295 1121.5h.9M301.4 1118.4h.9M296 1123.7h.9M293.4 1117h.9M293.2 1119.2h.9M290.1 1118.7h.9M302.5 1131.5h.9M316.3 1116.9h.9M293.7 1125.9h.9M296.9 1108.4h.9M299.4 1118h.9M299.2 1132.1h.9M300.3 1122h.9M290.4 1121.3h.9M297.5 1126.7h.9M309.5 1130.2h.9M304.6 1117.4h.9M295.3 1124.6h.9M292.8 1121.9h.9M286 1126.9h.9M296.2 1113.5h.9M287 1116.1h.9M290.1 1127.9h.9M294 1118.1h.9M292.8 1119.9h.9M283.9 1124.8h.9M301 1116.9h.9M282.1 1125.3h.9M281.4 1123.3h.9M302.7 1125h.9M291.2 1121.8h.9M284 1130.6h.9M305.7 1130.2h.9M297.8 1115.9h.9M296.8 1132.2h.9M292.7 1121.7h.9M296.8 1125.9h.9M299 1119.8h.9M296.4 1130.4h.9M293.5 1141h.9M294.4 1125.8h.9M292.3 1128.2h.9M283.7 1128.8h.9M295.5 1134.9h.9M282.1 1115.6h.9M293.8 1121.1h.9M302.2 1120.4h.9M297.8 1123h.9M316.6 1123.6h.9M299.3 1126.9h.9M293.6 1119.6h.9M291.5 1133.2h.9M298.1 1117.3h.9M290.9 1110.2h.9M283.4 1128.3h.9M287.2 1119.6h.9M298.8 1122.2h.9M290.7 1123.7h.9M295.3 1118.7h.9M296.5 1124.7h.9M308.3 1118.4h.9M284.9 1128.7h.9M294 1125.8h.9M286.1 1128.8h.9M287.2 1123.5h.9M308.7 1121.1h.9M298.1 1115.7h.9M297.6 1120.2h.9M295.9 1127.8h.9M292.4 1118.6h.9M308.9 1119.7h.9M289.4 1130.4h.9M304.3 1122.5h.9M301.1 1118.8h.9M290.8 1131.2h.9M297.1 1125h.9M283.3 1111.5h.9M293.7 1120.8h.9M300.2 1120.6h.9M293.7 1116.6h.9M300.9 1115.9h.9M302 1126.4h.9M279.3 1129.1h.9M300.8 1122.8h.9M290.8 1137.2h.9M272.6 1126.7h.9M291.6 1123h.9M288.6 1119.7h.9M305.8 1112.1h.9M303.1 1124h.9M301.3 1123.2h.9M291.3 1115.3h.9M303.9 1127.9h.9M291.8 1128.7h.9M303.4 1123.1h.9M292.8 1127.3h.9M294.4 1125.6h.9M296.9 1123.4h.9M289.8 1125.2h.9M316.2 1118.7h.9M301.3 1134h.9M290.2 1121h.9M289.7 1129h.9M291.8 1128.4h.9M295.7 1126.5h.9M295.3 1115.5h.9M284.8 1127.9h.9M292.1 1126h.9M306.1 1116.9h.9M298.6 1126.5h.9M298.4 1131.1h.9M292.5 1125.4h.9M293.6 1125.1h.9M294.3 1120.3h.9M304.7 1120.9h.9M302.3 1116.8h.9M294 1131.3h.9M287.9 1123.9h.9M297.1 1120.1h.9M293.8 1131.4h.9M302.6 1123.8h.9M307.3 1131.4h.9M290.6 1127.5h.9M279.2 1126.6h.9M287.6 1132.2h.9M291.8 1119.5h.9M285.9 1125.3h.9M295.7 1120.9h.9M294.6 1120.3h.9M290.9 1115.3h.9M295.1 1127.6h.9M290.4 1126.9h.9M300.4 1126.2h.9M280.9 1127.5h.9M299.8 1127.7h.9M307.7 1112.8h.9M306.6 1127.5h.9M297.7 1130.4h.9M287.9 1114.5h.9M301.7 1132.5h.9M296 1129.2h.9M305.9 1119.7h.9M290.9 1125.6h.9M292.3 1122.1h.9M291.3 1137.1h.9M301.7 1129.2h.9M281.5 1122.8h.9M300.1 1121.6h.9M299.4 1125h.9M287.6 1130.7h.9M294.6 1116.9h.9M293.5 1126h.9M293 1129.8h.9M283.5 1123h.9M284.5 1130.1h.9M281.8 1121.3h.9M283.8 1129.5h.9M296.7 1128h.9M290.1 1131.7h.9M309.5 1119.8h.9M298.1 1125.2h.9M303 1122.5h.9M295.8 1138.2h.9M306.9 1123.7h.9M292.8 1127.7h.9M306.1 1131.7h.9M294.3 1117.5h.9M301.3 1126.4h.9M288.5 1130.8h.9M287.3 1124.5h.9M300.8 1121.3h.9M292.2 1111.1h.9M293.5 1131.7h.9M295.3 1115.3h.9M294.4 1121.9h.9M290.3 1124.7h.9M313.2 1128.9h.9M282.4 1136.9h.9M296.1 1132.1h.9M299 1118.5h.9M296.4 1120.6h.9M311.7 1126.9h.9M297.1 1119.3h.9M297.7 1121.9h.9M289.4 1123.5h.9M309.9 1129h.9M289.5 1123.2h.9M292.8 1125.9h.9M291.7 1123.5h.9M297.4 1118.9h.9M286.8 1117.1h.9M294.1 1123.9h.9M290.8 1124.5h.9M287.5 1138.5h.9M290.8 1127.3h.9M314.5 1131.5h.9M295.6 1132.8h.9M296.4 1124.9h.9M312.9 1119h.9M292.4 1132.4h.9M302.5 1128.7h.9M301.7 1118.4h.9M289.9 1130.1h.9M303.2 1115.7h.9M302.5 1125.4h.9M286.8 1127.4h.9M294.3 1122h.9M287.1 1128.6h.9M309.7 1108.3h.9M309.8 1120.2h.9M291.6 1117.1h.9M287.9 1121.1h.9M295 1117h.9M287.6 1128.3h.9M298 1135.2h.9M290.6 1134.3h.9M294.3 1127.7h.9M294.5 1116.5h.9M298.2 1126h.9M300.5 1124.2h.9M291.9 1126.7h.9M302.3 1125.4h.9M296.7 1126.9h.9M299.6 1128.6h.9M304.2 1118.7h.9M294.6 1123.2h.9M286 1121.8h.9M298.7 1120.9h.9M284.6 1120h.9M295.2 1123.7h.9M292.6 1120.3h.9M277.8 1123.6h.9M281.5 1120.1h.9M286.7 1122.8h.9M297.8 1125h.9M303.1 1126.7h.9M298.1 1130.1h.9M312.4 1122.4h.9M299.7 1120.9h.9M287.2 1134.2h.9M299.7 1123.9h.9M289.7 1130.4h.9M288.7 1124.6h.9M290.1 1119.2h.9M293 1124.6h.9M295.5 1120.1h.9M297.3 1116.6h.9M300.9 1118.4h.9M291.1 1126h.9M298 1129.6h.9M303.6 1123.1h.9M288.6 1129.8h.9M302.5 1123.5h.9M300.8 1124.5h.9M295 1130.7h.9M302.3 1119.6h.9M300.8 1130h.9M299.2 1121.6h.9M305.7 1120.4h.9M288.1 1111.3h.9M291.3 1136h.9M288.7 1118.8h.9M287.8 1127.9h.9M303.5 1125.6h.9M294.3 1129.5h.9M291.7 1125.1h.9M291.3 1127.6h.9M304.3 1125.8h.9M295.3 1120.2h.9M303.1 1128.9h.9M298 1127.2h.9M287.3 1120.9h.9M290.9 1131.6h.9M303.1 1121.6h.9M295.7 1131.1h.9M302.5 1129.5h.9M289.3 1132h.9M293.7 1127.2h.9M288.7 1121h.9M287.4 1123.2h.9M297.1 1119.7h.9M301.8 1124.7h.9M296.7 1133h.9M306.1 1113h.9M289.1 1112.8h.9M283.2 1127.1h.9M297.7 1121.9h.9M287.9 1131.7h.9M293.2 1127.7h.9M300.9 1133.1h.9M302.5 1121.5h.9M293.7 1112.7h.9M288.4 1123.1h.9M303.6 1121.7h.9M291.6 1113.3h.9M301.3 1116.7h.9M302.7 1119.1h.9M292.8 1119.9h.9M290.1 1126.6h.9M302.2 1128.4h.9M290.1 1113.2h.9M293 1121.9h.9M299.4 1132h.9M286.5 1121.1h.9M285.1 1121.1h.9M288.9 1120.8h.9M298.6 1130h.9M289.3 1118h.9M301 1127.1h.9M300.6 1124.3h.9M297.7 1123.5h.9M290.7 1132.9h.9M286.8 1132.4h.9M292.7 1136.6h.9M286.8 1127.5h.9M300.8 1123.5h.9M298.3 1118.8h.9M286.8 1135.5h.9M291.5 1124.7h.9M294.5 1126.6h.9M288 1125h.9M290.5 1120.8h.9M288.2 1125.2h.9M290.9 1123.8h.9M297.3 1130.4h.9M296.5 1122.6h.9M290.7 1129.8h.9M299.7 1123.2h.9M285.5 1119.4h.9M289.6 1119.9h.9M292.6 1123.8h.9M289.7 1129.8h.9M299.9 1128h.9M290.7 1127.3h.9M291.6 1134h.9M303.6 1115.5h.9M294.7 1129.2h.9M284.2 1109.4h.9M279.1 1130.4h.9M292.8 1123.5h.9M304.1 1119.1h.9M293.7 1128.8h.9M290.1 1120.3h.9M301.8 1126.9h.9M299.3 1120.2h.9M299.4 1114.8h.9M299 1122.1h.9M293.4 1126h.9M292.3 1131.3h.9M301.3 1129h.9M292.7 1111.3h.9M296.9 1120.5h.9M288.6 1122.7h.9M295.5 1134.3h.9M304.6 1119.5h.9M291.1 1123h.9M295.8 1116.4h.9M293.6 1121.8h.9M283.4 1128.7h.9M298.5 1123h.9M288.1 1128h.9M307.1 1123.6h.9M293 1127.2h.9M291.2 1127.9h.9M293.6 1125.4h.9M295.6 1127.4h.9M292.3 1126.5h.9M291.8 1124.2h.9M300.6 1119.2h.9M288.2 1108.1h.9M298.5 1120.1h.9M293 1119.5h.9M297.6 1120.5h.9M289.3 1124h.9M301.6 1113.3h.9M287.7 1124.8h.9M280.7 1123.8h.9M283.9 1124.5h.9M286.7 1124.2h.9M296.9 1134.3h.9M303.8 1115.5h.9M281.4 1117.1h.9M284.8 1124.4h.9M310.2 1125h.9M313.2 1110.4h.9M291 1126.3h.9M290.4 1119.4h.9M289.4 1126.6h.9M295.7 1121.1h.9M291.7 1128h.9M293.2 1126.2h.9M289.9 1133h.9M290.2 1120.4h.9M306.2 1126.3h.9M291.1 1113.4h.9M288.1 1126.1h.9M282.2 1137.8h.9M282.6 1124.4h.9M298.4 1102.3h.9M273.4 1128.3h.9M311.3 1119h.9M276.8 1110.2h.9M298.7 1124.8h.9M276.4 1129.5h.9M296.8 1115.6h.9M294.7 1125.8h.9M297.9 1125.9h.9M316.6 1106.3h.9M287.7 1134.1h.9M299 1122.3h.9M288.4 1136.9h.9M297.7 1127.3h.9M302.5 1125.4h.9M287.7 1129.7h.9M302.8 1136.1h.9M291.5 1129.7h.9M295 1127.5h.9M323.6 1124.2h.9M279.4 1129.6h.9M293.4 1128.8h.9M289.9 1116.6h.9M277.3 1125h.9M318.8 1107.2h.9M300 1126.5h.9M311.4 1113.9h.9M310.7 1106.2h.9M310.6 1117h.9M308.7 1112.5h.9M305.5 1107.6h.9M286.1 1131.3h.9M311.5 1111.7h.9M306 1121.1h.9M300.9 1124.4h.9M309.2 1122h.9M293.5 1116.5h.9M293.9 1124.1h.9M310.8 1098.6h.9M308.9 1122.6h.9M283.7 1128.7h.9M291.4 1132.8h.9M288.4 1122.3h.9M273.1 1134.2h.9M305.3 1112.8h.9M312.8 1128.4h.9M300.5 1107h.9M309.8 1102.8h.9M308 1127.9h.9M297 1135.7h.9M307.8 1120h.9M304.6 1116.4h.9M298.3 1119.6h.9M299.4 1129.4h.9M295.1 1125.1h.9M283.1 1127.3h.9M301.2 1134.8h.9M314.6 1111.6h.9M323.2 1119.7h.9M279.6 1131.2h.9M280.5 1128.5h.9M286.5 1118.8h.9M290.9 1139.2h.9M310.2 1112h.9M295.7 1133.9h.9M297.3 1130.7h.9M298.3 1101h.9M286.3 1120.6h.9M288.5 1116.8h.9M274.5 1105.8h.9M302.6 1111.3h.9M324 1109.8h.9M313 1122.3h.9M298.1 1137.9h.9M289.8 1127.6h.9M286.9 1111.5h.9M273.2 1119.7h.9M306 1120.2h.9M276.6 1127.7h.9M280.7 1109.1h.9M294.7 1120.9h.9M305.2 1127.2h.9M312.1 1115.6h.9M308.3 1119.3h.9M305.1 1108.7h.9M289.2 1133.7h.9M311.4 1126.8h.9M303.6 1128.6h.9M296.5 1127.3h.9M306.9 1137.5h.9M274.8 1121.3h.9M285.6 1127.4h.9M286.6 1126.3h.9M304 1125.6h.9M306.1 1114.5h.9M306.8 1118.7h.9M295.2 1136.2h.9M299.8 1130.1h.9M306.6 1128.7h.9M299.3 1113.2h.9M281.6 1130.8h.9M300.9 1128.3h.9M301.3 1121.6h.9M299 1127h.9M307.9 1113.5h.9M311.1 1114.6h.9M282.7 1137.8h.9M301.3 1120.8h.9M305.1 1128.5h.9M287.1 1124.8h.9M308.4 1107.9h.9M292 1112h.9M288.4 1119h.9M281.4 1120.5h.9M318.6 1104.8h.9M293.8 1124.4h.9M308.3 1117.3h.9M305.5 1122.7h.9M285.5 1118.9h.9M300.4 1123.6h.9M290.2 1147.9h.9M297.2 1118.9h.9M306.6 1126.7h.9M285.3 1139.2h.9M290.3 1112.6h.9M289.9 1143.1h.9M297.7 1108.6h.9M292.5 1131.3h.9M306.1 1115.3h.9M281.2 1115h.9M279.9 1120.7h.9M298.3 1125.5h.9M302.9 1107.1h.9M292.7 1111.1h.9M309.1 1104.7h.9M296.9 1110.2h.9M298.4 1113h.9M294 1121.9h.9M312 1134.2h.9M292.2 1135.2h.9M308.1 1110.5h.9M276.9 1129.1h.9M289.2 1127.2h.9M284.6 1114.3h.9M323.8 1111.1h.9M295 1113.9h.9M303.4 1127.3h.9M306.5 1114.4h.9M283.8 1134.1h.9M311.2 1102.3h.9M282.2 1134.5h.9M293.5 1125.5h.9M293 1116.3h.9M299.8 1127.8h.9M314.3 1119.9h.9M280.4 1127.8h.9M301.3 1125.8h.9M301.7 1105.9h.9M299.7 1111.9h.9M287.8 1120.8h.9M288.4 1130.7h.9M312 1118.1h.9M324.3 1101h.9M286 1140.3h.9M273.8 1142.7h.9M294.4 1118.1h.9M302.3 1118.6h.9M281.5 1147.3h.9M293.5 1104.9h.9M310 1114.4h.9M288.1 1122.9h.9M306.6 1106.2h.9M295.6 1125.5h.9M296.1 1111.4h.9M311.8 1110.8h.9M288 1123.6h.9M297.8 1123.6h.9M277.7 1119.1h.9M292.1 1116.6h.9M311.9 1117.7h.9M311 1113h.9M291.4 1133.4h.9M299.2 1121.5h.9M299.7 1120.8h.9M282.6 1123.8h.9M303.9 1129h.9M294.9 1132.4h.9M295.4 1107h.9M303.4 1115.4h.9M300.5 1119.1h.9M289.1 1113.1h.9M288.9 1127.5h.9M314.7 1119.4h.9M309.2 1125.5h.9M313.6 1116.6h.9M299.1 1119h.9M314.8 1125.7h.9M305.5 1106.5h.9M306.2 1118.1h.9M307.3 1123.9h.9M287.9 1126.8h.9M302 1120.5h.9M300.5 1112.2h.9M301.4 1131.3h.9M316.1 1105.4h.9M289.6 1125.9h.9M284.4 1130.1h.9M295.3 1121.4h.9M295 1106.2h.9M307.6 1111.5h.9M297.8 1130.2h.9M302.8 1129.5h.9M298.9 1109.8h.9M287.1 1134.9h.9M300.1 1119.5h.9M313.1 1115.5h.9M307.8 1125.3h.9M311.2 1115.4h.9M303.4 1135.2h.9M306.3 1118.6h.9M292.9 1125.4h.9M288.5 1123.6h.9M308.8 1131.8h.9M277.8 1136.3h.9M293.3 1125.2h.9M287.4 1121.7h.9M312.9 1134.1h.9M292.1 1106.3h.9M297.3 1126.7h.9M319.4 1131.9h.9M290.8 1135.5h.9M301.6 1129.7h.9M293.4 1126.5h.9M313.9 1108.4h.9M295.3 1122.5h.9M297.6 1133.1h.9M285.9 1125.6h.9M295.7 1123.6h.9M298.7 1117.5h.9M289.1 1124.8h.9M302.6 1119h.9M299.5 1128.4h.9M287.1 1118.9h.9M300.9 1113.4h.9M299.7 1126h.9M296.9 1137.7h.9M309.5 1137.9h.9M309.5 1106.5h.9M304.2 1117.2h.9M289 1122.2h.9M294.4 1129.4h.9M284.6 1112.2h.9M317.7 1117.2h.9M288.2 1124h.9M288.6 1119.9h.9M295.2 1138.6h.9M298.8 1113.6h.9M300.1 1128.8h.9M293.4 1124.6h.9M323.7 1118.4h.9M287.8 1123.5h.9M313.1 1116h.9M287 1123.7h.9M306.8 1118.4h.9M315.2 1125.9h.9M287.6 1116.1h.9M284.3 1108.1h.9M309.1 1122.7h.9M291.2 1114.5h.9M285 1124.8h.9M312 1112.3h.9M281.6 1134.9h.9M291.5 1130.3h.9M307.5 1109h.9M298.6 1117.5h.9M277.1 1114.9h.9M300.1 1109.5h.9M295.7 1115.7h.9M302.9 1125.5h.9M294.2 1124.2h.9M285.9 1129.6h.9M310.9 1115.7h.9M300.4 1123.3h.9M296.7 1127.5h.9M309.8 1105.8h.9M290.4 1126.2h.9M309.7 1118h.9M286.1 1125.4h.9M288 1111h.9M292.6 1135.3h.9M296.1 1117.4h.9M285.1 1123.3h.9M309.3 1119.6h.9M320.7 1098.9h.9M300.7 1115h.9M302.1 1120.3h.9M300.2 1123.3h.9M292.3 1134.1h.9M311.8 1121.5h.9M311.5 1119.4h.9M281.7 1131.8h.9M293.1 1126.7h.9M293.4 1127.9h.9M298.9 1124.4h.9M310.3 1111.9h.9M300.5 1126.5h.9M300 1111h.9M279.2 1127.5h.9M286.8 1125.7h.9M297.3 1130.6h.9M285.1 1131.6h.9M290.2 1135.8h.9M305.9 1121.3h.9M297.2 1128.7h.9M292.2 1118.9h.9M317.2 1117.2h.9M291.8 1130h.9M294 1127.1h.9M302.4 1097.2h.9M295.2 1118.4h.9M306.9 1124.3h.9M294.7 1119.5h.9M295.2 1110.3h.9M292.3 1112.9h.9M272.8 1108.9h.9M296.9 1131.3h.9M290.5 1114.7h.9M307.2 1115.2h.9M304 1131.9h.9M293.4 1123h.9M289.9 1128h.9M291.1 1117.7h.9M289.7 1115.2h.9M285.4 1126.9h.9M301.3 1107.1h.9M298.1 1121.2h.9M272.9 1136.3h.9M291.7 1132.2h.9M293.1 1120.8h.9M299.1 1131.3h.9M291.1 1133h.9M300.9 1106.7h.9M300.9 1147.4h.9M296.2 1111.2h.9M277.7 1123.8h.9M288.2 1107.8h.9M283.9 1140.9h.9M297.5 1119.1h.9M293.4 1116.1h.9M296.1 1110.7h.9M277.1 1121.8h.9M308.3 1118.9h.9M286.8 1121.7h.9M301.8 1111.8h.9M318.6 1109.5h.9M289.9 1113.5h.9M296.1 1124.4h.9M299.3 1124.4h.9M287.4 1129.7h.9M296.9 1125.3h.9M288.7 1109.7h.9M280.2 1128.4h.9M312.7 1109h.9M308.6 1120h.9M285.8 1120.7h.9M296.5 1127.8h.9M295.1 1120.7h.9M289.6 1128.3h.9M309.8 1123.1h.9M296.2 1137.2h.9M287.9 1130h.9M314.3 1110.4h.9M297.1 1121.2h.9M305.6 1122.2h.9M315.5 1107.9h.9M286.8 1112.5h.9M295.7 1131h.9M300 1108.5h.9M277.8 1119.5h.9M299.8 1124.8h.9M300.4 1127.7h.9M273.7 1119.5h.9M284.6 1142.4h.9M292.3 1122.3h.9M292 1130.4h.9M292.5 1122.5h.9M319 1106.2h.9M293.1 1123.2h.9M304.1 1135.1h.9M291.8 1122.4h.9M278.7 1127.3h.9M313.6 1129.9h.9M291.6 1110h.9M312.7 1113.3h.9M301.7 1130h.9M303.8 1148.2h.9M315.4 1104.6h.9M299.1 1115.2h.9M294.8 1113.6h.9M302 1131.8h.9M309.7 1127.3h.9M302.7 1112.3h.9M298.7 1122.7h.9M298.6 1112.6h.9M283.5 1120.7h.9M293.8 1123.1h.9M277.8 1135.7h.9M298.8 1115.4h.9M302.8 1124.9h.9M301.9 1111.2h.9M288.4 1126.1h.9M315.3 1125.7h.9M300.8 1122.3h.9M311.4 1126.5h.9M277 1128.3h.9M327.5 1123h.9M297.6 1116h.9M295.9 1121.9h.9M312.7 1126.8h.9M293.1 1119.4h.9M304.4 1106.4h.9M314.9 1119.3h.9M288.1 1130.5h.9M320 1124h.9M328.4 1105.2h.9M287.5 1125.9h.9M292.7 1117.3h.9M297 1139.7h.9M291.9 1113.2h.9M279.9 1126h.9M298.7 1126.5h.9M296 1134.8h.9M297 1122.1h.9M296.9 1129.3h.9M296.6 1125.5h.9M290.5 1136.1h.9M301.3 1132.8h.9M310.1 1130.7h.9M279.7 1129h.9M301.8 1117h.9M298.6 1132.1h.9M300.4 1126.7h.9M301.4 1115.4h.9M321.2 1101.4h.9M312.3 1123h.9M299.5 1120.8h.9M280.5 1120.9h.9M291.7 1119.1h.9M287 1120.9h.9M277.7 1140.6h.9M276.3 1135.5h.9M289.6 1130.4h.9M308.3 1119.2h.9M291.8 1133.7h.9M292 1121.8h.9M311 1115h.9M283.4 1120.7h.9M290.7 1112.7h.9M305.6 1117h.9M295.7 1114.8h.9M295.2 1126.8h.9M311.7 1101.3h.9M277.5 1126.4h.9M290 1121.7h.9M324.1 1100.3h.9M302.6 1131.5h.9M303 1114.4h.9M305 1109.7h.9M317.4 1118.2h.9M307.2 1113.9h.9M273.2 1114.8h.9M276.7 1144.3h.9M303.9 1126.4h.9M303.7 1124.9h.9M288.4 1113.1h.9M286.3 1113h.9M320 1116.7h.9M311.2 1102.6h.9M296.4 1128.8h.9M290.4 1125.5h.9M275.8 1137.7h.9M287.7 1119.9h.9M294.2 1133.9h.9M287 1124.1h.9M278.4 1133h.9M306.7 1115.7h.9M297.2 1116.5h.9M281.5 1131.3h.9M290.9 1119.9h.9M303.5 1124.3h.9M310.5 1106.6h.9M297.3 1121.3h.9M287.6 1125.4h.9M299.6 1124.9h.9M283.4 1129.6h.9M291.3 1127h.9M284.8 1124.5h.9M309.3 1105h.9M310 1110.6h.9M285.5 1136h.9M286.5 1130h.9M300.4 1114.8h.9M310.9 1112.6h.9M301.7 1105h.9M294 1124.6h.9M316.2 1112.5h.9M304.5 1113.6h.9M304.5 1122.2h.9M291.4 1111h.9M302.1 1107.9h.9M301.7 1123.1h.9M301.6 1114.4h.9M287.7 1136h.9M289.7 1123h.9M310.4 1119h.9M305.3 1123.9h.9M285 1129.5h.9M295 1118.3h.9M283 1123.3h.9M293.7 1116.2h.9M307.7 1119.9h.9M297.9 1116.7h.9M282.3 1121.4h.9M298.2 1132h.9M290.1 1118.5h.9M279.6 1124.5h.9M291.8 1133.5h.9M307 1112.6h.9M324 1108.1h.9M313.2 1138.6h.9M295.9 1129.9h.9M292.5 1107.8h.9M291.3 1112.8h.9M286.2 1116.7h.9M307.7 1132.6h.9M298 1115.9h.9M306.1 1121.6h.9M292.3 1127.4h.9M287 1113.2h.9M309.6 1111.9h.9M306.4 1121.9h.9M304.5 1105.9h.9M296 1133.3h.9M297 1134.6h.9M287.4 1123.4h.9M293 1128.4h.9M286 1113.1h.9M298.6 1115.5h.9M298 1129.1h.9M285.8 1145.9h.9M314.7 1120.8h.9M308.2 1127.9h.9M296.8 1135.4h.9M284 1120.5h.9M288.4 1127.9h.9M290.8 1117.4h.9M276.6 1138.4h.9M296 1113.9h.9M280.5 1122.5h.9M293.7 1125.6h.9M281.4 1123.3h.9M278.4 1133h.9M301.3 1131.3h.9M293.8 1125.2h.9M276.3 1121.8h.9M299.8 1122.7h.9M303.5 1128.9h.9M302.3 1119.1h.9M295.9 1133.1h.9M298.3 1129.6h.9M290.5 1134.5h.9M310.5 1114.8h.9M275.2 1138h.9M296.6 1126h.9M299 1107.5h.9M290 1122h.9M301.9 1121.5h.9M303.6 1137.7h.9M301.5 1133.1h.9M277.6 1142.4h.9M293.3 1118.2h.9M294.9 1124.5h.9M336.5 1103.6h.9M321.2 1102.2h.9M302.3 1120.8h.9M302.3 1114.1h.9M299.8 1118.2h.9M327.3 1099.4h.9M313.1 1104.6h.9M318.9 1100.2h.9M310.6 1113.5h.9M294.7 1126h.9M305 1112.6h.9M308.7 1113.4h.9M320.4 1098.4h.9M306.8 1107.4h.9M307.1 1118.3h.9M317.2 1109.4h.9M302.9 1104h.9M309 1109.1h.9M319.3 1103.7h.9M311.5 1107.8h.9M316.4 1105.6h.9M310 1110.8h.9M320.2 1106.3h.9M302.8 1115.2h.9M311.3 1101.2h.9M317 1102.6h.9M306.9 1112.6h.9M305.8 1105.6h.9M313.3 1104.9h.9M317 1106.9h.9M303.3 1112.6h.9M322.9 1101.7h.9M313.7 1115.4h.9M322.9 1102h.9M308.4 1101.8h.9M307.7 1109.5h.9M308.7 1104.2h.9M309.3 1116.7h.9M305.7 1110.9h.9M322.6 1096.1h.9M311 1104.6h.9M304.6 1114.6h.9M328.3 1095.6h.9M321.8 1099.5h.9M321.7 1104.3h.9M296.4 1120.9h.9M297.9 1116.7h.9M314.5 1098.7h.9M313.2 1112.3h.9M302 1116h.9M312.9 1107.2h.9M325.6 1104.8h.9M314 1105.4h.9M303.4 1109.6h.9M310.8 1105.3h.9M310.3 1112.8h.9M324.7 1099.6h.9M309.9 1112.7h.9M311.7 1106.3h.9M311.4 1109.7h.9M323.1 1107h.9M328.7 1096.9h.9M319.9 1105.9h.9M312.4 1107.6h.9M312.8 1102h.9M323.3 1104.1h.9M295.4 1113.5h.9M312.1 1103.5h.9M315.3 1109.2h.9M328 1094.8h.9M307.6 1105.6h.9M314.9 1109.4h.9M309.8 1106.3h.9M316.6 1102.4h.9M318.4 1107.2h.9M304.6 1113.4h.9M317 1101h.9M313.8 1108.1h.9M309.5 1113h.9M302.2 1108h.9M308.5 1111.3h.9M308.2 1109.9h.9M318 1109.7h.9M315.3 1109.6h.9M312.6 1103.3h.9M312.8 1104.3h.9M315.2 1105.5h.9M309.6 1111.3h.9M312.1 1102.7h.9M321.6 1100.7h.9M316.2 1112.1h.9M296.3 1124.9h.9M307.6 1112.6h.9M326.9 1093.5h.9M309.8 1108.9h.9M305.4 1109.2h.9M301.4 1122.3h.9M311.6 1104.9h.9M288.3 1128.1h.9M309.2 1117h.9M310.6 1106.1h.9M313.5 1099.4h.9M321.3 1101h.9M301.2 1113.1h.9M306.7 1106.6h.9M310 1111.1h.9M299.6 1114h.9M313.4 1109h.9M307.1 1123.8h.9M305.2 1105.4h.9M326.5 1099.3h.9M326.7 1097.6h.9M314.1 1103.2h.9M308.5 1118.1h.9M311.9 1104.1h.9M304 1113.1h.9M310.3 1108h.9M305.5 1108.3h.9M294.7 1115.7h.9M312.4 1104.8h.9M330.3 1097.1h.9M309.9 1111.7h.9M323.5 1096.4h.9M305 1107.2h.9M323.8 1098h.9M322.9 1102.8h.9M323.1 1095.8h.9M307.4 1119.4h.9M304.8 1112.7h.9M298.8 1117.2h.9M310.6 1103h.9M317.3 1105.5h.9M317 1113.2h.9M307.3 1107.6h.9M315.4 1100.4h.9M308.6 1103.8h.9M311.8 1102.9h.9M314.4 1102.3h.9M311.3 1101.3h.9M323.2 1102.9h.9M303.5 1116.5h.9M315.3 1113.3h.9M327.6 1097.5h.9M324.7 1096.5h.9M318 1101.9h.9M317.5 1110.9h.9M313.7 1104h.9M315.5 1105.8h.9M293.3 1121.6h.9M309.2 1107.2h.9M313.6 1102.5h.9M316.3 1107.7h.9M316 1106h.9M305.2 1104.3h.9M315.2 1105.1h.9M306 1124.9h.9M322.4 1099.2h.9M298.5 1119.3h.9M320.4 1107.2h.9M305.6 1110.1h.9M305.6 1115.7h.9M316.5 1105.6h.9M310.3 1106.2h.9M316.1 1107.2h.9M305.1 1108.3h.9M314.4 1110.2h.9M307.7 1115.6h.9M324 1106.7h.9M310.7 1111.4h.9M301.2 1118h.9M319.2 1099.1h.9M314.6 1106.5h.9M298.7 1115.8h.9M313.3 1100.1h.9M323 1093.7h.9M317.6 1109.8h.9M303.4 1111.7h.9M312.1 1101.8h.9M304.9 1106.9h.9M304.9 1107.7h.9M323.3 1104.8h.9M296.4 1117.8h.9M324.9 1107.3h.9M313.6 1098.9h.9M295.1 1120h.9M310.8 1101.8h.9M312.4 1104.5h.9M300.9 1118h.9M319.5 1091.3h.9M302.8 1105.6h.9M304.7 1112.2h.9M313.7 1111.2h.9M312.1 1111.1h.9M307.6 1102.7h.9M299.7 1114.7h.9M310.8 1109.3h.9M323.6 1096.2h.9M313.6 1118.4h.9M308.7 1110.1h.9M317.2 1104.5h.9M314.4 1111.5h.9M311.8 1106.3h.9M300.9 1113.3h.9M319.6 1103.7h.9M296.5 1121.7h.9M324.9 1100.2h.9M287.7 1127.6h.9M313 1107.8h.9M319.8 1108.2h.9M326 1105.4h.9M311 1109.4h.9M314.6 1108.6h.9M317.7 1108.2h.9M303.2 1110.2h.9M304.7 1118.6h.9M328.2 1094.9h.9M304.5 1104.5h.9M312.2 1117h.9M305.3 1108.8h.9M300.7 1124.3h.9M312 1104.9h.9M321.3 1097.6h.9M310.8 1106.1h.9M307.9 1114.7h.9M311.3 1116.2h.9M306.9 1110.4h.9M305.5 1114.2h.9M315.5 1098.5h.9M326.6 1087.4h.9M310.9 1098.6h.9M317.2 1098.6h.9M319 1097.9h.9M314.9 1108.3h.9M317.5 1100.9h.9M322.3 1103.2h.9M310.8 1103.7h.9M319.8 1100.4h.9M328.3 1101.1h.9M309.9 1113.8h.9M307.5 1114.7h.9M323.7 1096.7h.9M303.8 1116.6h.9M309.2 1111.8h.9M318 1109.1h.9M313.7 1106.7h.9M310.7 1105.8h.9M306.1 1104.6h.9M305.1 1109h.9M333.9 1091.2h.9M300.4 1115h.9M316.6 1104.9h.9M340.2 1087.9h.9M323.3 1104.2h.9M313.4 1093.9h.9M311.4 1104.5h.9M291.9 1126.3h.9M306.8 1109.9h.9M310.2 1114.3h.9M315 1108.3h.9M306.2 1107.9h.9M316.5 1094.4h.9M327 1098.8h.9M307.2 1104.6h.9M308.4 1110.8h.9M310.5 1111.9h.9M324.6 1102h.9M320.9 1105.4h.9M310.9 1098.2h.9M325.1 1107h.9M304.9 1115.2h.9M321.8 1098.7h.9M314.5 1103.2h.9M304.3 1112.4h.9M305.8 1110.4h.9M324.8 1098.4h.9M324.2 1099.8h.9M322.8 1104.2h.9M315 1110.5h.9M311.3 1095.8h.9M322.4 1100.9h.9M324.1 1098.7h.9M304 1105.6h.9M304.5 1112h.9M315.3 1094.4h.9M317.6 1102h.9M318.8 1105h.9M310.2 1113.5h.9M302.6 1115.2h.9M321 1107.6h.9M315.9 1107.2h.9M307.3 1111.6h.9M310 1101.2h.9M319.3 1099.7h.9M299.3 1116.5h.9M318.2 1105h.9M318.2 1111.8h.9M310.5 1106.1h.9M323.9 1101.6h.9M320.4 1106.2h.9M326.7 1104.1h.9M334.4 1076.2h.9M343.5 1060.9h.9M343.5 1060.4h.9M342 1052.8h.9M332 1064.6h.9M342.4 1063.2h.9M343.8 1068.4h.9M342 1062.1h.9M348 1046.5h.9M339.1 1047.4h.9M333.4 1070.4h.9M343.1 1063h.9M338.3 1069h.9M341.7 1065.8h.9M336.1 1067.8h.9M336.2 1066.9h.9M339.6 1086h.9M341.3 1082.6h.9M335.3 1079.3h.9M344.7 1033.4h.9M343.2 1044.8h.9M341.2 1074.7h.9M339.1 1074h.9M342.6 1044.1h.9M339.7 1037.2h.9M342 1073.6h.9M334.5 1055.2h.9M331.3 1063.3h.9M342 1077.1h.9M341.1 1063.8h.9M335.4 1055.3h.9M337.1 1066.6h.9M336 1063.4h.9M338.4 1064.4h.9M331.5 1087.2h.9M335.8 1053.4h.9M337.9 1065.9h.9M335.9 1056.3h.9M343.1 1070.4h.9M336.6 1081.8h.9M330 1087.4h.9M340.5 1054.4h.9M345.5 1077.2h.9M347.1 1035.8h.9M330.4 1064.5h.9M337.7 1049.3h.9M346.6 1065.8h.9M343 1063h.9M339 1045.8h.9M346.5 1082.8h.9M345.2 1064.7h.9M343.1 1073.3h.9M342.7 1051.3h.9M329.4 1055.9h.9M342.9 1055.2h.9M358.3 1029.4h.9M339.9 1048h.9M337.6 1039.3h.9M351.9 1068.3h.9M345.3 1071h.9M338 1052.9h.9M349 1066.3h.9M332.6 1077.1h.9M335.8 1067.1h.9M337 1061.4h.9M344.1 1064.7h.9M343.1 1077.5h.9M345.5 1069.2h.9M338.8 1087.7h.9M335.7 1068.9h.9M340.9 1050.5h.9M351.2 1052h.9M333.7 1075.3h.9M343.5 1053.3h.9M338.6 1060.8h.9M337.5 1068.9h.9M338.8 1043.5h.9M330 1077.4h.9M341.6 1064.2h.9M333.8 1047.8h.9M336.6 1053.2h.9M341.6 1042.4h.9M349.2 1047h.9M339.9 1047.8h.9M343 1066.8h.9M334.7 1058.3h.9M348.5 1064.5h.9M331.3 1074.9h.9M340.1 1068.9h.9M347.2 1061.7h.9M346.7 1080h.9M336.4 1053.7h.9M344 1044.6h.9M347.7 1053.3h.9M342.8 1058.5h.9M336.6 1053.3h.9M345.1 1052.9h.9M344.5 1061.1h.9M333.5 1077.8h.9M334.3 1039h.9M336.2 1057.7h.9M345.7 1046.9h.9M328.9 1077.7h.9M354.6 1041.9h.9M337.5 1071.4h.9M340.5 1049.6h.9M345 1032.3h.9M330.2 1071.1h.9M346 1060.4h.9M341.5 1082.4h.9M325.7 1082.9h.9M350 1066.9h.9M339.5 1064.4h.9M329.9 1075.3h.9M338.1 1065.1h.9M337.2 1052.8h.9M340.9 1068.2h.9M339.8 1052.8h.9M328 1064h.9M343.6 1031.2h.9M341.6 1048.6h.9M339.1 1053.9h.9M348.5 1072.2h.9M347.8 1074.1h.9M335.2 1078h.9M337.2 1053.6h.9M350 1073.1h.9M333.1 1048.9h.9M331.9 1063h.9M343.6 1054.8h.9M356.5 1043.7h.9M346.6 1065.6h.9M346 1055.1h.9M333 1048.9h.9M341.3 1079h.9M332.4 1071.7h.9M346.9 1055.6h.9M337.8 1068.9h.9M339.9 1079.6h.9M331.1 1073h.9M347.8 1043h.9M335.6 1071.2h.9M338.9 1041.8h.9M335.3 1043.7h.9M337.1 1062.1h.9M351.6 1041.3h.9M335.8 1055.8h.9M328.5 1055.7h.9M342.2 1051.1h.9M331.8 1054.7h.9M345.5 1081.1h.9M345.3 1053.7h.9M357.7 1024.8h.9M339.5 1047.3h.9M342.1 1053.9h.9M328.3 1070h.9M344.5 1047.8h.9M340.3 1063.9h.9M349.7 1063h.9M345.5 1077.7h.9M337.5 1053.3h.9M343.1 1067.9h.9M341.4 1059h.9M343.8 1067.9h.9M339.7 1045.6h.9M343.1 1046.4h.9M338.2 1078.3h.9M348.5 1039.1h.9M339.3 1057.4h.9M349.1 1053.3h.9M338.3 1088.1h.9M339 1058.4h.9M341.9 1063.3h.9M343.7 1042.8h.9M328 1082.5h.9M345 1064.7h.9M330.8 1092.8h.9M336.2 1083.9h.9M333.3 1053.2h.9M331.7 1052.8h.9M342.9 1077.3h.9M336.5 1050.2h.9M353.3 1050.4h.9M334.3 1055.7h.9M333.4 1089.3h.9M343.6 1077.6h.9M337 1064.4h.9M343.2 1063.6h.9M331 1071.2h.9M338.4 1055.3h.9M348.1 1058.1h.9M340 1075.7h.9M336.4 1060.6h.9M336 1079h.9M339.6 1051.3h.9M346 1062.3h.9M344.9 1051.2h.9M345.5 1078.3h.9M349.6 1061.4h.9M351 1025.5h.9M344 1048.5h.9M331 1085.1h.9M343.8 1058.9h.9M333.5 1067.4h.9M350.5 1030.3h.9M343.3 1055.5h.9M333.1 1083.9h.9M332.3 1061h.9M342.4 1065.9h.9M352 1043.4h.9M338.5 1070.1h.9M347 1037.3h.9M326 1053.9h.9M340.8 1068.9h.9M352.8 1079.1h.9M351.8 1049.3h.9M338.3 1051.9h.9M338.7 1074h.9M341.3 1065.3h.9M341.2 1062.5h.9M334.7 1058.3h.9M340.7 1071.3h.9M326.1 1082.9h.9M348.2 1051h.9M331 1051.9h.9M347.1 1081.5h.9M332.1 1057.5h.9M340 1078.1h.9M340 1080h.9M347.7 1064.1h.9M370.8 1096.4h.9M369.5 1047.3h.9M370.2 1060.9h.9M364.8 1090.9h.9M366.8 1094.7h.9M370.9 1068.6h.9M369.4 1058.3h.9M373.9 1066.2h.9M369.5 1088.8h.9M373.8 1058.9h.9M369.9 1048.3h.9M365.9 1074.5h.9M372.4 1051.9h.9M366.5 1072.2h.9M368.1 1095.5h.9M372.9 1087.1h.9M370.3 1050.1h.9M361.7 1065.9h.9M372 1064h.9M370.1 1085.5h.9M358.1 1081.1h.9M367.5 1061.4h.9M371.9 1063.2h.9M368.5 1056.4h.9M372.3 1050.9h.9M368.5 1082.9h.9M365.2 1092.1h.9M365 1076.5h.9M366.8 1050.8h.9M360.1 1078.5h.9M368.7 1082.3h.9M365.3 1080.6h.9M369 1056.1h.9M363.9 1072.2h.9M374.9 1057.4h.9M366.8 1079.4h.9M371.3 1074.8h.9M374.9 1070.3h.9M370.9 1072.6h.9M370.3 1053.6h.9M360.8 1060.1h.9M366.5 1076.2h.9M361.4 1083.5h.9M367.8 1082.1h.9M367.6 1060.6h.9M370.3 1054.9h.9M376.2 1079.7h.9M373.5 1046.8h.9M368.5 1048.3h.9M363.4 1062.3h.9M376.1 1044h.9M370.6 1045.7h.9M368.1 1066.7h.9M372.8 1051.2h.9M363.8 1083h.9M369.7 1091.8h.9M371.2 1057.4h.9M364.9 1064.3h.9M370.4 1092h.9M375.7 1032.8h.9M367.2 1086.9h.9M371.8 1036.1h.9M369.3 1071.7h.9M368.9 1093.3h.9M372.3 1044.8h.9M364.2 1063.3h.9M363.7 1047.3h.9M365.5 1084.4h.9M366.6 1090.8h.9M372.7 1064.3h.9M365.1 1074h.9M363.5 1093.5h.9M364.7 1065.9h.9M371.7 1077.5h.9M365.4 1063.1h.9M367.7 1062.1h.9M371.1 1065h.9M372.8 1047.8h.9M365.3 1068.8h.9M364.1 1045.8h.9M372.5 1057.3h.9M362.8 1075.6h.9M370.3 1046.4h.9M372.2 1054.6h.9M369.6 1079.1h.9M371.9 1073.3h.9M369.7 1053.1h.9M365.1 1082.3h.9M366.1 1080.2h.9M367.8 1080.8h.9M359.5 1083.6h.9M355.6 1097.8h.9M370 1074.9h.9M371.8 1044.8h.9M369.4 1075h.9M369.3 1062h.9M364.7 1086.4h.9M367.4 1078.4h.9M374.3 1051.8h.9M367.2 1070.3h.9M370.5 1078.7h.9M365 1079.3h.9M372.7 1061.6h.9M364.2 1062.5h.9M362.5 1082.8h.9M363.6 1068.9h.9M360.5 1064.8h.9M369.5 1079.5h.9M373.8 1076h.9M374.7 1058.6h.9M368.4 1055.6h.9M371 1063.3h.9M375.3 1063.4h.9M372.6 1067.5h.9M371.9 1079.5h.9M360.7 1098.4h.9M367.4 1074.7h.9M368.2 1105.9h.9M363.6 1073.6h.9M368.5 1053.9h.9M367.9 1057.2h.9M367.7 1081.3h.9M373.8 1070.5h.9M373.6 1051.7h.9M358.7 1085.4h.9M356.4 1087.6h.9M376.3 1051h.9M363.9 1064.9h.9M378.5 1048.7h.9M376.6 1079.3h.9M365.8 1084h.9M379.1 1068.3h.9M372.5 1092.4h.9M363.9 1091h.9M361.7 1092.2h.9M367.2 1068.3h.9M368.4 1062.9h.9M369.3 1045.5h.9M373.8 1047h.9M356.9 1103.6h.9M368.9 1072.7h.9M359.6 1065.8h.9M371.5 1073h.9M372.2 1079.7h.9M363.3 1104.4h.9M368.2 1075.2h.9M366.1 1081.1h.9M360.9 1093.4h.9M362.2 1078.6h.9M374.4 1075.8h.9M372.9 1058.6h.9M371 1061.2h.9M369.8 1079.9h.9M369.8 1065.6h.9M361.3 1077.2h.9M365.1 1078.1h.9M365.3 1073.5h.9M361.2 1083.8h.9M368.6 1060.7h.9M367.9 1077.7h.9M371.2 1051.7h.9M371.3 1053.8h.9M367.7 1077.2h.9M372.5 1106.9h.9M368.4 1063.3h.9M368.7 1069.5h.9M373.8 1057.7h.9M361.7 1082.1h.9M370.2 1061.6h.9M373.8 1069.2h.9M370.8 1061h.9M363.5 1061.3h.9M373.7 1077.2h.9M368 1074.8h.9M364 1094.3h.9M362.9 1063.8h.9M377.5 1038.5h.9M375.8 1058.4h.9M365.9 1077h.9M374.9 1041.9h.9M367.1 1043.9h.9M368.9 1052.1h.9M375.8 1038.7h.9M374.4 1057.6h.9M373.1 1054.2h.9M374.2 1040.4h.9M366.6 1067.8h.9M367.5 1071.9h.9M363.3 1066.9h.9M368.9 1090.7h.9M371.4 1092.2h.9M367.7 1040.3h.9M371 1107.7h.9M366.6 1073.8h.9M361 1094.7h.9M364.9 1096h.9M365 1056.4h.9M363.6 1049.9h.9M371.3 1059h.9M371.6 1054.2h.9M336.1 1086.6h.9M341 1103.7h.9M381.3 1076h.9M350.2 1090.3h.9M334.7 1106.1h.9M347.8 1042.7h.9M382.2 1078.2h.9M330.5 1087.8h.9M355.9 1116.3h.9M336.6 1096.1h.9M349 1094.4h.9M357.8 1067.1h.9M365.5 1086.4h.9M362.8 1071.7h.9M361.4 1047.2h.9M340.3 1054.9h.9M365.6 1094.6h.9M364.5 1086h.9M368.1 1064.7h.9M365.4 1062.2h.9M367.4 1074h.9M363.6 1039.9h.9M353.6 1083.5h.9M362.9 1063.7h.9M367.5 1069.2h.9M355.6 1063.9h.9M356 1070.4h.9M385.5 1079.9h.9M338.9 1081.3h.9M350 1100.8h.9M365.6 1023.3h.9M386.5 1072h.9M367.9 1049.6h.9M343.4 1085.5h.9M343.7 1077.7h.9M369.3 1056.2h.9M345 1056.9h.9M361.9 1092.2h.9M345 1086.9h.9M340 1085.1h.9M328.6 1067h.9M351.4 1106.7h.9M359.6 1115h.9M338.7 1055.3h.9M322 1081.4h.9M338.8 1068.9h.9M350.1 1077.7h.9M333.5 1063.1h.9M364.2 1097.1h.9M354.7 1079.9h.9M335 1080.6h.9M341.4 1095.8h.9M357.9 1067.8h.9M367 1055.7h.9M335.4 1087.2h.9M368.9 1071.3h.9M344.2 1114.8h.9M347 1085.3h.9M374.8 1082.1h.9M373.5 1073.5h.9M327.8 1078h.9M334.5 1061.4h.9M320.5 1046.8h.9M360 1075h.9M364.6 1051.7h.9M365.6 1068.2h.9M349.1 1079.3h.9M356.4 1054h.9M369.9 1011.3h.9M386.7 1109.2h.9M334.5 1058.4h.9M347.4 1066.2h.9M338.1 1074.6h.9M355.2 1069.4h.9M362.2 1076.4h.9M338.7 1044.3h.9M349.5 1061.1h.9M357.4 1078.1h.9M338.8 1078.4h.9M358.9 1061.6h.9M344.8 1062.9h.9M348.6 1085.6h.9M347.7 1071.1h.9M324.5 1095.9h.9M338.2 1043.5h.9M348.7 1066.9h.9M358 1088.6h.9M346.4 1084.4h.9M361.3 1052.8h.9M366 1083.2h.9M345.9 1064h.9M336.5 1070.6h.9M350.3 1083.6h.9M374.8 1093.4h.9M360.8 1080.4h.9M350 1065.4h.9M332.2 1098.9h.9M352.6 1063.4h.9M345.3 1066.1h.9M332 1080.1h.9M305.7 1131.7h.9M320.8 1086.2h.9M284.3 1148.7h.9M329.1 1090.2h.9M340.4 1077.2h.9M309.8 1122.8h.9M331.4 1080.1h.9M317.3 1097h.9M339.1 1119.7h.9M346.6 1127.3h.9M359.8 1114.9h.9M375.7 1097.9h.9M287 1120.9h.9M376.1 1140.6h.9M340.9 1127.8h.9M274.7 1140.3h.9M293.2 1135.5h.9M376.9 1099h.9M366.1 1099.6h.9M302.4 1116.3h.9M272.4 1083.1h.9M337.7 1129.4h.9M303.8 1124.3h.9M337.9 1148.2h.9M347.1 1137.1h.9" stroke="#ff0a0a" stroke-width="0.9" fill="none" stroke-opacity="0.85"/>
<line x1="327.5" y1="984.5" x2="327.5" y2="1155.1" stroke="#555" stroke-width="1"/>
<line x1="271.1" y1="1097.3" x2="418.8" y2="1097.3" stroke="#111" stroke-width="1.3"/>
<rect x="271.1" y="984.5" width="147.7" height="170.6" fill="none" stroke="#333" stroke-width="0.9"/>
<path d="M266.6 1003.3H271.1M266.6 1045.3H271.1M266.6 1087.9H271.1M266.6 1130.5H271.1M268.7 990.7H271.1M268.7 1032.7H271.1M268.7 1025.3H271.1M268.7 1020H271.1M268.7 1015.9H271.1M268.7 1012.6H271.1M268.7 1009.8H271.1M268.7 1007.4H271.1M268.7 1005.2H271.1M268.7 1074.7H271.1M268.7 1067.3H271.1M268.7 1062H271.1M268.7 1057.9H271.1M268.7 1054.6H271.1M268.7 1051.8H271.1M268.7 1049.4H271.1M268.7 1047.2H271.1M268.7 1116.7H271.1M268.7 1109.3H271.1M268.7 1104H271.1M268.7 1099.9H271.1M268.7 1096.6H271.1M268.7 1093.8H271.1M268.7 1091.4H271.1M268.7 1089.2H271.1M268.7 1151.3H271.1M268.7 1146H271.1M268.7 1141.9H271.1M268.7 1138.6H271.1M268.7 1135.8H271.1M268.7 1133.4H271.1M268.7 1131.2H271.1M292.2 1155.1V1159.6M328.5 1155.1V1159.6M365.4 1155.1V1159.6M402 1155.1V1159.6M273.2 1155.1V1157.5M277.8 1155.1V1157.5M281.3 1155.1V1157.5M284.1 1155.1V1157.5M286.6 1155.1V1157.5M288.7 1155.1V1157.5M290.5 1155.1V1157.5M303.1 1155.1V1157.5M309.5 1155.1V1157.5M314.1 1155.1V1157.5M317.6 1155.1V1157.5M320.4 1155.1V1157.5M322.9 1155.1V1157.5M325 1155.1V1157.5M326.8 1155.1V1157.5M339.4 1155.1V1157.5M345.8 1155.1V1157.5M350.4 1155.1V1157.5M353.9 1155.1V1157.5M356.7 1155.1V1157.5M359.2 1155.1V1157.5M361.3 1155.1V1157.5M363.1 1155.1V1157.5M375.7 1155.1V1157.5M382.1 1155.1V1157.5M386.7 1155.1V1157.5M390.2 1155.1V1157.5M393 1155.1V1157.5M395.5 1155.1V1157.5M397.6 1155.1V1157.5M399.4 1155.1V1157.5M412 1155.1V1157.5" stroke="#222" stroke-width="0.7" fill="none"/>
<text x="244.5" y="1016.6" font-size="12.6" textLength="12.4" lengthAdjust="spacingAndGlyphs">10</text>
<text x="257.3" y="1009.2" font-size="6.8">5</text>
<text x="244.5" y="1058.6" font-size="12.6" textLength="12.4" lengthAdjust="spacingAndGlyphs">10</text>
<text x="257.3" y="1051.2" font-size="6.8">4</text>
<text x="244.5" y="1101.2" font-size="12.6" textLength="12.4" lengthAdjust="spacingAndGlyphs">10</text>
<text x="257.3" y="1093.8" font-size="6.8">3</text>
<text x="244.5" y="1143.8" font-size="12.6" textLength="12.4" lengthAdjust="spacingAndGlyphs">10</text>
<text x="257.3" y="1136.4" font-size="6.8">2</text>
<text x="277.6" y="1179.9" font-size="12.6" textLength="12.4" lengthAdjust="spacingAndGlyphs">10</text>
<text x="290.4" y="1172.5" font-size="6.8">2</text>
<text x="313.9" y="1179.9" font-size="12.6" textLength="12.4" lengthAdjust="spacingAndGlyphs">10</text>
<text x="326.7" y="1172.5" font-size="6.8">3</text>
<text x="350.8" y="1179.9" font-size="12.6" textLength="12.4" lengthAdjust="spacingAndGlyphs">10</text>
<text x="363.6" y="1172.5" font-size="6.8">4</text>
<text x="387.4" y="1179.9" font-size="12.6" textLength="12.4" lengthAdjust="spacingAndGlyphs">10</text>
<text x="400.2" y="1172.5" font-size="6.8">5</text>
<text x="413.1" y="1005" font-size="17" text-anchor="end" textLength="43" lengthAdjust="spacingAndGlyphs">15.3%</text>
<text x="410.8" y="1145.4" font-size="17" text-anchor="end" textLength="33.6" lengthAdjust="spacingAndGlyphs">2.4%</text>
<text x="304" y="1084.9" font-size="6.3" text-anchor="middle" textLength="17.4" lengthAdjust="spacingAndGlyphs" font-weight="normal" fill="#222">Q1-2</text>
<text x="350.3" y="1084.9" font-size="6.3" text-anchor="middle" textLength="17.4" lengthAdjust="spacingAndGlyphs" font-weight="normal" fill="#222">Q2-2</text>
<text x="304" y="1116.1" font-size="6.3" text-anchor="middle" textLength="17.4" lengthAdjust="spacingAndGlyphs" font-weight="normal" fill="#222">Q3-2</text>
<text x="350.3" y="1116.1" font-size="6.3" text-anchor="middle" textLength="17.4" lengthAdjust="spacingAndGlyphs" font-weight="normal" fill="#222">Q4-2</text>
</g>
<line x1="505.7" y1="718" x2="505.7" y2="877.4" stroke="#000" stroke-width="2.4"/>
<line x1="499.5" y1="876.3" x2="630.5" y2="876.3" stroke="#000" stroke-width="2.4"/>
<line x1="499.5" y1="719.1" x2="505.7" y2="719.1" stroke="#000" stroke-width="2.2"/>
<text x="492.3" y="724" font-size="14.5" text-anchor="end">50</text>
<line x1="499.5" y1="751" x2="505.7" y2="751" stroke="#000" stroke-width="2.2"/>
<text x="492.3" y="755.9" font-size="14.5" text-anchor="end">40</text>
<line x1="499.5" y1="782.3" x2="505.7" y2="782.3" stroke="#000" stroke-width="2.2"/>
<text x="492.3" y="787.2" font-size="14.5" text-anchor="end">30</text>
<line x1="499.5" y1="813.5" x2="505.7" y2="813.5" stroke="#000" stroke-width="2.2"/>
<text x="492.3" y="818.4" font-size="14.5" text-anchor="end">20</text>
<line x1="499.5" y1="845.1" x2="505.7" y2="845.1" stroke="#000" stroke-width="2.2"/>
<text x="492.3" y="850" font-size="14.5" text-anchor="end">10</text>
<line x1="499.5" y1="876.3" x2="505.7" y2="876.3" stroke="#000" stroke-width="2.2"/>
<text x="492.3" y="881.2" font-size="14.5" text-anchor="end">0</text>
<line x1="536.6" y1="747.4" x2="536.6" y2="751.8" stroke="#000" stroke-width="2.6"/>
<line x1="528.6" y1="747.4" x2="544.6" y2="747.4" stroke="#000" stroke-width="2.6"/>
<rect x="520.8" y="752.1" width="31.6" height="123.9" fill="#fff" stroke="#000" stroke-width="2.6" rx="0.4"/>
<line x1="598.6" y1="806.4" x2="598.6" y2="810.6" stroke="#000" stroke-width="2.6"/>
<line x1="590.6" y1="806.4" x2="606.6" y2="806.4" stroke="#000" stroke-width="2.6"/>
<rect x="583.1" y="810.9" width="31.1" height="65.1" fill="#000" stroke="#000" stroke-width="2.6" rx="0.9"/>
<text x="598.4" y="804.6" font-size="18" text-anchor="middle" textLength="19.2" lengthAdjust="spacingAndGlyphs" font-weight="normal">* *</text>
<line x1="536.4" y1="876.3" x2="536.4" y2="881.5" stroke="#000" stroke-width="2"/>
<line x1="598.3" y1="876.3" x2="598.3" y2="881.5" stroke="#000" stroke-width="2"/>
<text x="567.4" y="724.3" font-size="17" text-anchor="middle" textLength="63.8" lengthAdjust="spacingAndGlyphs">HCT116</text>
<text x="456.7" y="797.7" font-size="16.6" text-anchor="middle" transform="rotate(-90 456.7 797.7)" textLength="121" lengthAdjust="spacingAndGlyphs">% of Apoptosis</text>
<text x="548.3" y="894" font-size="13.7" text-anchor="end" transform="rotate(-45 548.3 894)">pWPXL</text>
<text x="602" y="896" font-size="13.7" text-anchor="end" transform="rotate(-45 602 896)">LINC00152</text>
<line x1="506.6" y1="976.7" x2="506.6" y2="1142.8" stroke="#000" stroke-width="2.4"/>
<line x1="500.5" y1="1141.7" x2="634.8" y2="1141.7" stroke="#000" stroke-width="2.4"/>
<line x1="500.5" y1="977.8" x2="506.6" y2="977.8" stroke="#000" stroke-width="2.2"/>
<text x="492.3" y="982.7" font-size="14.5" text-anchor="end">20</text>
<line x1="500.5" y1="1019.1" x2="506.6" y2="1019.1" stroke="#000" stroke-width="2.2"/>
<text x="492.3" y="1024" font-size="14.5" text-anchor="end">15</text>
<line x1="500.5" y1="1059.7" x2="506.6" y2="1059.7" stroke="#000" stroke-width="2.2"/>
<text x="492.3" y="1064.6" font-size="14.5" text-anchor="end">10</text>
<line x1="500.5" y1="1101" x2="506.6" y2="1101" stroke="#000" stroke-width="2.2"/>
<text x="492.3" y="1105.9" font-size="14.5" text-anchor="end">5</text>
<line x1="500.5" y1="1141.7" x2="506.6" y2="1141.7" stroke="#000" stroke-width="2.2"/>
<text x="492.3" y="1146.6" font-size="14.5" text-anchor="end">0</text>
<line x1="538.4" y1="1041.8" x2="538.4" y2="1054.3" stroke="#000" stroke-width="2.6"/>
<line x1="530.4" y1="1041.8" x2="546.4" y2="1041.8" stroke="#000" stroke-width="2.6"/>
<rect x="521.9" y="1054.6" width="33" height="86.8" fill="#fff" stroke="#000" stroke-width="2.6" rx="0.4"/>
<line x1="602.2" y1="993.2" x2="602.2" y2="1006.2" stroke="#000" stroke-width="2.6"/>
<line x1="594.2" y1="993.2" x2="610.2" y2="993.2" stroke="#000" stroke-width="2.6"/>
<rect x="586.1" y="1006.5" width="32.2" height="134.9" fill="#000" stroke="#000" stroke-width="2.6" rx="0.9"/>
<text x="601.9" y="992.6" font-size="17" text-anchor="middle" font-weight="normal">*</text>
<line x1="538.1" y1="1141.7" x2="538.1" y2="1147" stroke="#000" stroke-width="2"/>
<line x1="601.9" y1="1141.7" x2="601.9" y2="1147" stroke="#000" stroke-width="2"/>
<text x="558.4" y="977.7" font-size="16.5" text-anchor="middle" textLength="42.8" lengthAdjust="spacingAndGlyphs" font-weight="normal" stroke="#000" stroke-width="0.5">LoVo</text>
<text x="456.7" y="1059.6" font-size="16.6" text-anchor="middle" transform="rotate(-90 456.7 1059.6)" textLength="121" lengthAdjust="spacingAndGlyphs">% of Apoptosis</text>
<text x="548.5" y="1160.3" font-size="13.9" text-anchor="end" transform="rotate(-45 548.5 1160.3)">Si-NC</text>
<text x="605" y="1162" font-size="13.7" text-anchor="end" transform="rotate(-45 605 1162)">Si-LINC00152</text>
</g>
</svg></body></html>
